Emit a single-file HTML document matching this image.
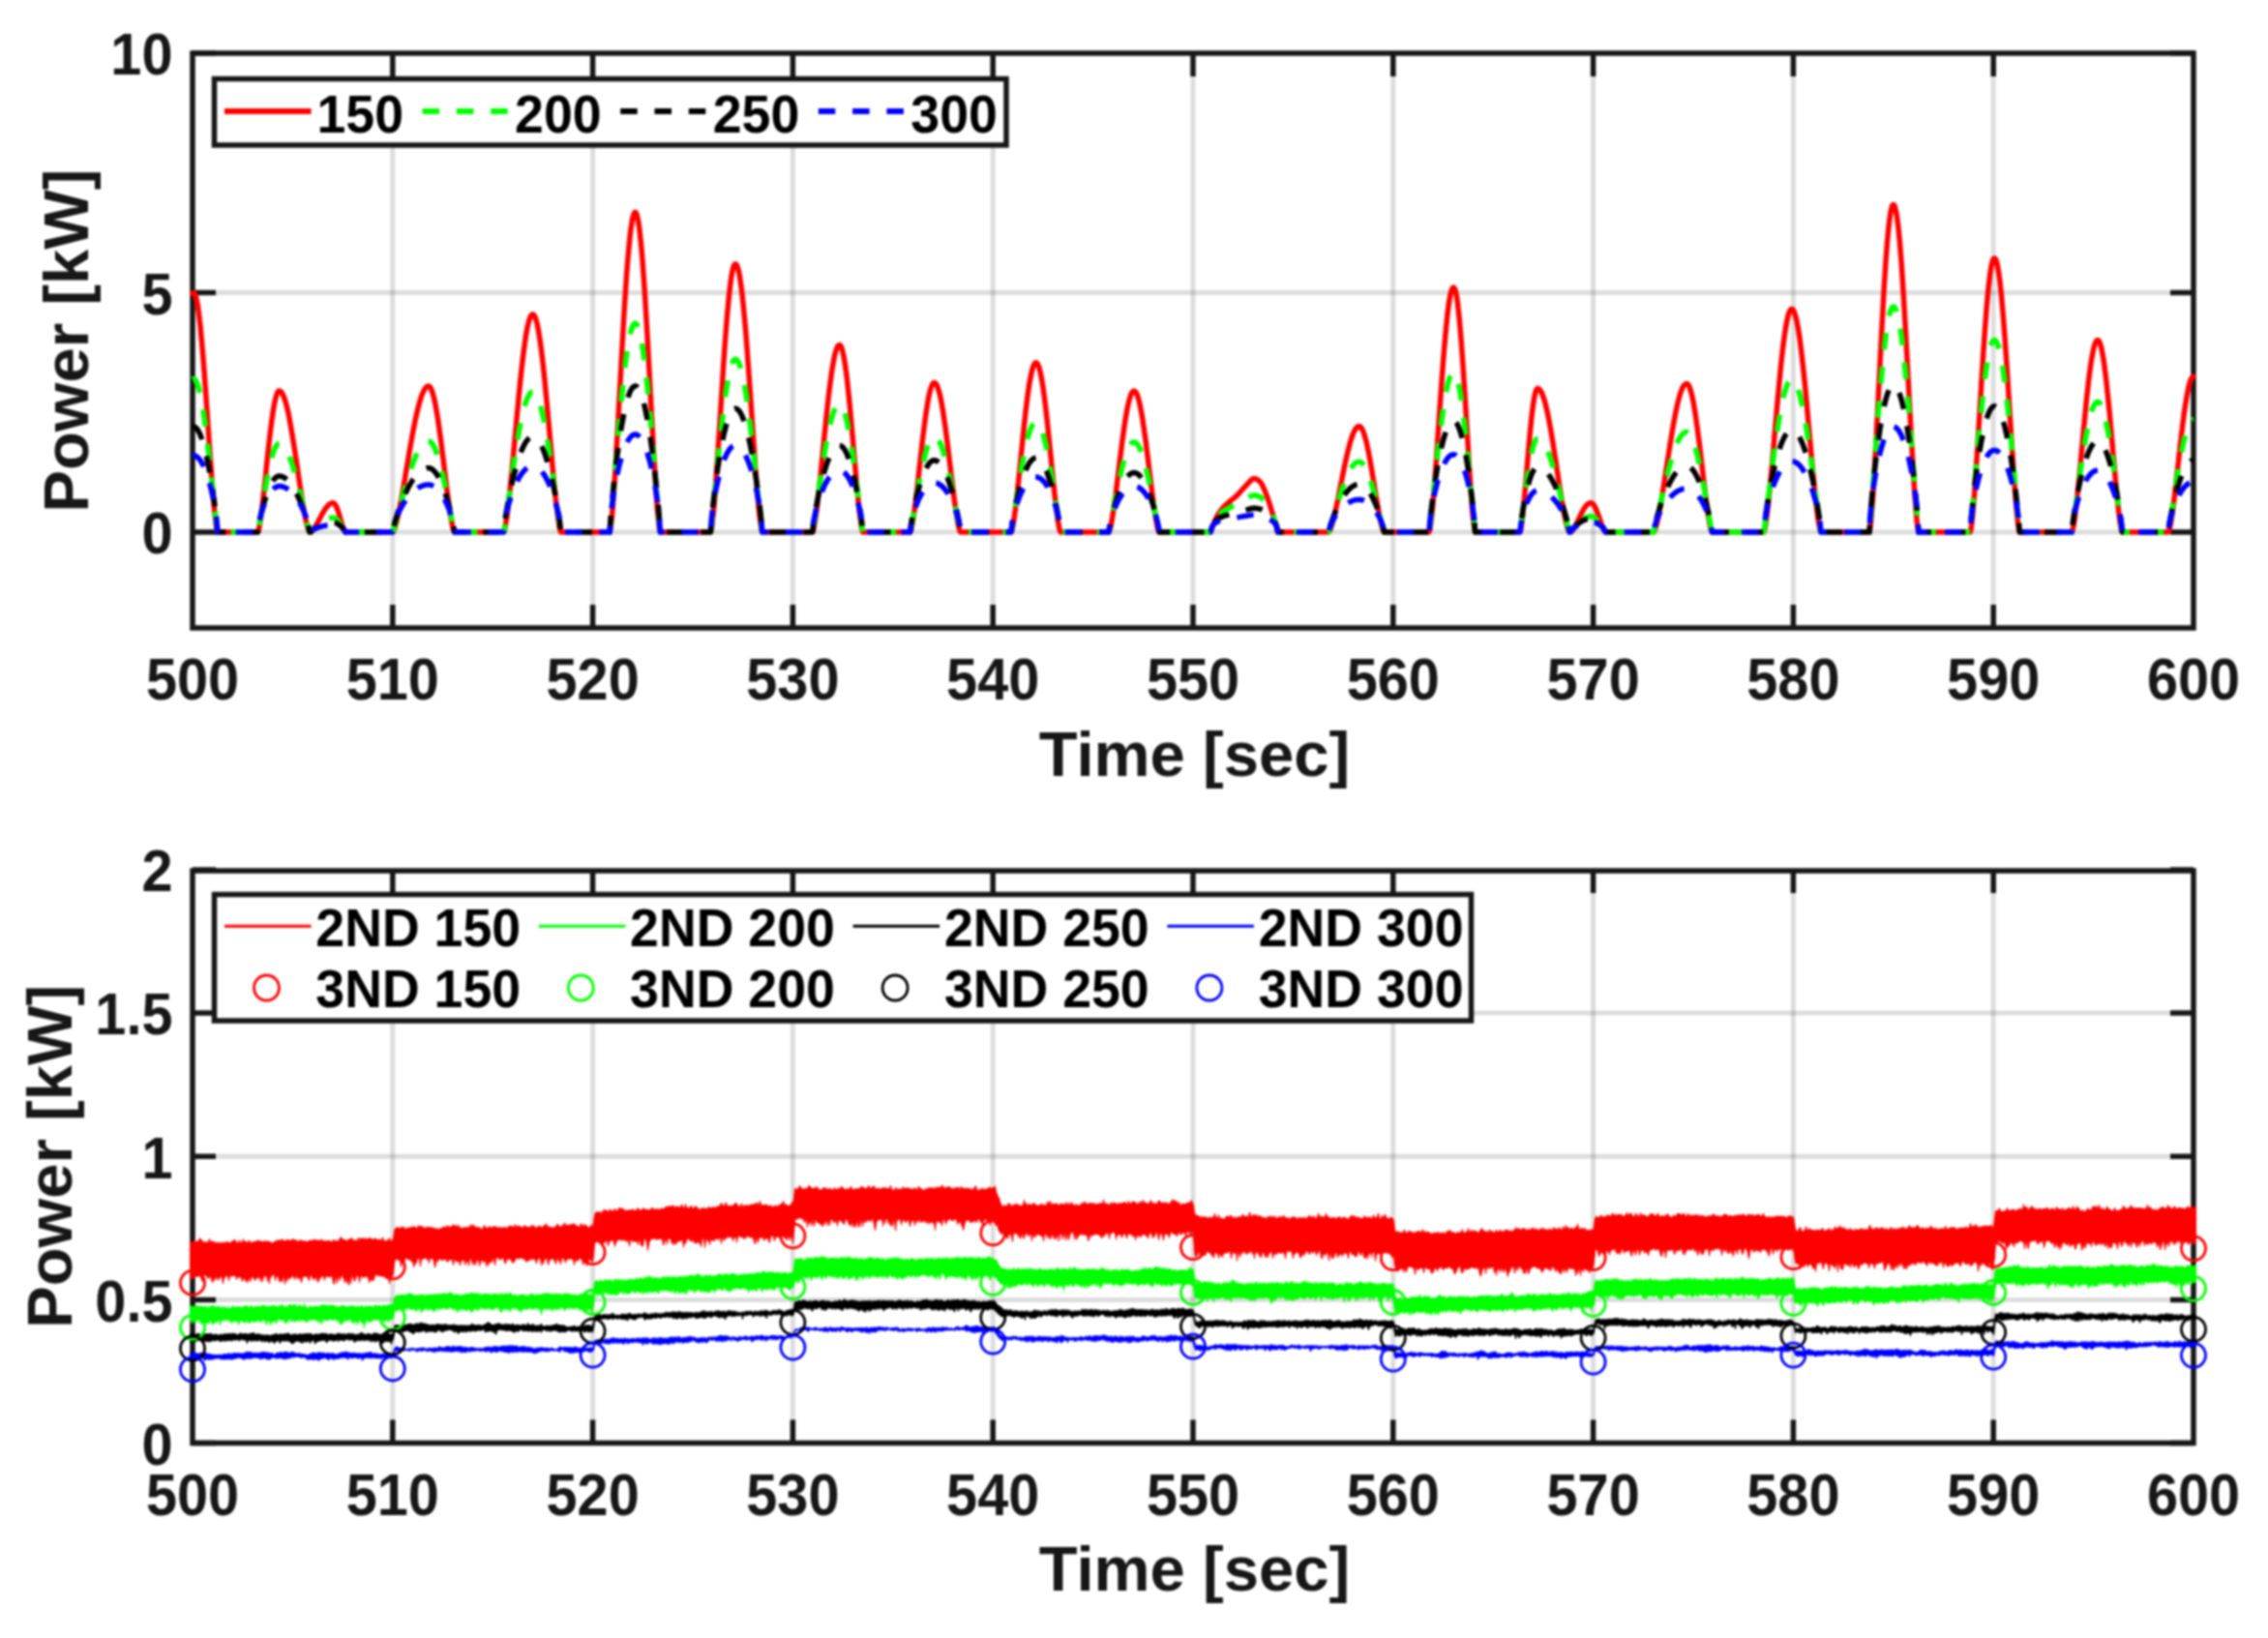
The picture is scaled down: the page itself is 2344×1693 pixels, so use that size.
<!DOCTYPE html>
<html><head><meta charset="utf-8"><style>
html,body{margin:0;padding:0;background:#fff;overflow:hidden;}
svg{display:block;filter:blur(1px);}
</style></head><body>
<svg width="2344" height="1693" viewBox="0 0 2344 1693">
<rect width="2344" height="1693" fill="#fff"/>
<g stroke="#262626" stroke-opacity="0.155" stroke-width="5" fill="none"><path d="M405.8 55.0V649.0"/><path d="M612.6 55.0V649.0"/><path d="M819.4 55.0V649.0"/><path d="M1026.2 55.0V649.0"/><path d="M1233.0 55.0V649.0"/><path d="M1439.8 55.0V649.0"/><path d="M1646.6 55.0V649.0"/><path d="M1853.4 55.0V649.0"/><path d="M2060.2 55.0V649.0"/><path d="M199.0 550.0H2267.0"/><path d="M199.0 302.5H2267.0"/></g>
<g stroke="#262626" stroke-opacity="0.155" stroke-width="5" fill="none"><path d="M405.8 899.0V1491.5"/><path d="M612.6 899.0V1491.5"/><path d="M819.4 899.0V1491.5"/><path d="M1026.2 899.0V1491.5"/><path d="M1233.0 899.0V1491.5"/><path d="M1439.8 899.0V1491.5"/><path d="M1646.6 899.0V1491.5"/><path d="M1853.4 899.0V1491.5"/><path d="M2060.2 899.0V1491.5"/><path d="M199.0 1343.4H2267.0"/><path d="M199.0 1195.2H2267.0"/><path d="M199.0 1047.1H2267.0"/></g>
<path d="M405.8 649.0V625.0M405.8 55.0V79.0M612.6 649.0V625.0M612.6 55.0V79.0M819.4 649.0V625.0M819.4 55.0V79.0M1026.2 649.0V625.0M1026.2 55.0V79.0M1233.0 649.0V625.0M1233.0 55.0V79.0M1439.8 649.0V625.0M1439.8 55.0V79.0M1646.6 649.0V625.0M1646.6 55.0V79.0M1853.4 649.0V625.0M1853.4 55.0V79.0M2060.2 649.0V625.0M2060.2 55.0V79.0M199.0 550.0H223.0M2267.0 550.0H2243.0M199.0 302.5H223.0M2267.0 302.5H2243.0M199.0 55.0H223.0M2267.0 55.0H2243.0" stroke="#171717" stroke-width="5.5" fill="none"/>
<rect x="199.0" y="55.0" width="2068.0" height="594.0" stroke="#171717" stroke-width="5.5" fill="none" stroke-linejoin="miter"/>
<path d="M405.8 1491.5V1467.5M405.8 899.0V923.0M612.6 1491.5V1467.5M612.6 899.0V923.0M819.4 1491.5V1467.5M819.4 899.0V923.0M1026.2 1491.5V1467.5M1026.2 899.0V923.0M1233.0 1491.5V1467.5M1233.0 899.0V923.0M1439.8 1491.5V1467.5M1439.8 899.0V923.0M1646.6 1491.5V1467.5M1646.6 899.0V923.0M1853.4 1491.5V1467.5M1853.4 899.0V923.0M2060.2 1491.5V1467.5M2060.2 899.0V923.0M199.0 1491.5H223.0M2267.0 1491.5H2243.0M199.0 1343.4H223.0M2267.0 1343.4H2243.0M199.0 1195.2H223.0M2267.0 1195.2H2243.0M199.0 1047.1H223.0M2267.0 1047.1H2243.0M199.0 899.0H223.0M2267.0 899.0H2243.0" stroke="#171717" stroke-width="5.5" fill="none"/>
<rect x="199.0" y="900.0" width="2068.0" height="591.5" stroke="#171717" stroke-width="5.5" fill="none" stroke-linejoin="miter"/>
<g fill="none" stroke-width="5.5" stroke-linejoin="round"><path d="M199.0 303.3L199.4 302.8L199.9 302.5L200.3 302.5L200.7 302.9L201.2 303.4L201.6 304.3L202.0 305.4L202.4 306.8L202.9 308.5L203.3 310.4L203.7 312.6L204.2 315.0L204.6 317.7L205.0 320.7L205.5 323.9L205.9 327.3L206.3 331.0L206.8 334.8L207.2 338.9L207.6 343.2L208.0 347.7L208.5 352.4L208.9 357.3L209.3 362.4L209.8 367.6L210.2 372.9L210.6 378.4L211.1 384.0L211.5 389.8L211.9 395.7L212.4 401.6L212.8 407.7L213.2 413.8L213.6 420.0L214.1 426.2L214.5 432.4L214.9 438.7L215.4 445.0L215.8 451.3L216.2 457.5L216.7 463.7L217.1 469.9L217.5 476.0L218.0 482.0L218.4 487.9L218.8 493.7L219.2 499.4L219.7 504.9L220.1 510.2L220.5 515.4L221.0 520.4L221.4 525.1L221.8 529.6L222.3 533.7L222.7 537.6L223.1 541.1L223.6 544.2L224.0 546.8L224.4 548.9L224.8 550.0L266.4 550.0L267.3 547.7L268.2 543.4L269.1 538.0L270.0 531.7L270.9 524.6L271.8 517.0L272.7 508.9L273.6 500.6L274.5 492.1L275.3 483.5L276.2 474.9L277.1 466.4L278.0 458.2L278.9 450.3L279.8 442.8L280.7 435.8L281.6 429.3L282.5 423.5L283.4 418.3L284.3 413.9L285.2 410.2L286.1 407.4L286.9 405.4L287.8 404.2L288.7 404.0L289.6 404.3L290.5 405.0L291.4 406.2L292.3 407.8L293.2 409.8L294.1 412.3L295.0 415.1L295.9 418.3L296.8 421.8L297.7 425.7L298.6 430.0L299.4 434.5L300.3 439.3L301.2 444.4L302.1 449.7L303.0 455.2L303.9 460.9L304.8 466.7L305.7 472.6L306.6 478.7L307.5 484.7L308.4 490.8L309.3 496.8L310.2 502.8L311.1 508.6L311.9 514.3L312.8 519.9L313.7 525.1L314.6 530.1L315.5 534.8L316.4 539.1L317.3 542.9L318.2 546.1L319.1 548.6L320.0 550.0L321.0 550.0L321.6 549.8L322.2 549.3L322.8 548.7L323.4 548.0L324.0 547.3L324.6 546.4L325.2 545.5L325.8 544.5L326.4 543.5L327.0 542.5L327.6 541.4L328.2 540.3L328.8 539.2L329.4 538.0L330.0 536.9L330.6 535.8L331.2 534.6L331.8 533.5L332.4 532.4L333.0 531.3L333.6 530.2L334.2 529.2L334.8 528.2L335.4 527.2L336.0 526.3L336.6 525.4L337.2 524.6L337.8 523.9L338.4 523.2L339.0 522.5L339.6 521.9L340.2 521.4L340.8 521.0L341.4 520.6L342.0 520.3L342.6 520.1L343.2 519.9L343.8 519.8L344.4 519.8L345.0 520.0L345.6 520.5L346.2 521.2L346.8 522.1L347.4 523.2L348.0 524.6L348.6 526.1L349.2 527.7L349.8 529.5L350.4 531.4L351.0 533.4L351.6 535.5L352.2 537.5L352.8 539.6L353.4 541.6L354.0 543.5L354.6 545.3L355.2 546.9L355.8 548.3L356.4 549.4L357.0 550.0L405.8 550.0L406.9 548.6L407.9 545.9L409.0 542.5L410.1 538.5L411.1 534.0L412.2 529.1L413.3 523.8L414.3 518.2L415.4 512.4L416.5 506.4L417.5 500.3L418.6 494.0L419.6 487.7L420.7 481.3L421.8 475.0L422.8 468.7L423.9 462.5L425.0 456.5L426.0 450.6L427.1 444.8L428.2 439.4L429.2 434.1L430.3 429.1L431.4 424.5L432.4 420.2L433.5 416.2L434.6 412.6L435.6 409.4L436.7 406.6L437.8 404.2L438.8 402.3L439.9 400.8L440.9 399.7L442.0 399.2L443.1 399.1L444.1 399.7L445.2 401.2L446.3 403.6L447.3 406.8L448.4 410.8L449.5 415.6L450.5 421.1L451.6 427.2L452.7 434.0L453.7 441.2L454.8 449.0L455.9 457.1L456.9 465.5L458.0 474.1L459.1 482.8L460.1 491.5L461.2 500.2L462.2 508.6L463.3 516.7L464.4 524.4L465.4 531.5L466.5 537.9L467.6 543.4L468.6 547.7L469.7 550.0L520.6 550.0L521.6 547.4L522.5 542.5L523.5 536.3L524.5 529.1L525.5 520.9L526.5 512.1L527.5 502.6L528.5 492.7L529.4 482.4L530.4 471.9L531.4 461.1L532.4 450.3L533.4 439.5L534.4 428.8L535.4 418.3L536.3 408.0L537.3 398.0L538.3 388.4L539.3 379.3L540.3 370.8L541.3 362.8L542.3 355.5L543.2 348.8L544.2 342.9L545.2 337.8L546.2 333.5L547.2 330.0L548.2 327.4L549.2 325.7L550.1 324.9L551.1 324.9L552.1 326.0L553.1 327.9L554.1 330.8L555.1 334.6L556.1 339.3L557.0 344.9L558.0 351.2L559.0 358.3L560.0 366.2L561.0 374.7L562.0 383.7L563.0 393.4L563.9 403.4L564.9 413.8L565.9 424.6L566.9 435.5L567.9 446.6L568.9 457.8L569.9 468.8L570.8 479.7L571.8 490.4L572.8 500.7L573.8 510.5L574.8 519.7L575.8 528.2L576.8 535.8L577.7 542.2L578.7 547.2L579.7 550.0L630.2 550.0L631.0 546.1L631.9 539.0L632.8 529.8L633.7 519.0L634.5 507.0L635.4 493.8L636.3 479.9L637.1 465.2L638.0 450.0L638.9 434.3L639.7 418.5L640.6 402.5L641.5 386.6L642.3 370.8L643.2 355.2L644.1 340.1L644.9 325.4L645.8 311.3L646.7 298.0L647.5 285.4L648.4 273.8L649.3 263.0L650.2 253.4L651.0 244.8L651.9 237.4L652.8 231.2L653.6 226.3L654.5 222.7L655.4 220.4L656.2 219.4L657.1 219.7L658.0 221.5L658.8 224.6L659.7 229.0L660.6 234.8L661.4 241.8L662.3 250.1L663.2 259.5L664.1 270.0L664.9 281.6L665.8 294.1L666.7 307.4L667.5 321.5L668.4 336.3L669.3 351.5L670.1 367.2L671.0 383.3L671.9 399.4L672.7 415.7L673.6 431.8L674.5 447.7L675.3 463.3L676.2 478.2L677.1 492.5L677.9 505.9L678.8 518.3L679.7 529.3L680.6 538.7L681.4 546.0L682.3 550.0L734.4 550.0L735.3 546.5L736.2 540.1L737.1 531.8L738.0 522.1L738.9 511.3L739.7 499.6L740.6 487.1L741.5 474.0L742.4 460.4L743.3 446.6L744.2 432.6L745.1 418.6L746.0 404.6L746.9 390.8L747.7 377.4L748.6 364.4L749.5 351.9L750.4 340.1L751.3 329.0L752.2 318.7L753.1 309.3L754.0 300.8L754.9 293.4L755.7 287.0L756.6 281.8L757.5 277.7L758.4 274.9L759.3 273.2L760.2 272.8L761.1 273.5L762.0 275.3L762.9 278.1L763.8 281.9L764.6 286.7L765.5 292.5L766.4 299.2L767.3 306.8L768.2 315.2L769.1 324.4L770.0 334.4L770.9 345.0L771.8 356.2L772.6 367.9L773.5 380.0L774.4 392.5L775.3 405.2L776.2 418.1L777.1 431.1L778.0 444.1L778.9 457.0L779.8 469.6L780.6 481.9L781.5 493.7L782.4 504.9L783.3 515.5L784.2 525.2L785.1 533.8L786.0 541.1L786.9 546.9L787.8 550.0L839.7 550.0L840.5 547.9L841.4 544.1L842.3 539.2L843.1 533.4L844.0 527.0L844.9 519.9L845.7 512.4L846.6 504.5L847.5 496.2L848.4 487.7L849.2 479.1L850.1 470.3L851.0 461.5L851.8 452.8L852.7 444.1L853.6 435.5L854.4 427.2L855.3 419.1L856.2 411.3L857.0 403.9L857.9 396.9L858.8 390.3L859.6 384.2L860.5 378.7L861.4 373.7L862.2 369.3L863.1 365.5L864.0 362.4L864.9 359.9L865.7 358.0L866.6 356.9L867.5 356.5L868.3 356.8L869.2 358.0L870.1 360.2L870.9 363.3L871.8 367.2L872.7 371.9L873.5 377.5L874.4 383.8L875.3 390.8L876.1 398.5L877.0 406.7L877.9 415.5L878.8 424.7L879.6 434.2L880.5 444.1L881.4 454.1L882.2 464.2L883.1 474.4L884.0 484.4L884.8 494.3L885.7 503.8L886.6 513.0L887.4 521.6L888.3 529.5L889.2 536.6L890.0 542.7L890.9 547.4L891.8 550.0L940.6 550.0L941.5 548.0L942.3 544.5L943.2 539.9L944.1 534.5L944.9 528.4L945.8 521.9L946.7 514.9L947.5 507.6L948.4 500.0L949.3 492.3L950.1 484.5L951.0 476.7L951.9 468.9L952.7 461.2L953.6 453.7L954.5 446.5L955.4 439.5L956.2 432.9L957.1 426.8L958.0 421.0L958.8 415.8L959.7 411.1L960.6 406.9L961.4 403.4L962.3 400.5L963.2 398.3L964.0 396.7L964.9 395.8L965.8 395.6L966.6 396.0L967.5 397.0L968.4 398.5L969.2 400.7L970.1 403.4L971.0 406.6L971.9 410.3L972.7 414.6L973.6 419.3L974.5 424.4L975.3 430.0L976.2 435.9L977.1 442.1L977.9 448.6L978.8 455.4L979.7 462.3L980.5 469.4L981.4 476.6L982.3 483.8L983.1 491.1L984.0 498.2L984.9 505.2L985.7 512.1L986.6 518.7L987.5 524.9L988.4 530.8L989.2 536.2L990.1 541.0L991.0 545.1L991.8 548.3L992.7 550.0L1045.0 550.0L1045.9 547.9L1046.7 544.1L1047.6 539.2L1048.4 533.5L1049.3 527.1L1050.1 520.1L1051.0 512.6L1051.8 504.8L1052.7 496.7L1053.5 488.4L1054.4 480.0L1055.2 471.4L1056.1 463.0L1056.9 454.6L1057.8 446.3L1058.6 438.2L1059.5 430.5L1060.3 423.0L1061.2 415.9L1062.0 409.3L1062.9 403.1L1063.7 397.5L1064.6 392.4L1065.5 387.9L1066.3 384.0L1067.2 380.8L1068.0 378.2L1068.9 376.4L1069.7 375.2L1070.6 374.8L1071.4 375.1L1072.3 376.0L1073.1 377.8L1074.0 380.2L1074.8 383.3L1075.7 387.1L1076.5 391.5L1077.4 396.5L1078.2 402.1L1079.1 408.3L1079.9 414.9L1080.8 422.0L1081.6 429.4L1082.5 437.2L1083.3 445.3L1084.2 453.6L1085.0 462.1L1085.9 470.6L1086.7 479.2L1087.6 487.7L1088.4 496.1L1089.3 504.3L1090.1 512.2L1091.0 519.7L1091.8 526.8L1092.7 533.3L1093.5 539.1L1094.4 544.0L1095.2 547.9L1096.1 550.0L1145.9 550.0L1146.8 548.3L1147.7 545.1L1148.5 541.0L1149.4 536.2L1150.3 530.8L1151.1 524.9L1152.0 518.7L1152.9 512.1L1153.8 505.3L1154.6 498.4L1155.5 491.3L1156.4 484.2L1157.2 477.1L1158.1 470.1L1159.0 463.2L1159.8 456.5L1160.7 450.0L1161.6 443.7L1162.4 437.8L1163.3 432.3L1164.2 427.2L1165.0 422.5L1165.9 418.3L1166.8 414.6L1167.7 411.4L1168.5 408.7L1169.4 406.7L1170.3 405.2L1171.1 404.3L1172.0 404.0L1172.9 404.3L1173.7 405.2L1174.6 406.7L1175.5 408.7L1176.3 411.4L1177.2 414.6L1178.1 418.3L1178.9 422.5L1179.8 427.2L1180.7 432.3L1181.5 437.8L1182.4 443.7L1183.3 450.0L1184.2 456.5L1185.0 463.2L1185.9 470.1L1186.8 477.1L1187.6 484.2L1188.5 491.3L1189.4 498.4L1190.2 505.3L1191.1 512.1L1192.0 518.7L1192.8 524.9L1193.7 530.8L1194.6 536.2L1195.4 541.0L1196.3 545.1L1197.2 548.3L1198.1 550.0L1251.2 550.0L1252.4 546.7L1253.5 543.5L1254.7 540.6L1255.8 537.9L1257.0 535.5L1258.1 533.2L1259.3 531.1L1260.5 529.3L1261.6 527.7L1262.8 526.2L1263.9 524.8L1265.1 523.6L1266.3 522.4L1267.4 521.4L1268.6 520.4L1269.7 519.4L1270.9 518.4L1272.0 517.4L1273.2 516.5L1274.4 515.5L1275.5 514.6L1276.7 513.6L1277.8 512.6L1279.0 511.5L1280.2 510.3L1281.3 509.0L1282.5 507.7L1283.6 506.3L1284.8 505.0L1285.9 503.8L1287.1 502.6L1288.3 501.4L1289.4 500.1L1290.6 498.8L1291.7 497.5L1292.9 496.4L1294.0 495.4L1295.2 494.8L1296.4 494.6L1297.5 494.7L1298.7 495.2L1299.8 495.9L1301.0 496.9L1302.2 497.9L1303.3 499.3L1304.5 501.2L1305.6 503.7L1306.8 506.3L1307.9 509.1L1309.1 512.0L1310.3 515.2L1311.4 518.7L1312.6 522.4L1313.7 526.1L1314.9 529.9L1316.1 533.7L1317.2 537.6L1318.4 541.6L1319.5 545.8L1320.7 550.0L1373.2 550.0L1374.2 548.9L1375.1 546.8L1376.1 544.1L1377.0 541.0L1378.0 537.4L1378.9 533.6L1379.9 529.5L1380.8 525.1L1381.8 520.6L1382.8 516.0L1383.7 511.2L1384.7 506.4L1385.6 501.5L1386.6 496.7L1387.5 491.9L1388.5 487.1L1389.4 482.5L1390.4 477.9L1391.4 473.6L1392.3 469.4L1393.3 465.4L1394.2 461.6L1395.2 458.2L1396.1 454.9L1397.1 452.0L1398.0 449.4L1399.0 447.1L1399.9 445.1L1400.9 443.5L1401.9 442.2L1402.8 441.3L1403.8 440.8L1404.7 440.6L1405.7 440.9L1406.6 441.8L1407.6 443.2L1408.5 445.1L1409.5 447.6L1410.4 450.5L1411.4 454.0L1412.4 457.8L1413.3 462.1L1414.3 466.7L1415.2 471.6L1416.2 476.9L1417.1 482.4L1418.1 488.0L1419.0 493.8L1420.0 499.7L1420.9 505.6L1421.9 511.5L1422.9 517.2L1423.8 522.8L1424.8 528.2L1425.7 533.3L1426.7 537.9L1427.6 542.1L1428.6 545.7L1429.5 548.5L1430.5 550.0L1477.0 550.0L1477.8 547.2L1478.6 542.2L1479.4 535.7L1480.2 528.0L1481.0 519.5L1481.8 510.1L1482.6 500.2L1483.4 489.6L1484.2 478.7L1485.0 467.5L1485.7 456.1L1486.5 444.5L1487.3 432.9L1488.1 421.3L1488.9 409.9L1489.7 398.6L1490.5 387.7L1491.3 377.1L1492.1 366.9L1492.9 357.2L1493.7 348.1L1494.5 339.5L1495.3 331.6L1496.0 324.5L1496.8 318.1L1497.6 312.5L1498.4 307.7L1499.2 303.8L1500.0 300.7L1500.8 298.6L1501.6 297.4L1502.4 297.1L1503.2 297.9L1504.0 299.8L1504.8 303.0L1505.6 307.2L1506.4 312.6L1507.1 319.0L1507.9 326.4L1508.7 334.8L1509.5 344.0L1510.3 354.1L1511.1 364.9L1511.9 376.3L1512.7 388.3L1513.5 400.7L1514.3 413.5L1515.1 426.4L1515.9 439.5L1516.7 452.7L1517.5 465.6L1518.2 478.3L1519.0 490.7L1519.8 502.4L1520.6 513.5L1521.4 523.7L1522.2 532.8L1523.0 540.6L1523.8 546.7L1524.6 550.0L1570.9 550.0L1571.8 547.0L1572.6 541.7L1573.5 534.8L1574.3 526.8L1575.2 518.0L1576.0 508.6L1576.9 498.7L1577.7 488.7L1578.6 478.5L1579.4 468.5L1580.3 458.7L1581.1 449.3L1582.0 440.4L1582.8 432.3L1583.7 424.8L1584.5 418.3L1585.4 412.8L1586.2 408.3L1587.1 404.9L1587.9 402.6L1588.8 401.6L1589.6 401.6L1590.5 402.0L1591.3 402.8L1592.2 403.9L1593.0 405.4L1593.9 407.3L1594.7 409.5L1595.6 412.0L1596.5 414.9L1597.3 418.0L1598.2 421.5L1599.0 425.2L1599.9 429.3L1600.7 433.5L1601.6 438.1L1602.4 442.8L1603.3 447.7L1604.1 452.8L1605.0 458.0L1605.8 463.4L1606.7 468.9L1607.5 474.4L1608.4 480.0L1609.2 485.6L1610.1 491.2L1610.9 496.8L1611.8 502.3L1612.6 507.8L1613.5 513.0L1614.3 518.2L1615.2 523.2L1616.0 527.9L1616.9 532.4L1617.7 536.5L1618.6 540.3L1619.4 543.7L1620.3 546.6L1621.1 548.8L1622.0 550.0L1623.2 550.0L1623.8 549.7L1624.4 549.2L1625.0 548.5L1625.6 547.7L1626.2 546.8L1626.9 545.8L1627.5 544.7L1628.1 543.6L1628.7 542.4L1629.3 541.2L1629.9 540.0L1630.5 538.7L1631.1 537.5L1631.7 536.2L1632.3 534.9L1632.9 533.7L1633.5 532.4L1634.1 531.2L1634.7 530.0L1635.3 528.9L1635.9 527.8L1636.5 526.7L1637.1 525.7L1637.7 524.8L1638.3 524.0L1638.9 523.2L1639.5 522.4L1640.1 521.8L1640.7 521.3L1641.3 520.8L1641.9 520.4L1642.5 520.1L1643.1 519.9L1643.7 519.8L1644.3 519.8L1644.9 520.0L1645.5 520.3L1646.2 520.8L1646.8 521.4L1647.4 522.3L1648.0 523.2L1648.6 524.3L1649.2 525.6L1649.8 526.9L1650.4 528.4L1651.0 529.9L1651.6 531.5L1652.2 533.2L1652.8 534.9L1653.4 536.6L1654.0 538.4L1654.6 540.1L1655.2 541.8L1655.8 543.4L1656.4 544.9L1657.0 546.3L1657.6 547.6L1658.2 548.7L1658.8 549.5L1659.4 550.0L1709.1 550.0L1710.1 548.5L1711.1 545.7L1712.1 542.1L1713.1 537.9L1714.1 533.1L1715.1 527.9L1716.1 522.4L1717.1 516.6L1718.1 510.5L1719.1 504.2L1720.1 497.7L1721.1 491.2L1722.1 484.6L1723.1 478.0L1724.2 471.4L1725.2 464.9L1726.2 458.5L1727.2 452.2L1728.2 446.1L1729.2 440.3L1730.2 434.7L1731.2 429.4L1732.2 424.4L1733.2 419.7L1734.2 415.4L1735.2 411.6L1736.2 408.1L1737.2 405.0L1738.2 402.4L1739.2 400.3L1740.3 398.6L1741.3 397.4L1742.3 396.8L1743.3 396.6L1744.3 397.0L1745.3 398.4L1746.3 400.5L1747.3 403.5L1748.3 407.2L1749.3 411.6L1750.3 416.8L1751.3 422.5L1752.3 428.9L1753.3 435.9L1754.3 443.2L1755.3 451.0L1756.4 459.1L1757.4 467.5L1758.4 476.0L1759.4 484.6L1760.4 493.2L1761.4 501.6L1762.4 509.9L1763.4 517.8L1764.4 525.2L1765.4 532.1L1766.4 538.3L1767.4 543.6L1768.4 547.7L1769.4 550.0L1822.8 550.0L1823.8 547.1L1824.8 542.0L1825.8 535.3L1826.7 527.4L1827.7 518.7L1828.7 509.1L1829.7 499.0L1830.7 488.4L1831.7 477.3L1832.7 466.1L1833.6 454.6L1834.6 443.2L1835.6 431.7L1836.6 420.5L1837.6 409.4L1838.6 398.7L1839.6 388.3L1840.5 378.5L1841.5 369.2L1842.5 360.5L1843.5 352.6L1844.5 345.3L1845.5 338.9L1846.5 333.4L1847.4 328.7L1848.4 324.9L1849.4 322.1L1850.4 320.3L1851.4 319.4L1852.4 319.5L1853.4 320.5L1854.3 322.5L1855.3 325.3L1856.3 329.0L1857.3 333.5L1858.3 338.8L1859.3 345.0L1860.3 351.8L1861.2 359.4L1862.2 367.6L1863.2 376.4L1864.2 385.7L1865.2 395.5L1866.2 405.7L1867.2 416.2L1868.1 426.9L1869.1 437.8L1870.1 448.8L1871.1 459.8L1872.1 470.7L1873.1 481.4L1874.1 491.9L1875.0 502.0L1876.0 511.6L1877.0 520.5L1878.0 528.8L1879.0 536.2L1880.0 542.4L1881.0 547.3L1881.9 550.0L1932.0 550.0L1932.8 545.8L1933.7 538.1L1934.5 528.3L1935.4 516.7L1936.2 503.8L1937.1 489.7L1937.9 474.8L1938.8 459.1L1939.6 442.8L1940.5 426.2L1941.3 409.4L1942.2 392.5L1943.0 375.6L1943.9 359.0L1944.7 342.8L1945.6 327.0L1946.4 311.8L1947.2 297.4L1948.1 283.8L1948.9 271.1L1949.8 259.4L1950.6 248.8L1951.5 239.5L1952.3 231.4L1953.2 224.6L1954.0 219.2L1954.9 215.2L1955.7 212.6L1956.6 211.5L1957.4 211.8L1958.3 213.4L1959.1 216.4L1960.0 220.6L1960.8 226.1L1961.7 232.8L1962.5 240.7L1963.4 249.8L1964.2 259.9L1965.1 271.1L1965.9 283.1L1966.7 296.0L1967.6 309.7L1968.4 324.1L1969.3 339.0L1970.1 354.4L1971.0 370.1L1971.8 386.0L1972.7 402.1L1973.5 418.2L1974.4 434.2L1975.2 449.8L1976.1 465.1L1976.9 479.8L1977.8 493.8L1978.6 507.0L1979.5 519.0L1980.3 529.8L1981.2 539.0L1982.0 546.1L1982.9 550.0L2036.2 550.0L2037.1 546.5L2037.9 540.1L2038.8 531.9L2039.6 522.3L2040.5 511.6L2041.3 499.9L2042.2 487.4L2043.0 474.4L2043.9 460.9L2044.7 447.1L2045.6 433.1L2046.4 419.0L2047.3 405.0L2048.1 391.1L2049.0 377.6L2049.8 364.4L2050.7 351.7L2051.5 339.6L2052.4 328.2L2053.2 317.6L2054.1 307.8L2054.9 298.9L2055.8 291.1L2056.6 284.2L2057.5 278.4L2058.3 273.8L2059.2 270.3L2060.0 268.0L2060.9 267.0L2061.8 267.1L2062.6 268.3L2063.5 270.6L2064.3 274.1L2065.2 278.6L2066.0 284.1L2066.9 290.7L2067.7 298.2L2068.6 306.6L2069.4 315.9L2070.3 326.0L2071.1 336.8L2072.0 348.2L2072.8 360.2L2073.7 372.7L2074.5 385.6L2075.4 398.8L2076.2 412.2L2077.1 425.7L2077.9 439.2L2078.8 452.6L2079.6 465.8L2080.5 478.6L2081.3 491.0L2082.2 502.8L2083.0 513.8L2083.9 523.9L2084.7 533.0L2085.6 540.7L2086.4 546.7L2087.3 550.0L2141.3 550.0L2142.1 547.7L2143.0 543.5L2143.9 538.1L2144.7 531.8L2145.6 524.8L2146.5 517.0L2147.3 508.8L2148.2 500.2L2149.1 491.2L2150.0 482.0L2150.8 472.7L2151.7 463.2L2152.6 453.8L2153.4 444.4L2154.3 435.2L2155.2 426.2L2156.0 417.5L2156.9 409.0L2157.8 401.0L2158.6 393.5L2159.5 386.4L2160.4 379.9L2161.2 373.9L2162.1 368.6L2163.0 364.0L2163.8 360.1L2164.7 356.8L2165.6 354.4L2166.5 352.6L2167.3 351.7L2168.2 351.5L2169.1 352.2L2169.9 353.7L2170.8 356.1L2171.7 359.3L2172.5 363.3L2173.4 368.0L2174.3 373.5L2175.1 379.7L2176.0 386.6L2176.9 394.0L2177.7 402.0L2178.6 410.5L2179.5 419.4L2180.4 428.6L2181.2 438.1L2182.1 447.9L2183.0 457.7L2183.8 467.6L2184.7 477.5L2185.6 487.2L2186.4 496.7L2187.3 505.9L2188.2 514.7L2189.0 522.9L2189.9 530.5L2190.8 537.3L2191.6 543.0L2192.5 547.5L2193.4 550.0L2240.9 550.0L2241.4 549.3L2241.8 548.1L2242.2 546.5L2242.7 544.6L2243.1 542.4L2243.5 540.0L2244.0 537.5L2244.4 534.7L2244.9 531.9L2245.3 528.8L2245.7 525.6L2246.2 522.4L2246.6 519.0L2247.0 515.5L2247.5 511.9L2247.9 508.3L2248.3 504.6L2248.8 500.8L2249.2 497.0L2249.6 493.1L2250.1 489.2L2250.5 485.3L2250.9 481.4L2251.4 477.5L2251.8 473.6L2252.2 469.7L2252.7 465.8L2253.1 461.9L2253.5 458.1L2254.0 454.3L2254.4 450.6L2254.8 446.9L2255.3 443.3L2255.7 439.8L2256.1 436.3L2256.6 432.9L2257.0 429.6L2257.4 426.4L2257.9 423.3L2258.3 420.3L2258.7 417.5L2259.2 414.7L2259.6 412.1L2260.1 409.5L2260.5 407.1L2260.9 404.9L2261.4 402.8L2261.8 400.8L2262.2 399.0L2262.7 397.3L2263.1 395.7L2263.5 394.4L2264.0 393.1L2264.4 392.1L2264.8 391.2L2265.3 390.4L2265.7 389.9L2266.1 389.5L2266.6 389.2L2267.0 389.1" stroke="#ff0000" stroke-linecap="round"/><path d="M199.0 392.0L199.4 391.7L199.9 391.6L200.3 391.6L200.7 391.8L201.2 392.0L201.6 392.4L202.0 393.0L202.4 393.6L202.9 394.4L203.3 395.3L203.7 396.4L204.2 397.5L204.6 398.8L205.0 400.2L205.5 401.8L205.9 403.4L206.3 405.2L206.8 407.1L207.2 409.1L207.6 411.2L208.0 413.4L208.5 415.7L208.9 418.2L209.3 420.7L209.8 423.3L210.2 426.1L210.6 428.9L211.1 431.8L211.5 434.9L211.9 438.0L212.4 441.2L212.8 444.4L213.2 447.8L213.6 451.2L214.1 454.7L214.5 458.2L214.9 461.9L215.4 465.5L215.8 469.3L216.2 473.0L216.7 476.9L217.1 480.7L217.5 484.6L218.0 488.6L218.4 492.5L218.8 496.5L219.2 500.5L219.7 504.5L220.1 508.6L220.5 512.6L221.0 516.6L221.4 520.6L221.8 524.6L222.3 528.5L222.7 532.4L223.1 536.2L223.6 539.9L224.0 543.5L224.4 547.0L224.8 550.0L266.4 550.0L267.3 545.6L268.2 540.6L269.1 535.4L270.0 530.0L270.9 524.6L271.8 519.2L272.7 513.9L273.6 508.6L274.5 503.5L275.3 498.5L276.2 493.8L277.1 489.2L278.0 484.9L278.9 480.8L279.8 477.0L280.7 473.5L281.6 470.4L282.5 467.6L283.4 465.1L284.3 463.0L285.2 461.3L286.1 460.0L286.9 459.1L287.8 458.6L288.7 458.4L289.6 458.6L290.5 458.9L291.4 459.5L292.3 460.2L293.2 461.1L294.1 462.3L295.0 463.6L295.9 465.1L296.8 466.8L297.7 468.6L298.6 470.7L299.4 472.9L300.3 475.3L301.2 477.8L302.1 480.5L303.0 483.3L303.9 486.3L304.8 489.3L305.7 492.5L306.6 495.8L307.5 499.3L308.4 502.7L309.3 506.3L310.2 510.0L311.1 513.7L311.9 517.4L312.8 521.2L313.7 525.0L314.6 528.8L315.5 532.6L316.4 536.3L317.3 540.0L318.2 543.6L319.1 547.0L320.0 550.0L321.0 550.0L321.6 549.6L322.2 549.1L322.8 548.5L323.4 548.0L324.0 547.4L324.6 546.9L325.2 546.3L325.8 545.8L326.4 545.2L327.0 544.6L327.6 544.1L328.2 543.5L328.8 543.0L329.4 542.5L330.0 542.0L330.6 541.4L331.2 540.9L331.8 540.5L332.4 540.0L333.0 539.5L333.6 539.1L334.2 538.7L334.8 538.3L335.4 537.9L336.0 537.6L336.6 537.2L337.2 536.9L337.8 536.6L338.4 536.4L339.0 536.1L339.6 535.9L340.2 535.7L340.8 535.6L341.4 535.4L342.0 535.3L342.6 535.2L343.2 535.2L343.8 535.2L344.4 535.2L345.0 535.2L345.6 535.4L346.2 535.7L346.8 536.0L347.4 536.4L348.0 536.9L348.6 537.5L349.2 538.1L349.8 538.8L350.4 539.6L351.0 540.4L351.6 541.3L352.2 542.2L352.8 543.2L353.4 544.2L354.0 545.2L354.6 546.2L355.2 547.2L355.8 548.2L356.4 549.2L357.0 550.0L405.8 550.0L406.9 546.9L407.9 543.3L409.0 539.6L410.1 535.8L411.1 531.9L412.2 527.9L413.3 524.0L414.3 520.0L415.4 516.1L416.5 512.2L417.5 508.3L418.6 504.6L419.6 500.9L420.7 497.2L421.8 493.7L422.8 490.3L423.9 487.0L425.0 483.8L426.0 480.8L427.1 477.9L428.2 475.1L429.2 472.5L430.3 470.1L431.4 467.9L432.4 465.8L433.5 463.9L434.6 462.2L435.6 460.7L436.7 459.4L437.8 458.3L438.8 457.4L439.9 456.8L440.9 456.3L442.0 456.0L443.1 456.0L444.1 456.3L445.2 457.0L446.3 458.0L447.3 459.5L448.4 461.4L449.5 463.6L450.5 466.2L451.6 469.2L452.7 472.5L453.7 476.1L454.8 479.9L455.9 484.1L456.9 488.5L458.0 493.2L459.1 498.1L460.1 503.1L461.2 508.3L462.2 513.6L463.3 519.0L464.4 524.4L465.4 529.9L466.5 535.2L467.6 540.5L468.6 545.6L469.7 550.0L520.6 550.0L521.6 544.4L522.5 538.1L523.5 531.4L524.5 524.6L525.5 517.7L526.5 510.7L527.5 503.8L528.5 496.9L529.4 490.0L530.4 483.3L531.4 476.7L532.4 470.2L533.4 464.0L534.4 457.9L535.4 452.1L536.3 446.6L537.3 441.3L538.3 436.3L539.3 431.7L540.3 427.3L541.3 423.4L542.3 419.7L543.2 416.5L544.2 413.6L545.2 411.2L546.2 409.1L547.2 407.4L548.2 406.2L549.2 405.4L550.1 405.0L551.1 405.0L552.1 405.5L553.1 406.5L554.1 407.8L555.1 409.7L556.1 411.9L557.0 414.6L558.0 417.7L559.0 421.2L560.0 425.0L561.0 429.3L562.0 433.9L563.0 438.9L563.9 444.1L564.9 449.7L565.9 455.6L566.9 461.7L567.9 468.1L568.9 474.6L569.9 481.4L570.8 488.3L571.8 495.3L572.8 502.4L573.8 509.5L574.8 516.7L575.8 523.8L576.8 530.9L577.7 537.7L578.7 544.3L579.7 550.0L630.2 550.0L631.0 541.7L631.9 532.2L632.8 522.2L633.7 512.0L634.5 501.6L635.4 491.2L636.3 480.8L637.1 470.4L638.0 460.2L638.9 450.1L639.7 440.2L640.6 430.6L641.5 421.3L642.3 412.3L643.2 403.6L644.1 395.3L644.9 387.5L645.8 380.1L646.7 373.2L647.5 366.7L648.4 360.8L649.3 355.5L650.2 350.7L651.0 346.5L651.9 342.9L652.8 339.9L653.6 337.5L654.5 335.8L655.4 334.7L656.2 334.2L657.1 334.4L658.0 335.2L658.8 336.7L659.7 338.8L660.6 341.6L661.4 345.0L662.3 349.1L663.2 353.7L664.1 359.0L664.9 364.8L665.8 371.1L666.7 378.0L667.5 385.4L668.4 393.3L669.3 401.6L670.1 410.3L671.0 419.4L671.9 428.8L672.7 438.5L673.6 448.5L674.5 458.7L675.3 469.1L676.2 479.6L677.1 490.2L677.9 500.8L678.8 511.3L679.7 521.7L680.6 531.8L681.4 541.5L682.3 550.0L734.4 550.0L735.3 542.7L736.2 534.4L737.1 525.8L738.0 516.9L738.9 507.8L739.7 498.8L740.6 489.8L741.5 480.8L742.4 472.0L743.3 463.3L744.2 454.8L745.1 446.6L746.0 438.7L746.9 431.0L747.7 423.8L748.6 416.9L749.5 410.3L750.4 404.3L751.3 398.7L752.2 393.5L753.1 388.9L754.0 384.7L754.9 381.1L755.7 378.1L756.6 375.6L757.5 373.6L758.4 372.3L759.3 371.5L760.2 371.3L761.1 371.6L762.0 372.5L762.9 373.8L763.8 375.6L764.6 377.9L765.5 380.7L766.4 383.9L767.3 387.6L768.2 391.8L769.1 396.4L770.0 401.4L770.9 406.8L771.8 412.5L772.6 418.7L773.5 425.1L774.4 431.9L775.3 439.0L776.2 446.4L777.1 454.0L778.0 461.8L778.9 469.8L779.8 477.9L780.6 486.1L781.5 494.5L782.4 502.8L783.3 511.2L784.2 519.5L785.1 527.7L786.0 535.7L786.9 543.3L787.8 550.0L839.7 550.0L840.5 545.2L841.4 539.8L842.3 534.1L843.1 528.2L844.0 522.3L844.9 516.3L845.7 510.3L846.6 504.3L847.5 498.3L848.4 492.5L849.2 486.7L850.1 481.1L851.0 475.6L851.8 470.2L852.7 465.0L853.6 460.1L854.4 455.3L855.3 450.8L856.2 446.5L857.0 442.5L857.9 438.7L858.8 435.2L859.6 432.0L860.5 429.1L861.4 426.6L862.2 424.3L863.1 422.4L864.0 420.8L864.9 419.5L865.7 418.6L866.6 418.1L867.5 417.8L868.3 418.0L869.2 418.6L870.1 419.7L870.9 421.3L871.8 423.2L872.7 425.7L873.5 428.5L874.4 431.8L875.3 435.5L876.1 439.5L877.0 444.0L877.9 448.8L878.8 453.9L879.6 459.3L880.5 465.0L881.4 471.0L882.2 477.2L883.1 483.7L884.0 490.2L884.8 497.0L885.7 503.8L886.6 510.7L887.4 517.6L888.3 524.6L889.2 531.4L890.0 538.0L890.9 544.4L891.8 550.0L940.6 550.0L941.5 546.0L942.3 541.4L943.2 536.6L944.1 531.7L944.9 526.7L945.8 521.7L946.7 516.8L947.5 511.8L948.4 506.9L949.3 502.2L950.1 497.5L951.0 493.0L951.9 488.6L952.7 484.4L953.6 480.4L954.5 476.5L955.4 473.0L956.2 469.6L957.1 466.5L958.0 463.7L958.8 461.1L959.7 458.9L960.6 456.9L961.4 455.2L962.3 453.8L963.2 452.8L964.0 452.0L964.9 451.6L965.8 451.5L966.6 451.7L967.5 452.2L968.4 452.9L969.2 453.9L970.1 455.2L971.0 456.7L971.9 458.5L972.7 460.5L973.6 462.8L974.5 465.4L975.3 468.1L976.2 471.1L977.1 474.3L977.9 477.7L978.8 481.2L979.7 485.0L980.5 488.9L981.4 492.9L982.3 497.1L983.1 501.4L984.0 505.8L984.9 510.3L985.7 514.8L986.6 519.4L987.5 524.0L988.4 528.6L989.2 533.2L990.1 537.7L991.0 542.1L991.8 546.3L992.7 550.0L1045.0 550.0L1045.9 545.6L1046.7 540.6L1047.6 535.3L1048.4 529.9L1049.3 524.4L1050.1 518.9L1051.0 513.3L1051.8 507.9L1052.7 502.4L1053.5 497.1L1054.4 491.9L1055.2 486.8L1056.1 481.8L1056.9 477.1L1057.8 472.5L1058.6 468.1L1059.5 464.0L1060.3 460.1L1061.2 456.4L1062.0 453.1L1062.9 450.0L1063.7 447.2L1064.6 444.7L1065.5 442.5L1066.3 440.6L1067.2 439.0L1068.0 437.8L1068.9 436.9L1069.7 436.4L1070.6 436.2L1071.4 436.3L1072.3 436.8L1073.1 437.6L1074.0 438.7L1074.8 440.2L1075.7 442.1L1076.5 444.2L1077.4 446.7L1078.2 449.5L1079.1 452.6L1079.9 455.9L1080.8 459.5L1081.6 463.5L1082.5 467.6L1083.3 472.0L1084.2 476.6L1085.0 481.3L1085.9 486.3L1086.7 491.4L1087.6 496.7L1088.4 502.0L1089.3 507.5L1090.1 513.0L1091.0 518.6L1091.8 524.2L1092.7 529.7L1093.5 535.1L1094.4 540.5L1095.2 545.5L1096.1 550.0L1145.9 550.0L1146.8 546.4L1147.7 542.2L1148.5 537.9L1149.4 533.5L1150.3 529.0L1151.1 524.4L1152.0 519.9L1152.9 515.4L1153.8 511.0L1154.6 506.6L1155.5 502.3L1156.4 498.1L1157.2 494.1L1158.1 490.2L1159.0 486.4L1159.8 482.9L1160.7 479.5L1161.6 476.3L1162.4 473.3L1163.3 470.6L1164.2 468.0L1165.0 465.8L1165.9 463.7L1166.8 461.9L1167.7 460.4L1168.5 459.2L1169.4 458.2L1170.3 457.5L1171.1 457.1L1172.0 456.9L1172.9 457.1L1173.7 457.5L1174.6 458.2L1175.5 459.2L1176.3 460.4L1177.2 461.9L1178.1 463.7L1178.9 465.8L1179.8 468.0L1180.7 470.6L1181.5 473.3L1182.4 476.3L1183.3 479.5L1184.2 482.9L1185.0 486.4L1185.9 490.2L1186.8 494.1L1187.6 498.1L1188.5 502.3L1189.4 506.6L1190.2 511.0L1191.1 515.4L1192.0 519.9L1192.8 524.4L1193.7 529.0L1194.6 533.5L1195.4 537.9L1196.3 542.2L1197.2 546.4L1198.1 550.0L1251.2 550.0L1252.4 545.1L1253.5 542.1L1254.7 539.6L1255.8 537.5L1257.0 535.7L1258.1 534.1L1259.3 532.7L1260.5 531.5L1261.6 530.4L1262.8 529.5L1263.9 528.6L1265.1 527.9L1266.3 527.2L1267.4 526.5L1268.6 525.9L1269.7 525.3L1270.9 524.8L1272.0 524.2L1273.2 523.6L1274.4 523.1L1275.5 522.6L1276.7 522.0L1277.8 521.4L1279.0 520.8L1280.2 520.1L1281.3 519.4L1282.5 518.7L1283.6 518.0L1284.8 517.3L1285.9 516.7L1287.1 516.0L1288.3 515.4L1289.4 514.7L1290.6 514.0L1291.7 513.4L1292.9 512.8L1294.0 512.3L1295.2 512.0L1296.4 511.9L1297.5 512.0L1298.7 512.2L1299.8 512.6L1301.0 513.1L1302.2 513.6L1303.3 514.3L1304.5 515.3L1305.6 516.6L1306.8 518.0L1307.9 519.5L1309.1 521.1L1310.3 522.9L1311.4 525.0L1312.6 527.1L1313.7 529.5L1314.9 531.9L1316.1 534.5L1317.2 537.3L1318.4 540.5L1319.5 544.2L1320.7 550.0L1373.2 550.0L1374.2 547.4L1375.1 544.5L1376.1 541.5L1377.0 538.3L1378.0 535.1L1378.9 531.9L1379.9 528.7L1380.8 525.4L1381.8 522.2L1382.8 519.1L1383.7 516.0L1384.7 512.9L1385.6 509.9L1386.6 507.0L1387.5 504.2L1388.5 501.5L1389.4 498.9L1390.4 496.4L1391.4 494.1L1392.3 491.8L1393.3 489.7L1394.2 487.8L1395.2 486.0L1396.1 484.3L1397.1 482.9L1398.0 481.6L1399.0 480.4L1399.9 479.4L1400.9 478.6L1401.9 478.0L1402.8 477.6L1403.8 477.3L1404.7 477.2L1405.7 477.4L1406.6 477.8L1407.6 478.5L1408.5 479.5L1409.5 480.7L1410.4 482.1L1411.4 483.9L1412.4 485.8L1413.3 488.0L1414.3 490.4L1415.2 493.0L1416.2 495.8L1417.1 498.9L1418.1 502.0L1419.0 505.4L1420.0 508.8L1420.9 512.4L1421.9 516.1L1422.9 519.9L1423.8 523.8L1424.8 527.7L1425.7 531.6L1426.7 535.5L1427.6 539.4L1428.6 543.2L1429.5 546.8L1430.5 550.0L1477.0 550.0L1477.8 544.0L1478.6 537.1L1479.4 529.9L1480.2 522.5L1481.0 515.0L1481.8 507.5L1482.6 499.9L1483.4 492.4L1484.2 484.9L1485.0 477.5L1485.7 470.3L1486.5 463.2L1487.3 456.3L1488.1 449.6L1488.9 443.1L1489.7 436.9L1490.5 430.9L1491.3 425.3L1492.1 419.9L1492.9 414.9L1493.7 410.3L1494.5 406.0L1495.3 402.0L1496.0 398.5L1496.8 395.3L1497.6 392.6L1498.4 390.3L1499.2 388.4L1500.0 386.9L1500.8 385.9L1501.6 385.3L1502.4 385.2L1503.2 385.6L1504.0 386.5L1504.8 388.0L1505.6 390.0L1506.4 392.6L1507.1 395.8L1507.9 399.4L1508.7 403.6L1509.5 408.2L1510.3 413.3L1511.1 418.9L1511.9 424.9L1512.7 431.3L1513.5 438.0L1514.3 445.1L1515.1 452.5L1515.9 460.2L1516.7 468.2L1517.5 476.3L1518.2 484.6L1519.0 493.1L1519.8 501.6L1520.6 510.1L1521.4 518.7L1522.2 527.1L1523.0 535.3L1523.8 543.1L1524.6 550.0L1570.9 550.0L1571.8 544.5L1572.6 538.3L1573.5 531.9L1574.3 525.3L1575.2 518.7L1576.0 512.2L1576.9 505.8L1577.7 499.5L1578.6 493.5L1579.4 487.8L1580.3 482.4L1581.1 477.4L1582.0 472.8L1582.8 468.6L1583.7 464.9L1584.5 461.6L1585.4 458.9L1586.2 456.7L1587.1 455.1L1587.9 454.0L1588.8 453.5L1589.6 453.5L1590.5 453.7L1591.3 454.1L1592.2 454.6L1593.0 455.3L1593.9 456.2L1594.7 457.3L1595.6 458.5L1596.5 459.9L1597.3 461.5L1598.2 463.2L1599.0 465.1L1599.9 467.1L1600.7 469.2L1601.6 471.5L1602.4 474.0L1603.3 476.6L1604.1 479.3L1605.0 482.1L1605.8 485.0L1606.7 488.0L1607.5 491.2L1608.4 494.4L1609.2 497.7L1610.1 501.1L1610.9 504.5L1611.8 508.0L1612.6 511.6L1613.5 515.2L1614.3 518.8L1615.2 522.5L1616.0 526.1L1616.9 529.8L1617.7 533.4L1618.6 537.0L1619.4 540.5L1620.3 543.9L1621.1 547.1L1622.0 550.0L1623.2 550.0L1623.8 549.5L1624.4 548.8L1625.0 548.2L1625.6 547.5L1626.2 546.8L1626.9 546.1L1627.5 545.5L1628.1 544.8L1628.7 544.1L1629.3 543.4L1629.9 542.7L1630.5 542.1L1631.1 541.4L1631.7 540.8L1632.3 540.2L1632.9 539.6L1633.5 539.0L1634.1 538.5L1634.7 537.9L1635.3 537.4L1635.9 537.0L1636.5 536.5L1637.1 536.1L1637.7 535.7L1638.3 535.3L1638.9 535.0L1639.5 534.7L1640.1 534.5L1640.7 534.2L1641.3 534.1L1641.9 533.9L1642.5 533.8L1643.1 533.7L1643.7 533.7L1644.3 533.7L1644.9 533.7L1645.5 533.9L1646.2 534.1L1646.8 534.3L1647.4 534.6L1648.0 535.0L1648.6 535.5L1649.2 536.0L1649.8 536.6L1650.4 537.2L1651.0 537.9L1651.6 538.6L1652.2 539.4L1652.8 540.2L1653.4 541.0L1654.0 541.9L1654.6 542.8L1655.2 543.7L1655.8 544.6L1656.4 545.6L1657.0 546.5L1657.6 547.5L1658.2 548.4L1658.8 549.2L1659.4 550.0L1709.1 550.0L1710.1 546.5L1711.1 542.5L1712.1 538.2L1713.1 533.9L1714.1 529.5L1715.1 525.1L1716.1 520.6L1717.1 516.1L1718.1 511.7L1719.1 507.3L1720.1 503.0L1721.1 498.8L1722.1 494.6L1723.1 490.6L1724.2 486.6L1725.2 482.8L1726.2 479.2L1727.2 475.6L1728.2 472.3L1729.2 469.1L1730.2 466.1L1731.2 463.3L1732.2 460.7L1733.2 458.3L1734.2 456.0L1735.2 454.1L1736.2 452.3L1737.2 450.8L1738.2 449.5L1739.2 448.4L1740.3 447.6L1741.3 447.0L1742.3 446.6L1743.3 446.5L1744.3 446.8L1745.3 447.4L1746.3 448.5L1747.3 450.0L1748.3 451.8L1749.3 454.1L1750.3 456.7L1751.3 459.7L1752.3 463.1L1753.3 466.7L1754.3 470.7L1755.3 475.0L1756.4 479.6L1757.4 484.4L1758.4 489.4L1759.4 494.7L1760.4 500.1L1761.4 505.6L1762.4 511.3L1763.4 517.1L1764.4 522.8L1765.4 528.6L1766.4 534.4L1767.4 540.0L1768.4 545.3L1769.4 550.0L1822.8 550.0L1823.8 543.7L1824.8 536.5L1825.8 529.0L1826.7 521.3L1827.7 513.5L1828.7 505.6L1829.7 497.8L1830.7 490.0L1831.7 482.3L1832.7 474.8L1833.6 467.4L1834.6 460.2L1835.6 453.2L1836.6 446.6L1837.6 440.2L1838.6 434.1L1839.6 428.3L1840.5 422.9L1841.5 417.9L1842.5 413.3L1843.5 409.1L1844.5 405.4L1845.5 402.1L1846.5 399.2L1847.4 396.8L1848.4 394.9L1849.4 393.5L1850.4 392.6L1851.4 392.1L1852.4 392.2L1853.4 392.7L1854.3 393.7L1855.3 395.1L1856.3 397.0L1857.3 399.3L1858.3 402.0L1859.3 405.2L1860.3 408.7L1861.2 412.7L1862.2 417.1L1863.2 421.8L1864.2 426.9L1865.2 432.3L1866.2 438.0L1867.2 444.1L1868.1 450.4L1869.1 456.9L1870.1 463.7L1871.1 470.7L1872.1 477.8L1873.1 485.1L1874.1 492.6L1875.0 500.0L1876.0 507.6L1877.0 515.1L1878.0 522.6L1879.0 529.9L1880.0 537.1L1881.0 544.0L1881.9 550.0L1932.0 550.0L1932.8 540.7L1933.7 530.0L1934.5 518.9L1935.4 507.4L1936.2 495.9L1937.1 484.2L1937.9 472.6L1938.8 461.1L1939.6 449.7L1940.5 438.5L1941.3 427.6L1942.2 417.0L1943.0 406.7L1943.9 396.8L1944.7 387.3L1945.6 378.4L1946.4 369.9L1947.2 361.9L1948.1 354.5L1948.9 347.7L1949.8 341.6L1950.6 336.0L1951.5 331.2L1952.3 327.0L1953.2 323.5L1954.0 320.8L1954.9 318.8L1955.7 317.4L1956.6 316.9L1957.4 317.0L1958.3 317.9L1959.1 319.3L1960.0 321.5L1960.8 324.3L1961.7 327.8L1962.5 331.8L1963.4 336.5L1964.2 341.8L1965.1 347.7L1965.9 354.2L1966.7 361.2L1967.6 368.7L1968.4 376.7L1969.3 385.2L1970.1 394.1L1971.0 403.4L1971.8 413.0L1972.7 423.0L1973.5 433.3L1974.4 443.8L1975.2 454.6L1976.1 465.5L1976.9 476.5L1977.8 487.6L1978.6 498.6L1979.5 509.6L1980.3 520.5L1981.2 531.1L1982.0 541.2L1982.9 550.0L2036.2 550.0L2037.1 542.1L2037.9 533.1L2038.8 523.6L2039.6 513.9L2040.5 504.1L2041.3 494.3L2042.2 484.4L2043.0 474.6L2043.9 465.0L2044.7 455.5L2045.6 446.2L2046.4 437.2L2047.3 428.5L2048.1 420.1L2049.0 412.0L2049.8 404.4L2050.7 397.1L2051.5 390.4L2052.4 384.1L2053.2 378.3L2054.1 373.0L2054.9 368.3L2055.8 364.1L2056.6 360.5L2057.5 357.5L2058.3 355.1L2059.2 353.3L2060.0 352.1L2060.9 351.6L2061.8 351.6L2062.6 352.2L2063.5 353.5L2064.3 355.2L2065.2 357.6L2066.0 360.5L2066.9 363.9L2067.7 367.9L2068.6 372.4L2069.4 377.4L2070.3 382.8L2071.1 388.8L2072.0 395.2L2072.8 402.0L2073.7 409.2L2074.5 416.8L2075.4 424.7L2076.2 432.9L2077.1 441.5L2077.9 450.2L2078.8 459.2L2079.6 468.4L2080.5 477.7L2081.3 487.1L2082.2 496.6L2083.0 506.1L2083.9 515.5L2084.7 524.8L2085.6 533.8L2086.4 542.4L2087.3 550.0L2141.3 550.0L2142.1 544.9L2143.0 539.1L2143.9 532.9L2144.7 526.7L2145.6 520.3L2146.5 513.9L2147.3 507.5L2148.2 501.2L2149.1 494.9L2150.0 488.6L2150.8 482.6L2151.7 476.6L2152.6 470.9L2153.4 465.3L2154.3 459.9L2155.2 454.8L2156.0 449.9L2156.9 445.3L2157.8 440.9L2158.6 436.9L2159.5 433.2L2160.4 429.8L2161.2 426.7L2162.1 424.0L2163.0 421.6L2163.8 419.6L2164.7 418.0L2165.6 416.8L2166.5 415.9L2167.3 415.5L2168.2 415.4L2169.1 415.7L2169.9 416.5L2170.8 417.7L2171.7 419.3L2172.5 421.3L2173.4 423.7L2174.3 426.5L2175.1 429.7L2176.0 433.2L2176.9 437.2L2177.7 441.4L2178.6 446.0L2179.5 450.9L2180.4 456.1L2181.2 461.6L2182.1 467.3L2183.0 473.2L2183.8 479.4L2184.7 485.7L2185.6 492.1L2186.4 498.7L2187.3 505.3L2188.2 512.0L2189.0 518.8L2189.9 525.4L2190.8 532.0L2191.6 538.5L2192.5 544.6L2193.4 550.0L2240.9 550.0L2241.4 547.9L2241.8 545.5L2242.2 542.9L2242.7 540.3L2243.1 537.6L2243.5 534.9L2244.0 532.1L2244.4 529.3L2244.9 526.5L2245.3 523.7L2245.7 520.9L2246.2 518.0L2246.6 515.2L2247.0 512.4L2247.5 509.6L2247.9 506.8L2248.3 504.0L2248.8 501.2L2249.2 498.5L2249.6 495.7L2250.1 493.0L2250.5 490.4L2250.9 487.8L2251.4 485.2L2251.8 482.6L2252.2 480.1L2252.7 477.6L2253.1 475.2L2253.5 472.9L2254.0 470.5L2254.4 468.3L2254.8 466.1L2255.3 463.9L2255.7 461.8L2256.1 459.8L2256.6 457.9L2257.0 456.0L2257.4 454.1L2257.9 452.4L2258.3 450.7L2258.7 449.1L2259.2 447.5L2259.6 446.1L2260.1 444.7L2260.5 443.4L2260.9 442.1L2261.4 441.0L2261.8 439.9L2262.2 438.9L2262.7 438.0L2263.1 437.2L2263.5 436.5L2264.0 435.8L2264.4 435.2L2264.8 434.8L2265.3 434.4L2265.7 434.1L2266.1 433.9L2266.6 433.7L2267.0 433.7" stroke="#00ff00" stroke-dasharray="17.5 17.8"/><path d="M199.0 441.3L199.4 441.2L199.9 441.1L200.3 441.1L200.7 441.2L201.2 441.3L201.6 441.5L202.0 441.8L202.4 442.1L202.9 442.5L203.3 443.0L203.7 443.5L204.2 444.1L204.6 444.7L205.0 445.4L205.5 446.2L205.9 447.1L206.3 448.0L206.8 448.9L207.2 450.0L207.6 451.1L208.0 452.2L208.5 453.4L208.9 454.7L209.3 456.0L209.8 457.4L210.2 458.9L210.6 460.4L211.1 462.0L211.5 463.7L211.9 465.4L212.4 467.1L212.8 468.9L213.2 470.8L213.6 472.7L214.1 474.7L214.5 476.8L214.9 478.9L215.4 481.1L215.8 483.3L216.2 485.6L216.7 487.9L217.1 490.3L217.5 492.8L218.0 495.3L218.4 497.9L218.8 500.6L219.2 503.3L219.7 506.1L220.1 508.9L220.5 511.9L221.0 514.9L221.4 518.0L221.8 521.2L222.3 524.5L222.7 527.9L223.1 531.5L223.6 535.3L224.0 539.4L224.4 543.9L224.8 550.0L266.4 550.0L267.3 543.6L268.2 538.9L269.1 534.7L270.0 530.8L270.9 527.2L271.8 523.8L272.7 520.6L273.6 517.5L274.5 514.6L275.3 511.9L276.2 509.4L277.1 507.0L278.0 504.8L278.9 502.8L279.8 500.9L280.7 499.2L281.6 497.7L282.5 496.3L283.4 495.2L284.3 494.2L285.2 493.4L286.1 492.8L286.9 492.4L287.8 492.1L288.7 492.1L289.6 492.2L290.5 492.3L291.4 492.6L292.3 492.9L293.2 493.3L294.1 493.9L295.0 494.5L295.9 495.2L296.8 496.0L297.7 496.9L298.6 497.8L299.4 498.9L300.3 500.0L301.2 501.3L302.1 502.6L303.0 504.0L303.9 505.5L304.8 507.1L305.7 508.7L306.6 510.5L307.5 512.3L308.4 514.2L309.3 516.2L310.2 518.3L311.1 520.4L311.9 522.7L312.8 525.0L313.7 527.5L314.6 530.0L315.5 532.7L316.4 535.5L317.3 538.4L318.2 541.6L319.1 545.2L320.0 550.0L321.0 550.0L321.6 549.2L322.2 548.7L322.8 548.2L323.4 547.7L324.0 547.2L324.6 546.8L325.2 546.4L325.8 546.0L326.4 545.6L327.0 545.3L327.6 544.9L328.2 544.6L328.8 544.3L329.4 544.0L330.0 543.7L330.6 543.4L331.2 543.1L331.8 542.8L332.4 542.6L333.0 542.3L333.6 542.1L334.2 541.9L334.8 541.7L335.4 541.5L336.0 541.3L336.6 541.1L337.2 541.0L337.8 540.8L338.4 540.7L339.0 540.6L339.6 540.5L340.2 540.4L340.8 540.3L341.4 540.2L342.0 540.2L342.6 540.1L343.2 540.1L343.8 540.1L344.4 540.1L345.0 540.1L345.6 540.2L346.2 540.3L346.8 540.5L347.4 540.7L348.0 541.0L348.6 541.3L349.2 541.6L349.8 542.0L350.4 542.4L351.0 542.8L351.6 543.3L352.2 543.8L352.8 544.4L353.4 545.0L354.0 545.6L354.6 546.3L355.2 547.1L355.8 547.9L356.4 548.8L357.0 550.0L405.8 550.0L406.9 544.4L407.9 540.3L409.0 536.6L410.1 533.2L411.1 530.0L412.2 526.9L413.3 523.9L414.3 521.1L415.4 518.4L416.5 515.8L417.5 513.3L418.6 510.9L419.6 508.6L420.7 506.4L421.8 504.3L422.8 502.3L423.9 500.4L425.0 498.6L426.0 496.9L427.1 495.3L428.2 493.8L429.2 492.4L430.3 491.1L431.4 489.9L432.4 488.8L433.5 487.8L434.6 486.9L435.6 486.1L436.7 485.5L437.8 484.9L438.8 484.4L439.9 484.1L440.9 483.8L442.0 483.7L443.1 483.7L444.1 483.8L445.2 484.2L446.3 484.7L447.3 485.5L448.4 486.5L449.5 487.7L450.5 489.0L451.6 490.6L452.7 492.4L453.7 494.3L454.8 496.5L455.9 498.8L456.9 501.3L458.0 504.0L459.1 506.9L460.1 510.0L461.2 513.3L462.2 516.7L463.3 520.4L464.4 524.3L465.4 528.4L466.5 532.8L467.6 537.5L468.6 542.8L469.7 550.0L520.6 550.0L521.6 540.8L522.5 534.0L523.5 527.9L524.5 522.3L525.5 517.0L526.5 511.9L527.5 507.1L528.5 502.5L529.4 498.2L530.4 494.0L531.4 490.0L532.4 486.2L533.4 482.6L534.4 479.2L535.4 476.0L536.3 473.0L537.3 470.1L538.3 467.5L539.3 465.0L540.3 462.8L541.3 460.7L542.3 458.9L543.2 457.3L544.2 455.8L545.2 454.6L546.2 453.5L547.2 452.7L548.2 452.1L549.2 451.7L550.1 451.5L551.1 451.5L552.1 451.8L553.1 452.2L554.1 452.9L555.1 453.8L556.1 454.9L557.0 456.3L558.0 457.8L559.0 459.6L560.0 461.6L561.0 463.8L562.0 466.2L563.0 468.8L563.9 471.7L564.9 474.7L565.9 477.9L566.9 481.3L567.9 485.0L568.9 488.8L569.9 492.8L570.8 497.1L571.8 501.5L572.8 506.2L573.8 511.1L574.8 516.2L575.8 521.6L576.8 527.4L577.7 533.6L578.7 540.6L579.7 550.0L630.2 550.0L631.0 535.8L631.9 525.4L632.8 516.0L633.7 507.3L634.5 499.1L635.4 491.4L636.3 484.0L637.1 476.9L638.0 470.2L638.9 463.8L639.7 457.7L640.6 451.8L641.5 446.3L642.3 441.1L643.2 436.2L644.1 431.5L644.9 427.2L645.8 423.1L646.7 419.4L647.5 416.0L648.4 412.8L649.3 410.0L650.2 407.5L651.0 405.3L651.9 403.5L652.8 401.9L653.6 400.7L654.5 399.8L655.4 399.3L656.2 399.0L657.1 399.1L658.0 399.5L658.8 400.3L659.7 401.4L660.6 402.8L661.4 404.6L662.3 406.7L663.2 409.1L664.1 411.9L664.9 414.9L665.8 418.3L666.7 422.0L667.5 426.0L668.4 430.4L669.3 435.0L670.1 440.0L671.0 445.2L671.9 450.8L672.7 456.6L673.6 462.8L674.5 469.3L675.3 476.0L676.2 483.2L677.1 490.6L677.9 498.5L678.8 506.8L679.7 515.6L680.6 525.1L681.4 535.7L682.3 550.0L734.4 550.0L735.3 537.6L736.2 528.4L737.1 520.1L738.0 512.5L738.9 505.3L739.7 498.5L740.6 492.1L741.5 485.9L742.4 480.1L743.3 474.5L744.2 469.2L745.1 464.2L746.0 459.5L746.9 455.0L747.7 450.8L748.6 446.9L749.5 443.3L750.4 439.9L751.3 436.8L752.2 434.0L753.1 431.5L754.0 429.3L754.9 427.4L755.7 425.8L756.6 424.5L757.5 423.5L758.4 422.8L759.3 422.4L760.2 422.3L761.1 422.5L762.0 422.9L762.9 423.6L763.8 424.5L764.6 425.7L765.5 427.2L766.4 428.9L767.3 430.9L768.2 433.1L769.1 435.6L770.0 438.3L770.9 441.3L771.8 444.5L772.6 447.9L773.5 451.6L774.4 455.5L775.3 459.7L776.2 464.1L777.1 468.7L778.0 473.6L778.9 478.7L779.8 484.0L780.6 489.6L781.5 495.4L782.4 501.5L783.3 508.0L784.2 514.7L785.1 521.9L786.0 529.7L786.9 538.3L787.8 550.0L839.7 550.0L840.5 542.0L841.4 536.1L842.3 530.8L843.1 525.8L844.0 521.2L844.9 516.8L845.7 512.6L846.6 508.6L847.5 504.7L848.4 501.1L849.2 497.6L850.1 494.2L851.0 491.0L851.8 487.9L852.7 485.0L853.6 482.3L854.4 479.7L855.3 477.3L856.2 475.0L857.0 472.9L857.9 470.9L858.8 469.1L859.6 467.5L860.5 466.1L861.4 464.8L862.2 463.6L863.1 462.7L864.0 461.9L864.9 461.2L865.7 460.8L866.6 460.5L867.5 460.4L868.3 460.5L869.2 460.8L870.1 461.3L870.9 462.1L871.8 463.1L872.7 464.3L873.5 465.7L874.4 467.4L875.3 469.3L876.1 471.4L877.0 473.7L877.9 476.2L878.8 478.9L879.6 481.9L880.5 485.0L881.4 488.4L882.2 492.0L883.1 495.7L884.0 499.7L884.8 503.9L885.7 508.3L886.6 512.9L887.4 517.8L888.3 523.0L889.2 528.5L890.0 534.4L890.9 541.0L891.8 550.0L940.6 550.0L941.5 542.8L942.3 537.4L943.2 532.6L944.1 528.2L944.9 524.0L945.8 520.1L946.7 516.3L947.5 512.7L948.4 509.3L949.3 506.1L950.1 503.0L951.0 500.1L951.9 497.3L952.7 494.7L953.6 492.3L954.5 490.0L955.4 487.9L956.2 486.0L957.1 484.2L958.0 482.6L958.8 481.1L959.7 479.8L960.6 478.7L961.4 477.8L962.3 477.0L963.2 476.4L964.0 476.0L964.9 475.8L965.8 475.8L966.6 475.9L967.5 476.1L968.4 476.5L969.2 477.1L970.1 477.8L971.0 478.6L971.9 479.6L972.7 480.8L973.6 482.1L974.5 483.5L975.3 485.1L976.2 486.8L977.1 488.7L977.9 490.7L978.8 492.8L979.7 495.1L980.5 497.5L981.4 500.1L982.3 502.8L983.1 505.6L984.0 508.5L984.9 511.6L985.7 514.9L986.6 518.3L987.5 521.8L988.4 525.6L989.2 529.5L990.1 533.7L991.0 538.2L991.8 543.2L992.7 550.0L1045.0 550.0L1045.9 542.8L1046.7 537.4L1047.6 532.7L1048.4 528.2L1049.3 524.1L1050.1 520.1L1051.0 516.3L1051.8 512.8L1052.7 509.3L1053.5 506.1L1054.4 503.0L1055.2 500.0L1056.1 497.2L1056.9 494.5L1057.8 492.0L1058.6 489.6L1059.5 487.4L1060.3 485.4L1061.2 483.5L1062.0 481.8L1062.9 480.2L1063.7 478.7L1064.6 477.5L1065.5 476.4L1066.3 475.5L1067.2 474.7L1068.0 474.1L1068.9 473.7L1069.7 473.4L1070.6 473.3L1071.4 473.3L1072.3 473.6L1073.1 474.0L1074.0 474.5L1074.8 475.3L1075.7 476.2L1076.5 477.3L1077.4 478.5L1078.2 479.9L1079.1 481.5L1079.9 483.2L1080.8 485.1L1081.6 487.1L1082.5 489.3L1083.3 491.7L1084.2 494.2L1085.0 496.9L1085.9 499.7L1086.7 502.7L1087.6 505.8L1088.4 509.1L1089.3 512.5L1090.1 516.1L1091.0 519.9L1091.8 523.9L1092.7 528.1L1093.5 532.5L1094.4 537.4L1095.2 542.7L1096.1 550.0L1145.9 550.0L1146.8 544.2L1147.7 539.9L1148.5 536.1L1149.4 532.5L1150.3 529.2L1151.1 526.0L1152.0 523.0L1152.9 520.1L1153.8 517.4L1154.6 514.7L1155.5 512.3L1156.4 509.9L1157.2 507.6L1158.1 505.5L1159.0 503.5L1159.8 501.6L1160.7 499.8L1161.6 498.2L1162.4 496.7L1163.3 495.3L1164.2 494.0L1165.0 492.9L1165.9 491.9L1166.8 491.0L1167.7 490.3L1168.5 489.7L1169.4 489.2L1170.3 488.9L1171.1 488.7L1172.0 488.6L1172.9 488.7L1173.7 488.9L1174.6 489.2L1175.5 489.7L1176.3 490.3L1177.2 491.0L1178.1 491.9L1178.9 492.9L1179.8 494.0L1180.7 495.3L1181.5 496.7L1182.4 498.2L1183.3 499.8L1184.2 501.6L1185.0 503.5L1185.9 505.5L1186.8 507.6L1187.6 509.9L1188.5 512.3L1189.4 514.7L1190.2 517.4L1191.1 520.1L1192.0 523.0L1192.8 526.0L1193.7 529.2L1194.6 532.5L1195.4 536.1L1196.3 539.9L1197.2 544.2L1198.1 550.0L1251.2 550.0L1252.4 544.5L1253.5 542.1L1254.7 540.4L1255.8 539.0L1257.0 537.9L1258.1 536.9L1259.3 536.1L1260.5 535.4L1261.6 534.8L1262.8 534.2L1263.9 533.7L1265.1 533.3L1266.3 532.9L1267.4 532.6L1268.6 532.3L1269.7 532.0L1270.9 531.7L1272.0 531.4L1273.2 531.1L1274.4 530.8L1275.5 530.5L1276.7 530.2L1277.8 529.9L1279.0 529.6L1280.2 529.3L1281.3 528.9L1282.5 528.6L1283.6 528.2L1284.8 527.9L1285.9 527.5L1287.1 527.2L1288.3 526.9L1289.4 526.6L1290.6 526.3L1291.7 526.0L1292.9 525.7L1294.0 525.5L1295.2 525.3L1296.4 525.3L1297.5 525.3L1298.7 525.4L1299.8 525.6L1301.0 525.8L1302.2 526.1L1303.3 526.4L1304.5 526.9L1305.6 527.5L1306.8 528.2L1307.9 529.0L1309.1 529.8L1310.3 530.7L1311.4 531.8L1312.6 532.9L1313.7 534.2L1314.9 535.6L1316.1 537.1L1317.2 538.9L1318.4 541.0L1319.5 543.7L1320.7 550.0L1373.2 550.0L1374.2 545.7L1375.1 542.5L1376.1 539.6L1377.0 536.9L1378.0 534.4L1378.9 532.0L1379.9 529.7L1380.8 527.5L1381.8 525.4L1382.8 523.4L1383.7 521.5L1384.7 519.7L1385.6 517.9L1386.6 516.3L1387.5 514.7L1388.5 513.2L1389.4 511.7L1390.4 510.4L1391.4 509.1L1392.3 507.9L1393.3 506.8L1394.2 505.8L1395.2 504.9L1396.1 504.1L1397.1 503.3L1398.0 502.7L1399.0 502.1L1399.9 501.6L1400.9 501.2L1401.9 500.9L1402.8 500.7L1403.8 500.5L1404.7 500.5L1405.7 500.6L1406.6 500.8L1407.6 501.1L1408.5 501.6L1409.5 502.2L1410.4 503.0L1411.4 503.8L1412.4 504.8L1413.3 505.9L1414.3 507.2L1415.2 508.6L1416.2 510.1L1417.1 511.7L1418.1 513.4L1419.0 515.3L1420.0 517.3L1420.9 519.4L1421.9 521.6L1422.9 524.0L1423.8 526.5L1424.8 529.1L1425.7 531.8L1426.7 534.7L1427.6 537.8L1428.6 541.2L1429.5 544.9L1430.5 550.0L1477.0 550.0L1477.8 539.7L1478.6 532.0L1479.4 525.2L1480.2 518.8L1481.0 512.8L1481.8 507.1L1482.6 501.7L1483.4 496.5L1484.2 491.6L1485.0 486.8L1485.7 482.3L1486.5 478.0L1487.3 473.8L1488.1 469.9L1488.9 466.2L1489.7 462.7L1490.5 459.4L1491.3 456.2L1492.1 453.3L1492.9 450.6L1493.7 448.2L1494.5 445.9L1495.3 443.8L1496.0 442.0L1496.8 440.4L1497.6 438.9L1498.4 437.8L1499.2 436.8L1500.0 436.1L1500.8 435.5L1501.6 435.2L1502.4 435.2L1503.2 435.4L1504.0 435.8L1504.8 436.6L1505.6 437.6L1506.4 439.0L1507.1 440.6L1507.9 442.5L1508.7 444.6L1509.5 447.1L1510.3 449.8L1511.1 452.8L1511.9 456.0L1512.7 459.5L1513.5 463.3L1514.3 467.3L1515.1 471.6L1515.9 476.2L1516.7 481.0L1517.5 486.1L1518.2 491.4L1519.0 497.0L1519.8 502.9L1520.6 509.1L1521.4 515.7L1522.2 522.6L1523.0 530.2L1523.8 538.6L1524.6 550.0L1570.9 550.0L1571.8 541.7L1572.6 535.5L1573.5 530.0L1574.3 525.0L1575.2 520.3L1576.0 515.9L1576.9 511.8L1577.7 508.0L1578.6 504.4L1579.4 501.1L1580.3 498.1L1581.1 495.3L1582.0 492.8L1582.8 490.5L1583.7 488.6L1584.5 486.9L1585.4 485.5L1586.2 484.3L1587.1 483.5L1587.9 483.0L1588.8 482.7L1589.6 482.7L1590.5 482.8L1591.3 483.0L1592.2 483.3L1593.0 483.6L1593.9 484.1L1594.7 484.6L1595.6 485.3L1596.5 486.0L1597.3 486.8L1598.2 487.7L1599.0 488.7L1599.9 489.7L1600.7 490.9L1601.6 492.1L1602.4 493.4L1603.3 494.8L1604.1 496.3L1605.0 497.9L1605.8 499.5L1606.7 501.2L1607.5 503.0L1608.4 504.9L1609.2 506.9L1610.1 508.9L1610.9 511.1L1611.8 513.3L1612.6 515.6L1613.5 517.9L1614.3 520.4L1615.2 523.0L1616.0 525.6L1616.9 528.4L1617.7 531.3L1618.6 534.3L1619.4 537.5L1620.3 541.0L1621.1 544.8L1622.0 550.0L1623.2 550.0L1623.8 548.8L1624.4 548.0L1625.0 547.2L1625.6 546.5L1626.2 545.8L1626.9 545.2L1627.5 544.5L1628.1 543.9L1628.7 543.4L1629.3 542.8L1629.9 542.3L1630.5 541.8L1631.1 541.3L1631.7 540.9L1632.3 540.4L1632.9 540.0L1633.5 539.6L1634.1 539.2L1634.7 538.9L1635.3 538.5L1635.9 538.2L1636.5 537.9L1637.1 537.7L1637.7 537.4L1638.3 537.2L1638.9 537.0L1639.5 536.8L1640.1 536.6L1640.7 536.5L1641.3 536.4L1641.9 536.3L1642.5 536.2L1643.1 536.2L1643.7 536.1L1644.3 536.1L1644.9 536.2L1645.5 536.3L1646.2 536.4L1646.8 536.5L1647.4 536.8L1648.0 537.0L1648.6 537.3L1649.2 537.6L1649.8 538.0L1650.4 538.4L1651.0 538.8L1651.6 539.3L1652.2 539.9L1652.8 540.4L1653.4 541.0L1654.0 541.7L1654.6 542.4L1655.2 543.1L1655.8 543.8L1656.4 544.6L1657.0 545.5L1657.6 546.4L1658.2 547.4L1658.8 548.5L1659.4 550.0L1709.1 550.0L1710.1 544.1L1711.1 539.8L1712.1 535.9L1713.1 532.3L1714.1 529.0L1715.1 525.7L1716.1 522.6L1717.1 519.7L1718.1 516.9L1719.1 514.1L1720.1 511.5L1721.1 509.0L1722.1 506.6L1723.1 504.4L1724.2 502.2L1725.2 500.1L1726.2 498.1L1727.2 496.3L1728.2 494.5L1729.2 492.9L1730.2 491.3L1731.2 489.9L1732.2 488.6L1733.2 487.4L1734.2 486.3L1735.2 485.3L1736.2 484.5L1737.2 483.7L1738.2 483.1L1739.2 482.6L1740.3 482.2L1741.3 481.9L1742.3 481.7L1743.3 481.7L1744.3 481.8L1745.3 482.1L1746.3 482.6L1747.3 483.3L1748.3 484.3L1749.3 485.4L1750.3 486.6L1751.3 488.1L1752.3 489.8L1753.3 491.7L1754.3 493.7L1755.3 495.9L1756.4 498.3L1757.4 500.9L1758.4 503.7L1759.4 506.7L1760.4 509.8L1761.4 513.1L1762.4 516.6L1763.4 520.3L1764.4 524.2L1765.4 528.3L1766.4 532.7L1767.4 537.5L1768.4 542.8L1769.4 550.0L1822.8 550.0L1823.8 539.9L1824.8 532.4L1825.8 525.7L1826.7 519.5L1827.7 513.6L1828.7 508.1L1829.7 502.8L1830.7 497.8L1831.7 493.1L1832.7 488.5L1833.6 484.2L1834.6 480.1L1835.6 476.2L1836.6 472.5L1837.6 469.0L1838.6 465.8L1839.6 462.8L1840.5 460.0L1841.5 457.4L1842.5 455.1L1843.5 453.0L1844.5 451.1L1845.5 449.4L1846.5 448.0L1847.4 446.9L1848.4 445.9L1849.4 445.2L1850.4 444.8L1851.4 444.6L1852.4 444.6L1853.4 444.9L1854.3 445.3L1855.3 446.0L1856.3 446.9L1857.3 448.1L1858.3 449.4L1859.3 451.0L1860.3 452.8L1861.2 454.8L1862.2 457.0L1863.2 459.4L1864.2 462.0L1865.2 464.9L1866.2 467.9L1867.2 471.1L1868.1 474.6L1869.1 478.2L1870.1 482.1L1871.1 486.1L1872.1 490.3L1873.1 494.8L1874.1 499.5L1875.0 504.3L1876.0 509.4L1877.0 514.8L1878.0 520.5L1879.0 526.5L1880.0 533.0L1881.0 540.2L1881.9 550.0L1932.0 550.0L1932.8 535.4L1933.7 524.6L1934.5 514.9L1935.4 505.9L1936.2 497.5L1937.1 489.5L1937.9 481.9L1938.8 474.6L1939.6 467.7L1940.5 461.1L1941.3 454.9L1942.2 449.0L1943.0 443.3L1943.9 438.0L1944.7 433.0L1945.6 428.4L1946.4 424.0L1947.2 420.0L1948.1 416.3L1948.9 413.0L1949.8 409.9L1950.6 407.2L1951.5 404.9L1952.3 402.9L1953.2 401.2L1954.0 399.9L1954.9 398.9L1955.7 398.3L1956.6 398.0L1957.4 398.1L1958.3 398.5L1959.1 399.2L1960.0 400.2L1960.8 401.6L1961.7 403.2L1962.5 405.2L1963.4 407.5L1964.2 410.1L1965.1 413.0L1965.9 416.1L1966.7 419.6L1967.6 423.4L1968.4 427.5L1969.3 431.9L1970.1 436.6L1971.0 441.5L1971.8 446.8L1972.7 452.3L1973.5 458.1L1974.4 464.2L1975.2 470.6L1976.1 477.3L1976.9 484.4L1977.8 491.7L1978.6 499.4L1979.5 507.6L1980.3 516.2L1981.2 525.5L1982.0 535.9L1982.9 550.0L2036.2 550.0L2037.1 537.5L2037.9 528.3L2038.8 520.0L2039.6 512.3L2040.5 505.1L2041.3 498.3L2042.2 491.8L2043.0 485.6L2043.9 479.7L2044.7 474.1L2045.6 468.8L2046.4 463.7L2047.3 458.9L2048.1 454.3L2049.0 450.1L2049.8 446.1L2050.7 442.3L2051.5 438.9L2052.4 435.7L2053.2 432.8L2054.1 430.2L2054.9 427.9L2055.8 425.9L2056.6 424.1L2057.5 422.7L2058.3 421.5L2059.2 420.7L2060.0 420.1L2060.9 419.8L2061.8 419.9L2062.6 420.2L2063.5 420.7L2064.3 421.6L2065.2 422.7L2066.0 424.1L2066.9 425.8L2067.7 427.7L2068.6 429.9L2069.4 432.4L2070.3 435.1L2071.1 438.1L2072.0 441.3L2072.8 444.8L2073.7 448.6L2074.5 452.6L2075.4 456.8L2076.2 461.3L2077.1 466.1L2077.9 471.1L2078.8 476.3L2079.6 481.8L2080.5 487.6L2081.3 493.6L2082.2 499.9L2083.0 506.5L2083.9 513.5L2084.7 521.0L2085.6 529.0L2086.4 537.9L2087.3 550.0L2141.3 550.0L2142.1 541.3L2143.0 534.8L2143.9 529.1L2144.7 523.7L2145.6 518.7L2146.5 513.9L2147.3 509.4L2148.2 505.0L2149.1 500.9L2150.0 496.9L2150.8 493.1L2151.7 489.5L2152.6 486.1L2153.4 482.8L2154.3 479.8L2155.2 476.9L2156.0 474.2L2156.9 471.6L2157.8 469.3L2158.6 467.1L2159.5 465.2L2160.4 463.4L2161.2 461.8L2162.1 460.4L2163.0 459.2L2163.8 458.1L2164.7 457.3L2165.6 456.7L2166.5 456.2L2167.3 456.0L2168.2 456.0L2169.1 456.1L2169.9 456.5L2170.8 457.1L2171.7 457.9L2172.5 459.0L2173.4 460.2L2174.3 461.7L2175.1 463.3L2176.0 465.2L2176.9 467.3L2177.7 469.6L2178.6 472.1L2179.5 474.8L2180.4 477.6L2181.2 480.7L2182.1 484.0L2183.0 487.5L2183.8 491.2L2184.7 495.0L2185.6 499.1L2186.4 503.4L2187.3 507.8L2188.2 512.6L2189.0 517.5L2189.9 522.7L2190.8 528.3L2191.6 534.3L2192.5 540.9L2193.4 550.0L2240.9 550.0L2241.4 546.0L2241.8 543.0L2242.2 540.3L2242.7 537.8L2243.1 535.4L2243.5 533.2L2244.0 531.0L2244.4 528.9L2244.9 526.8L2245.3 524.8L2245.7 522.9L2246.2 521.0L2246.6 519.1L2247.0 517.3L2247.5 515.6L2247.9 513.8L2248.3 512.2L2248.8 510.5L2249.2 508.9L2249.6 507.4L2250.1 505.8L2250.5 504.3L2250.9 502.9L2251.4 501.5L2251.8 500.1L2252.2 498.7L2252.7 497.4L2253.1 496.2L2253.5 494.9L2254.0 493.7L2254.4 492.6L2254.8 491.4L2255.3 490.4L2255.7 489.3L2256.1 488.3L2256.6 487.3L2257.0 486.4L2257.4 485.5L2257.9 484.6L2258.3 483.8L2258.7 483.0L2259.2 482.3L2259.6 481.6L2260.1 480.9L2260.5 480.3L2260.9 479.7L2261.4 479.2L2261.8 478.7L2262.2 478.2L2262.7 477.8L2263.1 477.4L2263.5 477.1L2264.0 476.7L2264.4 476.5L2264.8 476.3L2265.3 476.1L2265.7 475.9L2266.1 475.8L2266.6 475.8L2267.0 475.8" stroke="#000000" stroke-dasharray="17.5 17.8"/><path d="M199.0 470.9L199.4 470.8L199.9 470.8L200.3 470.8L200.7 470.8L201.2 470.9L201.6 471.0L202.0 471.2L202.4 471.4L202.9 471.6L203.3 471.9L203.7 472.2L204.2 472.6L204.6 473.0L205.0 473.4L205.5 473.8L205.9 474.3L206.3 474.9L206.8 475.5L207.2 476.1L207.6 476.7L208.0 477.4L208.5 478.2L208.9 478.9L209.3 479.8L209.8 480.6L210.2 481.5L210.6 482.4L211.1 483.4L211.5 484.4L211.9 485.5L212.4 486.5L212.8 487.7L213.2 488.9L213.6 490.1L214.1 491.3L214.5 492.6L214.9 494.0L215.4 495.4L215.8 496.8L216.2 498.3L216.7 499.8L217.1 501.4L217.5 503.1L218.0 504.8L218.4 506.5L218.8 508.3L219.2 510.2L219.7 512.1L220.1 514.1L220.5 516.2L221.0 518.4L221.4 520.7L221.8 523.1L222.3 525.7L222.7 528.3L223.1 531.3L223.6 534.4L224.0 538.0L224.4 542.4L224.8 550.0L266.4 550.0L267.3 542.1L268.2 537.6L269.1 533.9L270.0 530.7L270.9 527.7L271.8 525.1L272.7 522.6L273.6 520.3L274.5 518.2L275.3 516.2L276.2 514.4L277.1 512.7L278.0 511.1L278.9 509.7L279.8 508.4L280.7 507.3L281.6 506.2L282.5 505.3L283.4 504.6L284.3 503.9L285.2 503.4L286.1 503.0L286.9 502.7L287.8 502.5L288.7 502.5L289.6 502.5L290.5 502.6L291.4 502.8L292.3 503.0L293.2 503.3L294.1 503.7L295.0 504.1L295.9 504.6L296.8 505.1L297.7 505.7L298.6 506.3L299.4 507.1L300.3 507.9L301.2 508.7L302.1 509.6L303.0 510.6L303.9 511.6L304.8 512.7L305.7 513.9L306.6 515.2L307.5 516.5L308.4 517.9L309.3 519.3L310.2 520.9L311.1 522.5L311.9 524.2L312.8 526.0L313.7 527.9L314.6 530.0L315.5 532.2L316.4 534.6L317.3 537.2L318.2 540.1L319.1 543.7L320.0 550.0L321.0 550.0L321.6 549.1L322.2 548.5L322.8 548.1L323.4 547.7L324.0 547.4L324.6 547.1L325.2 546.7L325.8 546.5L326.4 546.2L327.0 545.9L327.6 545.7L328.2 545.5L328.8 545.2L329.4 545.0L330.0 544.8L330.6 544.6L331.2 544.5L331.8 544.3L332.4 544.1L333.0 544.0L333.6 543.8L334.2 543.7L334.8 543.6L335.4 543.4L336.0 543.3L336.6 543.2L337.2 543.1L337.8 543.0L338.4 542.9L339.0 542.9L339.6 542.8L340.2 542.8L340.8 542.7L341.4 542.7L342.0 542.6L342.6 542.6L343.2 542.6L343.8 542.6L344.4 542.6L345.0 542.6L345.6 542.6L346.2 542.7L346.8 542.8L347.4 543.0L348.0 543.1L348.6 543.3L349.2 543.5L349.8 543.7L350.4 544.0L351.0 544.3L351.6 544.6L352.2 544.9L352.8 545.3L353.4 545.7L354.0 546.2L354.6 546.7L355.2 547.2L355.8 547.9L356.4 548.6L357.0 550.0L405.8 550.0L406.9 543.5L407.9 539.7L409.0 536.7L410.1 533.9L411.1 531.5L412.2 529.2L413.3 527.1L414.3 525.1L415.4 523.2L416.5 521.4L417.5 519.7L418.6 518.1L419.6 516.6L420.7 515.2L421.8 513.8L422.8 512.5L423.9 511.3L425.0 510.2L426.0 509.1L427.1 508.1L428.2 507.2L429.2 506.3L430.3 505.5L431.4 504.8L432.4 504.1L433.5 503.5L434.6 503.0L435.6 502.5L436.7 502.1L437.8 501.7L438.8 501.5L439.9 501.2L440.9 501.1L442.0 501.0L443.1 501.0L444.1 501.1L445.2 501.3L446.3 501.6L447.3 502.1L448.4 502.7L449.5 503.4L450.5 504.2L451.6 505.2L452.7 506.3L453.7 507.5L454.8 508.8L455.9 510.3L456.9 511.9L458.0 513.6L459.1 515.5L460.1 517.5L461.2 519.7L462.2 522.0L463.3 524.6L464.4 527.3L465.4 530.3L466.5 533.6L467.6 537.4L468.6 541.9L469.7 550.0L520.6 550.0L521.6 540.0L522.5 534.4L523.5 529.7L524.5 525.6L525.5 521.9L526.5 518.4L527.5 515.2L528.5 512.3L529.4 509.5L530.4 506.8L531.4 504.3L532.4 502.0L533.4 499.8L534.4 497.8L535.4 495.9L536.3 494.1L537.3 492.4L538.3 490.9L539.3 489.4L540.3 488.1L541.3 487.0L542.3 485.9L543.2 485.0L544.2 484.1L545.2 483.4L546.2 482.8L547.2 482.4L548.2 482.0L549.2 481.8L550.1 481.7L551.1 481.7L552.1 481.8L553.1 482.1L554.1 482.5L555.1 483.0L556.1 483.6L557.0 484.4L558.0 485.3L559.0 486.3L560.0 487.4L561.0 488.7L562.0 490.1L563.0 491.6L563.9 493.3L564.9 495.1L565.9 497.0L566.9 499.1L567.9 501.3L568.9 503.6L569.9 506.1L570.8 508.8L571.8 511.6L572.8 514.6L573.8 517.9L574.8 521.4L575.8 525.2L576.8 529.4L577.7 534.1L578.7 539.9L579.7 550.0L630.2 550.0L631.0 535.2L631.9 526.9L632.8 519.9L633.7 513.8L634.5 508.3L635.4 503.2L636.3 498.4L637.1 494.0L638.0 489.8L638.9 485.9L639.7 482.3L640.6 478.8L641.5 475.6L642.3 472.6L643.2 469.7L644.1 467.1L644.9 464.6L645.8 462.3L646.7 460.2L647.5 458.3L648.4 456.6L649.3 455.0L650.2 453.7L651.0 452.5L651.9 451.5L652.8 450.6L653.6 449.9L654.5 449.5L655.4 449.2L656.2 449.0L657.1 449.1L658.0 449.3L658.8 449.7L659.7 450.3L660.6 451.1L661.4 452.1L662.3 453.2L663.2 454.5L664.1 456.0L664.9 457.7L665.8 459.6L666.7 461.7L667.5 464.0L668.4 466.4L669.3 469.1L670.1 471.9L671.0 474.9L671.9 478.2L672.7 481.7L673.6 485.3L674.5 489.3L675.3 493.5L676.2 497.9L677.1 502.7L677.9 507.8L678.8 513.4L679.7 519.6L680.6 526.6L681.4 535.1L682.3 550.0L734.4 550.0L735.3 536.5L736.2 528.8L737.1 522.5L738.0 516.9L738.9 511.8L739.7 507.2L740.6 502.9L741.5 498.9L742.4 495.1L743.3 491.6L744.2 488.3L745.1 485.2L746.0 482.3L746.9 479.6L747.7 477.0L748.6 474.7L749.5 472.6L750.4 470.6L751.3 468.8L752.2 467.2L753.1 465.7L754.0 464.4L754.9 463.4L755.7 462.4L756.6 461.7L757.5 461.1L758.4 460.7L759.3 460.5L760.2 460.4L761.1 460.5L762.0 460.8L762.9 461.1L763.8 461.7L764.6 462.4L765.5 463.2L766.4 464.2L767.3 465.3L768.2 466.6L769.1 468.1L770.0 469.6L770.9 471.4L771.8 473.3L772.6 475.3L773.5 477.5L774.4 479.9L775.3 482.4L776.2 485.1L777.1 487.9L778.0 491.0L778.9 494.2L779.8 497.6L780.6 501.2L781.5 505.1L782.4 509.2L783.3 513.7L784.2 518.5L785.1 523.8L786.0 529.9L786.9 537.2L787.8 550.0L839.7 550.0L840.5 541.0L841.4 535.9L842.3 531.7L843.1 528.0L844.0 524.6L844.9 521.5L845.7 518.6L846.6 515.9L847.5 513.3L848.4 510.9L849.2 508.7L850.1 506.5L851.0 504.5L851.8 502.6L852.7 500.8L853.6 499.1L854.4 497.6L855.3 496.1L856.2 494.7L857.0 493.5L857.9 492.3L858.8 491.3L859.6 490.3L860.5 489.4L861.4 488.7L862.2 488.0L863.1 487.5L864.0 487.0L864.9 486.6L865.7 486.4L866.6 486.2L867.5 486.1L868.3 486.2L869.2 486.4L870.1 486.7L870.9 487.1L871.8 487.7L872.7 488.4L873.5 489.3L874.4 490.2L875.3 491.3L876.1 492.6L877.0 493.9L877.9 495.5L878.8 497.1L879.6 498.9L880.5 500.8L881.4 502.9L882.2 505.1L883.1 507.5L884.0 510.1L884.8 512.8L885.7 515.7L886.6 518.8L887.4 522.2L888.3 525.9L889.2 529.9L890.0 534.6L890.9 540.2L891.8 550.0L940.6 550.0L941.5 542.3L942.3 537.9L943.2 534.3L944.1 531.1L944.9 528.3L945.8 525.6L946.7 523.2L947.5 520.9L948.4 518.7L949.3 516.7L950.1 514.8L951.0 513.1L951.9 511.4L952.7 509.9L953.6 508.5L954.5 507.1L955.4 505.9L956.2 504.8L957.1 503.8L958.0 502.8L958.8 502.0L959.7 501.3L960.6 500.7L961.4 500.2L962.3 499.7L963.2 499.4L964.0 499.2L964.9 499.0L965.8 499.0L966.6 499.1L967.5 499.2L968.4 499.4L969.2 499.8L970.1 500.1L971.0 500.6L971.9 501.2L972.7 501.8L973.6 502.6L974.5 503.4L975.3 504.3L976.2 505.3L977.1 506.4L977.9 507.5L978.8 508.8L979.7 510.1L980.5 511.5L981.4 513.1L982.3 514.7L983.1 516.4L984.0 518.2L984.9 520.2L985.7 522.3L986.6 524.5L987.5 526.8L988.4 529.3L989.2 532.1L990.1 535.1L991.0 538.5L991.8 542.7L992.7 550.0L1045.0 550.0L1045.9 541.7L1046.7 536.9L1047.6 533.0L1048.4 529.5L1049.3 526.4L1050.1 523.5L1051.0 520.9L1051.8 518.4L1052.7 516.0L1053.5 513.8L1054.4 511.7L1055.2 509.8L1056.1 508.0L1056.9 506.3L1057.8 504.7L1058.6 503.2L1059.5 501.8L1060.3 500.5L1061.2 499.3L1062.0 498.2L1062.9 497.3L1063.7 496.4L1064.6 495.6L1065.5 495.0L1066.3 494.4L1067.2 493.9L1068.0 493.6L1068.9 493.3L1069.7 493.1L1070.6 493.1L1071.4 493.1L1072.3 493.3L1073.1 493.5L1074.0 493.8L1074.8 494.3L1075.7 494.8L1076.5 495.5L1077.4 496.3L1078.2 497.1L1079.1 498.1L1079.9 499.1L1080.8 500.3L1081.6 501.6L1082.5 503.0L1083.3 504.5L1084.2 506.1L1085.0 507.8L1085.9 509.6L1086.7 511.6L1087.6 513.6L1088.4 515.8L1089.3 518.2L1090.1 520.7L1091.0 523.4L1091.8 526.3L1092.7 529.4L1093.5 532.9L1094.4 536.9L1095.2 541.6L1096.1 550.0L1145.9 550.0L1146.8 543.0L1147.7 539.1L1148.5 535.8L1149.4 532.9L1150.3 530.3L1151.1 527.9L1152.0 525.6L1152.9 523.5L1153.8 521.6L1154.6 519.7L1155.5 518.0L1156.4 516.4L1157.2 514.8L1158.1 513.4L1159.0 512.1L1159.8 510.8L1160.7 509.7L1161.6 508.6L1162.4 507.6L1163.3 506.7L1164.2 505.9L1165.0 505.2L1165.9 504.6L1166.8 504.0L1167.7 503.5L1168.5 503.2L1169.4 502.9L1170.3 502.6L1171.1 502.5L1172.0 502.5L1172.9 502.5L1173.7 502.6L1174.6 502.9L1175.5 503.2L1176.3 503.5L1177.2 504.0L1178.1 504.6L1178.9 505.2L1179.8 505.9L1180.7 506.7L1181.5 507.6L1182.4 508.6L1183.3 509.7L1184.2 510.8L1185.0 512.1L1185.9 513.4L1186.8 514.8L1187.6 516.4L1188.5 518.0L1189.4 519.7L1190.2 521.6L1191.1 523.5L1192.0 525.6L1192.8 527.9L1193.7 530.3L1194.6 532.9L1195.4 535.8L1196.3 539.1L1197.2 543.0L1198.1 550.0L1251.2 550.0L1252.4 544.7L1253.5 543.0L1254.7 541.7L1255.8 540.8L1257.0 540.0L1258.1 539.4L1259.3 538.8L1260.5 538.4L1261.6 538.0L1262.8 537.6L1263.9 537.3L1265.1 537.1L1266.3 536.8L1267.4 536.6L1268.6 536.4L1269.7 536.2L1270.9 536.0L1272.0 535.8L1273.2 535.7L1274.4 535.5L1275.5 535.3L1276.7 535.2L1277.8 535.0L1279.0 534.8L1280.2 534.6L1281.3 534.4L1282.5 534.1L1283.6 533.9L1284.8 533.7L1285.9 533.5L1287.1 533.4L1288.3 533.2L1289.4 533.0L1290.6 532.8L1291.7 532.6L1292.9 532.4L1294.0 532.3L1295.2 532.2L1296.4 532.2L1297.5 532.2L1298.7 532.3L1299.8 532.4L1301.0 532.5L1302.2 532.7L1303.3 532.9L1304.5 533.1L1305.6 533.5L1306.8 533.9L1307.9 534.4L1309.1 534.9L1310.3 535.4L1311.4 536.1L1312.6 536.8L1313.7 537.6L1314.9 538.5L1316.1 539.5L1317.2 540.7L1318.4 542.1L1319.5 544.2L1320.7 550.0L1373.2 550.0L1374.2 545.3L1375.1 542.7L1376.1 540.5L1377.0 538.6L1378.0 536.8L1378.9 535.2L1379.9 533.7L1380.8 532.3L1381.8 531.0L1382.8 529.7L1383.7 528.5L1384.7 527.4L1385.6 526.3L1386.6 525.3L1387.5 524.4L1388.5 523.5L1389.4 522.7L1390.4 521.9L1391.4 521.2L1392.3 520.5L1393.3 519.9L1394.2 519.3L1395.2 518.8L1396.1 518.3L1397.1 517.9L1398.0 517.5L1399.0 517.2L1399.9 516.9L1400.9 516.7L1401.9 516.6L1402.8 516.4L1403.8 516.4L1404.7 516.3L1405.7 516.4L1406.6 516.5L1407.6 516.7L1408.5 517.0L1409.5 517.3L1410.4 517.7L1411.4 518.2L1412.4 518.7L1413.3 519.4L1414.3 520.1L1415.2 520.9L1416.2 521.7L1417.1 522.7L1418.1 523.7L1419.0 524.8L1420.0 526.0L1420.9 527.2L1421.9 528.6L1422.9 530.0L1423.8 531.6L1424.8 533.3L1425.7 535.1L1426.7 537.1L1427.6 539.2L1428.6 541.7L1429.5 544.7L1430.5 550.0L1477.0 550.0L1477.8 538.7L1478.6 532.2L1479.4 526.9L1480.2 522.2L1481.0 517.9L1481.8 514.0L1482.6 510.3L1483.4 506.9L1484.2 503.7L1485.0 500.7L1485.7 497.8L1486.5 495.1L1487.3 492.6L1488.1 490.2L1488.9 487.9L1489.7 485.8L1490.5 483.8L1491.3 482.0L1492.1 480.3L1492.9 478.7L1493.7 477.3L1494.5 475.9L1495.3 474.8L1496.0 473.7L1496.8 472.8L1497.6 472.0L1498.4 471.3L1499.2 470.7L1500.0 470.3L1500.8 470.0L1501.6 469.9L1502.4 469.8L1503.2 469.9L1504.0 470.2L1504.8 470.6L1505.6 471.2L1506.4 472.0L1507.1 472.9L1507.9 474.0L1508.7 475.2L1509.5 476.6L1510.3 478.2L1511.1 480.0L1511.9 481.9L1512.7 483.9L1513.5 486.2L1514.3 488.6L1515.1 491.2L1515.9 494.0L1516.7 497.0L1517.5 500.2L1518.2 503.6L1519.0 507.2L1519.8 511.1L1520.6 515.3L1521.4 519.9L1522.2 525.0L1523.0 530.8L1523.8 537.7L1524.6 550.0L1570.9 550.0L1571.8 542.1L1572.6 537.6L1573.5 534.0L1574.3 530.7L1575.2 527.9L1576.0 525.2L1576.9 522.8L1577.7 520.6L1578.6 518.6L1579.4 516.8L1580.3 515.1L1581.1 513.6L1582.0 512.3L1582.8 511.1L1583.7 510.0L1584.5 509.1L1585.4 508.4L1586.2 507.8L1587.1 507.4L1587.9 507.1L1588.8 506.9L1589.6 506.9L1590.5 507.0L1591.3 507.1L1592.2 507.2L1593.0 507.4L1593.9 507.7L1594.7 508.0L1595.6 508.3L1596.5 508.7L1597.3 509.1L1598.2 509.6L1599.0 510.1L1599.9 510.6L1600.7 511.2L1601.6 511.9L1602.4 512.6L1603.3 513.4L1604.1 514.2L1605.0 515.0L1605.8 515.9L1606.7 516.9L1607.5 517.9L1608.4 518.9L1609.2 520.0L1610.1 521.2L1610.9 522.4L1611.8 523.7L1612.6 525.0L1613.5 526.4L1614.3 527.9L1615.2 529.5L1616.0 531.1L1616.9 532.9L1617.7 534.8L1618.6 536.8L1619.4 539.0L1620.3 541.6L1621.1 544.6L1622.0 550.0L1623.2 550.0L1623.8 548.6L1624.4 547.8L1625.0 547.2L1625.6 546.6L1626.2 546.1L1626.9 545.6L1627.5 545.1L1628.1 544.7L1628.7 544.3L1629.3 543.9L1629.9 543.6L1630.5 543.2L1631.1 542.9L1631.7 542.6L1632.3 542.3L1632.9 542.0L1633.5 541.8L1634.1 541.5L1634.7 541.3L1635.3 541.1L1635.9 540.9L1636.5 540.7L1637.1 540.5L1637.7 540.4L1638.3 540.3L1638.9 540.1L1639.5 540.0L1640.1 539.9L1640.7 539.8L1641.3 539.8L1641.9 539.7L1642.5 539.7L1643.1 539.6L1643.7 539.6L1644.3 539.6L1644.9 539.6L1645.5 539.7L1646.2 539.8L1646.8 539.9L1647.4 540.0L1648.0 540.1L1648.6 540.3L1649.2 540.5L1649.8 540.7L1650.4 541.0L1651.0 541.3L1651.6 541.6L1652.2 541.9L1652.8 542.3L1653.4 542.7L1654.0 543.1L1654.6 543.6L1655.2 544.1L1655.8 544.6L1656.4 545.2L1657.0 545.8L1657.6 546.5L1658.2 547.3L1658.8 548.3L1659.4 550.0L1709.1 550.0L1710.1 543.9L1711.1 540.4L1712.1 537.5L1713.1 535.0L1714.1 532.7L1715.1 530.6L1716.1 528.6L1717.1 526.7L1718.1 525.0L1719.1 523.3L1720.1 521.7L1721.1 520.3L1722.1 518.9L1723.1 517.5L1724.2 516.3L1725.2 515.1L1726.2 514.0L1727.2 512.9L1728.2 512.0L1729.2 511.1L1730.2 510.2L1731.2 509.4L1732.2 508.7L1733.2 508.0L1734.2 507.4L1735.2 506.9L1736.2 506.5L1737.2 506.1L1738.2 505.7L1739.2 505.4L1740.3 505.2L1741.3 505.1L1742.3 505.0L1743.3 505.0L1744.3 505.0L1745.3 505.2L1746.3 505.5L1747.3 505.8L1748.3 506.3L1749.3 506.9L1750.3 507.6L1751.3 508.4L1752.3 509.4L1753.3 510.4L1754.3 511.5L1755.3 512.8L1756.4 514.1L1757.4 515.6L1758.4 517.2L1759.4 518.9L1760.4 520.7L1761.4 522.7L1762.4 524.8L1763.4 527.1L1764.4 529.6L1765.4 532.3L1766.4 535.2L1767.4 538.6L1768.4 542.7L1769.4 550.0L1822.8 550.0L1823.8 539.1L1824.8 532.9L1825.8 527.8L1826.7 523.2L1827.7 519.2L1828.7 515.4L1829.7 511.9L1830.7 508.6L1831.7 505.6L1832.7 502.7L1833.6 500.0L1834.6 497.5L1835.6 495.2L1836.6 492.9L1837.6 490.9L1838.6 489.0L1839.6 487.2L1840.5 485.6L1841.5 484.1L1842.5 482.7L1843.5 481.5L1844.5 480.4L1845.5 479.5L1846.5 478.7L1847.4 478.0L1848.4 477.5L1849.4 477.1L1850.4 476.9L1851.4 476.7L1852.4 476.8L1853.4 476.9L1854.3 477.2L1855.3 477.6L1856.3 478.1L1857.3 478.7L1858.3 479.5L1859.3 480.4L1860.3 481.4L1861.2 482.6L1862.2 483.8L1863.2 485.2L1864.2 486.8L1865.2 488.4L1866.2 490.2L1867.2 492.1L1868.1 494.2L1869.1 496.4L1870.1 498.7L1871.1 501.2L1872.1 503.9L1873.1 506.7L1874.1 509.7L1875.0 512.9L1876.0 516.3L1877.0 520.0L1878.0 524.0L1879.0 528.4L1880.0 533.3L1881.0 539.4L1881.9 550.0L1932.0 550.0L1932.8 533.7L1933.7 524.5L1934.5 516.9L1935.4 510.1L1936.2 504.1L1937.1 498.4L1937.9 493.2L1938.8 488.4L1939.6 483.8L1940.5 479.6L1941.3 475.6L1942.2 471.8L1943.0 468.3L1943.9 465.0L1944.7 462.0L1945.6 459.1L1946.4 456.5L1947.2 454.1L1948.1 451.9L1948.9 449.9L1949.8 448.1L1950.6 446.5L1951.5 445.1L1952.3 443.9L1953.2 443.0L1954.0 442.2L1954.9 441.6L1955.7 441.3L1956.6 441.1L1957.4 441.1L1958.3 441.4L1959.1 441.8L1960.0 442.4L1960.8 443.2L1961.7 444.1L1962.5 445.3L1963.4 446.6L1964.2 448.2L1965.1 449.9L1965.9 451.8L1966.7 453.9L1967.6 456.1L1968.4 458.6L1969.3 461.3L1970.1 464.1L1971.0 467.2L1971.8 470.5L1972.7 473.9L1973.5 477.6L1974.4 481.6L1975.2 485.8L1976.1 490.2L1976.9 494.9L1977.8 500.0L1978.6 505.5L1979.5 511.4L1980.3 517.9L1981.2 525.3L1982.0 534.2L1982.9 550.0L2036.2 550.0L2037.1 537.4L2037.9 530.2L2038.8 524.3L2039.6 519.1L2040.5 514.4L2041.3 510.0L2042.2 506.0L2043.0 502.2L2043.9 498.7L2044.7 495.4L2045.6 492.3L2046.4 489.4L2047.3 486.7L2048.1 484.1L2049.0 481.7L2049.8 479.5L2050.7 477.5L2051.5 475.6L2052.4 473.9L2053.2 472.3L2054.1 470.9L2054.9 469.7L2055.8 468.6L2056.6 467.6L2057.5 466.9L2058.3 466.3L2059.2 465.8L2060.0 465.5L2060.9 465.4L2061.8 465.4L2062.6 465.5L2063.5 465.8L2064.3 466.3L2065.2 466.9L2066.0 467.6L2066.9 468.5L2067.7 469.6L2068.6 470.7L2069.4 472.1L2070.3 473.5L2071.1 475.1L2072.0 476.9L2072.8 478.8L2073.7 480.9L2074.5 483.1L2075.4 485.5L2076.2 488.0L2077.1 490.8L2077.9 493.6L2078.8 496.7L2079.6 499.9L2080.5 503.4L2081.3 507.1L2082.2 511.0L2083.0 515.3L2083.9 519.9L2084.7 525.0L2085.6 530.8L2086.4 537.7L2087.3 550.0L2141.3 550.0L2142.1 540.8L2143.0 535.5L2143.9 531.2L2144.7 527.3L2145.6 523.9L2146.5 520.7L2147.3 517.7L2148.2 514.9L2149.1 512.3L2150.0 509.9L2150.8 507.6L2151.7 505.4L2152.6 503.3L2153.4 501.4L2154.3 499.6L2155.2 498.0L2156.0 496.4L2156.9 494.9L2157.8 493.6L2158.6 492.4L2159.5 491.3L2160.4 490.3L2161.2 489.4L2162.1 488.6L2163.0 487.9L2163.8 487.4L2164.7 486.9L2165.6 486.5L2166.5 486.3L2167.3 486.2L2168.2 486.1L2169.1 486.2L2169.9 486.5L2170.8 486.8L2171.7 487.2L2172.5 487.8L2173.4 488.5L2174.3 489.3L2175.1 490.2L2176.0 491.3L2176.9 492.5L2177.7 493.8L2178.6 495.2L2179.5 496.7L2180.4 498.4L2181.2 500.2L2182.1 502.1L2183.0 504.2L2183.8 506.4L2184.7 508.7L2185.6 511.2L2186.4 513.9L2187.3 516.7L2188.2 519.8L2189.0 523.1L2189.9 526.6L2190.8 530.6L2191.6 535.1L2192.5 540.5L2193.4 550.0L2240.9 550.0L2241.4 545.1L2241.8 542.4L2242.2 540.1L2242.7 538.0L2243.1 536.2L2243.5 534.4L2244.0 532.8L2244.4 531.3L2244.9 529.8L2245.3 528.4L2245.7 527.1L2246.2 525.8L2246.6 524.5L2247.0 523.3L2247.5 522.2L2247.9 521.0L2248.3 519.9L2248.8 518.9L2249.2 517.9L2249.6 516.9L2250.1 515.9L2250.5 515.0L2250.9 514.1L2251.4 513.2L2251.8 512.4L2252.2 511.5L2252.7 510.7L2253.1 510.0L2253.5 509.2L2254.0 508.5L2254.4 507.8L2254.8 507.1L2255.3 506.5L2255.7 505.9L2256.1 505.3L2256.6 504.7L2257.0 504.2L2257.4 503.6L2257.9 503.1L2258.3 502.7L2258.7 502.2L2259.2 501.8L2259.6 501.4L2260.1 501.0L2260.5 500.6L2260.9 500.3L2261.4 500.0L2261.8 499.7L2262.2 499.4L2262.7 499.2L2263.1 499.0L2263.5 498.8L2264.0 498.6L2264.4 498.4L2264.8 498.3L2265.3 498.2L2265.7 498.1L2266.1 498.1L2266.6 498.0L2267.0 498.0" stroke="#0000ff" stroke-dasharray="17.5 17.8"/></g>
<g stroke-width="1" stroke-linejoin="round"><path d="M196.5 1282.9l1 2.2l1 -1.7l1 0.8l1 -1.9l1 0.7l1 1.1l1 -1.4l1 0.3l1 0.2l1 -3.5l1 0.6l1 2.7l1 -0.3l1 1.2l1 0.3l1 -0.2l1 -0.4l1 0.9l1 -1.3l1 -2.8l1 3.5l1 -0.4l1 -1.0l1 1.1l1 0.3l1 0.8l1 -1.0l1 1.7l1 -1.2l1 0.8l1 -1.1l1 1.0l1 0.4l1 -1.5l1 1.1l1 -0.7l1 -0.1l1 -0.2l1 -0.6l1 1.7l1 -0.4l1 0.7l1 -2.7l1 0.6l1 -0.6l1 -1.5l1 1.2l1 2.2l1 0.5l1 -1.0l1 -2.3l1 2.8l1 -0.2l1 -0.5l1 -3.1l1 3.8l1 -1.7l1 0.6l1 1.1l1 -0.8l1 -2.0l1 2.8l1 -0.2l1 -0.1l1 -0.2l1 -0.7l1 0.1l1 -0.4l1 0.2l1 -1.6l1 1.9l1 -1.5l1 1.8l1 -0.8l1 0.3l1 0.3l1 -1.1l1 0.4l1 0.8l1 -1.5l1 1.0l1 0.7l1 -0.2l1 0.5l1 0.6l1 0.1l1 -1.5l1 -0.7l1 0.7l1 -2.0l1 0.8l1 0.7l1 -1.7l1 1.3l1 -2.0l1 2.6l1 -0.9l1 0.2l1 0.4l1 -1.7l1 0.8l1 -0.2l1 0.3l1 0.6l1 -0.7l1 -1.7l1 2.0l1 -1.1l1 1.4l1 -0.9l1 2.0l1 -0.1l1 -1.6l1 0.4l1 -0.7l1 1.8l1 -0.8l1 -0.0l1 0.6l1 -0.0l1 0.1l1 -0.5l1 -0.4l1 -0.5l1 0.4l1 0.7l1 -1.6l1 -0.4l1 1.7l1 -1.7l1 1.3l1 -0.1l1 -0.5l1 0.8l1 0.4l1 -2.3l1 2.2l1 -0.2l1 0.5l1 -0.4l1 0.1l1 -0.6l1 1.0l1 -1.4l1 2.1l1 -0.6l1 0.9l1 -3.2l1 1.7l1 -0.1l1 -0.3l1 0.9l1 -0.9l1 0.3l1 -3.3l1 -0.8l1 2.9l1 -1.0l1 1.6l1 -0.6l1 0.6l1 0.5l1 -0.2l1 -1.6l1 0.1l1 0.4l1 -1.9l1 2.0l1 0.8l1 0.7l1 -1.6l1 1.8l1 -0.7l1 -3.1l1 4.3l1 -4.1l1 1.3l1 -1.3l1 0.9l1 1.3l1 -2.6l1 2.7l1 -1.2l1 -0.3l1 -0.4l1 0.2l1 -0.3l1 1.6l1 -0.1l1 -0.5l1 -0.6l1 -0.1l1 2.1l1 -0.4l1 -1.0l1 0.9l1 0.6l1 -1.3l1 -2.1l1 4.1l1 -0.6l1 0.6l1 -0.9l1 0.3l1 -0.4l1 -2.6l1 3.9l1 -0.4l1 -0.9l1 -1.4l1 -7.6l1 -3.2l1 -0.4l1 -0.9l1 0.2l1 1.1l1 -0.3l1 -0.7l1 -1.0l1 1.2l1 -0.7l1 2.1l1 0.0l1 -0.7l1 -0.8l1 1.1l1 -1.3l1 0.7l1 -1.6l1 1.3l1 -1.5l1 0.7l1 0.1l1 1.1l1 -0.1l1 -3.1l1 2.9l1 -1.6l1 -0.5l1 1.1l1 0.4l1 1.5l1 -1.7l1 1.6l1 -1.8l1 -0.0l1 0.8l1 -0.5l1 0.0l1 0.5l1 0.7l1 -1.0l1 1.1l1 1.0l1 -1.1l1 0.6l1 0.5l1 -0.6l1 -0.7l1 0.7l1 -1.5l1 -0.3l1 -0.8l1 1.4l1 -0.0l1 -2.5l1 1.8l1 -0.3l1 0.9l1 -1.6l1 0.4l1 -2.2l1 2.4l1 -1.6l1 1.4l1 0.9l1 -2.6l1 2.5l1 -0.2l1 1.2l1 -0.3l1 0.7l1 -1.4l1 0.4l1 -0.3l1 0.3l1 0.3l1 -1.4l1 1.7l1 -3.9l1 4.2l1 -3.9l1 0.6l1 1.1l1 0.7l1 0.1l1 0.4l1 -0.0l1 -0.3l1 1.2l1 1.3l1 -1.1l1 -0.7l1 -2.9l1 3.1l1 -0.7l1 0.9l1 -0.8l1 -0.7l1 -0.3l1 1.6l1 -0.2l1 -1.6l1 0.5l1 0.2l1 -0.7l1 1.1l1 -0.0l1 0.7l1 -1.1l1 0.8l1 -0.1l1 0.4l1 -1.2l1 0.7l1 0.4l1 -0.4l1 1.2l1 -2.4l1 -0.4l1 0.1l1 -0.2l1 0.9l1 -0.1l1 0.4l1 -2.9l1 3.2l1 -0.6l1 -1.2l1 0.2l1 0.7l1 0.7l1 0.6l1 -1.0l1 0.1l1 -1.6l1 1.7l1 -0.6l1 1.1l1 -0.2l1 -0.2l1 -0.0l1 -2.1l1 2.0l1 -1.7l1 1.2l1 1.8l1 -0.5l1 -1.2l1 0.6l1 -1.8l1 0.9l1 1.0l1 -0.1l1 -0.4l1 -2.0l1 2.1l1 -3.5l1 3.0l1 -0.1l1 1.1l1 -0.5l1 0.1l1 1.3l1 -0.6l1 -1.1l1 1.2l1 -0.7l1 -2.7l1 -0.3l1 2.5l1 0.2l1 -0.6l1 1.0l1 -2.7l1 2.3l1 -4.4l1 4.0l1 -1.8l1 0.5l1 -0.4l1 0.8l1 -1.0l1 -0.3l1 0.1l1 -0.0l1 -1.2l1 2.8l1 -0.1l1 -0.3l1 0.8l1 1.1l1 -1.5l1 -2.6l1 2.3l1 -0.1l1 0.9l1 -2.5l1 2.2l1 -0.3l1 1.5l1 0.7l1 -1.5l1 0.6l1 -2.6l1 3.9l1 -6.0l1 -7.4l1 -2.8l1 -0.6l1 0.7l1 -1.5l1 1.3l1 -0.4l1 1.0l1 -0.5l1 -3.1l1 2.7l1 -2.9l1 0.7l1 1.3l1 0.1l1 -0.2l1 -2.6l1 2.2l1 0.1l1 -0.1l1 -0.2l1 -2.3l1 2.5l1 -0.2l1 -0.4l1 -2.1l1 -0.8l1 1.6l1 -0.5l1 -0.4l1 1.3l1 1.0l1 0.3l1 -0.4l1 -0.2l1 0.4l1 -0.7l1 0.1l1 0.7l1 -1.7l1 0.7l1 1.0l1 -0.1l1 -0.1l1 -1.9l1 -0.4l1 1.2l1 1.4l1 -0.9l1 0.6l1 -2.4l1 0.6l1 0.5l1 0.5l1 -0.2l1 0.5l1 -0.4l1 0.6l1 -0.2l1 -2.3l1 0.6l1 0.4l1 1.2l1 -0.9l1 0.1l1 -0.0l1 0.5l1 0.0l1 -0.9l1 -0.0l1 0.1l1 -0.5l1 0.5l1 -1.0l1 -1.7l1 0.9l1 -0.7l1 1.0l1 -2.0l1 2.1l1 -1.3l1 -0.9l1 0.7l1 2.3l1 -1.3l1 -1.0l1 0.5l1 1.0l1 0.0l1 -0.8l1 -2.4l1 1.8l1 2.2l1 0.2l1 -4.6l1 3.5l1 0.3l1 1.5l1 -2.1l1 1.5l1 -3.3l1 2.6l1 1.3l1 -1.6l1 -1.1l1 -0.6l1 3.6l1 -1.5l1 1.3l1 0.7l1 -0.9l1 -1.2l1 0.3l1 0.2l1 0.6l1 -0.8l1 0.6l1 0.3l1 -2.4l1 0.9l1 0.8l1 -0.9l1 0.0l1 -0.8l1 1.2l1 -0.4l1 -0.4l1 -0.5l1 -0.2l1 -0.7l1 -0.2l1 -3.0l1 2.8l1 0.4l1 0.7l1 -2.8l1 -1.3l1 4.2l1 -0.5l1 -0.3l1 0.6l1 -1.0l1 1.2l1 -0.8l1 -1.7l1 0.9l1 -2.4l1 1.3l1 1.9l1 0.5l1 0.3l1 -0.8l1 -2.4l1 3.5l1 0.7l1 -2.4l1 -0.2l1 1.0l1 -0.5l1 -0.5l1 0.8l1 -0.1l1 -1.7l1 1.2l1 -0.8l1 -0.3l1 -0.3l1 0.0l1 -1.6l1 4.0l1 -1.8l1 -3.7l1 4.8l1 -0.3l1 0.2l1 -0.3l1 0.3l1 -1.0l1 0.7l1 0.5l1 0.7l1 -0.2l1 -1.0l1 1.8l1 0.3l1 -0.8l1 0.0l1 -0.6l1 0.9l1 -1.2l1 0.9l1 -1.3l1 -0.9l1 0.1l1 -0.4l1 -3.0l1 3.1l1 1.2l1 -1.2l1 1.9l1 0.1l1 -0.4l1 -0.2l1 -0.2l1 -2.9l1 1.5l1 -6.0l1 -10.2l1 1.4l1 -0.2l1 -1.3l1 1.5l1 -4.1l1 1.7l1 1.1l1 1.0l1 -0.2l1 0.2l1 -1.2l1 1.1l1 -0.5l1 -2.4l1 -0.9l1 1.6l1 1.3l1 -0.0l1 1.0l1 -1.3l1 -0.7l1 2.0l1 -2.6l1 2.1l1 1.3l1 -0.5l1 0.3l1 0.3l1 -2.0l1 -0.8l1 2.1l1 -1.7l1 1.1l1 0.6l1 0.1l1 -1.5l1 0.7l1 1.3l1 0.1l1 -1.0l1 -1.3l1 2.3l1 -0.1l1 -2.2l1 1.9l1 -0.4l1 -1.4l1 -1.5l1 0.4l1 1.8l1 0.5l1 0.5l1 0.0l1 -1.5l1 1.4l1 -0.7l1 0.3l1 -3.0l1 2.7l1 0.8l1 -0.1l1 -0.4l1 0.1l1 -0.9l1 0.5l1 -0.3l1 -0.0l1 -0.5l1 -2.2l1 2.4l1 -1.0l1 1.1l1 0.3l1 -0.4l1 0.7l1 -3.5l1 1.1l1 2.4l1 -0.2l1 -2.0l1 0.7l1 -1.9l1 4.7l1 -1.6l1 -0.2l1 -0.2l1 1.4l1 -1.6l1 2.0l1 -2.1l1 0.4l1 -0.9l1 1.0l1 -0.7l1 0.9l1 -0.4l1 -0.1l1 1.5l1 -4.4l1 4.4l1 0.4l1 0.3l1 0.1l1 -2.8l1 0.7l1 1.5l1 -0.9l1 0.4l1 0.2l1 -0.9l1 0.7l1 -2.7l1 2.1l1 0.1l1 -0.5l1 -0.7l1 0.5l1 0.8l1 -0.9l1 1.6l1 -0.6l1 0.8l1 -2.0l1 0.6l1 0.5l1 0.6l1 -0.8l1 -2.5l1 3.6l1 -2.2l1 2.6l1 -0.8l1 1.2l1 -0.6l1 -1.3l1 1.2l1 -1.9l1 1.1l1 -1.9l1 1.2l1 -0.8l1 1.2l1 -1.3l1 0.5l1 0.5l1 -0.7l1 -0.9l1 1.3l1 -1.1l1 0.0l1 1.5l1 -3.8l1 1.9l1 1.5l1 -1.2l1 1.5l1 -0.8l1 -1.6l1 1.7l1 -1.3l1 1.8l1 0.4l1 -0.2l1 0.5l1 -1.0l1 -0.2l1 -0.3l1 0.8l1 -1.4l1 2.3l1 0.3l1 -3.4l1 2.3l1 0.1l1 -0.5l1 0.3l1 0.5l1 -0.6l1 -0.0l1 0.6l1 0.2l1 0.1l1 0.2l1 0.1l1 -0.0l1 -2.6l1 -1.2l1 4.6l1 0.0l1 0.3l1 -1.2l1 0.3l1 -0.3l1 -1.5l1 2.4l1 -0.1l1 -1.6l1 1.0l1 -0.9l1 -0.6l1 -1.2l1 1.8l1 -0.1l1 -0.8l1 0.1l1 -0.5l1 -1.3l1 6.2l1 2.2l1 2.6l1 1.2l1 3.9l1 2.6l1 1.3l1 1.3l1 -0.5l1 -1.3l1 1.0l1 0.4l1 -1.4l1 -2.2l1 2.3l1 -0.7l1 2.8l1 -0.8l1 -1.9l1 0.6l1 -0.4l1 -1.4l1 1.6l1 1.1l1 -1.5l1 1.6l1 -0.0l1 -0.4l1 -1.1l1 -4.6l1 5.3l1 -2.1l1 2.3l1 0.4l1 -2.4l1 1.7l1 -0.2l1 -0.4l1 -0.2l1 -1.7l1 1.2l1 1.6l1 -0.2l1 0.1l1 0.6l1 -0.9l1 -1.5l1 1.1l1 0.8l1 -1.4l1 1.1l1 0.5l1 -0.2l1 -4.1l1 3.4l1 -2.5l1 -1.4l1 4.4l1 -0.5l1 -1.3l1 0.3l1 0.5l1 -1.0l1 0.9l1 0.3l1 1.0l1 -1.2l1 -0.3l1 -0.4l1 0.4l1 0.8l1 -0.3l1 -2.3l1 2.9l1 0.3l1 -3.0l1 2.6l1 0.1l1 -2.9l1 2.1l1 -0.0l1 2.1l1 -1.0l1 -1.4l1 1.3l1 0.4l1 -0.1l1 -0.1l1 -2.1l1 1.4l1 -2.7l1 2.2l1 -2.8l1 2.5l1 0.2l1 -0.4l1 -1.0l1 1.1l1 -1.0l1 0.2l1 0.8l1 -0.8l1 0.9l1 0.5l1 -0.6l1 -0.2l1 0.8l1 -1.1l1 -0.8l1 1.1l1 1.0l1 -5.3l1 4.1l1 0.3l1 0.3l1 -0.7l1 1.5l1 0.2l1 -1.1l1 -1.8l1 2.2l1 -0.6l1 -1.8l1 2.2l1 -1.0l1 1.5l1 -1.2l1 0.1l1 -0.6l1 1.2l1 -1.6l1 1.2l1 -2.0l1 1.1l1 -0.5l1 2.0l1 -0.8l1 -2.9l1 3.5l1 -0.8l1 -0.1l1 -1.8l1 -0.1l1 1.1l1 -0.5l1 2.2l1 -0.0l1 -1.1l1 0.7l1 -2.9l1 1.9l1 1.1l1 -4.0l1 2.8l1 0.2l1 -0.5l1 1.7l1 -0.3l1 -1.3l1 0.5l1 -3.2l1 4.1l1 -1.1l1 0.5l1 0.3l1 0.5l1 -1.0l1 -0.3l1 -2.2l1 -0.1l1 2.6l1 -0.2l1 -0.1l1 -0.9l1 2.0l1 -0.3l1 -1.6l1 1.1l1 1.0l1 -0.8l1 0.1l1 -1.8l1 -2.0l1 -0.0l1 3.5l1 -3.1l1 1.2l1 1.0l1 2.0l1 -2.7l1 4.0l1 0.1l1 -1.7l1 -0.1l1 -0.2l1 1.0l1 -1.1l1 0.2l1 -1.1l1 0.1l1 0.4l1 -2.1l1 -0.6l1 2.8l1 1.8l1 8.6l1 1.1l1 2.0l1 -1.1l1 0.6l1 1.5l1 0.0l1 -1.0l1 1.5l1 -0.6l1 -0.4l1 1.0l1 -1.4l1 2.3l1 -0.2l1 -1.5l1 0.9l1 -0.2l1 -0.3l1 0.0l1 0.1l1 -4.3l1 5.1l1 -0.9l1 1.2l1 -3.9l1 4.7l1 -1.4l1 0.5l1 0.2l1 0.7l1 -1.0l1 -0.2l1 -1.7l1 -0.1l1 -0.2l1 1.9l1 -2.6l1 0.4l1 1.0l1 1.5l1 -0.5l1 -1.2l1 1.8l1 -0.8l1 0.0l1 -1.4l1 1.0l1 -0.0l1 -1.2l1 -1.9l1 2.2l1 0.4l1 -0.5l1 -0.3l1 1.1l1 -0.5l1 -4.8l1 5.0l1 0.4l1 -2.5l1 2.3l1 -2.8l1 3.1l1 -2.8l1 2.7l1 -1.0l1 -0.6l1 0.7l1 0.1l1 1.2l1 0.1l1 0.6l1 -1.1l1 2.1l1 -0.8l1 -2.2l1 0.6l1 0.9l1 -2.0l1 1.3l1 1.3l1 -2.2l1 0.1l1 2.3l1 -0.3l1 -0.7l1 -0.2l1 -0.2l1 -0.8l1 1.2l1 -0.0l1 -2.4l1 1.8l1 0.7l1 0.5l1 -0.8l1 1.4l1 0.5l1 -1.0l1 -1.0l1 1.0l1 -2.0l1 1.3l1 -0.0l1 -0.1l1 1.7l1 -0.6l1 -1.1l1 0.3l1 0.9l1 -1.2l1 0.6l1 -0.8l1 1.1l1 0.2l1 -1.0l1 0.5l1 -1.6l1 -1.3l1 2.1l1 0.2l1 0.3l1 -2.0l1 1.6l1 1.1l1 -0.0l1 -1.2l1 -4.2l1 4.0l1 -0.7l1 -0.3l1 1.6l1 -1.3l1 1.0l1 -0.3l1 -3.9l1 4.0l1 -0.7l1 0.8l1 0.6l1 0.4l1 0.2l1 -1.4l1 0.8l1 0.1l1 0.6l1 -0.1l1 -1.2l1 0.5l1 -1.5l1 2.2l1 0.0l1 -0.1l1 -1.2l1 -0.2l1 1.4l1 0.1l1 0.3l1 0.3l1 -0.1l1 -2.8l1 -0.5l1 1.9l1 -2.4l1 2.1l1 -0.9l1 1.2l1 -0.0l1 -0.8l1 1.4l1 -0.0l1 0.2l1 0.0l1 -0.1l1 -0.4l1 -2.1l1 2.6l1 -1.4l1 1.3l1 -0.6l1 -0.5l1 0.3l1 1.2l1 -0.3l1 -3.5l1 2.2l1 1.1l1 -0.7l1 -0.3l1 -4.2l1 5.3l1 0.6l1 -0.8l1 -3.0l1 2.9l1 -0.3l1 -3.6l1 3.3l1 0.6l1 0.9l1 -0.1l1 -0.9l1 -0.4l1 0.7l1 0.2l1 2.6l1 8.9l1 3.4l1 -1.1l1 -0.3l1 0.3l1 1.6l1 -1.3l1 1.1l1 -0.4l1 -1.0l1 -2.2l1 3.8l1 -0.6l1 0.1l1 -0.5l1 -1.8l1 0.9l1 1.3l1 -0.6l1 1.2l1 -1.1l1 0.9l1 -1.0l1 -0.8l1 0.4l1 -0.1l1 -0.7l1 2.0l1 -0.6l1 -3.0l1 3.1l1 0.0l1 -0.9l1 1.4l1 -1.5l1 1.5l1 -0.1l1 0.6l1 0.7l1 -0.4l1 -1.0l1 0.6l1 -0.6l1 0.7l1 -0.7l1 -0.4l1 1.2l1 0.1l1 -0.7l1 -0.2l1 0.7l1 -0.9l1 1.7l1 -0.8l1 -2.3l1 1.9l1 -3.1l1 3.2l1 -2.7l1 3.1l1 -1.1l1 -0.0l1 1.4l1 -0.7l1 0.8l1 -1.7l1 0.9l1 -1.2l1 1.0l1 -1.6l1 -2.1l1 4.2l1 -0.0l1 -1.4l1 0.0l1 0.3l1 -4.1l1 3.3l1 0.9l1 -1.7l1 -0.8l1 2.2l1 -0.5l1 -1.3l1 1.2l1 1.7l1 -1.6l1 1.1l1 -0.9l1 -2.9l1 -0.8l1 3.5l1 -1.7l1 2.6l1 -0.7l1 -0.3l1 0.6l1 0.3l1 -3.1l1 2.5l1 0.1l1 -1.0l1 1.2l1 0.9l1 -0.9l1 -2.4l1 2.1l1 0.3l1 -0.8l1 -1.6l1 1.9l1 0.1l1 0.2l1 -1.2l1 -0.3l1 0.4l1 -1.6l1 2.9l1 -1.8l1 0.8l1 -0.0l1 0.4l1 -0.3l1 -1.5l1 1.3l1 -4.0l1 3.8l1 -2.5l1 -0.1l1 0.9l1 1.3l1 -1.7l1 -0.1l1 0.3l1 -1.1l1 2.4l1 -0.4l1 -0.2l1 0.7l1 -1.3l1 0.8l1 -0.2l1 -2.0l1 0.8l1 0.2l1 2.6l1 -3.0l1 1.2l1 0.5l1 0.2l1 -0.7l1 -1.1l1 1.9l1 -2.6l1 3.0l1 -2.0l1 1.9l1 -1.0l1 0.3l1 0.5l1 -1.7l1 0.4l1 1.1l1 0.5l1 -3.5l1 2.5l1 -1.6l1 1.0l1 0.3l1 0.4l1 -2.6l1 1.7l1 1.1l1 0.1l1 -3.8l1 2.3l1 0.8l1 -4.4l1 4.8l1 -3.0l1 1.6l1 1.1l1 -1.3l1 -0.5l1 1.0l1 0.6l1 -0.7l1 -1.8l1 1.1l1 -4.3l1 5.2l1 0.6l1 -1.2l1 0.2l1 0.6l1 -0.2l1 -0.8l1 1.3l1 0.6l1 0.7l1 -0.5l1 0.6l1 -0.3l1 -1.0l1 0.8l1 0.4l1 -5.1l1 -7.4l1 -2.1l1 0.9l1 -0.0l1 0.2l1 -0.2l1 -2.4l1 1.5l1 0.9l1 -0.7l1 0.6l1 -0.1l1 -1.9l1 0.8l1 -1.2l1 1.3l1 -0.0l1 0.1l1 -3.3l1 1.7l1 1.2l1 -1.9l1 2.2l1 -0.1l1 -2.0l1 0.8l1 0.0l1 -0.6l1 2.3l1 -0.2l1 -0.1l1 -0.2l1 -1.8l1 -1.7l1 3.9l1 -2.2l1 0.1l1 -1.6l1 2.3l1 1.3l1 0.3l1 0.3l1 -4.0l1 4.0l1 -2.3l1 2.8l1 -0.4l1 -4.3l1 3.2l1 -1.0l1 -0.0l1 0.4l1 0.3l1 0.8l1 0.0l1 0.1l1 -0.9l1 -1.7l1 -0.5l1 2.0l1 -2.0l1 2.0l1 1.2l1 -1.4l1 0.2l1 -2.4l1 2.9l1 0.9l1 -0.5l1 -0.6l1 0.4l1 0.5l1 -1.0l1 -0.4l1 1.2l1 -2.9l1 1.6l1 2.2l1 -0.5l1 0.8l1 -0.6l1 -1.9l1 1.2l1 -0.1l1 -0.9l1 -1.3l1 -0.7l1 0.3l1 0.4l1 1.5l1 -0.7l1 -1.0l1 -0.4l1 2.2l1 0.7l1 -0.7l1 -2.2l1 2.7l1 0.5l1 -2.2l1 1.7l1 -0.2l1 -0.5l1 -0.4l1 -0.3l1 2.6l1 -3.0l1 0.8l1 1.8l1 -1.1l1 -0.7l1 1.4l1 -0.9l1 1.6l1 -0.7l1 0.1l1 0.5l1 -1.1l1 -0.2l1 0.3l1 -0.1l1 -0.3l1 -1.5l1 -0.2l1 1.9l1 0.5l1 -0.6l1 -0.4l1 1.9l1 -1.0l1 -0.1l1 0.4l1 -0.2l1 -2.0l1 -0.2l1 0.6l1 -0.2l1 1.5l1 0.2l1 -0.1l1 -1.0l1 1.0l1 0.5l1 -0.7l1 -0.1l1 -0.1l1 -0.8l1 1.7l1 -2.0l1 0.2l1 0.2l1 0.1l1 0.1l1 -1.5l1 2.5l1 -1.3l1 1.5l1 -0.0l1 -1.8l1 -1.0l1 3.0l1 -2.1l1 0.8l1 -1.2l1 1.4l1 0.3l1 0.1l1 -1.8l1 1.6l1 -1.5l1 0.7l1 1.2l1 -0.6l1 1.3l1 -3.9l1 3.4l1 0.1l1 1.0l1 -0.2l1 -0.6l1 0.8l1 -0.3l1 -0.1l1 0.4l1 -0.7l1 0.8l1 -1.2l1 0.4l1 -0.7l1 0.2l1 0.2l1 0.1l1 -0.4l1 0.2l1 -0.1l1 0.8l1 -0.8l1 1.0l1 0.5l1 -0.5l1 -1.5l1 1.1l1 -1.6l1 1.4l1 1.0l1 -1.2l1 7.1l1 5.4l1 2.4l1 0.4l1 -0.7l1 -2.0l1 -1.8l1 4.0l1 -0.2l1 1.2l1 -0.8l1 -1.3l1 -3.4l1 4.0l1 -0.4l1 -0.6l1 -0.9l1 0.8l1 1.5l1 -0.5l1 -0.2l1 0.4l1 0.1l1 -0.3l1 -0.5l1 0.3l1 0.2l1 -0.1l1 -0.3l1 -2.1l1 2.7l1 0.2l1 0.2l1 -0.4l1 -1.0l1 1.6l1 -3.2l1 3.1l1 -0.1l1 -1.2l1 0.1l1 0.8l1 -4.3l1 2.8l1 -0.8l1 -0.3l1 -0.2l1 -2.3l1 2.5l1 -0.2l1 1.4l1 -2.2l1 1.5l1 1.4l1 -0.4l1 0.1l1 0.5l1 -0.2l1 -1.7l1 2.3l1 -0.7l1 1.0l1 0.1l1 -2.0l1 0.9l1 0.2l1 -0.3l1 0.0l1 -0.0l1 -1.5l1 1.2l1 0.6l1 -1.1l1 0.8l1 0.2l1 -0.8l1 0.9l1 -1.7l1 -3.4l1 2.4l1 2.4l1 -1.1l1 1.4l1 -0.6l1 -2.0l1 0.9l1 -0.3l1 0.7l1 0.6l1 -1.6l1 1.0l1 -1.6l1 2.1l1 0.6l1 -1.3l1 0.2l1 0.7l1 0.5l1 0.3l1 -2.8l1 2.9l1 -2.7l1 3.6l1 -2.8l1 1.2l1 0.2l1 -1.6l1 1.0l1 0.3l1 -2.0l1 1.4l1 -0.2l1 -2.1l1 1.3l1 0.4l1 0.8l1 -1.1l1 0.8l1 -2.0l1 -1.6l1 2.1l1 0.5l1 -0.1l1 -0.2l1 0.9l1 -1.6l1 0.4l1 -2.4l1 1.3l1 2.3l1 -0.4l1 0.8l1 -0.7l1 -0.9l1 2.1l1 -0.2l1 -1.2l1 0.5l1 -0.0l1 0.0l1 -0.3l1 -2.6l1 2.8l1 -0.7l1 1.2l1 0.2l1 -1.3l1 1.7l1 -0.7l1 1.1l1 -0.5l1 -0.3l1 -1.2l1 1.1l1 0.2l1 0.4l1 -3.7l1 2.5l1 0.8l1 -0.2l1 -0.9l1 0.9l1 -2.0l1 0.8l1 0.1l1 -0.7l1 1.2l1 -0.0l1 1.4l1 -0.8l1 -1.0l1 0.4l1 -0.5l1 0.5l1 -0.9l1 1.0l1 -0.7l1 -1.0l1 1.4l1 -0.5l1 0.4l1 -0.9l1 -4.2l1 4.8l1 -1.6l1 1.6l1 -2.9l1 2.7l1 -3.4l1 2.9l1 0.5l1 -0.7l1 0.1l1 0.6l1 -1.4l1 0.3l1 -0.3l1 0.8l1 -1.8l1 1.6l1 -0.9l1 0.5l1 -0.3l1 -1.1l1 1.0l1 2.2l1 -1.4l1 -8.6l1 -7.0l1 -1.3l1 0.3l1 -0.9l1 -1.7l1 2.6l1 1.1l1 -0.1l1 -0.4l1 -0.1l1 -0.4l1 -0.8l1 -2.1l1 2.7l1 -0.1l1 0.1l1 -0.4l1 -0.7l1 1.0l1 -1.4l1 2.1l1 -0.7l1 0.1l1 -1.5l1 0.6l1 -1.2l1 0.4l1 0.7l1 -1.1l1 -4.4l1 4.6l1 -1.1l1 -1.3l1 2.6l1 0.4l1 0.8l1 -3.2l1 -0.3l1 -0.5l1 2.7l1 -0.2l1 -0.1l1 1.1l1 -0.5l1 1.0l1 -1.9l1 1.3l1 -0.8l1 0.9l1 -0.7l1 0.1l1 -0.4l1 -0.1l1 -0.3l1 -0.3l1 1.7l1 0.8l1 -1.7l1 0.6l1 -1.3l1 1.8l1 0.2l1 -0.7l1 -2.6l1 2.6l1 -0.6l1 0.2l1 0.6l1 1.2l1 -3.3l1 3.4l1 -0.9l1 -0.6l1 0.5l1 -1.1l1 -0.5l1 -0.5l1 0.5l1 1.2l1 0.1l1 -3.6l1 3.1l1 0.4l1 0.5l1 -3.9l1 3.4l1 -1.8l1 2.7l1 0.9l1 -0.3l1 -1.1l1 1.6l1 0.5l1 -1.1l1 -0.7l1 -2.0l1 1.5l1 0.1l1 0.6l1 -1.3l1 -1.4l1 -1.9l1 1.3l1 0.1l1 -1.4l1 2.7l1 -0.2l1 -3.7l1 4.2l1 0.1l1 0.7l1 -1.5l1 1.6l1 0.3l1 -0.5l1 -3.2l1 2.2l1 0.7l1 0.1l1 0.8l1 1.0l1 0.1l1 -1.3l1 -2.1l1 2.5l1 1.1l1 -1.1l1 0.8l1 -0.6l1 -1.3l1 0.6l1 -0.4l1 -4.0l1 2.7l1 -0.3l1 1.0l1 0.4l1 -0.3l1 -1.7l1 1.2l1 -3.5l1 3.4l1 -1.0l1 1.3l1 -0.1l1 -0.6l1 0.1l1 0.6l1 -0.6l1 -0.0l1 -0.1l1 0.7l1 0.4l1 -0.3l1 -0.1l1 0.9l1 -1.7l1 -3.2l1 3.7l1 0.2l1 -1.5l1 1.6l1 1.7l1 -0.5l1 -0.6l1 1.6l1 -0.8l1 -0.1l1 -0.0l1 -0.2l1 -2.1l1 2.2l1 -3.4l1 1.2l1 -0.1l1 2.0l1 -1.6l1 1.0l1 -3.8l1 1.4l1 1.9l1 -0.9l1 1.7l1 -0.6l1 -0.5l1 -2.2l1 2.3l1 0.9l1 -0.8l1 0.3l1 -1.4l1 2.4l1 -2.1l1 1.3l1 -0.0l1 0.2l1 0.1l1 -1.7l1 1.9l1 -3.4l1 2.0l1 0.2l1 -0.8l1 0.2l1 1.8l1 -3.6l1 3.0l1 -2.0L2269.5 1282.3l-1 3.9l-1 -1.0l-1 1.3l-1 -3.0l-1 -0.2l-1 0.8l-1 0.4l-1 2.2l-1 -3.2l-1 -0.1l-1 0.7l-1 -2.7l-1 3.3l-1 -2.7l-1 0.7l-1 2.6l-1 -2.9l-1 -0.1l-1 1.9l-1 -3.1l-1 5.2l-1 -4.1l-1 4.4l-1 -4.2l-1 1.6l-1 -1.6l-1 1.4l-1 4.8l-1 -5.5l-1 2.2l-1 1.5l-1 5.3l-1 -9.4l-1 0.4l-1 2.0l-1 4.5l-1 2.2l-1 -7.3l-1 0.8l-1 3.9l-1 -5.1l-1 0.3l-1 -0.5l-1 -0.8l-1 1.7l-1 1.5l-1 -1.8l-1 -0.9l-1 2.4l-1 0.4l-1 -1.4l-1 -2.3l-1 5.4l-1 -5.1l-1 -0.2l-1 0.8l-1 0.2l-1 4.6l-1 -3.9l-1 -0.9l-1 6.1l-1 -3.1l-1 -2.0l-1 -0.3l-1 -0.2l-1 -0.3l-1 5.4l-1 -4.8l-1 -0.7l-1 4.6l-1 -3.7l-1 0.3l-1 -1.0l-1 -0.9l-1 -0.3l-1 5.1l-1 0.3l-1 -4.2l-1 -0.3l-1 0.1l-1 7.5l-1 -6.2l-1 0.6l-1 -0.8l-1 -0.3l-1 -0.6l-1 5.6l-1 -0.3l-1 0.3l-1 -5.7l-1 6.7l-1 -5.9l-1 0.1l-1 4.0l-1 -3.8l-1 0.3l-1 -0.9l-1 2.9l-1 -3.4l-1 2.2l-1 -0.8l-1 -0.3l-1 2.5l-1 -0.3l-1 -3.9l-1 0.7l-1 -1.3l-1 6.2l-1 -4.9l-1 1.5l-1 0.4l-1 -1.0l-1 -1.2l-1 6.1l-1 -5.8l-1 7.1l-1 -6.7l-1 8.1l-1 -8.3l-1 0.3l-1 0.9l-1 0.5l-1 -1.4l-1 6.5l-1 0.2l-1 -6.0l-1 0.0l-1 2.5l-1 -2.5l-1 3.8l-1 -4.4l-1 0.0l-1 3.5l-1 -4.1l-1 2.1l-1 -1.4l-1 -0.4l-1 -0.3l-1 6.5l-1 -7.1l-1 8.3l-1 -4.7l-1 2.0l-1 -5.5l-1 3.1l-1 3.4l-1 -6.3l-1 0.9l-1 1.4l-1 -1.6l-1 -1.4l-1 -0.5l-1 -0.1l-1 0.2l-1 -0.8l-1 4.4l-1 3.5l-1 -7.7l-1 0.5l-1 1.9l-1 -0.9l-1 -0.1l-1 2.7l-1 -0.4l-1 -3.8l-1 0.3l-1 0.2l-1 0.0l-1 0.5l-1 0.2l-1 0.2l-1 -0.6l-1 7.8l-1 -0.7l-1 -7.0l-1 1.3l-1 7.1l-1 -8.1l-1 0.7l-1 -0.6l-1 -0.4l-1 -0.2l-1 0.8l-1 1.2l-1 0.9l-1 -1.7l-1 -0.7l-1 6.2l-1 -5.2l-1 2.3l-1 -3.0l-1 0.7l-1 3.6l-1 0.8l-1 -0.5l-1 3.7l-1 -6.2l-1 -2.0l-1 2.0l-1 -1.1l-1 -0.2l-1 -0.0l-1 -1.6l-1 -0.1l-1 1.0l-1 1.7l-1 -1.2l-1 15.7l-1 5.5l-1 7.5l-1 -1.1l-1 -4.9l-1 -0.4l-1 -1.1l-1 3.4l-1 1.0l-1 -5.0l-1 0.2l-1 -0.5l-1 0.2l-1 0.9l-1 3.6l-1 -4.6l-1 4.0l-1 5.9l-1 -8.9l-1 0.2l-1 -0.8l-1 0.2l-1 -0.9l-1 3.9l-1 -0.8l-1 1.6l-1 -2.1l-1 -2.5l-1 2.3l-1 0.8l-1 -0.8l-1 -0.7l-1 -1.7l-1 -0.1l-1 0.5l-1 3.8l-1 0.2l-1 -3.1l-1 -0.3l-1 -0.1l-1 1.4l-1 -0.7l-1 0.5l-1 1.6l-1 1.1l-1 -1.2l-1 -1.4l-1 2.2l-1 0.7l-1 -0.4l-1 -1.8l-1 -2.1l-1 0.1l-1 5.3l-1 -5.1l-1 -0.3l-1 0.3l-1 0.1l-1 -0.3l-1 3.2l-1 0.6l-1 -2.9l-1 1.6l-1 -2.4l-1 0.2l-1 0.2l-1 0.9l-1 -1.8l-1 0.3l-1 0.0l-1 4.0l-1 -3.3l-1 0.5l-1 -2.0l-1 -0.0l-1 0.9l-1 0.9l-1 -1.1l-1 0.5l-1 -0.6l-1 -0.0l-1 1.3l-1 2.1l-1 -3.5l-1 1.6l-1 -0.4l-1 1.3l-1 -1.6l-1 3.5l-1 -2.5l-1 1.7l-1 4.0l-1 -5.7l-1 4.7l-1 0.2l-1 -4.5l-1 -2.6l-1 4.3l-1 -2.6l-1 -0.9l-1 5.5l-1 -5.7l-1 5.3l-1 -4.1l-1 7.1l-1 -1.3l-1 -5.8l-1 6.7l-1 -5.7l-1 -2.0l-1 1.4l-1 -0.1l-1 2.9l-1 2.6l-1 1.3l-1 -8.3l-1 -0.2l-1 -0.2l-1 0.8l-1 0.2l-1 0.1l-1 0.7l-1 -0.1l-1 -0.7l-1 5.9l-1 -3.9l-1 -0.7l-1 -0.9l-1 0.1l-1 0.3l-1 4.6l-1 -5.9l-1 1.5l-1 -1.1l-1 0.2l-1 -0.2l-1 0.4l-1 2.1l-1 -1.1l-1 0.0l-1 3.5l-1 1.8l-1 -5.2l-1 1.2l-1 -1.1l-1 3.4l-1 -2.2l-1 -2.8l-1 0.2l-1 4.8l-1 -4.3l-1 2.4l-1 -2.3l-1 2.0l-1 -2.0l-1 -0.0l-1 0.3l-1 6.3l-1 -1.7l-1 0.2l-1 -6.0l-1 -0.4l-1 9.8l-1 -9.3l-1 0.0l-1 5.8l-1 -2.3l-1 -0.1l-1 -0.8l-1 -2.0l-1 0.2l-1 7.8l-1 -6.6l-1 -1.2l-1 -0.2l-1 -0.8l-1 1.1l-1 5.6l-1 -3.9l-1 -3.5l-1 0.5l-1 -0.3l-1 1.8l-1 -1.5l-1 1.6l-1 7.9l-1 -7.5l-1 4.8l-1 -1.3l-1 -3.2l-1 -0.3l-1 -0.3l-1 -0.3l-1 3.3l-1 -2.2l-1 -1.1l-1 0.5l-1 3.4l-1 -3.4l-1 -0.1l-1 -1.3l-1 6.4l-1 -5.4l-1 0.1l-1 0.2l-1 -1.6l-1 0.2l-1 -8.7l-1 -4.7l-1 -1.9l-1 1.8l-1 -0.4l-1 0.3l-1 -0.9l-1 1.9l-1 -2.1l-1 1.1l-1 -1.0l-1 0.0l-1 1.5l-1 -1.8l-1 0.8l-1 0.1l-1 0.4l-1 -1.2l-1 3.6l-1 -3.0l-1 0.4l-1 0.3l-1 4.8l-1 -5.5l-1 -0.6l-1 0.6l-1 7.3l-1 -2.1l-1 -3.9l-1 0.9l-1 -1.5l-1 -0.5l-1 -0.1l-1 0.5l-1 -0.5l-1 3.7l-1 -3.1l-1 1.5l-1 -1.4l-1 1.4l-1 -2.6l-1 2.4l-1 1.3l-1 -2.0l-1 -1.7l-1 0.4l-1 3.3l-1 6.7l-1 -4.8l-1 -4.5l-1 -0.7l-1 -0.7l-1 1.0l-1 4.6l-1 0.4l-1 -4.8l-1 -0.5l-1 -0.1l-1 -0.3l-1 5.8l-1 -5.1l-1 1.3l-1 -1.3l-1 7.0l-1 -2.1l-1 -2.6l-1 -2.4l-1 4.3l-1 -3.7l-1 4.1l-1 -5.3l-1 0.5l-1 2.7l-1 -2.8l-1 -0.4l-1 6.9l-1 -6.6l-1 -0.4l-1 0.7l-1 -0.8l-1 -0.2l-1 0.6l-1 0.0l-1 -0.3l-1 2.7l-1 -2.4l-1 1.4l-1 -0.6l-1 6.5l-1 -8.0l-1 1.5l-1 -0.6l-1 0.7l-1 -0.2l-1 4.6l-1 0.0l-1 0.2l-1 -4.7l-1 -0.1l-1 4.5l-1 1.2l-1 -7.0l-1 2.2l-1 1.3l-1 -3.4l-1 -0.1l-1 1.0l-1 1.4l-1 -1.3l-1 -0.4l-1 1.2l-1 -0.2l-1 -0.8l-1 5.9l-1 -5.4l-1 5.2l-1 -6.6l-1 0.8l-1 0.3l-1 1.7l-1 -0.8l-1 -0.0l-1 -0.5l-1 2.9l-1 2.1l-1 -4.8l-1 -0.4l-1 0.4l-1 0.8l-1 -1.1l-1 0.5l-1 0.4l-1 -0.8l-1 8.4l-1 -7.4l-1 0.3l-1 -0.3l-1 5.9l-1 -0.7l-1 -4.4l-1 -1.6l-1 -1.3l-1 1.0l-1 0.2l-1 -0.1l-1 -0.8l-1 -0.5l-1 1.2l-1 -0.0l-1 0.4l-1 1.3l-1 4.4l-1 -4.6l-1 1.8l-1 -3.0l-1 3.2l-1 -2.6l-1 -0.9l-1 1.1l-1 0.1l-1 4.6l-1 -5.0l-1 -1.1l-1 0.7l-1 5.2l-1 -3.0l-1 -1.5l-1 -0.2l-1 6.0l-1 -2.0l-1 -4.8l-1 1.2l-1 -0.7l-1 1.3l-1 0.1l-1 -1.6l-1 3.4l-1 -3.4l-1 -0.8l-1 1.1l-1 4.1l-1 -4.6l-1 4.3l-1 -3.5l-1 3.2l-1 -4.7l-1 0.1l-1 0.4l-1 -0.4l-1 1.3l-1 -0.5l-1 5.0l-1 -3.6l-1 0.1l-1 -2.8l-1 7.5l-1 -6.9l-1 0.6l-1 0.7l-1 3.3l-1 -5.0l-1 6.5l-1 1.2l-1 -5.3l-1 -1.3l-1 -1.3l-1 2.1l-1 10.4l-1 6.4l-1 3.3l-1 -4.1l-1 3.7l-1 3.4l-1 -4.8l-1 -1.2l-1 3.4l-1 -3.2l-1 -0.6l-1 5.2l-1 -3.4l-1 0.1l-1 6.9l-1 -8.5l-1 1.6l-1 5.2l-1 -5.6l-1 7.6l-1 -8.1l-1 1.4l-1 -0.6l-1 -1.7l-1 2.5l-1 -2.1l-1 0.4l-1 0.3l-1 4.5l-1 -5.1l-1 1.7l-1 3.3l-1 -4.4l-1 0.3l-1 5.7l-1 -0.1l-1 -2.5l-1 0.2l-1 -3.8l-1 2.8l-1 0.8l-1 -4.0l-1 -0.2l-1 -0.5l-1 1.1l-1 3.4l-1 -2.3l-1 -1.4l-1 2.1l-1 -1.9l-1 -0.0l-1 -0.8l-1 2.5l-1 2.3l-1 0.7l-1 -3.4l-1 -1.0l-1 1.1l-1 -2.8l-1 1.8l-1 -0.9l-1 -1.1l-1 0.6l-1 -0.7l-1 1.1l-1 1.0l-1 -0.8l-1 5.3l-1 1.4l-1 -6.7l-1 1.4l-1 5.1l-1 -2.1l-1 1.7l-1 -6.8l-1 2.6l-1 -3.1l-1 0.3l-1 -0.2l-1 4.6l-1 -4.4l-1 0.6l-1 6.5l-1 -5.7l-1 -1.0l-1 0.0l-1 1.1l-1 3.9l-1 -1.6l-1 6.4l-1 -2.9l-1 -5.7l-1 -0.2l-1 3.6l-1 0.7l-1 -5.0l-1 0.3l-1 4.9l-1 -5.0l-1 2.3l-1 -2.3l-1 8.3l-1 -7.8l-1 5.1l-1 -5.7l-1 0.0l-1 -0.7l-1 1.0l-1 1.1l-1 -0.6l-1 -0.8l-1 0.5l-1 5.8l-1 -6.6l-1 0.6l-1 1.2l-1 2.9l-1 4.8l-1 -1.5l-1 -6.0l-1 -2.7l-1 3.1l-1 -2.7l-1 1.2l-1 0.1l-1 -0.6l-1 -0.2l-1 0.4l-1 -0.8l-1 1.9l-1 0.2l-1 -1.4l-1 2.9l-1 -2.7l-1 -0.4l-1 3.8l-1 1.8l-1 0.3l-1 -6.2l-1 -0.4l-1 0.2l-1 0.9l-1 3.0l-1 1.8l-1 2.0l-1 -3.0l-1 -2.5l-1 -1.0l-1 0.9l-1 -2.7l-1 0.4l-1 0.4l-1 1.5l-1 -1.5l-1 1.3l-1 -0.8l-1 2.9l-1 -2.7l-1 -0.7l-1 0.6l-1 0.1l-1 -0.4l-1 4.1l-1 -2.9l-1 -0.5l-1 -0.3l-1 4.3l-1 1.1l-1 0.7l-1 -3.7l-1 -2.0l-1 1.2l-1 -0.5l-1 -0.4l-1 -1.2l-1 0.2l-1 6.0l-1 -6.2l-1 0.7l-1 -0.1l-1 -0.0l-1 1.8l-1 0.5l-1 -2.9l-1 0.8l-1 6.7l-1 -7.6l-1 1.3l-1 -1.9l-1 0.0l-1 0.4l-1 -0.2l-1 -0.3l-1 1.4l-1 4.6l-1 -2.4l-1 -2.5l-1 4.9l-1 -4.7l-1 0.3l-1 0.0l-1 2.3l-1 -1.6l-1 3.4l-1 -4.5l-1 0.4l-1 -3.7l-1 -8.9l-1 -0.4l-1 2.4l-1 -4.5l-1 0.7l-1 -0.7l-1 0.1l-1 -1.1l-1 -0.4l-1 1.2l-1 -1.3l-1 1.2l-1 -2.1l-1 0.7l-1 1.7l-1 0.6l-1 -1.3l-1 1.4l-1 0.7l-1 6.6l-1 -9.1l-1 -0.3l-1 0.1l-1 5.1l-1 -5.9l-1 2.3l-1 -0.2l-1 5.7l-1 -5.9l-1 4.2l-1 1.5l-1 -3.2l-1 -4.4l-1 0.6l-1 3.9l-1 -2.6l-1 -1.3l-1 -1.5l-1 5.2l-1 1.2l-1 -0.4l-1 -1.5l-1 -0.9l-1 0.8l-1 -3.1l-1 -0.1l-1 0.5l-1 6.6l-1 -5.3l-1 -0.8l-1 1.4l-1 -1.5l-1 0.5l-1 3.4l-1 -3.3l-1 1.1l-1 1.4l-1 -3.2l-1 5.6l-1 -5.2l-1 -0.3l-1 0.7l-1 5.2l-1 -3.6l-1 4.3l-1 -6.3l-1 0.5l-1 7.7l-1 -8.8l-1 -0.9l-1 3.3l-1 0.9l-1 -1.9l-1 -0.2l-1 5.4l-1 -0.8l-1 -7.6l-1 -0.2l-1 2.4l-1 -1.2l-1 4.3l-1 -4.0l-1 -0.3l-1 -0.1l-1 1.9l-1 -1.7l-1 -0.9l-1 4.0l-1 -1.9l-1 -1.5l-1 -0.0l-1 0.1l-1 3.8l-1 -3.6l-1 4.1l-1 -1.2l-1 3.3l-1 -0.5l-1 -4.9l-1 0.9l-1 -1.8l-1 0.6l-1 2.1l-1 -2.4l-1 7.0l-1 -6.2l-1 -1.0l-1 0.1l-1 -0.6l-1 -0.5l-1 1.5l-1 -0.4l-1 7.3l-1 -6.8l-1 1.0l-1 -1.1l-1 0.7l-1 1.1l-1 -1.6l-1 -0.3l-1 0.8l-1 1.8l-1 -3.0l-1 3.6l-1 -3.8l-1 7.2l-1 -5.8l-1 -1.8l-1 1.8l-1 0.4l-1 4.7l-1 -5.3l-1 4.7l-1 -0.1l-1 -4.8l-1 0.1l-1 0.6l-1 5.1l-1 -6.2l-1 4.7l-1 -5.2l-1 1.6l-1 -1.0l-1 -1.0l-1 7.9l-1 -7.6l-1 2.8l-1 -3.5l-1 0.1l-1 1.5l-1 1.3l-1 -2.8l-1 4.0l-1 -2.9l-1 0.8l-1 -0.9l-1 -0.6l-1 3.0l-1 -3.4l-1 6.7l-1 -4.8l-1 -2.2l-1 10.8l-1 -10.1l-1 1.5l-1 1.4l-1 -2.9l-1 1.7l-1 5.8l-1 -7.3l-1 0.2l-1 0.7l-1 0.1l-1 0.4l-1 0.1l-1 0.6l-1 -0.7l-1 4.4l-1 -0.6l-1 -2.3l-1 -1.8l-1 6.2l-1 -5.9l-1 0.6l-1 -0.8l-1 -0.4l-1 6.2l-1 -5.4l-1 3.5l-1 -4.1l-1 1.2l-1 -1.3l-1 -0.6l-1 0.1l-1 0.6l-1 3.8l-1 -3.1l-1 2.5l-1 -3.7l-1 2.6l-1 2.3l-1 -4.7l-1 -1.2l-1 4.6l-1 1.2l-1 -0.0l-1 -5.5l-1 -17.3l-1 -3.7l-1 0.4l-1 5.5l-1 -5.6l-1 1.1l-1 -0.6l-1 -0.6l-1 6.3l-1 -4.7l-1 0.0l-1 -0.3l-1 1.3l-1 1.3l-1 -1.4l-1 -1.3l-1 -0.0l-1 4.5l-1 -2.5l-1 0.0l-1 0.2l-1 -1.5l-1 -0.3l-1 -0.3l-1 0.6l-1 4.9l-1 -2.4l-1 -1.6l-1 -0.2l-1 1.1l-1 -1.1l-1 7.0l-1 -4.7l-1 -2.4l-1 -0.5l-1 2.1l-1 5.0l-1 -5.7l-1 -2.3l-1 0.0l-1 4.6l-1 -3.2l-1 5.1l-1 -4.2l-1 -2.3l-1 1.8l-1 -1.1l-1 5.9l-1 -2.0l-1 -3.0l-1 2.1l-1 -3.2l-1 2.3l-1 -1.2l-1 2.6l-1 1.3l-1 -2.6l-1 -0.7l-1 2.9l-1 -2.6l-1 5.7l-1 -5.9l-1 0.9l-1 1.6l-1 -2.6l-1 -0.6l-1 0.2l-1 -0.2l-1 0.7l-1 4.3l-1 -3.6l-1 -1.8l-1 0.9l-1 0.1l-1 3.5l-1 -2.4l-1 -1.4l-1 -0.0l-1 1.6l-1 -2.1l-1 6.2l-1 -7.0l-1 -0.0l-1 -0.7l-1 0.2l-1 1.5l-1 -1.4l-1 6.7l-1 -6.4l-1 1.0l-1 -0.7l-1 1.5l-1 0.8l-1 2.2l-1 -5.0l-1 6.1l-1 -1.8l-1 -2.0l-1 -0.3l-1 0.3l-1 -0.8l-1 0.0l-1 0.8l-1 -0.4l-1 0.4l-1 2.1l-1 -2.2l-1 0.3l-1 4.9l-1 1.3l-1 -8.3l-1 3.0l-1 -2.2l-1 1.7l-1 -1.7l-1 1.7l-1 -2.2l-1 0.8l-1 1.9l-1 -2.1l-1 5.4l-1 0.3l-1 -7.4l-1 7.7l-1 -7.9l-1 0.9l-1 -0.6l-1 -0.0l-1 4.7l-1 3.5l-1 -7.4l-1 3.2l-1 4.5l-1 -8.0l-1 1.0l-1 5.9l-1 -4.8l-1 -1.3l-1 0.2l-1 7.9l-1 -6.9l-1 -0.7l-1 5.8l-1 -4.4l-1 4.1l-1 -5.3l-1 0.7l-1 2.0l-1 2.8l-1 -2.2l-1 -4.1l-1 5.1l-1 -4.3l-1 -0.1l-1 0.4l-1 7.2l-1 -8.7l-1 4.0l-1 -1.9l-1 -0.3l-1 0.3l-1 -1.3l-1 0.9l-1 1.5l-1 1.7l-1 -3.3l-1 -0.6l-1 7.3l-1 -6.9l-1 0.3l-1 0.5l-1 1.3l-1 -3.9l-1 1.1l-1 0.2l-1 5.5l-1 -4.5l-1 -1.1l-1 4.0l-1 1.2l-1 -6.1l-1 4.1l-1 -3.7l-1 0.1l-1 0.7l-1 -1.2l-1 -0.3l-1 9.6l-1 -5.4l-1 -3.4l-1 1.7l-1 -1.7l-1 5.9l-1 -1.5l-1 -1.4l-1 -2.7l-1 0.8l-1 -0.3l-1 -1.8l-1 2.0l-1 -2.7l-1 -0.7l-1 -3.3l-1 -3.5l-1 1.1l-1 -1.0l-1 -4.7l-1 -0.4l-1 -0.0l-1 -0.1l-1 6.3l-1 -5.2l-1 -0.1l-1 0.5l-1 -1.2l-1 -0.5l-1 0.2l-1 1.5l-1 4.6l-1 -4.6l-1 1.5l-1 -3.1l-1 -0.1l-1 0.5l-1 2.9l-1 -2.6l-1 0.7l-1 1.7l-1 -1.7l-1 0.4l-1 1.8l-1 -0.8l-1 -2.4l-1 0.2l-1 0.9l-1 -0.9l-1 1.7l-1 4.9l-1 4.3l-1 -6.9l-1 1.7l-1 -5.8l-1 3.3l-1 -3.1l-1 4.7l-1 -6.4l-1 1.1l-1 -0.5l-1 1.0l-1 1.3l-1 -1.6l-1 -0.1l-1 -0.5l-1 0.1l-1 1.4l-1 0.6l-1 3.1l-1 -3.5l-1 -1.5l-1 0.1l-1 6.7l-1 -4.5l-1 1.4l-1 -2.4l-1 1.7l-1 -1.4l-1 0.8l-1 8.6l-1 -8.4l-1 0.5l-1 1.4l-1 -2.9l-1 1.1l-1 2.2l-1 -1.8l-1 -2.0l-1 3.4l-1 -3.0l-1 0.2l-1 0.4l-1 0.3l-1 -0.5l-1 1.5l-1 -3.2l-1 -0.0l-1 3.1l-1 -2.6l-1 0.8l-1 4.9l-1 -5.1l-1 0.0l-1 0.4l-1 1.0l-1 4.8l-1 -5.7l-1 -1.2l-1 0.2l-1 2.8l-1 -1.2l-1 -1.8l-1 -0.1l-1 1.1l-1 4.0l-1 -5.5l-1 -0.1l-1 0.3l-1 0.8l-1 1.7l-1 9.0l-1 -11.9l-1 0.1l-1 7.0l-1 -2.9l-1 3.1l-1 -7.8l-1 5.7l-1 -4.5l-1 -0.9l-1 -0.9l-1 5.7l-1 -6.5l-1 9.1l-1 -9.0l-1 2.1l-1 0.6l-1 -0.9l-1 1.4l-1 -0.7l-1 3.9l-1 6.9l-1 -5.2l-1 -5.8l-1 -0.5l-1 0.4l-1 2.6l-1 -3.0l-1 1.5l-1 -1.4l-1 2.8l-1 -2.1l-1 2.8l-1 -2.6l-1 6.6l-1 -7.2l-1 0.9l-1 6.3l-1 0.4l-1 -5.4l-1 -1.0l-1 6.7l-1 -5.7l-1 6.0l-1 -2.6l-1 -4.8l-1 5.9l-1 -1.7l-1 0.3l-1 -3.2l-1 -1.4l-1 -1.0l-1 0.8l-1 4.4l-1 -0.8l-1 -1.8l-1 -0.8l-1 -0.9l-1 0.9l-1 -1.2l-1 6.3l-1 -6.3l-1 0.9l-1 2.3l-1 -1.1l-1 -1.7l-1 -0.8l-1 -0.2l-1 6.1l-1 -6.3l-1 6.8l-1 -5.4l-1 0.5l-1 3.4l-1 -4.4l-1 6.9l-1 -1.9l-1 -0.8l-1 0.4l-1 -1.5l-1 -0.9l-1 0.8l-1 -4.0l-1 0.6l-1 6.9l-1 -3.3l-1 -4.5l-1 7.6l-1 -6.4l-1 3.5l-1 -2.6l-1 6.6l-1 -7.5l-1 -0.5l-1 3.3l-1 -2.6l-1 -2.3l-1 1.2l-1 -1.6l-1 1.3l-1 -1.3l-1 1.0l-1 1.6l-1 -2.2l-1 2.9l-1 12.0l-1 11.5l-1 -7.3l-1 -1.4l-1 5.3l-1 -4.5l-1 0.9l-1 4.0l-1 -5.2l-1 3.9l-1 -3.0l-1 -0.2l-1 -0.2l-1 2.9l-1 0.1l-1 -1.2l-1 -1.1l-1 0.4l-1 -0.4l-1 0.3l-1 4.4l-1 -4.2l-1 -1.4l-1 0.2l-1 0.3l-1 6.7l-1 -1.8l-1 -4.3l-1 2.5l-1 -2.5l-1 2.4l-1 1.5l-1 -3.6l-1 -0.1l-1 0.9l-1 -0.4l-1 -0.3l-1 5.9l-1 -4.1l-1 -2.0l-1 7.6l-1 -2.5l-1 -4.4l-1 -0.1l-1 -1.2l-1 1.7l-1 -1.8l-1 0.0l-1 -1.5l-1 2.9l-1 -2.0l-1 3.8l-1 -3.4l-1 2.4l-1 -2.9l-1 1.4l-1 -1.1l-1 0.4l-1 -0.3l-1 6.7l-1 -6.8l-1 1.6l-1 0.0l-1 3.5l-1 -3.8l-1 -0.3l-1 -1.0l-1 2.1l-1 -1.3l-1 -0.8l-1 2.9l-1 -2.1l-1 4.2l-1 -3.0l-1 -0.8l-1 6.8l-1 -6.8l-1 -0.0l-1 3.1l-1 -1.8l-1 0.3l-1 -0.1l-1 1.8l-1 1.2l-1 -3.4l-1 2.3l-1 -1.7l-1 6.6l-1 -5.9l-1 2.0l-1 -3.3l-1 1.9l-1 8.0l-1 -9.4l-1 0.3l-1 0.4l-1 7.9l-1 -4.9l-1 1.2l-1 -3.2l-1 2.2l-1 0.9l-1 -0.1l-1 -0.9l-1 -4.5l-1 4.2l-1 -3.1l-1 2.4l-1 -2.4l-1 0.1l-1 -0.1l-1 0.3l-1 4.8l-1 -3.5l-1 7.0l-1 -7.1l-1 -1.0l-1 1.1l-1 1.4l-1 -1.7l-1 0.4l-1 2.2l-1 1.7l-1 -4.3l-1 4.9l-1 -4.8l-1 4.0l-1 -5.1l-1 -0.2l-1 -0.9l-1 0.0l-1 6.3l-1 -5.6l-1 0.1l-1 4.3l-1 2.2l-1 -7.0l-1 0.3l-1 -0.1l-1 0.3l-1 0.1l-1 -0.1l-1 0.6l-1 -0.6l-1 -0.6l-1 -0.3l-1 1.1l-1 -1.3l-1 2.3l-1 -0.1l-1 5.0l-1 5.7l-1 -8.4l-1 -2.6l-1 -0.9l-1 0.3l-1 7.2l-1 -0.5l-1 0.1l-1 -6.2l-1 -0.7l-1 5.9l-1 -5.7l-1 2.7l-1 -0.8l-1 -0.9l-1 2.0l-1 -1.6l-1 -1.0l-1 0.9l-1 5.8l-1 -5.6l-1 -1.6l-1 2.7l-1 -0.8l-1 -1.2l-1 -1.0l-1 1.8l-1 -0.6l-1 -0.9l-1 1.0l-1 -0.8l-1 0.2l-1 2.0l-1 0.8l-1 4.5l-1 -4.6l-1 -2.5l-1 0.6l-1 0.7l-1 -0.7l-1 1.8l-1 4.1l-1 -6.3l-1 -0.4l-1 3.4l-1 -2.4l-1 3.3l-1 -2.9l-1 4.5l-1 -4.2l-1 -0.8l-1 0.0l-1 -0.7l-1 -0.2l-1 3.1l-1 1.3l-1 11.8l-1 6.4l-1 0.2l-1 -1.7l-1 -0.9l-1 1.1l-1 3.6l-1 2.4l-1 -5.8l-1 3.4l-1 -5.3l-1 6.5l-1 -6.9l-1 0.9l-1 -1.4l-1 1.2l-1 1.5l-1 1.1l-1 -2.0l-1 0.2l-1 5.6l-1 -6.1l-1 0.2l-1 -0.4l-1 -0.5l-1 0.8l-1 -1.4l-1 2.0l-1 -2.1l-1 5.2l-1 -2.5l-1 -1.5l-1 -1.6l-1 0.9l-1 6.4l-1 -6.6l-1 3.8l-1 -3.6l-1 -1.0l-1 6.8l-1 -2.2l-1 -2.9l-1 -0.1l-1 -0.3l-1 0.6l-1 -0.4l-1 2.8l-1 3.7l-1 -6.9l-1 -0.4l-1 1.6l-1 -0.8l-1 5.7l-1 -5.7l-1 6.9l-1 -6.9l-1 -0.5l-1 0.6l-1 -0.3l-1 5.2l-1 -2.6l-1 -2.6l-1 0.0l-1 -0.0l-1 1.5l-1 -1.7l-1 0.1l-1 3.1l-1 -1.2l-1 0.3l-1 1.4l-1 -3.6l-1 0.3l-1 0.2l-1 -1.4l-1 0.0l-1 0.9l-1 -0.1l-1 0.5l-1 -1.0l-1 0.7l-1 -0.1l-1 4.2l-1 -2.0l-1 2.7l-1 -3.3l-1 -1.5l-1 1.4l-1 -1.9l-1 1.2l-1 1.0l-1 3.3l-1 -0.5l-1 -5.0l-1 0.2l-1 -0.3l-1 1.4l-1 0.8l-1 -2.4l-1 -0.0l-1 -0.5l-1 1.5l-1 6.9l-1 -6.4l-1 -1.4l-1 3.6l-1 1.6l-1 -2.7l-1 2.0l-1 3.7l-1 -6.6l-1 6.9l-1 -7.7l-1 2.8l-1 1.0l-1 -2.8l-1 -0.0l-1 3.4l-1 3.2l-1 -7.6l-1 1.8l-1 -0.6l-1 5.3l-1 -0.8l-1 -4.7l-1 5.8l-1 -6.1l-1 -0.4l-1 -0.1l-1 7.2l-1 -5.4l-1 1.5l-1 -2.6l-1 6.0l-1 -6.4l-1 1.0l-1 0.2l-1 0.8l-1 4.7l-1 -6.3l-1 2.5l-1 -1.2l-1 1.0l-1 -2.7l-1 0.3l-1 5.9l-1 -5.8l-1 -0.8l-1 1.6l-1 -1.4l-1 1.8l-1 1.4l-1 -1.5l-1 -1.6l-1 0.0l-1 -0.2l-1 1.8l-1 -0.4l-1 -1.4l-1 0.1l-1 -0.2l-1 3.2l-1 -3.8l-1 5.6l-1 4.1l-1 -6.4l-1 -3.6l-1 1.3l-1 -1.6l-1 0.4l-1 5.3l-1 -6.0l-1 2.9l-1 -2.4l-1 -0.2l-1 0.8l-1 0.5l-1 -0.1l-1 -0.2l-1 8.2l-1 -8.2l-1 -0.5l-1 -0.5l-1 6.0l-1 -2.9l-1 5.2l-1 1.3l-1 -8.4l-1 3.4l-1 -1.6l-1 -2.1l-1 1.0l-1 0.3l-1 -2.2l-1 0.3l-1 1.9l-1 1.9l-1 -2.0l-1 3.5l-1 4.0l-1 -7.5l-1 0.6l-1 0.0l-1 -1.4l-1 0.8l-1 -1.5l-1 5.6l-1 9.5l-1 4.3l-1 -0.9l-1 1.8l-1 6.2l-1 -8.3l-1 0.0l-1 1.2l-1 0.2l-1 -1.0l-1 -0.1l-1 -0.3l-1 1.1l-1 -1.5l-1 -0.1l-1 1.1l-1 -2.0l-1 0.9l-1 -0.4l-1 -0.6l-1 5.9l-1 0.9l-1 -4.3l-1 4.7l-1 -3.7l-1 5.2l-1 -6.9l-1 0.6l-1 0.7l-1 -1.6l-1 0.3l-1 2.1l-1 -2.0l-1 -0.1l-1 0.4l-1 6.2l-1 -6.2l-1 -0.7l-1 -0.4l-1 3.5l-1 2.8l-1 -3.0l-1 -2.9l-1 0.4l-1 7.4l-1 -7.8l-1 9.8l-1 -3.5l-1 0.3l-1 -6.5l-1 7.2l-1 -3.5l-1 -2.6l-1 -1.4l-1 -0.0l-1 5.1l-1 -4.0l-1 -0.1l-1 6.9l-1 -6.8l-1 0.3l-1 7.5l-1 -0.9l-1 -6.7l-1 -0.6l-1 0.6l-1 -0.2l-1 -0.2l-1 0.1l-1 0.1l-1 -1.0l-1 4.8l-1 -4.2l-1 -0.2l-1 -0.6l-1 3.1l-1 -2.8l-1 5.6l-1 1.1l-1 -5.0l-1 -0.7l-1 3.2l-1 -4.5l-1 4.3l-1 -3.0l-1 -1.8l-1 0.2l-1 6.0l-1 -2.4l-1 -2.9l-1 0.6l-1 -0.1l-1 -0.0l-1 -0.3l-1 1.6l-1 5.2l-1 -3.5l-1 -2.9l-1 2.2l-1 0.2l-1 -3.7l-1 0.9l-1 3.9l-1 -4.1l-1 -0.0l-1 0.8l-1 1.7l-1 -1.7l-1 3.0l-1 -4.1l-1 6.2l-1 -5.4l-1 8.2l-1 -8.2l-1 -0.7l-1 6.3l-1 -0.2l-1 -2.8l-1 3.1l-1 -7.0l-1 1.7l-1 -1.5l-1 5.5l-1 -5.6l-1 -0.8l-1 -0.1l-1 2.9l-1 -2.5l-1 9.2l-1 -8.3l-1 6.3l-1 -6.7l-1 1.0l-1 -0.2l-1 0.5l-1 5.2l-1 -6.6l-1 7.1l-1 -5.5l-1 0.2l-1 1.8l-1 -1.5l-1 1.2l-1 2.7l-1 -3.3l-1 0.1l-1 -1.5l-1 1.9l-1 3.8l-1 -4.9l-1 2.4l-1 3.1l-1 -1.1l-1 -1.4l-1 -2.3l-1 0.2l-1 3.8l-1 -3.2l-1 -3.1l-1 2.3l-1 -1.3l-1 0.2l-1 2.9l-1 -4.0l-1 -0.2l-1 0.5l-1 -0.2l-1 -0.1l-1 1.0l-1 -1.3l-1 5.7l-1 -5.7l-1 0.6l-1 -0.5l-1 2.1l-1 1.0l-1 5.3l-1 -7.6l-1 0.9l-1 -1.1l-1 3.2l-1 0.9l-1 -3.2l-1 -1.0l-1 4.5l-1 -4.4l-1 4.6l-1 2.1l-1 -3.4l-1 -3.4l-1 0.0l-1 3.1l-1 -1.6l-1 -1.3l-1 -0.8l-1 -0.5l-1 0.1l-1 6.5l-1 -0.8l-1 -4.0l-1 -0.6l-1 -0.1l-1 0.4l-1 0.2l-1 -0.4l-1 0.4l-1 -0.1l-1 2.9l-1 -2.6l-1 3.1l-1 -3.7Z" fill="#ff0000" stroke="#ff0000"/><path d="M196.5 1349.8l1 0.4l1 -0.5l1 0.6l1 0.2l1 0.0l1 0.3l1 -1.7l1 0.8l1 0.8l1 -1.3l1 1.4l1 -1.1l1 1.2l1 -0.1l1 -0.4l1 -0.3l1 0.9l1 0.5l1 0.5l1 -1.9l1 0.5l1 0.3l1 -1.9l1 0.2l1 1.7l1 0.1l1 0.2l1 0.0l1 -1.6l1 1.7l1 -0.1l1 0.0l1 0.2l1 0.4l1 -1.6l1 1.2l1 0.6l1 -0.7l1 0.9l1 -0.7l1 0.6l1 0.0l1 -0.6l1 -2.0l1 2.2l1 -0.3l1 -0.8l1 0.0l1 0.6l1 -0.3l1 -0.2l1 0.0l1 0.8l1 -0.2l1 -0.6l1 -0.9l1 0.4l1 -0.6l1 0.1l1 1.1l1 0.6l1 -0.4l1 -2.0l1 1.1l1 1.7l1 -0.2l1 -1.0l1 0.4l1 -1.3l1 0.7l1 0.4l1 -0.8l1 0.2l1 -0.3l1 -1.0l1 0.6l1 -0.1l1 0.8l1 0.4l1 -0.6l1 0.4l1 0.2l1 -0.8l1 1.1l1 -2.0l1 0.5l1 0.3l1 0.3l1 0.2l1 0.1l1 0.1l1 -0.9l1 0.5l1 0.2l1 -2.4l1 2.4l1 0.3l1 0.2l1 -0.1l1 0.2l1 -0.1l1 -1.9l1 -0.4l1 -0.1l1 0.9l1 0.3l1 -1.0l1 -0.6l1 1.9l1 0.3l1 0.5l1 -0.5l1 -1.3l1 0.6l1 0.6l1 0.8l1 -0.3l1 -3.0l1 3.0l1 0.6l1 0.3l1 0.6l1 -0.8l1 -1.7l1 1.5l1 -0.1l1 -0.4l1 -0.3l1 0.4l1 -0.4l1 -0.4l1 1.1l1 -0.3l1 0.2l1 -1.9l1 -0.0l1 0.1l1 -0.2l1 0.5l1 -0.9l1 1.6l1 -0.8l1 0.1l1 0.4l1 -0.9l1 1.3l1 -1.8l1 1.7l1 0.0l1 -0.2l1 0.9l1 0.2l1 -0.4l1 0.2l1 -0.2l1 -0.5l1 -1.1l1 1.2l1 -0.3l1 0.4l1 0.1l1 0.6l1 -0.2l1 -0.2l1 -0.3l1 -0.5l1 0.7l1 -1.5l1 1.7l1 0.5l1 -0.9l1 0.2l1 1.6l1 -2.6l1 1.6l1 0.4l1 -2.5l1 1.1l1 0.8l1 0.6l1 -1.2l1 -0.2l1 0.1l1 0.6l1 -1.0l1 0.1l1 0.6l1 0.0l1 0.6l1 -0.8l1 -0.9l1 -0.6l1 1.4l1 0.0l1 0.1l1 -1.3l1 0.8l1 1.2l1 -0.8l1 -1.8l1 1.0l1 0.9l1 -0.7l1 0.4l1 0.7l1 -1.2l1 1.0l1 -0.4l1 0.5l1 -1.8l1 -6.1l1 -2.6l1 0.0l1 -1.7l1 1.2l1 -0.6l1 -0.3l1 -0.1l1 -0.1l1 -0.3l1 0.6l1 -0.2l1 -0.8l1 1.2l1 -1.0l1 -1.4l1 0.6l1 0.1l1 0.5l1 0.1l1 1.2l1 0.3l1 -0.6l1 0.1l1 0.0l1 0.4l1 -0.6l1 -0.9l1 0.7l1 -0.1l1 0.2l1 0.2l1 0.5l1 -0.3l1 -0.9l1 0.5l1 0.3l1 -0.7l1 -0.1l1 0.2l1 0.4l1 -0.4l1 -1.2l1 1.1l1 0.6l1 -1.3l1 -0.5l1 1.5l1 -1.2l1 0.4l1 -0.0l1 -1.5l1 1.4l1 -0.3l1 0.1l1 -0.2l1 0.8l1 -2.3l1 1.2l1 -0.7l1 1.8l1 0.2l1 -0.1l1 0.5l1 -0.3l1 -1.1l1 1.8l1 -0.2l1 0.3l1 -0.4l1 -0.4l1 0.6l1 -0.6l1 -1.1l1 0.6l1 -0.1l1 -0.0l1 -0.4l1 -0.0l1 -0.5l1 -0.7l1 0.8l1 -0.2l1 0.9l1 -0.5l1 -0.7l1 1.5l1 0.1l1 -1.4l1 3.0l1 -1.4l1 -0.7l1 0.4l1 -0.2l1 -0.4l1 0.5l1 -1.0l1 1.5l1 -0.6l1 0.3l1 0.5l1 -0.5l1 0.2l1 -0.5l1 -0.7l1 1.0l1 -0.1l1 -0.3l1 0.9l1 0.2l1 -2.4l1 1.4l1 0.5l1 -0.5l1 -0.1l1 0.5l1 -1.6l1 1.8l1 -0.7l1 -0.7l1 -1.0l1 1.9l1 1.2l1 -0.2l1 -0.3l1 0.1l1 0.4l1 0.6l1 -0.6l1 0.0l1 -0.5l1 0.3l1 -0.5l1 -0.7l1 1.2l1 -0.3l1 1.1l1 0.1l1 -1.0l1 1.5l1 -1.9l1 -0.5l1 -1.2l1 1.7l1 0.5l1 0.0l1 -0.4l1 0.4l1 -1.2l1 0.9l1 -0.7l1 0.9l1 -0.6l1 -0.3l1 -0.2l1 -0.4l1 0.1l1 -0.5l1 0.4l1 -0.6l1 1.3l1 -0.0l1 -1.1l1 1.6l1 -0.6l1 0.2l1 -0.6l1 -0.0l1 0.3l1 0.1l1 -0.8l1 1.2l1 -0.2l1 0.2l1 -0.0l1 -0.5l1 -0.8l1 0.5l1 0.6l1 -1.1l1 0.8l1 -0.3l1 0.9l1 -0.1l1 0.5l1 -0.4l1 0.3l1 -0.1l1 0.6l1 -0.9l1 0.6l1 -0.3l1 0.0l1 -1.4l1 0.6l1 -0.1l1 0.3l1 -0.7l1 0.4l1 -0.0l1 0.7l1 -0.8l1 0.3l1 0.7l1 0.7l1 -1.1l1 -3.9l1 -8.0l1 -2.1l1 -0.5l1 0.5l1 0.6l1 -0.4l1 -1.2l1 0.7l1 0.6l1 -0.5l1 0.8l1 -2.5l1 1.3l1 0.3l1 -0.6l1 0.2l1 -0.8l1 0.7l1 0.9l1 0.4l1 -0.4l1 -2.4l1 2.0l1 -1.1l1 0.3l1 -0.8l1 0.8l1 0.5l1 -0.7l1 0.3l1 0.6l1 -0.8l1 0.8l1 -0.5l1 0.0l1 -0.2l1 -0.9l1 0.7l1 0.2l1 -1.1l1 0.9l1 0.1l1 -0.5l1 -0.9l1 0.1l1 0.4l1 -0.4l1 -0.6l1 0.2l1 0.3l1 0.7l1 -1.3l1 0.9l1 -2.1l1 1.5l1 -0.3l1 -2.1l1 1.1l1 0.3l1 0.3l1 1.0l1 -1.3l1 1.2l1 -1.1l1 1.4l1 -1.2l1 1.0l1 0.5l1 -0.7l1 -0.0l1 -0.5l1 -1.7l1 1.6l1 0.3l1 -1.3l1 0.6l1 -0.8l1 0.5l1 0.3l1 0.2l1 0.1l1 -1.7l1 1.4l1 -0.0l1 0.1l1 -0.3l1 0.6l1 -1.2l1 0.3l1 -0.4l1 0.1l1 1.0l1 -0.9l1 -0.4l1 0.7l1 -0.7l1 0.3l1 -0.5l1 -0.2l1 -0.5l1 -0.8l1 2.4l1 -1.4l1 -0.1l1 0.8l1 -0.7l1 -2.1l1 2.8l1 -2.3l1 1.8l1 0.3l1 0.5l1 0.2l1 -0.4l1 0.2l1 -1.9l1 1.8l1 -1.0l1 0.9l1 -2.1l1 2.3l1 0.1l1 -0.8l1 0.3l1 0.1l1 -0.9l1 0.5l1 -1.1l1 0.1l1 -1.5l1 0.9l1 1.2l1 0.5l1 -2.1l1 1.4l1 -1.2l1 0.7l1 -1.6l1 1.7l1 -0.0l1 -0.1l1 -0.8l1 -0.0l1 -1.0l1 1.0l1 0.5l1 0.3l1 0.4l1 -0.3l1 0.9l1 -1.1l1 -0.1l1 0.4l1 -0.9l1 -0.0l1 0.6l1 -0.7l1 0.5l1 0.3l1 -1.1l1 0.4l1 -0.9l1 1.5l1 -1.0l1 0.3l1 -0.2l1 0.3l1 -1.1l1 -0.9l1 1.4l1 -0.8l1 0.7l1 -0.3l1 -0.9l1 -1.3l1 0.2l1 1.2l1 0.8l1 -0.6l1 0.0l1 -0.9l1 0.5l1 0.5l1 -1.1l1 0.4l1 0.9l1 0.6l1 -1.3l1 0.6l1 0.8l1 -1.6l1 1.5l1 -0.3l1 0.6l1 -1.1l1 0.1l1 1.3l1 -2.1l1 1.2l1 0.4l1 0.2l1 -0.8l1 -0.4l1 0.9l1 -0.4l1 0.2l1 -5.7l1 -8.9l1 0.6l1 -0.9l1 -0.1l1 0.6l1 -0.9l1 0.1l1 -0.1l1 1.5l1 0.2l1 -0.4l1 0.1l1 0.2l1 -2.8l1 1.9l1 -1.6l1 1.0l1 -0.7l1 0.9l1 -0.8l1 0.3l1 -1.5l1 1.6l1 -1.3l1 1.2l1 -0.7l1 0.6l1 -2.2l1 1.7l1 -1.2l1 1.7l1 -1.9l1 2.0l1 0.3l1 -0.2l1 0.3l1 -0.3l1 0.2l1 -0.7l1 -0.2l1 0.3l1 0.4l1 0.1l1 -0.7l1 0.7l1 1.1l1 -2.0l1 1.5l1 -1.7l1 -0.1l1 0.9l1 -0.3l1 -0.5l1 0.6l1 -0.6l1 -0.3l1 -0.1l1 0.9l1 -0.2l1 0.7l1 0.1l1 0.3l1 -0.1l1 -1.1l1 0.2l1 1.3l1 0.5l1 -0.5l1 -0.9l1 0.0l1 1.5l1 -0.2l1 -0.5l1 0.3l1 -1.0l1 0.5l1 -0.5l1 -0.4l1 -1.1l1 1.3l1 -0.1l1 -0.1l1 1.1l1 0.3l1 -1.4l1 -0.0l1 0.9l1 -0.5l1 0.6l1 0.5l1 0.6l1 -2.3l1 1.9l1 0.2l1 0.3l1 -0.7l1 -0.6l1 -0.0l1 0.4l1 -1.4l1 1.0l1 0.1l1 -1.2l1 -0.2l1 0.9l1 0.1l1 -1.2l1 0.7l1 0.5l1 0.6l1 -0.6l1 1.4l1 0.0l1 -0.8l1 1.1l1 -1.0l1 -0.7l1 1.2l1 0.4l1 -0.6l1 -0.8l1 -0.2l1 0.3l1 0.4l1 1.0l1 -0.6l1 0.6l1 -0.4l1 -0.9l1 0.5l1 -1.0l1 0.3l1 1.2l1 -0.5l1 -0.4l1 -0.1l1 -0.4l1 -0.7l1 0.9l1 0.9l1 -0.9l1 -0.9l1 0.7l1 0.8l1 -0.4l1 0.9l1 -1.0l1 -0.1l1 -0.8l1 0.2l1 0.9l1 -0.7l1 0.4l1 -0.6l1 0.5l1 -0.1l1 -0.2l1 -0.9l1 1.3l1 0.2l1 0.2l1 -1.2l1 1.2l1 -0.5l1 -0.7l1 -0.2l1 0.5l1 -0.6l1 -0.5l1 0.6l1 0.3l1 0.6l1 -0.8l1 0.1l1 0.3l1 -1.2l1 0.6l1 -0.2l1 1.0l1 -0.3l1 -1.0l1 0.9l1 -0.7l1 0.5l1 -0.6l1 1.1l1 -0.3l1 0.2l1 0.5l1 -0.8l1 -0.8l1 0.4l1 1.3l1 -0.4l1 -0.0l1 0.3l1 -0.8l1 0.7l1 -0.1l1 -1.0l1 -0.9l1 0.2l1 1.1l1 0.1l1 -0.1l1 1.4l1 0.1l1 0.8l1 -0.5l1 1.6l1 3.7l1 -0.3l1 3.2l1 0.4l1 0.6l1 -0.2l1 0.5l1 0.4l1 -0.3l1 0.7l1 0.2l1 -0.2l1 -0.2l1 0.9l1 -0.4l1 -0.8l1 -1.1l1 2.1l1 -0.9l1 0.9l1 -1.2l1 -1.2l1 1.9l1 0.3l1 -0.6l1 0.0l1 -0.4l1 -0.3l1 1.7l1 -1.6l1 0.7l1 -0.5l1 1.2l1 -2.4l1 1.5l1 0.3l1 -0.4l1 0.5l1 0.0l1 0.5l1 -0.5l1 0.3l1 -0.9l1 0.4l1 -1.1l1 1.5l1 -0.0l1 -0.3l1 0.7l1 -0.4l1 -0.5l1 1.0l1 -0.2l1 -0.6l1 -0.1l1 -1.0l1 2.0l1 0.3l1 -1.0l1 0.0l1 0.4l1 -3.0l1 2.0l1 0.0l1 0.0l1 0.8l1 0.1l1 -2.0l1 1.7l1 -0.5l1 -0.8l1 1.1l1 0.9l1 -1.0l1 -2.1l1 2.4l1 0.5l1 -2.4l1 2.7l1 -3.7l1 1.6l1 0.5l1 0.7l1 0.7l1 -1.6l1 0.9l1 0.6l1 -0.1l1 -0.4l1 -0.6l1 0.7l1 -0.0l1 -1.0l1 0.3l1 -0.1l1 0.8l1 -0.3l1 -0.6l1 0.5l1 -0.2l1 0.2l1 -0.6l1 1.6l1 -0.2l1 -0.1l1 -1.0l1 0.5l1 -1.4l1 -0.1l1 -0.2l1 2.2l1 -1.0l1 1.6l1 0.4l1 -2.1l1 2.3l1 -0.0l1 -0.2l1 -0.6l1 0.1l1 -1.3l1 1.1l1 -0.5l1 -0.3l1 1.1l1 0.2l1 0.2l1 -0.7l1 -1.4l1 0.5l1 1.2l1 -0.8l1 -0.3l1 -0.1l1 0.7l1 -1.0l1 1.8l1 -0.4l1 0.7l1 0.0l1 -0.3l1 -0.3l1 0.2l1 -1.1l1 1.5l1 -1.0l1 -0.1l1 -0.6l1 1.0l1 -2.1l1 0.9l1 -1.7l1 1.9l1 -1.4l1 0.6l1 0.2l1 -1.1l1 0.3l1 0.2l1 1.3l1 -0.9l1 -0.6l1 -1.0l1 0.3l1 -1.1l1 2.1l1 -1.7l1 1.2l1 1.5l1 -1.7l1 0.6l1 0.3l1 -0.4l1 0.1l1 0.8l1 -0.2l1 0.2l1 -0.1l1 -0.1l1 1.5l1 -0.6l1 0.8l1 -0.5l1 -0.1l1 0.5l1 0.5l1 -0.8l1 0.6l1 -0.8l1 0.2l1 -0.1l1 -0.6l1 0.9l1 -0.2l1 -0.1l1 0.4l1 -0.4l1 -0.4l1 -2.8l1 2.0l1 0.1l1 -0.4l1 2.6l1 7.9l1 5.2l1 0.2l1 -0.4l1 -0.2l1 -0.1l1 -0.0l1 -0.2l1 0.9l1 -1.9l1 -0.7l1 0.1l1 0.8l1 0.2l1 -1.5l1 2.0l1 -0.0l1 -1.8l1 2.9l1 -1.8l1 1.2l1 0.0l1 0.2l1 -0.3l1 -0.3l1 -0.1l1 0.6l1 0.6l1 0.2l1 -1.0l1 -0.7l1 0.6l1 -0.7l1 -0.6l1 1.3l1 -0.2l1 -0.6l1 0.1l1 -0.6l1 -2.4l1 1.8l1 -1.4l1 2.8l1 -0.1l1 -0.9l1 1.4l1 0.4l1 -0.5l1 -0.0l1 1.3l1 -0.7l1 0.7l1 -0.3l1 -0.0l1 -0.4l1 -0.7l1 0.4l1 0.2l1 0.3l1 -1.4l1 1.3l1 -0.3l1 0.2l1 -0.8l1 -1.6l1 2.5l1 -0.2l1 0.6l1 -1.6l1 0.3l1 0.8l1 -0.5l1 -0.6l1 0.5l1 0.6l1 0.0l1 -1.1l1 0.5l1 0.7l1 -1.2l1 -0.6l1 1.1l1 -0.1l1 0.0l1 -0.8l1 0.8l1 -0.6l1 0.9l1 -0.9l1 1.6l1 -0.8l1 0.3l1 0.8l1 -0.8l1 -2.4l1 1.9l1 -0.6l1 0.7l1 0.4l1 -1.4l1 0.3l1 -1.8l1 3.0l1 -0.3l1 -0.4l1 0.2l1 0.4l1 -0.4l1 0.5l1 -0.0l1 -0.7l1 -0.7l1 -0.3l1 0.3l1 -2.0l1 2.0l1 0.4l1 -1.0l1 2.0l1 -1.0l1 -0.4l1 1.0l1 -0.0l1 0.4l1 -0.6l1 -0.8l1 1.8l1 -1.6l1 1.7l1 -1.0l1 -0.4l1 -0.2l1 0.6l1 -0.1l1 -0.9l1 1.3l1 0.2l1 0.1l1 -0.3l1 -0.5l1 0.4l1 -1.1l1 1.2l1 -1.0l1 1.0l1 0.5l1 0.6l1 0.7l1 0.1l1 -1.2l1 -1.0l1 0.7l1 0.8l1 -0.6l1 1.1l1 -1.4l1 1.1l1 -3.3l1 2.1l1 -0.3l1 0.7l1 -1.6l1 0.9l1 0.6l1 0.5l1 0.6l1 -1.7l1 0.8l1 -1.3l1 0.2l1 -0.5l1 -0.8l1 0.0l1 0.8l1 0.3l1 0.1l1 0.7l1 -0.2l1 0.2l1 -0.7l1 0.4l1 -1.6l1 1.0l1 -0.5l1 1.4l1 -0.3l1 0.2l1 0.2l1 0.6l1 -0.2l1 -0.2l1 -0.1l1 0.8l1 -1.2l1 -0.5l1 0.3l1 0.2l1 -0.1l1 -0.2l1 1.5l1 -0.2l1 -0.8l1 0.2l1 0.6l1 -0.7l1 -0.1l1 1.6l1 9.8l1 2.0l1 2.0l1 0.1l1 -0.8l1 0.8l1 -1.2l1 1.7l1 0.5l1 0.6l1 -0.3l1 -0.9l1 -0.8l1 0.1l1 0.2l1 -0.3l1 0.1l1 -0.9l1 -1.3l1 1.3l1 -0.3l1 0.4l1 -0.7l1 -0.1l1 0.6l1 -0.4l1 -2.7l1 3.3l1 -0.1l1 -0.3l1 -0.7l1 0.0l1 -0.6l1 1.2l1 -0.5l1 -0.8l1 1.9l1 -0.1l1 0.9l1 0.1l1 -0.7l1 0.6l1 -0.0l1 -1.1l1 -0.7l1 0.6l1 -3.1l1 2.3l1 -0.8l1 1.4l1 -0.0l1 -1.5l1 1.7l1 1.6l1 -1.4l1 -0.7l1 0.6l1 -0.8l1 -0.7l1 1.0l1 0.1l1 -0.2l1 -0.1l1 1.8l1 -1.4l1 -0.7l1 0.3l1 -0.5l1 0.3l1 -0.1l1 0.3l1 -0.3l1 0.7l1 -0.4l1 0.4l1 -1.2l1 1.5l1 -0.1l1 0.0l1 0.5l1 -1.4l1 1.1l1 -1.0l1 -0.1l1 1.4l1 -0.5l1 -1.1l1 0.2l1 -1.1l1 1.0l1 -0.4l1 -0.6l1 0.6l1 0.4l1 -1.0l1 0.8l1 -1.0l1 0.9l1 -0.9l1 1.4l1 -0.9l1 0.6l1 0.3l1 -0.7l1 0.6l1 1.0l1 -2.0l1 0.4l1 -0.3l1 1.3l1 -2.6l1 -0.4l1 1.6l1 0.6l1 0.4l1 -0.7l1 0.2l1 -0.1l1 -0.7l1 -0.2l1 -0.3l1 -2.6l1 1.5l1 2.1l1 0.9l1 -0.1l1 0.2l1 0.3l1 -0.5l1 -0.6l1 0.1l1 -0.7l1 0.1l1 0.6l1 -0.0l1 -0.8l1 0.3l1 -0.2l1 -2.1l1 2.3l1 -0.9l1 0.9l1 -0.3l1 -0.7l1 -0.4l1 -0.4l1 1.7l1 1.2l1 -1.0l1 0.5l1 -1.5l1 0.0l1 -0.2l1 -0.2l1 1.3l1 -0.6l1 -0.1l1 -0.7l1 0.7l1 0.1l1 -1.9l1 1.4l1 -0.1l1 0.4l1 -0.6l1 0.7l1 0.1l1 -0.7l1 1.3l1 -0.5l1 -0.3l1 0.2l1 -0.2l1 -0.2l1 -1.3l1 1.2l1 -0.1l1 0.1l1 -0.7l1 -0.6l1 -0.9l1 2.2l1 0.2l1 -0.2l1 -0.6l1 0.5l1 -1.1l1 -0.4l1 1.6l1 0.2l1 -0.7l1 0.2l1 0.7l1 -0.5l1 0.5l1 -1.9l1 0.5l1 1.5l1 -1.1l1 -0.4l1 -2.2l1 0.6l1 0.8l1 0.7l1 -1.0l1 0.3l1 -3.9l1 -7.9l1 -0.9l1 0.3l1 0.5l1 -0.4l1 -0.2l1 0.2l1 0.4l1 -1.5l1 0.2l1 0.1l1 -1.0l1 0.7l1 -0.4l1 0.3l1 0.3l1 0.4l1 -0.8l1 -0.1l1 0.3l1 -1.8l1 2.2l1 -0.2l1 -1.8l1 1.4l1 0.8l1 0.1l1 -0.3l1 0.2l1 0.5l1 0.1l1 -0.4l1 0.7l1 -0.3l1 -0.6l1 0.6l1 -0.0l1 -0.1l1 0.0l1 -0.6l1 -1.1l1 0.2l1 -0.4l1 1.1l1 -0.4l1 -0.2l1 0.7l1 -0.3l1 -0.7l1 1.5l1 -0.3l1 -0.2l1 -0.8l1 0.4l1 0.1l1 0.5l1 -0.6l1 -1.8l1 1.6l1 0.7l1 -0.2l1 0.6l1 -0.6l1 -0.5l1 0.6l1 0.6l1 -0.4l1 0.5l1 0.3l1 -1.1l1 1.0l1 -0.6l1 0.6l1 -0.7l1 0.6l1 -0.4l1 0.2l1 -1.0l1 0.1l1 0.1l1 -1.5l1 1.2l1 -1.0l1 1.3l1 -1.3l1 0.4l1 -0.2l1 0.4l1 -0.3l1 1.2l1 -1.0l1 0.4l1 -1.1l1 0.6l1 -0.4l1 0.8l1 -0.9l1 -0.8l1 1.7l1 0.5l1 -1.8l1 1.8l1 -0.7l1 -1.0l1 0.4l1 1.4l1 -0.4l1 0.1l1 -0.2l1 -0.1l1 0.2l1 0.1l1 0.2l1 -0.2l1 0.0l1 -0.3l1 -0.8l1 0.7l1 1.1l1 -0.9l1 1.1l1 -0.4l1 0.4l1 -0.1l1 -1.9l1 -1.4l1 2.2l1 -0.3l1 0.1l1 0.3l1 0.0l1 -1.7l1 0.8l1 -0.0l1 0.1l1 1.3l1 -0.9l1 -0.1l1 -0.5l1 1.2l1 -1.9l1 1.6l1 0.2l1 -0.3l1 0.6l1 -2.1l1 0.7l1 0.7l1 0.1l1 0.0l1 -0.8l1 0.2l1 -2.4l1 1.3l1 1.0l1 0.5l1 -0.3l1 0.5l1 -0.5l1 -0.5l1 0.6l1 -0.7l1 0.4l1 0.3l1 -0.8l1 0.6l1 1.0l1 -1.2l1 0.1l1 0.5l1 0.9l1 0.2l1 -0.1l1 -0.2l1 -0.2l1 -0.5l1 0.5l1 -0.4l1 0.2l1 -1.6l1 1.0l1 -1.1l1 1.0l1 0.5l1 0.7l1 -0.6l1 0.2l1 -1.3l1 -0.5l1 0.5l1 -0.7l1 1.6l1 -0.0l1 -0.7l1 -0.1l1 -0.4l1 1.0l1 -0.0l1 -1.0l1 0.1l1 0.7l1 -0.4l1 -0.4l1 0.4l1 -0.6l1 -0.3l1 6.0l1 4.8l1 0.9l1 0.2l1 -0.8l1 0.4l1 0.7l1 -0.8l1 0.6l1 0.7l1 -2.7l1 1.9l1 -0.9l1 1.3l1 -0.8l1 -0.6l1 -0.6l1 0.7l1 -0.7l1 0.1l1 0.2l1 -0.7l1 0.8l1 0.0l1 0.9l1 -1.7l1 1.2l1 1.1l1 0.2l1 0.2l1 -0.2l1 -2.1l1 0.6l1 -0.5l1 0.4l1 0.1l1 -1.0l1 0.0l1 -0.4l1 0.1l1 0.0l1 0.8l1 -0.5l1 -0.9l1 1.8l1 0.3l1 -0.4l1 -0.2l1 -1.2l1 1.6l1 0.2l1 0.5l1 -2.1l1 0.6l1 -0.3l1 1.3l1 -0.4l1 0.0l1 0.4l1 0.3l1 -0.9l1 -1.2l1 1.7l1 0.4l1 -2.5l1 2.1l1 -1.0l1 1.4l1 -0.6l1 0.8l1 0.1l1 -1.5l1 0.9l1 -0.3l1 -1.3l1 -1.0l1 1.4l1 -1.0l1 1.3l1 1.0l1 -1.0l1 0.6l1 -1.6l1 1.6l1 -0.5l1 0.1l1 0.2l1 -0.4l1 0.5l1 -1.1l1 1.7l1 -0.5l1 0.1l1 0.7l1 -1.1l1 0.5l1 -0.1l1 -0.6l1 0.1l1 -0.4l1 -0.8l1 0.3l1 0.7l1 0.5l1 -0.6l1 0.4l1 0.1l1 -0.0l1 -0.4l1 0.5l1 -0.2l1 -0.8l1 -0.6l1 -1.4l1 1.9l1 -1.6l1 1.2l1 0.7l1 -1.3l1 0.8l1 -1.2l1 -0.1l1 0.2l1 0.1l1 0.3l1 -0.1l1 -0.2l1 -0.4l1 0.5l1 -1.4l1 0.8l1 0.8l1 0.0l1 -0.3l1 -0.2l1 0.0l1 -0.9l1 0.0l1 1.5l1 0.1l1 0.3l1 -0.2l1 -0.1l1 -0.8l1 -0.8l1 0.7l1 -0.9l1 -0.3l1 -0.3l1 1.0l1 0.1l1 -0.2l1 -0.2l1 0.9l1 -0.1l1 -0.1l1 -3.1l1 3.8l1 -0.9l1 -0.4l1 0.6l1 -0.4l1 -2.8l1 2.0l1 0.4l1 0.1l1 0.8l1 -0.8l1 1.6l1 0.2l1 -0.7l1 0.2l1 -2.0l1 1.3l1 0.3l1 -2.2l1 1.3l1 0.6l1 -1.5l1 0.4l1 0.7l1 -0.1l1 -1.5l1 1.0l1 -0.3l1 -1.1l1 0.8l1 0.5l1 -0.1l1 -0.1l1 -0.3l1 1.0l1 -0.1l1 -0.5l1 -0.4l1 1.1l1 -1.4l1 1.4l1 1.0l1 -2.1l1 1.3l1 0.4l1 -1.1l1 1.0l1 -0.8l1 0.3l1 -0.1l1 -8.7l1 -7.6l1 -0.1l1 0.1l1 0.2l1 -1.2l1 0.7l1 -0.5l1 0.4l1 -0.6l1 -0.2l1 -0.8l1 1.2l1 -0.5l1 0.1l1 -1.6l1 0.7l1 0.7l1 -0.7l1 0.1l1 -2.1l1 2.0l1 -0.3l1 -1.2l1 1.7l1 -2.3l1 2.6l1 0.4l1 -0.3l1 0.7l1 -0.6l1 -0.2l1 1.4l1 -1.0l1 -1.0l1 0.2l1 1.2l1 0.2l1 0.6l1 -1.5l1 0.9l1 -0.6l1 0.5l1 -0.0l1 -0.4l1 0.3l1 -0.2l1 0.2l1 -1.6l1 1.4l1 0.6l1 0.2l1 -1.1l1 0.7l1 -0.4l1 -0.9l1 0.3l1 -3.0l1 3.0l1 0.2l1 -0.3l1 -2.5l1 2.9l1 -1.8l1 1.7l1 -0.7l1 0.5l1 0.4l1 -0.3l1 0.1l1 -0.9l1 1.1l1 -2.2l1 1.0l1 0.3l1 0.3l1 -1.7l1 1.0l1 0.7l1 -1.1l1 0.1l1 1.0l1 -1.5l1 1.3l1 -0.4l1 -0.3l1 0.7l1 -0.8l1 -0.4l1 0.3l1 -0.4l1 1.8l1 0.2l1 -0.1l1 0.4l1 -1.1l1 -0.2l1 0.4l1 0.8l1 -0.8l1 1.7l1 -1.4l1 -0.6l1 1.1l1 0.3l1 -0.2l1 -1.6l1 0.4l1 0.4l1 -0.8l1 0.8l1 0.3l1 -0.2l1 -2.2l1 1.2l1 0.9l1 -1.2l1 0.4l1 0.6l1 -1.7l1 0.3l1 -2.0l1 2.1l1 -0.0l1 0.6l1 -0.3l1 0.2l1 0.7l1 -0.4l1 -0.5l1 -0.5l1 0.7l1 -1.3l1 0.3l1 -0.2l1 1.4l1 -0.3l1 -0.5l1 -0.3l1 0.0l1 -0.5l1 1.1l1 -0.9l1 1.4l1 0.8l1 -2.0l1 1.9l1 0.1l1 0.1l1 0.6l1 -1.6l1 -0.2l1 -0.4l1 0.6l1 0.5l1 0.1l1 -0.4l1 -0.6l1 -0.1l1 -0.1l1 -0.1l1 -0.2l1 0.5l1 -1.2l1 -1.5l1 2.4l1 -0.2l1 0.2l1 0.2l1 0.3l1 0.1l1 -0.4l1 0.2l1 -0.5l1 1.0l1 1.0l1 -1.2l1 -0.7l1 1.5l1 -0.3l1 0.1l1 0.8l1 -0.6l1 0.6l1 -0.4l1 0.3l1 -0.3l1 -1.8l1 1.3l1 -0.1l1 0.2l1 -0.6l1 1.2l1 -1.1l1 -0.5l1 1.3l1 0.7l1 -0.4l1 -0.4l1 -1.8l1 0.6l1 -0.4l1 1.0l1 0.2l1 -1.1l1 0.2l1 0.7l1 -0.9l1 -1.5L2269.5 1325.6l-1 -0.0l-1 -0.1l-1 -0.1l-1 1.9l-1 -2.0l-1 -0.6l-1 0.9l-1 2.6l-1 -2.1l-1 -1.2l-1 0.7l-1 3.2l-1 -3.6l-1 1.9l-1 -0.5l-1 3.7l-1 -4.9l-1 0.9l-1 -0.7l-1 5.4l-1 -5.0l-1 1.1l-1 1.2l-1 -1.1l-1 -1.5l-1 1.1l-1 -1.1l-1 -0.0l-1 -1.6l-1 0.2l-1 -0.6l-1 1.8l-1 -0.1l-1 -1.5l-1 0.4l-1 0.4l-1 0.1l-1 0.8l-1 -0.8l-1 1.4l-1 -0.7l-1 -0.3l-1 -1.0l-1 2.0l-1 -0.7l-1 -0.6l-1 0.3l-1 1.0l-1 -0.0l-1 -1.0l-1 -0.2l-1 0.0l-1 0.8l-1 3.1l-1 -4.1l-1 -0.1l-1 4.2l-1 -2.8l-1 -0.7l-1 1.0l-1 3.4l-1 -3.3l-1 0.7l-1 -0.1l-1 1.2l-1 -2.8l-1 -0.1l-1 -0.4l-1 4.1l-1 -0.8l-1 -2.1l-1 -0.1l-1 5.0l-1 -3.0l-1 1.9l-1 -2.5l-1 -0.7l-1 0.2l-1 -0.0l-1 0.1l-1 3.2l-1 -1.3l-1 -1.8l-1 3.3l-1 -3.1l-1 -0.6l-1 0.4l-1 -1.4l-1 0.2l-1 1.1l-1 -0.7l-1 0.5l-1 -1.0l-1 0.2l-1 2.0l-1 -2.9l-1 2.3l-1 -0.8l-1 -0.8l-1 1.0l-1 1.8l-1 -1.6l-1 3.2l-1 -2.4l-1 2.1l-1 -2.5l-1 -0.3l-1 2.4l-1 -0.4l-1 -1.3l-1 3.9l-1 -3.5l-1 -1.2l-1 -0.0l-1 1.1l-1 -1.8l-1 0.9l-1 -0.8l-1 3.3l-1 -1.9l-1 -1.4l-1 3.9l-1 -3.0l-1 -1.2l-1 0.8l-1 0.2l-1 4.2l-1 -5.0l-1 4.7l-1 -4.1l-1 3.0l-1 -3.3l-1 1.4l-1 -0.7l-1 0.5l-1 -0.3l-1 1.2l-1 -2.7l-1 0.6l-1 2.6l-1 -1.9l-1 -0.9l-1 -0.8l-1 1.8l-1 2.8l-1 -3.6l-1 -1.1l-1 -0.4l-1 0.7l-1 3.2l-1 -3.2l-1 2.9l-1 3.5l-1 -5.7l-1 -0.3l-1 1.7l-1 -1.8l-1 -0.7l-1 1.3l-1 0.2l-1 -0.2l-1 -0.4l-1 -0.1l-1 2.3l-1 -2.4l-1 -0.0l-1 0.6l-1 0.6l-1 -0.9l-1 -0.2l-1 1.0l-1 0.5l-1 1.2l-1 -1.7l-1 -0.9l-1 0.8l-1 -0.3l-1 2.9l-1 -2.9l-1 1.5l-1 -0.3l-1 -0.4l-1 -1.0l-1 -0.3l-1 3.5l-1 -3.2l-1 -0.8l-1 0.5l-1 -0.3l-1 0.2l-1 0.6l-1 -0.5l-1 -0.1l-1 0.3l-1 -0.2l-1 0.8l-1 -1.4l-1 -0.2l-1 -0.3l-1 5.7l-1 -1.4l-1 -3.5l-1 -0.4l-1 0.6l-1 0.3l-1 1.4l-1 -0.5l-1 7.1l-1 7.2l-1 0.5l-1 -0.1l-1 3.6l-1 -3.1l-1 1.9l-1 -0.5l-1 -1.9l-1 -0.9l-1 1.5l-1 -1.7l-1 4.9l-1 -3.4l-1 -1.1l-1 0.2l-1 2.3l-1 -3.4l-1 0.0l-1 2.2l-1 -1.8l-1 0.8l-1 0.1l-1 0.3l-1 -0.5l-1 1.0l-1 0.2l-1 -0.1l-1 -1.4l-1 1.0l-1 0.3l-1 -1.0l-1 0.7l-1 -1.0l-1 0.1l-1 0.3l-1 -0.4l-1 5.1l-1 -4.0l-1 -0.1l-1 0.6l-1 -0.3l-1 -0.0l-1 -1.1l-1 1.1l-1 -1.0l-1 -0.1l-1 1.0l-1 -0.9l-1 -0.6l-1 0.4l-1 1.1l-1 -1.8l-1 -0.5l-1 0.6l-1 0.2l-1 0.8l-1 0.5l-1 2.0l-1 -2.9l-1 0.6l-1 -0.0l-1 -0.4l-1 1.7l-1 -1.0l-1 0.4l-1 -0.3l-1 0.4l-1 0.1l-1 0.6l-1 0.2l-1 -0.0l-1 0.1l-1 -0.6l-1 3.4l-1 -4.0l-1 0.6l-1 -0.6l-1 0.7l-1 0.3l-1 2.1l-1 -0.4l-1 -1.0l-1 0.2l-1 -0.4l-1 -0.5l-1 0.5l-1 0.7l-1 -0.5l-1 -0.3l-1 -0.3l-1 0.2l-1 2.8l-1 -3.7l-1 1.2l-1 1.2l-1 -1.6l-1 1.7l-1 1.5l-1 -1.8l-1 -1.4l-1 3.8l-1 -2.5l-1 -0.6l-1 -0.6l-1 0.8l-1 -0.2l-1 -1.1l-1 1.1l-1 0.5l-1 2.4l-1 -1.6l-1 -0.6l-1 1.2l-1 1.0l-1 -0.5l-1 -1.0l-1 -0.3l-1 -0.2l-1 1.7l-1 -0.4l-1 -0.3l-1 0.2l-1 -1.2l-1 1.7l-1 2.2l-1 -4.3l-1 0.1l-1 0.1l-1 0.0l-1 -0.6l-1 0.2l-1 -0.5l-1 -0.0l-1 2.6l-1 -3.4l-1 0.3l-1 0.2l-1 -0.7l-1 0.3l-1 2.4l-1 0.7l-1 1.4l-1 -3.1l-1 -1.2l-1 2.7l-1 2.0l-1 -4.6l-1 0.1l-1 -0.7l-1 0.8l-1 0.1l-1 -1.4l-1 4.1l-1 -2.6l-1 0.9l-1 -1.9l-1 0.8l-1 2.4l-1 0.4l-1 -2.6l-1 0.4l-1 1.3l-1 -1.3l-1 1.4l-1 0.3l-1 0.4l-1 -2.0l-1 1.6l-1 -0.3l-1 0.2l-1 0.9l-1 -0.7l-1 0.3l-1 -0.9l-1 0.1l-1 -0.1l-1 4.0l-1 -2.7l-1 -0.6l-1 -0.7l-1 0.3l-1 0.2l-1 4.2l-1 -4.4l-1 1.9l-1 -1.9l-1 0.3l-1 -0.4l-1 0.8l-1 -0.2l-1 -0.6l-1 0.8l-1 -1.3l-1 0.5l-1 4.3l-1 -5.6l-1 1.3l-1 -0.2l-1 1.1l-1 3.0l-1 -4.1l-1 2.7l-1 -2.0l-1 -0.6l-1 0.4l-1 1.2l-1 -3.9l-1 -5.5l-1 -0.7l-1 0.6l-1 -1.4l-1 0.5l-1 -0.1l-1 3.1l-1 -2.6l-1 -0.4l-1 0.7l-1 -0.2l-1 0.7l-1 -1.0l-1 2.2l-1 -1.2l-1 0.1l-1 0.8l-1 2.8l-1 -4.0l-1 1.0l-1 -1.6l-1 1.0l-1 -0.8l-1 -0.3l-1 0.2l-1 0.8l-1 -0.3l-1 0.8l-1 -0.3l-1 -1.6l-1 2.4l-1 -1.1l-1 -1.1l-1 0.8l-1 -0.1l-1 1.7l-1 2.9l-1 -1.1l-1 -3.3l-1 -0.2l-1 2.3l-1 -3.0l-1 1.1l-1 -0.7l-1 0.3l-1 -0.6l-1 2.6l-1 -2.2l-1 -0.1l-1 -0.5l-1 0.1l-1 4.4l-1 -3.4l-1 -0.7l-1 0.1l-1 0.0l-1 2.1l-1 -1.1l-1 0.6l-1 -0.6l-1 -1.1l-1 -0.1l-1 -0.6l-1 0.3l-1 1.3l-1 3.3l-1 -4.3l-1 3.1l-1 -3.0l-1 1.5l-1 -1.7l-1 0.8l-1 -0.4l-1 0.0l-1 -0.6l-1 2.2l-1 -1.7l-1 -1.0l-1 0.5l-1 4.4l-1 -2.6l-1 -1.9l-1 -0.1l-1 2.7l-1 -2.1l-1 2.0l-1 -1.1l-1 0.5l-1 -1.2l-1 1.2l-1 -1.0l-1 -0.7l-1 0.6l-1 0.7l-1 0.8l-1 -1.7l-1 -0.4l-1 0.4l-1 1.4l-1 1.8l-1 -3.1l-1 -0.1l-1 1.3l-1 -0.2l-1 2.4l-1 -2.7l-1 1.8l-1 -3.0l-1 0.3l-1 1.4l-1 1.8l-1 -3.2l-1 0.8l-1 1.1l-1 -1.4l-1 0.1l-1 -0.7l-1 0.4l-1 0.1l-1 -0.7l-1 0.3l-1 0.4l-1 1.5l-1 -0.8l-1 1.0l-1 2.1l-1 0.2l-1 -1.0l-1 -2.0l-1 0.8l-1 -1.4l-1 1.6l-1 -0.5l-1 -1.1l-1 1.5l-1 -1.2l-1 5.2l-1 -1.3l-1 -2.9l-1 3.0l-1 -2.2l-1 -1.0l-1 -0.6l-1 0.5l-1 1.0l-1 -1.3l-1 0.8l-1 -0.4l-1 0.1l-1 -0.2l-1 0.5l-1 -1.1l-1 4.1l-1 -1.4l-1 -0.1l-1 0.7l-1 -1.6l-1 -2.2l-1 0.5l-1 -1.0l-1 -0.1l-1 2.4l-1 -1.4l-1 -0.1l-1 1.4l-1 0.4l-1 -2.3l-1 1.7l-1 -0.7l-1 0.0l-1 -0.5l-1 0.4l-1 0.3l-1 -0.0l-1 0.1l-1 2.5l-1 -2.8l-1 4.5l-1 -4.0l-1 3.6l-1 -2.3l-1 0.7l-1 0.8l-1 -2.8l-1 -0.4l-1 1.4l-1 -1.6l-1 -0.6l-1 0.0l-1 2.1l-1 -1.3l-1 -0.1l-1 4.1l-1 -3.2l-1 -1.9l-1 1.6l-1 1.2l-1 -1.3l-1 1.1l-1 -0.5l-1 1.9l-1 -3.4l-1 1.2l-1 -1.2l-1 1.0l-1 0.3l-1 8.1l-1 1.9l-1 0.9l-1 4.8l-1 -5.4l-1 1.1l-1 -1.2l-1 2.2l-1 -1.6l-1 0.4l-1 -0.6l-1 2.8l-1 3.3l-1 -5.2l-1 -0.9l-1 0.0l-1 1.7l-1 -1.3l-1 -0.5l-1 1.4l-1 -1.5l-1 0.6l-1 1.0l-1 0.0l-1 3.7l-1 -4.2l-1 0.9l-1 -1.2l-1 0.8l-1 -0.4l-1 -0.1l-1 -0.2l-1 2.5l-1 -1.6l-1 -0.7l-1 0.2l-1 -0.4l-1 -0.4l-1 3.3l-1 -1.2l-1 0.6l-1 -1.2l-1 -0.4l-1 3.8l-1 -3.1l-1 -0.4l-1 -0.2l-1 0.3l-1 -0.9l-1 1.3l-1 0.3l-1 -0.4l-1 -0.2l-1 0.3l-1 1.1l-1 -1.4l-1 1.8l-1 -0.7l-1 -1.0l-1 -0.3l-1 2.0l-1 0.5l-1 -1.5l-1 2.5l-1 -3.9l-1 0.4l-1 -0.0l-1 0.3l-1 0.2l-1 -1.1l-1 0.4l-1 1.0l-1 -0.5l-1 0.2l-1 1.3l-1 -1.9l-1 1.5l-1 -0.4l-1 -0.6l-1 2.0l-1 -2.5l-1 0.4l-1 3.9l-1 -4.4l-1 0.6l-1 0.8l-1 -0.2l-1 -0.7l-1 0.2l-1 1.7l-1 0.5l-1 -1.7l-1 -0.1l-1 0.0l-1 2.9l-1 -1.9l-1 0.4l-1 -1.7l-1 1.6l-1 -0.4l-1 0.4l-1 0.1l-1 -0.7l-1 0.4l-1 -0.7l-1 0.1l-1 0.8l-1 1.1l-1 0.3l-1 -2.2l-1 0.9l-1 -0.4l-1 0.3l-1 0.3l-1 -1.0l-1 -0.1l-1 -0.6l-1 0.6l-1 0.3l-1 -0.8l-1 2.6l-1 -0.3l-1 -0.1l-1 -1.5l-1 -0.1l-1 -0.2l-1 0.2l-1 1.9l-1 -2.2l-1 0.0l-1 1.2l-1 -1.2l-1 -0.7l-1 0.7l-1 0.2l-1 -0.3l-1 2.0l-1 -1.0l-1 3.9l-1 -4.0l-1 1.4l-1 0.3l-1 -0.6l-1 -1.9l-1 2.2l-1 -1.3l-1 0.7l-1 1.0l-1 -1.5l-1 -0.6l-1 0.5l-1 0.7l-1 -1.7l-1 3.3l-1 -1.6l-1 -0.7l-1 0.4l-1 2.0l-1 -2.4l-1 1.2l-1 -0.2l-1 3.8l-1 -3.2l-1 0.1l-1 2.5l-1 -2.3l-1 -0.3l-1 0.2l-1 3.1l-1 -2.1l-1 0.6l-1 -1.0l-1 -0.8l-1 2.5l-1 -2.1l-1 -0.7l-1 0.7l-1 -0.4l-1 0.2l-1 0.4l-1 -0.4l-1 -0.4l-1 0.4l-1 -1.2l-1 0.9l-1 1.1l-1 1.0l-1 -2.3l-1 2.6l-1 -2.6l-1 0.5l-1 3.4l-1 -4.2l-1 0.6l-1 0.6l-1 -0.9l-1 2.5l-1 -2.2l-1 0.5l-1 -1.5l-1 -0.1l-1 0.7l-1 -0.9l-1 0.3l-1 3.0l-1 -1.9l-1 -2.1l-1 -8.0l-1 -3.7l-1 -2.1l-1 0.9l-1 0.1l-1 -0.6l-1 4.6l-1 -4.5l-1 -0.5l-1 0.5l-1 -0.7l-1 1.6l-1 -1.4l-1 4.9l-1 -4.6l-1 5.2l-1 -3.2l-1 -2.4l-1 0.5l-1 -0.7l-1 1.3l-1 2.7l-1 -2.8l-1 -0.3l-1 -1.0l-1 4.6l-1 -4.5l-1 0.6l-1 0.1l-1 0.4l-1 0.2l-1 -1.3l-1 2.9l-1 -1.7l-1 -0.4l-1 -0.5l-1 3.3l-1 -3.4l-1 0.3l-1 4.6l-1 -4.4l-1 -0.3l-1 1.5l-1 -2.0l-1 0.2l-1 4.2l-1 -3.1l-1 4.2l-1 -4.7l-1 -1.0l-1 0.8l-1 5.6l-1 -5.4l-1 0.9l-1 -1.7l-1 0.5l-1 1.2l-1 -0.1l-1 -0.7l-1 1.9l-1 -1.9l-1 -0.5l-1 2.9l-1 -2.0l-1 2.1l-1 -2.7l-1 1.1l-1 1.3l-1 -1.6l-1 0.3l-1 -0.6l-1 0.5l-1 -1.3l-1 -0.5l-1 1.2l-1 3.4l-1 -4.2l-1 0.2l-1 -0.9l-1 2.1l-1 -1.0l-1 3.3l-1 -3.1l-1 0.0l-1 0.1l-1 0.6l-1 1.2l-1 -1.4l-1 -0.4l-1 -0.1l-1 -0.3l-1 0.9l-1 1.5l-1 -0.2l-1 -1.8l-1 0.2l-1 -0.1l-1 -0.2l-1 1.0l-1 0.5l-1 -0.3l-1 1.3l-1 -0.1l-1 -1.5l-1 3.0l-1 -0.5l-1 -2.1l-1 1.5l-1 0.2l-1 -3.1l-1 2.4l-1 1.2l-1 -3.8l-1 2.3l-1 -2.5l-1 0.0l-1 0.3l-1 2.2l-1 -3.0l-1 1.2l-1 -0.3l-1 1.4l-1 2.0l-1 -2.8l-1 3.3l-1 -1.0l-1 3.4l-1 -0.4l-1 -4.9l-1 -0.6l-1 1.1l-1 -0.7l-1 -0.8l-1 -0.0l-1 0.7l-1 1.6l-1 -2.6l-1 0.9l-1 0.7l-1 -0.2l-1 -0.5l-1 -0.2l-1 2.2l-1 -2.6l-1 4.4l-1 -1.5l-1 -0.6l-1 -0.3l-1 2.5l-1 -3.9l-1 1.3l-1 -0.5l-1 1.0l-1 -1.9l-1 0.4l-1 -0.4l-1 0.7l-1 -1.2l-1 0.6l-1 1.1l-1 -2.2l-1 -0.3l-1 2.8l-1 -2.2l-1 0.3l-1 1.3l-1 -2.1l-1 0.5l-1 5.1l-1 -3.9l-1 0.0l-1 2.3l-1 -2.4l-1 -0.4l-1 2.6l-1 -2.4l-1 -0.4l-1 0.3l-1 -0.2l-1 -0.1l-1 1.4l-1 -1.1l-1 1.7l-1 -1.4l-1 -0.4l-1 -0.2l-1 5.1l-1 -5.3l-1 -0.1l-1 2.8l-1 -1.4l-1 -0.9l-1 0.3l-1 4.1l-1 -4.6l-1 0.2l-1 0.9l-1 0.7l-1 2.8l-1 -3.7l-1 0.2l-1 0.6l-1 -0.0l-1 -1.4l-1 -0.3l-1 0.2l-1 -0.5l-1 -12.0l-1 0.0l-1 -0.3l-1 -0.4l-1 -1.5l-1 1.1l-1 -0.4l-1 -0.1l-1 -0.6l-1 0.3l-1 -0.3l-1 2.4l-1 -2.0l-1 -0.0l-1 -0.2l-1 0.8l-1 -0.3l-1 -1.3l-1 -0.3l-1 2.5l-1 -1.4l-1 -0.2l-1 2.7l-1 -0.1l-1 -0.2l-1 -2.0l-1 0.3l-1 0.5l-1 1.8l-1 -2.8l-1 2.3l-1 -1.8l-1 -0.4l-1 3.1l-1 -3.2l-1 0.2l-1 1.1l-1 -1.2l-1 0.7l-1 -0.8l-1 -0.8l-1 0.3l-1 4.2l-1 -2.6l-1 1.2l-1 -0.1l-1 -2.3l-1 0.1l-1 -0.4l-1 0.5l-1 1.6l-1 -0.8l-1 -0.1l-1 -0.6l-1 0.8l-1 -0.6l-1 0.9l-1 0.6l-1 0.5l-1 -2.7l-1 -0.2l-1 0.0l-1 1.7l-1 -0.4l-1 -1.6l-1 1.1l-1 0.6l-1 -1.0l-1 -0.6l-1 0.3l-1 -0.0l-1 0.7l-1 1.1l-1 0.1l-1 -0.3l-1 1.4l-1 -1.4l-1 0.0l-1 0.7l-1 -1.9l-1 0.3l-1 -0.1l-1 1.3l-1 0.3l-1 -1.5l-1 -0.6l-1 -0.5l-1 0.0l-1 1.9l-1 -1.8l-1 1.0l-1 -0.8l-1 0.0l-1 0.5l-1 0.4l-1 2.5l-1 0.6l-1 1.3l-1 -5.2l-1 -0.2l-1 3.8l-1 -3.2l-1 0.1l-1 -0.6l-1 1.8l-1 0.7l-1 -1.7l-1 2.1l-1 -0.7l-1 2.5l-1 -3.5l-1 0.4l-1 4.0l-1 -4.2l-1 0.4l-1 2.4l-1 -3.3l-1 3.3l-1 -3.1l-1 0.7l-1 0.2l-1 -1.1l-1 -0.2l-1 -0.1l-1 3.8l-1 -1.8l-1 -1.1l-1 -0.3l-1 -0.3l-1 3.0l-1 -2.8l-1 1.5l-1 -1.4l-1 -0.2l-1 6.8l-1 -5.5l-1 1.2l-1 -1.5l-1 1.9l-1 -1.8l-1 0.6l-1 2.7l-1 -0.5l-1 -3.6l-1 1.7l-1 0.1l-1 -0.3l-1 1.3l-1 -4.1l-1 2.3l-1 -2.1l-1 0.0l-1 0.5l-1 0.1l-1 3.6l-1 -2.9l-1 0.0l-1 0.4l-1 -0.5l-1 -0.5l-1 1.6l-1 1.4l-1 -2.5l-1 -0.5l-1 0.7l-1 -0.0l-1 3.0l-1 -3.6l-1 0.2l-1 -0.5l-1 -0.8l-1 0.2l-1 2.8l-1 -2.1l-1 -1.0l-1 1.0l-1 0.2l-1 1.7l-1 -1.8l-1 0.8l-1 -0.3l-1 -0.7l-1 0.8l-1 1.3l-1 1.4l-1 -2.4l-1 0.7l-1 1.8l-1 -2.3l-1 3.4l-1 -3.8l-1 3.9l-1 -0.7l-1 -4.7l-1 0.1l-1 0.3l-1 0.6l-1 -0.2l-1 0.7l-1 -0.9l-1 -0.8l-1 -1.7l-1 -0.1l-1 -2.4l-1 -0.8l-1 -1.3l-1 0.4l-1 -1.3l-1 -0.3l-1 0.5l-1 4.4l-1 -2.5l-1 -1.9l-1 -0.1l-1 0.2l-1 -1.1l-1 1.3l-1 -1.2l-1 -0.2l-1 0.2l-1 2.6l-1 -1.4l-1 -1.2l-1 2.8l-1 0.8l-1 0.8l-1 -4.3l-1 0.4l-1 4.7l-1 -0.8l-1 -1.8l-1 -1.5l-1 -0.5l-1 -0.2l-1 -0.1l-1 5.0l-1 -3.1l-1 1.1l-1 -3.2l-1 3.3l-1 -2.9l-1 1.8l-1 -2.2l-1 -0.0l-1 3.2l-1 -2.0l-1 0.1l-1 0.3l-1 -0.3l-1 -0.4l-1 -0.0l-1 -0.5l-1 0.6l-1 0.9l-1 -0.9l-1 -0.1l-1 3.8l-1 -4.9l-1 -0.9l-1 -0.7l-1 -0.2l-1 1.3l-1 4.9l-1 -3.5l-1 -0.5l-1 -0.1l-1 3.9l-1 -3.1l-1 0.2l-1 -0.1l-1 -0.9l-1 -0.3l-1 0.3l-1 0.6l-1 1.1l-1 -1.4l-1 -0.7l-1 0.3l-1 -0.7l-1 0.0l-1 0.1l-1 0.3l-1 0.6l-1 -0.7l-1 2.1l-1 -1.4l-1 -0.4l-1 2.9l-1 -2.8l-1 0.1l-1 -0.0l-1 0.1l-1 2.1l-1 -1.8l-1 -0.1l-1 -0.2l-1 0.0l-1 2.3l-1 -1.0l-1 0.8l-1 1.2l-1 0.7l-1 -2.4l-1 0.8l-1 -1.4l-1 0.6l-1 2.6l-1 -3.2l-1 1.2l-1 -0.9l-1 -0.4l-1 0.4l-1 0.4l-1 -2.4l-1 0.2l-1 0.2l-1 2.6l-1 0.4l-1 -2.5l-1 0.6l-1 -0.6l-1 1.4l-1 0.7l-1 -2.2l-1 -0.3l-1 1.5l-1 1.0l-1 -1.3l-1 0.6l-1 -0.4l-1 -1.1l-1 0.7l-1 -0.5l-1 0.4l-1 0.5l-1 2.1l-1 -2.9l-1 -0.2l-1 0.6l-1 1.8l-1 -2.7l-1 1.6l-1 2.6l-1 -3.9l-1 1.4l-1 -1.3l-1 0.4l-1 4.2l-1 -5.1l-1 5.5l-1 -5.0l-1 0.1l-1 0.9l-1 1.1l-1 0.0l-1 -0.5l-1 2.7l-1 -3.2l-1 -0.7l-1 -0.4l-1 0.9l-1 2.5l-1 -2.8l-1 1.9l-1 -1.3l-1 -1.2l-1 0.4l-1 2.1l-1 -2.3l-1 2.8l-1 -3.3l-1 0.1l-1 2.4l-1 -1.9l-1 0.4l-1 -0.3l-1 -0.4l-1 0.4l-1 -0.8l-1 0.9l-1 2.4l-1 -2.0l-1 -1.1l-1 0.5l-1 3.9l-1 -2.5l-1 -1.7l-1 -0.2l-1 1.8l-1 0.1l-1 0.1l-1 -0.8l-1 0.6l-1 -1.0l-1 0.8l-1 3.6l-1 -2.8l-1 -2.0l-1 0.4l-1 1.8l-1 0.8l-1 -2.9l-1 0.2l-1 2.6l-1 -3.2l-1 0.6l-1 1.3l-1 1.0l-1 5.2l-1 -5.5l-1 4.6l-1 -3.7l-1 1.9l-1 3.8l-1 3.7l-1 -1.2l-1 0.9l-1 2.0l-1 -0.4l-1 -0.6l-1 -1.0l-1 -0.6l-1 -0.0l-1 0.3l-1 -0.2l-1 -0.3l-1 0.4l-1 0.1l-1 -0.2l-1 -0.2l-1 -0.3l-1 -0.3l-1 1.7l-1 2.3l-1 -1.9l-1 0.7l-1 -0.5l-1 -0.9l-1 1.3l-1 -1.2l-1 0.7l-1 1.9l-1 -2.5l-1 0.7l-1 0.2l-1 -0.7l-1 3.8l-1 -3.0l-1 -1.0l-1 -0.1l-1 0.2l-1 0.9l-1 2.7l-1 -3.3l-1 1.1l-1 0.2l-1 -0.1l-1 -0.4l-1 0.6l-1 -1.5l-1 4.3l-1 -4.2l-1 0.1l-1 0.4l-1 -1.0l-1 -0.1l-1 0.1l-1 -0.1l-1 1.1l-1 -0.6l-1 -0.2l-1 0.2l-1 -0.4l-1 -0.4l-1 0.9l-1 0.1l-1 -0.1l-1 1.2l-1 0.3l-1 1.9l-1 -1.4l-1 -0.7l-1 1.3l-1 -1.7l-1 -0.8l-1 -0.7l-1 -0.1l-1 3.4l-1 -2.0l-1 -0.5l-1 -0.0l-1 -0.3l-1 0.1l-1 1.2l-1 -0.5l-1 3.7l-1 -3.4l-1 -0.1l-1 -0.7l-1 3.3l-1 -3.2l-1 4.2l-1 -1.5l-1 0.8l-1 -1.7l-1 1.0l-1 -0.2l-1 -0.2l-1 -2.1l-1 3.5l-1 -3.1l-1 -0.2l-1 1.1l-1 -0.3l-1 -0.0l-1 0.2l-1 2.7l-1 -2.4l-1 -0.8l-1 0.5l-1 -0.2l-1 -0.5l-1 0.1l-1 0.3l-1 4.8l-1 -2.6l-1 -0.5l-1 1.2l-1 -1.2l-1 0.5l-1 0.1l-1 1.3l-1 -2.0l-1 0.1l-1 -0.7l-1 0.2l-1 2.8l-1 -3.8l-1 -0.2l-1 2.0l-1 -1.4l-1 1.1l-1 -0.6l-1 -0.6l-1 -0.2l-1 0.4l-1 -0.6l-1 -0.0l-1 0.1l-1 0.3l-1 -0.1l-1 -0.5l-1 1.2l-1 2.7l-1 -2.1l-1 -0.1l-1 -0.4l-1 0.2l-1 0.3l-1 0.3l-1 0.4l-1 -0.8l-1 0.2l-1 0.3l-1 -1.0l-1 2.6l-1 -2.8l-1 1.7l-1 -1.7l-1 3.9l-1 -3.9l-1 0.3l-1 1.9l-1 -1.0l-1 -0.8l-1 0.0l-1 0.4l-1 1.9l-1 -1.2l-1 -1.1l-1 -0.8l-1 0.5l-1 1.9l-1 -0.0l-1 1.1l-1 -0.3l-1 -0.3l-1 -0.5l-1 -2.2l-1 3.8l-1 -2.7l-1 0.5l-1 -0.7l-1 1.1l-1 0.2l-1 1.9l-1 -1.1l-1 2.0l-1 -1.7l-1 -0.2l-1 0.7l-1 0.3l-1 -2.8l-1 3.7l-1 -3.4l-1 2.3l-1 -2.4l-1 -0.0l-1 1.1l-1 0.1l-1 -1.2l-1 0.6l-1 -0.2l-1 0.6l-1 -0.2l-1 0.3l-1 3.4l-1 -3.2l-1 -0.3l-1 1.3l-1 10.6l-1 4.9l-1 5.2l-1 -5.8l-1 0.3l-1 0.6l-1 -0.9l-1 1.5l-1 -1.5l-1 2.8l-1 -1.7l-1 -1.7l-1 1.3l-1 -0.4l-1 1.3l-1 -1.6l-1 -0.9l-1 -0.0l-1 -0.2l-1 1.3l-1 -1.5l-1 1.3l-1 -1.1l-1 0.8l-1 -0.7l-1 0.1l-1 0.3l-1 -0.1l-1 0.2l-1 -0.4l-1 3.2l-1 -3.0l-1 -0.3l-1 -0.1l-1 -0.4l-1 1.2l-1 0.9l-1 -1.6l-1 2.0l-1 -2.0l-1 2.0l-1 -2.3l-1 1.7l-1 2.2l-1 -3.8l-1 1.2l-1 -0.6l-1 1.5l-1 -0.6l-1 -0.2l-1 -0.4l-1 -0.3l-1 1.6l-1 -1.1l-1 6.3l-1 -5.0l-1 -1.2l-1 -0.4l-1 -0.2l-1 -0.1l-1 0.9l-1 -1.3l-1 0.2l-1 2.0l-1 -2.0l-1 0.1l-1 0.2l-1 -0.3l-1 -0.0l-1 2.0l-1 -0.8l-1 -1.0l-1 1.3l-1 -1.0l-1 1.9l-1 -0.9l-1 2.8l-1 -2.9l-1 1.1l-1 -2.2l-1 -0.3l-1 0.1l-1 0.9l-1 -0.9l-1 -0.4l-1 0.2l-1 4.0l-1 -2.3l-1 -1.9l-1 3.0l-1 -2.1l-1 0.8l-1 0.3l-1 -1.0l-1 0.1l-1 3.9l-1 -0.8l-1 -1.7l-1 -2.9l-1 0.5l-1 -0.5l-1 0.3l-1 1.6l-1 -0.6l-1 0.5l-1 1.4l-1 -2.1l-1 -0.5l-1 1.1l-1 -0.8l-1 0.5l-1 -0.3l-1 0.8l-1 -0.5l-1 -0.0l-1 -0.5l-1 -0.3l-1 0.2l-1 0.2l-1 1.5l-1 1.3l-1 -2.3l-1 -0.6l-1 1.3l-1 -0.9l-1 3.0l-1 0.6l-1 -0.6l-1 -2.6l-1 0.3l-1 0.1l-1 1.5l-1 -0.8l-1 -0.1l-1 -0.4l-1 -0.0l-1 -0.5l-1 0.6l-1 -0.1l-1 -0.3l-1 2.3l-1 0.6l-1 -3.8l-1 -0.1l-1 2.1l-1 -1.5l-1 -0.5l-1 -0.0l-1 -0.9l-1 0.3l-1 0.6l-1 0.3l-1 0.6l-1 -0.8l-1 -0.5l-1 0.1l-1 0.8l-1 -0.4l-1 -0.6l-1 1.5l-1 -0.0l-1 -1.5l-1 0.8l-1 0.2l-1 3.0l-1 -3.9l-1 3.6l-1 -2.7l-1 -0.2l-1 -0.7l-1 2.8l-1 -3.2l-1 2.8l-1 -3.0l-1 0.7l-1 1.4l-1 0.8l-1 -0.6l-1 3.3l-1 -2.9l-1 -2.3l-1 0.0l-1 3.2l-1 0.1l-1 -3.1l-1 2.5l-1 -1.9l-1 0.4l-1 0.7l-1 -0.1l-1 -1.1l-1 -0.2l-1 0.5l-1 -0.4l-1 0.6l-1 0.8l-1 -0.4l-1 -1.1l-1 2.4l-1 -2.6l-1 0.4l-1 1.6l-1 0.2l-1 0.7l-1 -1.2l-1 1.5l-1 1.1l-1 5.8l-1 1.0l-1 0.9l-1 -0.3l-1 -0.2l-1 3.3l-1 -3.5l-1 1.0l-1 -0.3l-1 2.6l-1 -1.3l-1 -2.0l-1 0.0l-1 2.6l-1 -2.3l-1 -0.0l-1 0.9l-1 -0.4l-1 -0.2l-1 -0.4l-1 0.3l-1 0.9l-1 0.7l-1 -0.1l-1 -0.2l-1 2.1l-1 -2.1l-1 -0.4l-1 0.6l-1 0.3l-1 7.1l-1 -6.9l-1 1.8l-1 -2.7l-1 1.4l-1 -2.2l-1 0.2l-1 4.9l-1 -3.4l-1 -0.3l-1 1.0l-1 1.6l-1 -5.1l-1 4.3l-1 -4.0l-1 0.3l-1 -0.1l-1 2.1l-1 -2.3l-1 1.8l-1 0.9l-1 -2.5l-1 2.3l-1 3.3l-1 -4.2l-1 4.5l-1 -5.1l-1 1.3l-1 -0.9l-1 -0.4l-1 -0.6l-1 -0.3l-1 1.1l-1 -0.1l-1 -0.5l-1 -0.6l-1 0.2l-1 0.8l-1 0.1l-1 0.4l-1 -0.2l-1 -0.9l-1 0.5l-1 -0.2l-1 4.8l-1 -4.6l-1 -0.2l-1 3.6l-1 -4.4l-1 2.0l-1 -0.7l-1 -0.4l-1 -0.5l-1 0.1l-1 1.0l-1 -0.9l-1 0.2l-1 0.4l-1 -0.6l-1 2.6l-1 0.2l-1 -0.9l-1 -1.8l-1 0.9l-1 -0.6l-1 -0.3l-1 -0.3l-1 2.6l-1 -2.4l-1 0.9l-1 -0.1l-1 1.0l-1 1.1l-1 -2.9l-1 -0.4l-1 3.1l-1 -2.9l-1 0.1l-1 0.0l-1 1.1l-1 2.8l-1 -2.8l-1 3.2l-1 -4.3l-1 1.0l-1 -1.0l-1 1.3l-1 -0.8l-1 -0.9l-1 0.7l-1 -0.3l-1 4.6l-1 -3.5l-1 0.3l-1 0.9l-1 0.0l-1 -0.5l-1 4.3l-1 -4.2l-1 -0.8l-1 -0.1l-1 5.1l-1 -4.1l-1 -1.3l-1 0.0l-1 0.1l-1 0.0l-1 2.9l-1 -2.5l-1 -0.3l-1 0.2l-1 0.5l-1 0.2l-1 1.4l-1 -1.5l-1 0.6l-1 -0.9l-1 -0.1l-1 2.5l-1 -2.3l-1 2.4l-1 -3.1l-1 0.2l-1 2.9l-1 -2.5l-1 1.8l-1 -2.6l-1 0.5l-1 0.7l-1 1.1l-1 2.5l-1 -3.9l-1 -0.2l-1 1.1l-1 -1.0l-1 0.2l-1 0.1l-1 2.5l-1 -2.7l-1 0.4l-1 -1.6l-1 0.4l-1 -0.3l-1 0.8l-1 -1.6l-1 1.2l-1 1.0l-1 -1.9l-1 0.4l-1 5.9l-1 -5.3l-1 0.3l-1 -0.1l-1 1.5l-1 -0.7l-1 2.4l-1 -2.0l-1 3.6l-1 -4.4l-1 -0.0l-1 -0.2l-1 3.6l-1 -1.6l-1 0.5l-1 -0.7l-1 2.2l-1 -4.0l-1 -0.3l-1 2.6l-1 1.3l-1 -3.9l-1 -0.3l-1 -0.2l-1 0.1l-1 1.8l-1 1.5l-1 -2.5l-1 0.3l-1 2.7l-1 -3.8l-1 0.6Z" fill="#00ff00" stroke="#00ff00"/><path d="M196.5 1378.4l1 -0.2l1 0.7l1 0.4l1 -0.4l1 0.3l1 0.0l1 -0.5l1 -0.1l1 -0.4l1 0.9l1 0.0l1 0.2l1 -1.2l1 1.0l1 -0.0l1 -1.0l1 1.2l1 -0.9l1 0.4l1 0.2l1 -1.1l1 0.6l1 1.2l1 -0.4l1 0.3l1 -0.4l1 -0.4l1 1.0l1 0.4l1 -0.8l1 -0.2l1 0.4l1 -0.3l1 -0.4l1 0.4l1 -0.8l1 0.3l1 -0.1l1 -0.0l1 0.3l1 -1.0l1 0.6l1 0.6l1 -1.4l1 0.7l1 -0.2l1 0.4l1 0.6l1 0.0l1 0.1l1 -0.6l1 -1.3l1 1.2l1 0.1l1 0.0l1 -0.2l1 -0.5l1 1.1l1 -1.0l1 1.2l1 -0.8l1 -0.2l1 -0.3l1 0.2l1 -0.7l1 -0.1l1 1.7l1 0.1l1 -0.5l1 0.2l1 -0.5l1 1.0l1 -0.5l1 1.2l1 -0.8l1 0.9l1 -0.5l1 0.3l1 0.0l1 -0.5l1 0.4l1 0.5l1 -0.2l1 -0.3l1 -0.4l1 0.3l1 -1.0l1 -0.0l1 -0.5l1 0.6l1 0.7l1 -0.5l1 -0.5l1 0.3l1 0.3l1 -0.5l1 0.3l1 -0.6l1 0.2l1 -0.2l1 -0.5l1 -0.1l1 1.5l1 0.5l1 0.0l1 -1.2l1 0.8l1 -0.6l1 -0.4l1 1.0l1 0.0l1 -0.3l1 -0.3l1 -0.1l1 0.5l1 -0.4l1 0.1l1 -0.2l1 -0.3l1 0.4l1 -0.6l1 0.1l1 0.1l1 0.1l1 -0.0l1 0.6l1 0.7l1 -0.3l1 -0.3l1 -0.9l1 0.9l1 -0.1l1 -0.4l1 0.3l1 -0.5l1 -0.6l1 0.1l1 0.5l1 0.0l1 -0.5l1 0.5l1 0.5l1 0.5l1 -0.7l1 -0.0l1 -0.2l1 0.3l1 0.3l1 -0.0l1 0.4l1 -0.7l1 -0.3l1 -0.7l1 0.5l1 -0.5l1 1.4l1 -0.7l1 0.4l1 -0.5l1 0.3l1 0.3l1 0.0l1 -1.2l1 0.9l1 -0.9l1 0.7l1 0.1l1 -0.6l1 0.8l1 0.2l1 0.5l1 -0.4l1 -0.2l1 0.1l1 -0.8l1 0.1l1 -1.7l1 1.6l1 -0.1l1 0.5l1 0.6l1 -0.2l1 -0.6l1 0.2l1 -0.5l1 0.7l1 0.2l1 0.2l1 -0.8l1 -0.5l1 -0.5l1 0.6l1 0.0l1 0.2l1 0.0l1 1.0l1 0.1l1 -1.0l1 0.7l1 0.4l1 -0.7l1 0.3l1 -1.1l1 -0.2l1 -0.3l1 1.5l1 0.1l1 -0.2l1 -0.4l1 -1.8l1 -5.0l1 -2.7l1 1.0l1 -0.3l1 -0.5l1 1.0l1 -0.1l1 -0.2l1 -0.4l1 0.5l1 -0.8l1 0.6l1 -0.8l1 -0.1l1 0.1l1 -0.9l1 -0.1l1 0.7l1 -0.4l1 0.7l1 -0.0l1 -0.0l1 -0.6l1 -1.1l1 0.9l1 -0.1l1 -0.3l1 -0.6l1 -0.3l1 0.9l1 0.0l1 0.2l1 -0.1l1 0.6l1 0.3l1 0.0l1 0.2l1 1.1l1 -0.9l1 -0.0l1 -0.1l1 0.2l1 0.3l1 -0.4l1 -1.1l1 0.4l1 0.3l1 0.2l1 -0.1l1 0.1l1 0.1l1 0.0l1 -0.4l1 -0.3l1 0.6l1 0.5l1 -0.2l1 0.4l1 -0.3l1 0.1l1 -0.2l1 -0.5l1 0.3l1 0.2l1 0.5l1 -0.3l1 0.7l1 -0.6l1 0.4l1 -0.1l1 -0.4l1 0.5l1 -0.0l1 -0.1l1 -0.2l1 0.3l1 0.2l1 -0.5l1 0.2l1 -0.8l1 -0.7l1 0.1l1 0.7l1 0.1l1 0.4l1 -0.0l1 -0.2l1 -0.2l1 -0.0l1 0.3l1 0.3l1 0.3l1 -0.7l1 -0.6l1 -0.2l1 -0.7l1 -0.3l1 -1.5l1 0.9l1 0.8l1 0.5l1 0.8l1 0.2l1 -0.1l1 -0.9l1 0.2l1 -0.1l1 -0.6l1 -0.2l1 0.4l1 0.5l1 0.3l1 0.1l1 0.9l1 -1.6l1 -0.2l1 1.1l1 -0.6l1 -0.1l1 0.6l1 -0.1l1 -0.2l1 -0.1l1 -0.5l1 1.2l1 0.4l1 0.1l1 -1.3l1 1.0l1 0.1l1 -0.3l1 0.5l1 -0.6l1 -0.3l1 -0.2l1 0.4l1 0.7l1 -0.2l1 -2.4l1 2.0l1 -0.1l1 0.3l1 0.1l1 -1.4l1 0.7l1 1.2l1 -0.0l1 -0.0l1 -0.3l1 0.1l1 0.5l1 -1.4l1 -1.0l1 2.2l1 0.7l1 -0.3l1 -0.2l1 0.2l1 -1.1l1 0.9l1 -0.0l1 -0.6l1 0.5l1 -0.5l1 -0.2l1 -0.4l1 0.3l1 -1.0l1 -0.3l1 0.9l1 0.4l1 -0.2l1 0.2l1 0.6l1 -0.6l1 0.3l1 0.3l1 0.3l1 0.8l1 0.4l1 -0.2l1 0.1l1 -0.4l1 -0.1l1 -0.0l1 -0.4l1 -0.5l1 0.7l1 0.3l1 0.3l1 -0.2l1 -1.0l1 1.2l1 0.3l1 -0.6l1 -1.0l1 -0.0l1 -0.2l1 0.1l1 -0.6l1 0.3l1 -0.3l1 0.6l1 0.4l1 -0.2l1 0.3l1 -4.4l1 -5.6l1 -1.3l1 -1.3l1 0.6l1 -0.4l1 -0.2l1 1.0l1 0.6l1 -0.6l1 -0.5l1 0.1l1 -0.0l1 0.9l1 -1.4l1 1.0l1 -0.1l1 -0.3l1 -0.6l1 0.3l1 -1.5l1 1.7l1 0.7l1 -0.2l1 0.4l1 -0.7l1 0.7l1 0.0l1 -0.8l1 -0.1l1 -0.8l1 1.0l1 -0.6l1 0.3l1 -0.3l1 0.2l1 -0.7l1 -0.4l1 0.3l1 0.8l1 0.3l1 -0.0l1 0.1l1 -0.6l1 0.4l1 -0.1l1 -0.6l1 0.4l1 -0.5l1 0.9l1 -0.4l1 -0.6l1 -0.5l1 -0.5l1 1.1l1 0.1l1 0.2l1 0.4l1 -0.0l1 -0.6l1 -0.2l1 0.4l1 -0.3l1 -0.3l1 -0.6l1 0.5l1 0.4l1 0.2l1 -0.8l1 1.2l1 -0.7l1 -0.0l1 -0.7l1 1.2l1 -1.9l1 -0.1l1 0.6l1 -0.3l1 0.0l1 0.4l1 -0.7l1 -0.2l1 0.2l1 -0.3l1 0.1l1 0.5l1 -0.3l1 -0.2l1 0.2l1 -1.1l1 1.4l1 -0.2l1 0.2l1 0.3l1 -0.4l1 0.1l1 -0.2l1 0.2l1 -0.1l1 0.3l1 -0.1l1 -0.1l1 0.2l1 0.6l1 -0.4l1 -0.2l1 -0.5l1 0.5l1 0.4l1 -0.4l1 -1.0l1 0.6l1 -0.9l1 -0.4l1 -0.1l1 0.1l1 1.2l1 -0.4l1 0.2l1 -0.3l1 0.3l1 -0.5l1 -0.3l1 1.0l1 0.4l1 -1.1l1 -0.6l1 0.6l1 -0.7l1 0.1l1 -0.0l1 0.7l1 -0.1l1 -0.0l1 0.3l1 -1.0l1 0.9l1 0.2l1 0.2l1 -1.8l1 0.5l1 0.9l1 -1.3l1 1.4l1 -0.3l1 -0.4l1 0.3l1 0.0l1 0.9l1 -0.1l1 0.1l1 0.3l1 0.4l1 -0.2l1 -1.2l1 1.0l1 -0.3l1 -1.1l1 0.2l1 -0.1l1 0.7l1 -1.0l1 -0.1l1 1.0l1 -0.2l1 0.5l1 -0.8l1 -0.4l1 1.0l1 -0.6l1 0.2l1 -0.1l1 0.1l1 -1.3l1 0.7l1 0.2l1 -0.2l1 -0.6l1 -0.2l1 0.6l1 0.2l1 0.4l1 0.3l1 0.0l1 -0.4l1 -0.7l1 -0.3l1 0.3l1 0.1l1 -0.0l1 -0.3l1 -1.0l1 0.7l1 -0.1l1 0.6l1 0.1l1 1.1l1 0.1l1 0.0l1 -1.4l1 0.2l1 0.7l1 -0.5l1 0.2l1 0.1l1 -0.2l1 0.0l1 -3.6l1 -5.5l1 -0.8l1 0.5l1 -0.7l1 -0.7l1 -0.0l1 0.7l1 -0.2l1 -0.7l1 -0.3l1 0.6l1 0.2l1 -0.0l1 1.0l1 -0.2l1 -0.5l1 -0.1l1 0.3l1 0.5l1 -0.9l1 -0.1l1 -0.3l1 0.3l1 -0.3l1 1.2l1 -0.1l1 -0.4l1 -0.3l1 -0.6l1 0.5l1 -0.2l1 0.4l1 0.1l1 0.4l1 -0.5l1 0.0l1 0.9l1 -0.1l1 0.5l1 -0.3l1 -0.2l1 -0.6l1 0.1l1 -0.2l1 0.4l1 -0.2l1 -1.7l1 1.5l1 -0.0l1 -0.2l1 0.2l1 -2.4l1 2.0l1 -0.7l1 1.1l1 0.1l1 -0.7l1 -0.2l1 0.5l1 -1.2l1 0.8l1 -0.0l1 0.7l1 -0.7l1 0.8l1 0.1l1 -0.1l1 0.4l1 -0.1l1 -0.5l1 0.3l1 -0.6l1 0.6l1 -0.2l1 0.0l1 -0.2l1 0.2l1 -0.6l1 0.7l1 0.3l1 -1.0l1 1.2l1 -0.9l1 0.2l1 -0.2l1 0.0l1 -0.1l1 -0.6l1 0.4l1 0.7l1 -0.2l1 -1.0l1 0.9l1 -0.4l1 0.5l1 -0.1l1 0.0l1 -0.2l1 0.1l1 0.2l1 -0.1l1 -0.2l1 0.3l1 0.5l1 0.1l1 -0.5l1 -0.1l1 -0.8l1 0.1l1 -0.1l1 0.4l1 0.7l1 -0.3l1 -0.2l1 -0.0l1 0.2l1 -0.8l1 0.9l1 -0.6l1 1.0l1 -0.4l1 -0.5l1 1.0l1 0.3l1 0.4l1 -0.1l1 -1.1l1 -0.0l1 0.8l1 -0.9l1 0.3l1 -0.7l1 -0.6l1 0.2l1 -0.2l1 -0.5l1 0.6l1 -0.9l1 1.5l1 -0.1l1 0.3l1 -0.4l1 0.7l1 -0.5l1 -0.5l1 -0.1l1 -0.2l1 -0.4l1 0.8l1 0.2l1 -0.6l1 0.5l1 -0.4l1 0.7l1 0.8l1 -0.1l1 -0.6l1 -0.0l1 -0.9l1 -0.1l1 0.9l1 -0.1l1 -0.1l1 -0.9l1 0.8l1 -0.5l1 0.4l1 -0.5l1 -0.2l1 0.4l1 -0.4l1 1.2l1 -0.0l1 -0.7l1 -0.3l1 -0.6l1 1.3l1 -0.8l1 0.9l1 0.0l1 0.5l1 -0.4l1 0.4l1 -0.3l1 -0.1l1 -0.1l1 -0.2l1 1.4l1 -0.5l1 0.7l1 -0.8l1 0.6l1 0.4l1 -0.4l1 0.3l1 -1.0l1 0.6l1 -0.3l1 0.4l1 0.0l1 -1.1l1 0.3l1 0.1l1 -0.4l1 0.0l1 0.6l1 -0.9l1 1.2l1 1.8l1 1.0l1 1.6l1 2.1l1 0.8l1 1.3l1 0.5l1 -0.1l1 0.0l1 -0.5l1 0.0l1 -0.1l1 0.9l1 -0.4l1 -0.0l1 -0.8l1 1.4l1 0.8l1 -1.0l1 0.5l1 -0.0l1 -0.2l1 -0.2l1 1.1l1 -0.1l1 -0.1l1 -0.6l1 0.2l1 0.2l1 0.4l1 -0.8l1 1.0l1 -1.5l1 1.7l1 -0.2l1 -0.3l1 0.4l1 -0.5l1 -0.3l1 -0.7l1 -0.8l1 0.8l1 0.7l1 -1.0l1 0.4l1 1.1l1 -0.7l1 0.3l1 0.5l1 -1.0l1 -0.3l1 0.3l1 0.8l1 -1.0l1 -0.5l1 0.2l1 -0.1l1 -0.7l1 -0.1l1 0.4l1 0.4l1 -1.0l1 -0.0l1 1.0l1 -0.1l1 0.3l1 -0.3l1 0.1l1 -0.1l1 -0.4l1 0.0l1 0.6l1 -0.4l1 -0.0l1 0.3l1 -0.1l1 0.5l1 0.4l1 0.2l1 0.5l1 -0.2l1 -1.0l1 0.6l1 0.0l1 0.0l1 -0.5l1 0.4l1 0.2l1 -0.9l1 -1.4l1 0.9l1 -0.1l1 -0.3l1 -0.1l1 0.7l1 -0.2l1 0.1l1 -0.2l1 -0.0l1 -0.5l1 0.6l1 0.5l1 -0.9l1 0.4l1 -0.2l1 0.6l1 0.3l1 -0.7l1 1.4l1 -0.4l1 -0.4l1 -0.2l1 0.3l1 0.4l1 -0.8l1 0.2l1 0.2l1 0.3l1 0.4l1 0.4l1 -0.9l1 0.6l1 -0.6l1 -0.1l1 -0.1l1 0.5l1 -0.7l1 -0.8l1 0.8l1 -1.1l1 0.6l1 0.8l1 -0.2l1 -0.5l1 0.6l1 -0.6l1 -0.4l1 0.2l1 -0.5l1 -0.4l1 -0.0l1 -0.6l1 0.3l1 0.7l1 -0.1l1 0.5l1 -0.2l1 0.2l1 0.0l1 -0.3l1 0.2l1 0.4l1 -0.6l1 0.3l1 1.0l1 -1.6l1 1.3l1 -0.4l1 0.4l1 -0.2l1 -0.9l1 0.1l1 0.3l1 -0.1l1 0.6l1 -0.3l1 -0.1l1 0.1l1 0.3l1 -0.2l1 -0.2l1 -0.9l1 1.0l1 -0.9l1 0.4l1 0.1l1 -1.6l1 1.3l1 0.4l1 0.2l1 -0.2l1 -1.1l1 0.3l1 -0.5l1 0.3l1 0.5l1 0.1l1 -0.7l1 -0.1l1 0.1l1 -0.3l1 0.8l1 -0.4l1 -1.0l1 1.9l1 -0.7l1 0.6l1 0.2l1 0.4l1 -1.0l1 -0.5l1 1.4l1 -0.8l1 0.2l1 1.2l1 6.9l1 4.2l1 0.4l1 0.4l1 -0.4l1 0.2l1 -0.9l1 0.0l1 -0.3l1 0.9l1 -0.5l1 0.1l1 -0.1l1 0.1l1 -0.0l1 -0.5l1 0.6l1 0.0l1 -0.7l1 0.8l1 -0.6l1 0.1l1 -0.7l1 0.3l1 0.0l1 0.1l1 0.4l1 -0.7l1 1.6l1 -1.6l1 0.5l1 0.3l1 -0.2l1 0.8l1 0.2l1 0.2l1 -1.0l1 -0.4l1 1.4l1 -0.4l1 0.3l1 0.7l1 -0.7l1 0.4l1 -0.4l1 0.7l1 -0.8l1 0.6l1 0.1l1 -0.7l1 0.0l1 -0.9l1 -0.3l1 0.3l1 0.6l1 -0.6l1 -1.3l1 0.9l1 0.1l1 0.2l1 -1.0l1 0.7l1 -0.5l1 1.0l1 0.1l1 0.5l1 -0.2l1 0.7l1 -1.7l1 -0.2l1 0.8l1 -0.2l1 -0.7l1 1.4l1 -0.2l1 0.2l1 0.1l1 -0.6l1 0.5l1 0.3l1 -0.5l1 -0.2l1 -0.1l1 0.1l1 -0.2l1 -0.2l1 -0.1l1 -0.3l1 0.7l1 -0.5l1 0.6l1 0.3l1 -1.4l1 0.8l1 -0.3l1 0.8l1 -0.2l1 -0.2l1 -0.2l1 0.2l1 0.8l1 -0.6l1 -0.1l1 -0.4l1 0.1l1 0.1l1 0.0l1 0.1l1 0.5l1 -0.3l1 -0.0l1 -0.2l1 0.5l1 -0.8l1 -0.1l1 -0.6l1 0.7l1 -0.9l1 0.8l1 -0.5l1 1.0l1 -0.1l1 -0.5l1 -0.2l1 0.3l1 0.0l1 0.8l1 -0.9l1 -0.1l1 0.8l1 -0.2l1 -0.3l1 -0.5l1 0.7l1 -1.0l1 1.0l1 -1.1l1 0.9l1 -0.1l1 -0.3l1 -0.4l1 0.3l1 0.8l1 0.1l1 0.6l1 -0.3l1 -0.2l1 -0.6l1 -0.1l1 0.3l1 -0.4l1 0.8l1 0.6l1 0.3l1 -0.6l1 0.5l1 -0.1l1 -0.9l1 0.3l1 0.1l1 -0.1l1 0.2l1 -0.3l1 -0.1l1 -0.7l1 -1.1l1 1.1l1 0.3l1 -1.3l1 0.6l1 0.2l1 -1.6l1 0.7l1 0.8l1 0.1l1 0.2l1 0.2l1 -0.7l1 0.4l1 0.0l1 0.3l1 0.0l1 -0.4l1 -0.1l1 0.6l1 0.6l1 -0.5l1 -0.4l1 0.4l1 1.3l1 -1.4l1 0.5l1 -0.0l1 -0.3l1 -0.2l1 0.3l1 -0.1l1 -0.5l1 0.4l1 0.6l1 -0.4l1 0.1l1 -0.1l1 0.1l1 -0.1l1 -0.4l1 1.5l1 5.9l1 1.6l1 0.1l1 0.3l1 -0.6l1 0.0l1 -0.7l1 1.2l1 -0.7l1 -1.2l1 1.7l1 0.2l1 -0.0l1 -1.3l1 0.1l1 0.0l1 -0.2l1 0.3l1 -0.3l1 -0.1l1 -0.2l1 0.6l1 1.3l1 -0.5l1 0.3l1 -1.3l1 1.3l1 0.5l1 -0.1l1 0.5l1 0.1l1 -0.5l1 0.2l1 -0.1l1 -0.2l1 -0.5l1 -0.1l1 -1.2l1 1.1l1 -0.8l1 0.6l1 -0.3l1 -0.8l1 -0.0l1 0.7l1 0.2l1 -0.4l1 0.5l1 -0.1l1 0.1l1 -0.7l1 0.6l1 -0.9l1 0.0l1 1.2l1 -0.8l1 0.9l1 -1.5l1 2.1l1 -0.7l1 -0.3l1 1.6l1 -0.5l1 -0.1l1 -0.2l1 -0.3l1 -0.1l1 -0.1l1 0.6l1 -0.5l1 -1.0l1 1.6l1 -0.7l1 -1.0l1 1.7l1 -1.2l1 1.4l1 -0.0l1 -0.1l1 -0.4l1 0.4l1 -1.5l1 0.5l1 0.2l1 0.1l1 -0.1l1 -0.5l1 -1.0l1 0.7l1 0.7l1 -0.2l1 0.2l1 0.5l1 -0.6l1 0.5l1 0.2l1 0.2l1 -0.7l1 0.4l1 -0.5l1 -0.1l1 -0.3l1 0.6l1 -0.8l1 -0.1l1 0.3l1 0.5l1 -0.1l1 0.3l1 0.4l1 -0.4l1 0.4l1 0.2l1 -0.6l1 0.1l1 -0.6l1 0.3l1 0.8l1 -0.5l1 -0.1l1 0.3l1 -0.2l1 -1.1l1 -0.0l1 0.4l1 -0.3l1 -0.1l1 0.9l1 0.0l1 0.4l1 0.3l1 0.7l1 -0.1l1 -0.8l1 -0.0l1 -0.3l1 -0.2l1 0.6l1 -0.5l1 -0.3l1 -0.0l1 0.4l1 0.8l1 -0.3l1 -0.4l1 -0.1l1 -1.4l1 0.9l1 0.1l1 -0.4l1 -0.1l1 0.7l1 -0.9l1 0.6l1 0.9l1 -1.0l1 1.4l1 -1.1l1 0.7l1 0.4l1 0.1l1 -0.7l1 0.3l1 0.6l1 0.4l1 -0.1l1 -0.3l1 -0.8l1 -0.6l1 0.3l1 -0.4l1 -0.6l1 0.7l1 0.1l1 -0.9l1 0.1l1 0.2l1 1.1l1 -0.3l1 0.4l1 -0.3l1 -0.0l1 -0.4l1 0.6l1 -0.0l1 -0.2l1 1.0l1 -0.2l1 -0.3l1 -0.3l1 0.3l1 0.1l1 -1.3l1 0.0l1 0.6l1 -0.0l1 -0.7l1 0.8l1 -0.1l1 0.1l1 -0.4l1 0.6l1 -0.3l1 0.2l1 0.0l1 0.5l1 -3.8l1 -5.2l1 -2.2l1 -0.0l1 -0.3l1 -0.5l1 0.6l1 0.6l1 0.3l1 -1.4l1 1.3l1 -0.3l1 -0.4l1 0.1l1 0.3l1 -0.6l1 -0.2l1 0.4l1 0.4l1 -1.0l1 0.4l1 -0.6l1 -0.3l1 1.0l1 -1.3l1 0.6l1 0.8l1 0.7l1 -1.7l1 1.4l1 -0.1l1 -0.5l1 0.6l1 -0.1l1 0.5l1 0.2l1 -0.1l1 0.3l1 -0.8l1 0.6l1 -1.0l1 0.7l1 0.2l1 -0.5l1 0.5l1 -0.4l1 1.1l1 -0.5l1 0.3l1 0.0l1 -0.7l1 -1.5l1 1.0l1 -0.2l1 1.0l1 0.6l1 0.0l1 -0.5l1 -0.2l1 -0.0l1 -0.3l1 0.4l1 0.4l1 -0.2l1 0.5l1 -1.1l1 -0.2l1 0.6l1 -1.0l1 0.1l1 -0.3l1 0.5l1 -0.0l1 0.3l1 0.2l1 -0.6l1 0.4l1 0.0l1 -0.3l1 0.6l1 -0.2l1 -0.4l1 1.2l1 0.4l1 -0.3l1 0.3l1 -0.1l1 -0.2l1 0.4l1 -0.4l1 -0.3l1 -0.4l1 -1.5l1 1.0l1 0.7l1 -1.1l1 0.9l1 0.1l1 -1.4l1 0.3l1 0.5l1 0.2l1 -0.4l1 0.3l1 -0.1l1 0.9l1 -0.4l1 -0.3l1 0.0l1 0.1l1 0.0l1 0.3l1 0.3l1 -0.0l1 0.3l1 -0.8l1 0.5l1 -1.0l1 0.3l1 0.3l1 -0.7l1 0.4l1 0.4l1 -0.5l1 1.3l1 0.3l1 0.2l1 -0.0l1 -0.3l1 -1.3l1 0.9l1 0.2l1 0.5l1 0.4l1 -1.0l1 -0.3l1 0.7l1 -0.6l1 -1.0l1 0.3l1 0.2l1 -0.1l1 0.3l1 -0.5l1 0.1l1 -0.6l1 1.7l1 -0.4l1 -0.3l1 -0.2l1 -0.3l1 -1.7l1 1.3l1 0.5l1 -0.1l1 0.2l1 -0.0l1 0.4l1 -1.4l1 1.6l1 -0.3l1 0.1l1 -0.1l1 0.3l1 -0.1l1 0.3l1 -0.5l1 -0.4l1 -0.6l1 0.1l1 0.3l1 0.3l1 -0.8l1 1.0l1 -0.7l1 0.9l1 -0.6l1 0.1l1 0.2l1 -0.7l1 -0.0l1 -0.5l1 0.6l1 0.4l1 -1.2l1 1.3l1 0.1l1 -0.6l1 -0.2l1 1.1l1 0.1l1 -0.3l1 0.1l1 0.2l1 -0.1l1 0.2l1 0.4l1 -0.2l1 0.1l1 -0.4l1 -0.0l1 -0.5l1 0.1l1 -0.6l1 0.5l1 1.0l1 0.2l1 3.0l1 3.4l1 1.3l1 -0.3l1 0.3l1 -0.4l1 -0.7l1 0.7l1 -0.8l1 0.1l1 -0.4l1 0.9l1 0.1l1 -0.7l1 1.2l1 -0.7l1 0.1l1 -0.2l1 -0.0l1 -0.7l1 0.4l1 0.3l1 -1.3l1 -0.8l1 0.2l1 -0.0l1 1.6l1 -0.1l1 -0.0l1 -0.1l1 0.2l1 -0.6l1 0.3l1 0.3l1 0.8l1 0.2l1 -1.2l1 -0.7l1 -0.4l1 0.1l1 0.8l1 -0.9l1 0.6l1 -0.3l1 1.3l1 -0.5l1 0.5l1 -1.2l1 0.4l1 0.3l1 -0.0l1 0.1l1 -0.4l1 0.7l1 -0.4l1 -0.3l1 -0.1l1 -0.5l1 -0.3l1 0.7l1 0.2l1 0.1l1 0.3l1 -0.3l1 -0.7l1 1.8l1 -0.2l1 0.4l1 -0.7l1 -1.0l1 0.3l1 -0.4l1 0.2l1 0.2l1 -0.6l1 0.6l1 0.0l1 -0.0l1 0.8l1 -0.0l1 -0.6l1 0.3l1 -0.0l1 0.3l1 -0.8l1 0.2l1 -1.0l1 0.8l1 -0.5l1 -0.6l1 -0.1l1 -0.3l1 0.2l1 0.3l1 -0.2l1 1.1l1 0.1l1 -0.9l1 0.3l1 -0.3l1 -1.4l1 -0.6l1 0.8l1 0.8l1 -1.1l1 1.7l1 -0.3l1 0.5l1 -0.6l1 -0.4l1 0.4l1 1.2l1 -0.6l1 -0.3l1 0.1l1 -1.3l1 0.8l1 -0.4l1 1.0l1 0.5l1 -0.5l1 0.1l1 -0.0l1 0.7l1 -0.2l1 -0.7l1 -0.3l1 1.0l1 0.1l1 0.3l1 -0.2l1 -0.7l1 0.4l1 -0.1l1 -0.0l1 1.1l1 -0.9l1 0.4l1 0.3l1 -0.3l1 -0.8l1 0.6l1 -0.2l1 -0.4l1 -0.6l1 0.9l1 -1.0l1 0.2l1 -0.0l1 -0.4l1 0.1l1 0.4l1 1.3l1 -0.3l1 -0.2l1 -0.0l1 0.6l1 -0.2l1 -0.3l1 -0.2l1 0.4l1 0.0l1 -0.3l1 -0.4l1 -0.6l1 0.9l1 -0.4l1 -0.3l1 -0.5l1 0.1l1 -0.5l1 0.1l1 0.8l1 -0.2l1 0.6l1 -0.4l1 0.4l1 0.0l1 -1.5l1 1.6l1 0.1l1 -0.8l1 0.4l1 -0.1l1 -0.1l1 0.1l1 0.1l1 0.1l1 -0.3l1 -0.9l1 0.7l1 0.5l1 -1.3l1 1.5l1 -0.5l1 0.3l1 0.0l1 -0.7l1 -0.4l1 0.8l1 -0.2l1 0.4l1 0.1l1 0.3l1 -0.4l1 0.1l1 -1.0l1 -7.2l1 -5.1l1 0.2l1 0.4l1 -1.1l1 -0.2l1 -0.9l1 0.4l1 0.8l1 -0.3l1 -0.0l1 0.6l1 -0.5l1 0.2l1 -0.6l1 0.6l1 0.5l1 0.4l1 -0.7l1 0.6l1 0.6l1 -0.7l1 0.2l1 0.7l1 -0.4l1 -0.6l1 -0.1l1 0.8l1 -1.2l1 0.1l1 -0.8l1 0.7l1 1.2l1 -0.5l1 0.2l1 -0.6l1 0.4l1 0.6l1 -0.6l1 0.1l1 -0.2l1 -0.8l1 0.0l1 -0.2l1 -1.1l1 1.7l1 -0.4l1 -0.7l1 0.8l1 0.1l1 -0.6l1 0.5l1 0.1l1 -0.5l1 0.2l1 0.6l1 -0.5l1 1.0l1 -0.4l1 -0.3l1 0.7l1 -0.6l1 0.7l1 0.5l1 1.1l1 -0.5l1 0.6l1 -0.9l1 -0.3l1 0.2l1 -0.2l1 0.3l1 -0.5l1 -0.4l1 -0.3l1 0.7l1 -0.3l1 -0.1l1 -0.5l1 1.1l1 -0.5l1 -0.2l1 -1.0l1 0.1l1 0.7l1 -1.9l1 -0.3l1 0.4l1 0.5l1 0.0l1 -0.2l1 1.2l1 -0.2l1 -0.1l1 0.9l1 0.3l1 -0.3l1 -0.2l1 0.1l1 -0.3l1 -0.5l1 0.9l1 0.0l1 -0.1l1 0.5l1 0.1l1 -0.2l1 -1.0l1 0.9l1 -0.9l1 0.4l1 -0.2l1 -0.5l1 0.1l1 1.0l1 0.3l1 -0.7l1 0.1l1 -1.3l1 0.5l1 -0.4l1 0.5l1 -0.2l1 -0.4l1 1.0l1 -0.3l1 0.4l1 0.2l1 0.6l1 0.1l1 -0.2l1 -0.3l1 -0.0l1 -0.7l1 1.0l1 0.1l1 0.5l1 -1.0l1 1.3l1 -0.3l1 0.7l1 0.3l1 -0.5l1 -0.6l1 -0.3l1 -0.2l1 0.7l1 -0.6l1 0.1l1 0.4l1 -0.4l1 0.3l1 0.7l1 -1.0l1 -0.5l1 0.9l1 -1.5l1 1.2l1 1.2l1 -0.8l1 0.2l1 0.2l1 -0.0l1 0.5l1 -1.3l1 0.4l1 1.1l1 -0.6l1 -0.5l1 0.1l1 -0.4l1 -0.5l1 -0.4l1 0.8l1 -0.4l1 0.1l1 -0.2l1 -0.7l1 0.0l1 0.4l1 0.1l1 -0.2l1 0.6l1 -0.4l1 -0.2l1 1.3l1 0.0l1 -0.3l1 -0.6l1 0.9l1 -0.0l1 -0.1l1 -0.7l1 -0.5l1 1.2l1 -0.1l1 0.1l1 1.0l1 0.0l1 -0.5l1 0.0l1 -0.2l1 0.1l1 -0.2l1 -1.5l1 1.3l1 -0.5l1 -0.2l1 0.9L2269.5 1363.0l-1 -0.2l-1 1.5l-1 -1.8l-1 0.2l-1 1.1l-1 -0.0l-1 -0.0l-1 1.8l-1 -2.7l-1 0.4l-1 0.0l-1 -0.8l-1 1.8l-1 -1.3l-1 1.3l-1 0.0l-1 -0.8l-1 1.5l-1 -0.0l-1 -0.6l-1 -0.7l-1 0.6l-1 0.5l-1 -0.2l-1 0.3l-1 0.3l-1 0.7l-1 -1.0l-1 0.6l-1 -0.9l-1 0.7l-1 -0.4l-1 -0.0l-1 -0.8l-1 0.1l-1 0.5l-1 3.0l-1 -0.9l-1 -2.3l-1 0.3l-1 1.0l-1 -0.9l-1 -0.0l-1 0.4l-1 -0.8l-1 1.4l-1 -2.4l-1 0.0l-1 1.4l-1 -1.0l-1 -0.6l-1 -0.5l-1 1.8l-1 -0.6l-1 -0.0l-1 0.7l-1 -0.3l-1 2.9l-1 -2.5l-1 -0.4l-1 -0.3l-1 -0.1l-1 1.0l-1 0.1l-1 2.1l-1 -3.0l-1 -0.3l-1 -0.3l-1 0.3l-1 -0.7l-1 0.8l-1 -0.8l-1 1.3l-1 0.3l-1 -1.2l-1 0.9l-1 -0.5l-1 -0.7l-1 1.9l-1 -1.2l-1 -1.1l-1 -0.4l-1 -0.1l-1 0.5l-1 0.7l-1 -0.9l-1 1.3l-1 0.1l-1 -1.4l-1 -0.2l-1 2.0l-1 -0.5l-1 0.4l-1 0.3l-1 -1.5l-1 0.1l-1 2.8l-1 -2.5l-1 0.0l-1 0.7l-1 -0.5l-1 -0.5l-1 0.4l-1 0.2l-1 -1.4l-1 -0.1l-1 0.6l-1 -0.4l-1 1.7l-1 -1.2l-1 1.1l-1 -0.5l-1 0.0l-1 0.5l-1 -0.5l-1 -0.3l-1 0.2l-1 1.6l-1 -2.0l-1 0.1l-1 2.8l-1 -3.1l-1 3.0l-1 -2.1l-1 1.9l-1 -2.0l-1 -0.2l-1 1.3l-1 -1.7l-1 -0.4l-1 0.2l-1 -0.4l-1 -0.0l-1 -0.0l-1 1.5l-1 -0.5l-1 -0.2l-1 -0.0l-1 0.2l-1 -0.8l-1 0.3l-1 0.7l-1 -0.2l-1 -0.1l-1 -0.7l-1 1.6l-1 -1.2l-1 0.5l-1 -0.8l-1 0.3l-1 -0.4l-1 0.1l-1 -0.9l-1 -0.0l-1 0.7l-1 -0.1l-1 -0.1l-1 2.8l-1 -2.8l-1 0.6l-1 -0.5l-1 2.4l-1 -1.6l-1 2.9l-1 -3.6l-1 0.1l-1 0.8l-1 -1.3l-1 -0.2l-1 0.3l-1 0.3l-1 1.8l-1 -0.4l-1 -0.6l-1 -0.1l-1 -0.5l-1 1.8l-1 -0.3l-1 -1.6l-1 -0.3l-1 0.6l-1 0.1l-1 1.3l-1 -1.6l-1 2.1l-1 -1.0l-1 -0.6l-1 0.4l-1 -1.0l-1 0.6l-1 0.4l-1 -0.3l-1 -0.3l-1 0.9l-1 -0.3l-1 0.0l-1 0.3l-1 0.1l-1 0.3l-1 0.6l-1 -0.6l-1 -0.2l-1 -0.7l-1 -0.3l-1 -0.0l-1 0.9l-1 -0.8l-1 7.5l-1 9.1l-1 -3.6l-1 1.1l-1 -2.0l-1 -0.1l-1 -0.0l-1 2.2l-1 -2.0l-1 -0.5l-1 0.6l-1 4.2l-1 -4.1l-1 0.4l-1 0.2l-1 -0.0l-1 2.0l-1 -2.1l-1 1.9l-1 -2.1l-1 0.3l-1 0.9l-1 0.4l-1 0.1l-1 1.5l-1 -2.3l-1 -0.8l-1 0.0l-1 0.8l-1 -1.4l-1 1.3l-1 -0.4l-1 -0.4l-1 0.0l-1 3.9l-1 -4.2l-1 0.1l-1 0.7l-1 -0.2l-1 -0.7l-1 -0.1l-1 0.3l-1 -0.0l-1 1.4l-1 -0.5l-1 0.3l-1 -0.1l-1 -0.8l-1 1.0l-1 -0.1l-1 -0.6l-1 -0.2l-1 0.1l-1 0.5l-1 -0.1l-1 1.5l-1 -0.6l-1 -0.9l-1 -0.3l-1 0.7l-1 -0.3l-1 1.1l-1 0.1l-1 -1.2l-1 3.3l-1 -3.0l-1 -0.0l-1 2.4l-1 -2.8l-1 0.2l-1 2.7l-1 -3.3l-1 0.1l-1 -0.2l-1 1.4l-1 -0.8l-1 -0.4l-1 -0.1l-1 0.3l-1 0.1l-1 -0.3l-1 0.4l-1 0.4l-1 -0.8l-1 0.3l-1 0.4l-1 -0.4l-1 4.1l-1 -2.5l-1 -1.3l-1 1.5l-1 -0.7l-1 0.7l-1 0.1l-1 -1.2l-1 -0.5l-1 0.2l-1 0.1l-1 -1.4l-1 0.2l-1 0.4l-1 -0.0l-1 -0.4l-1 -0.6l-1 0.3l-1 -0.5l-1 0.7l-1 0.7l-1 0.9l-1 -1.4l-1 0.3l-1 0.7l-1 -1.0l-1 1.1l-1 -1.1l-1 0.2l-1 0.5l-1 -0.3l-1 0.7l-1 -0.6l-1 -0.6l-1 -0.4l-1 0.4l-1 0.2l-1 0.5l-1 0.3l-1 -0.7l-1 -0.6l-1 1.7l-1 -0.6l-1 -0.4l-1 1.1l-1 0.4l-1 -0.3l-1 -0.6l-1 0.4l-1 -0.6l-1 -0.2l-1 0.1l-1 -0.0l-1 1.8l-1 -2.4l-1 -0.4l-1 1.0l-1 -0.4l-1 1.7l-1 -0.8l-1 0.1l-1 -0.4l-1 -0.0l-1 -0.7l-1 0.6l-1 2.2l-1 -2.4l-1 0.4l-1 0.5l-1 -0.0l-1 -1.3l-1 0.2l-1 0.4l-1 0.0l-1 0.9l-1 -1.1l-1 -1.1l-1 0.3l-1 -0.0l-1 2.4l-1 -1.6l-1 -0.2l-1 0.3l-1 0.0l-1 -0.2l-1 -0.0l-1 2.6l-1 -2.0l-1 -0.2l-1 -1.3l-1 0.4l-1 0.5l-1 2.7l-1 -2.7l-1 1.1l-1 -0.7l-1 0.4l-1 -0.1l-1 0.0l-1 0.3l-1 -0.2l-1 0.4l-1 -0.5l-1 -0.7l-1 -0.4l-1 0.2l-1 0.4l-1 0.0l-1 1.1l-1 -0.6l-1 -0.1l-1 -0.3l-1 0.5l-1 0.1l-1 0.6l-1 -0.8l-1 -0.2l-1 -0.5l-1 0.6l-1 0.4l-1 -5.2l-1 -3.1l-1 0.6l-1 -0.7l-1 0.7l-1 -0.6l-1 1.5l-1 -0.4l-1 -0.6l-1 -0.3l-1 -0.1l-1 0.2l-1 0.4l-1 1.1l-1 0.4l-1 0.2l-1 -1.5l-1 0.8l-1 -0.9l-1 0.5l-1 -0.4l-1 -0.5l-1 2.1l-1 -2.1l-1 0.0l-1 0.1l-1 -0.9l-1 0.5l-1 -0.6l-1 0.9l-1 -0.1l-1 -0.4l-1 -0.5l-1 2.2l-1 -1.9l-1 0.9l-1 0.8l-1 3.0l-1 -4.5l-1 3.1l-1 -1.1l-1 -1.6l-1 -0.6l-1 0.5l-1 0.9l-1 -1.0l-1 3.4l-1 -2.7l-1 0.0l-1 0.6l-1 -0.2l-1 -1.0l-1 2.0l-1 0.1l-1 2.4l-1 -3.6l-1 0.3l-1 -0.7l-1 -0.8l-1 -0.4l-1 -0.0l-1 4.9l-1 -4.4l-1 0.3l-1 2.4l-1 -1.8l-1 -1.7l-1 0.4l-1 -0.3l-1 1.1l-1 0.8l-1 -1.1l-1 0.0l-1 2.1l-1 -2.9l-1 1.7l-1 -1.2l-1 1.1l-1 -0.1l-1 0.5l-1 -0.4l-1 2.7l-1 -2.4l-1 3.0l-1 -3.7l-1 -0.0l-1 1.2l-1 -1.6l-1 -0.8l-1 1.6l-1 -1.6l-1 -0.3l-1 0.6l-1 0.7l-1 0.3l-1 0.2l-1 1.9l-1 -2.5l-1 -0.5l-1 0.6l-1 -0.7l-1 0.9l-1 0.3l-1 -0.5l-1 -0.9l-1 0.2l-1 0.6l-1 3.2l-1 -2.8l-1 0.8l-1 -1.2l-1 -0.2l-1 1.2l-1 -0.9l-1 0.2l-1 2.5l-1 -2.8l-1 0.0l-1 0.9l-1 0.1l-1 -0.1l-1 -0.2l-1 -0.7l-1 1.0l-1 0.1l-1 1.6l-1 -2.2l-1 0.1l-1 0.2l-1 0.1l-1 0.1l-1 0.2l-1 0.1l-1 0.8l-1 -0.6l-1 -0.7l-1 0.3l-1 -0.1l-1 1.0l-1 -1.1l-1 0.4l-1 -0.4l-1 0.9l-1 0.4l-1 -1.7l-1 0.1l-1 0.3l-1 -0.8l-1 0.4l-1 0.1l-1 0.8l-1 2.3l-1 -1.7l-1 -1.9l-1 0.6l-1 -0.1l-1 -0.1l-1 0.3l-1 -0.2l-1 -0.1l-1 0.2l-1 0.5l-1 0.2l-1 -0.6l-1 1.0l-1 -0.6l-1 -0.5l-1 1.3l-1 -1.1l-1 -0.4l-1 1.1l-1 -0.1l-1 -1.0l-1 -0.0l-1 0.2l-1 -0.3l-1 1.0l-1 -0.2l-1 -0.9l-1 0.9l-1 -1.8l-1 -0.1l-1 1.5l-1 -0.6l-1 0.1l-1 -0.1l-1 0.1l-1 -0.4l-1 0.9l-1 -1.5l-1 1.3l-1 -0.4l-1 0.4l-1 0.2l-1 0.3l-1 -1.0l-1 4.7l-1 -4.3l-1 -1.0l-1 0.3l-1 -0.1l-1 0.5l-1 -1.6l-1 0.1l-1 -0.1l-1 0.8l-1 1.4l-1 6.8l-1 2.2l-1 0.3l-1 1.5l-1 -1.4l-1 -0.5l-1 0.5l-1 0.0l-1 1.5l-1 -2.0l-1 0.3l-1 -0.9l-1 -0.4l-1 0.5l-1 -0.1l-1 0.2l-1 0.2l-1 -0.1l-1 -0.0l-1 -0.1l-1 1.0l-1 0.3l-1 -0.3l-1 1.0l-1 0.5l-1 -1.7l-1 1.2l-1 -0.5l-1 0.3l-1 0.6l-1 -0.8l-1 0.5l-1 0.7l-1 -1.0l-1 2.8l-1 -2.9l-1 -0.0l-1 -1.0l-1 1.7l-1 -1.8l-1 0.7l-1 -0.1l-1 2.0l-1 -2.1l-1 0.2l-1 -1.0l-1 0.5l-1 2.0l-1 -1.5l-1 -0.7l-1 0.5l-1 0.3l-1 -0.2l-1 -0.2l-1 0.9l-1 2.1l-1 -1.8l-1 -0.7l-1 0.5l-1 1.1l-1 -1.7l-1 0.8l-1 -0.6l-1 0.0l-1 0.0l-1 0.6l-1 -0.6l-1 0.2l-1 -1.3l-1 1.1l-1 -0.8l-1 -0.1l-1 0.2l-1 -0.1l-1 0.4l-1 0.2l-1 0.1l-1 2.8l-1 -0.9l-1 -2.5l-1 -0.2l-1 4.5l-1 -4.7l-1 0.2l-1 -0.4l-1 0.7l-1 1.2l-1 -0.7l-1 0.8l-1 -1.3l-1 -0.1l-1 1.4l-1 -1.0l-1 0.1l-1 0.4l-1 -0.0l-1 -0.6l-1 -0.2l-1 -0.1l-1 0.8l-1 -1.5l-1 -0.4l-1 0.6l-1 -0.2l-1 0.8l-1 -0.1l-1 -0.1l-1 1.0l-1 0.2l-1 -0.8l-1 -0.9l-1 0.1l-1 0.4l-1 1.4l-1 -1.1l-1 0.9l-1 -1.0l-1 0.6l-1 -0.3l-1 0.5l-1 -0.6l-1 -0.4l-1 0.5l-1 -0.4l-1 0.6l-1 0.5l-1 -0.3l-1 -0.5l-1 0.1l-1 0.0l-1 1.6l-1 -1.0l-1 -0.1l-1 0.3l-1 -0.4l-1 -0.2l-1 1.0l-1 -1.9l-1 -0.1l-1 0.8l-1 -0.7l-1 0.8l-1 0.7l-1 2.0l-1 -2.8l-1 1.7l-1 -1.3l-1 0.0l-1 2.4l-1 -1.0l-1 -0.7l-1 -0.5l-1 0.9l-1 -1.3l-1 -0.2l-1 0.8l-1 -0.5l-1 0.5l-1 -0.9l-1 0.7l-1 -1.0l-1 1.3l-1 -1.7l-1 -0.5l-1 0.5l-1 -0.2l-1 0.8l-1 -1.1l-1 0.1l-1 0.6l-1 0.8l-1 -1.3l-1 -0.1l-1 0.6l-1 1.4l-1 -2.4l-1 1.4l-1 0.5l-1 0.6l-1 -0.3l-1 0.3l-1 -0.9l-1 0.0l-1 1.2l-1 -2.3l-1 0.5l-1 -0.3l-1 -0.1l-1 0.8l-1 -0.2l-1 1.0l-1 -0.7l-1 -0.3l-1 0.1l-1 0.0l-1 0.2l-1 -0.7l-1 -0.8l-1 1.7l-1 -1.1l-1 2.1l-1 -0.5l-1 0.4l-1 -0.9l-1 -0.5l-1 2.2l-1 -3.6l-1 -5.1l-1 -2.1l-1 0.1l-1 2.3l-1 -0.7l-1 -1.0l-1 -0.8l-1 -0.6l-1 1.2l-1 -0.9l-1 0.5l-1 -0.8l-1 0.4l-1 -0.9l-1 1.0l-1 -0.7l-1 0.8l-1 -1.6l-1 0.1l-1 0.0l-1 -0.4l-1 0.8l-1 0.8l-1 -0.5l-1 0.8l-1 0.2l-1 3.5l-1 -2.1l-1 -2.0l-1 0.4l-1 0.7l-1 -0.1l-1 2.5l-1 -2.1l-1 -0.3l-1 0.3l-1 -0.1l-1 -0.1l-1 -0.5l-1 0.1l-1 1.4l-1 -0.9l-1 0.0l-1 -0.2l-1 -0.1l-1 1.3l-1 -0.8l-1 0.0l-1 -0.2l-1 0.1l-1 0.6l-1 -1.6l-1 0.9l-1 2.0l-1 -2.4l-1 1.0l-1 -1.0l-1 -0.4l-1 0.6l-1 0.1l-1 -0.4l-1 0.5l-1 0.1l-1 -0.1l-1 0.6l-1 0.1l-1 2.0l-1 -1.6l-1 -0.7l-1 1.2l-1 -1.0l-1 -1.1l-1 -0.4l-1 0.8l-1 -0.7l-1 -0.4l-1 1.5l-1 -0.0l-1 -0.7l-1 0.0l-1 0.4l-1 0.8l-1 -1.9l-1 0.7l-1 -0.9l-1 0.6l-1 0.4l-1 -0.6l-1 -0.2l-1 2.4l-1 -2.0l-1 0.5l-1 -1.0l-1 0.3l-1 0.5l-1 0.7l-1 0.1l-1 -0.8l-1 -0.2l-1 -0.1l-1 2.1l-1 -2.7l-1 0.6l-1 0.0l-1 0.0l-1 -0.7l-1 -0.1l-1 0.5l-1 1.8l-1 -1.8l-1 -0.5l-1 0.7l-1 -0.4l-1 0.4l-1 1.0l-1 -1.5l-1 0.7l-1 0.1l-1 -0.2l-1 0.8l-1 -0.4l-1 0.4l-1 -0.1l-1 -1.1l-1 0.1l-1 0.8l-1 -0.7l-1 0.5l-1 -0.4l-1 0.2l-1 -0.4l-1 1.1l-1 -1.0l-1 0.9l-1 -0.3l-1 -1.2l-1 2.1l-1 -1.1l-1 1.1l-1 0.2l-1 -0.4l-1 -0.1l-1 -0.5l-1 0.4l-1 -0.3l-1 1.3l-1 -1.3l-1 0.2l-1 -0.1l-1 0.6l-1 -0.7l-1 2.7l-1 -2.9l-1 -0.7l-1 1.4l-1 0.5l-1 0.4l-1 -2.1l-1 -0.2l-1 -0.5l-1 0.3l-1 1.2l-1 -1.8l-1 0.2l-1 0.1l-1 1.9l-1 -2.3l-1 3.3l-1 -2.8l-1 -1.0l-1 1.2l-1 -0.3l-1 1.7l-1 -2.4l-1 0.9l-1 0.0l-1 -0.3l-1 0.4l-1 -0.9l-1 1.2l-1 -0.4l-1 0.0l-1 0.5l-1 -0.3l-1 -0.1l-1 -0.2l-1 -0.1l-1 1.8l-1 -0.6l-1 -0.8l-1 0.0l-1 0.7l-1 -0.2l-1 -0.5l-1 -0.2l-1 1.0l-1 -0.8l-1 -0.2l-1 0.1l-1 0.0l-1 1.7l-1 0.5l-1 -1.1l-1 -0.4l-1 -1.1l-1 -0.2l-1 -3.8l-1 -4.9l-1 -1.5l-1 0.5l-1 -0.1l-1 0.6l-1 -0.6l-1 0.0l-1 0.1l-1 0.1l-1 0.2l-1 -1.0l-1 0.5l-1 -0.4l-1 1.9l-1 -1.4l-1 0.8l-1 1.7l-1 -1.1l-1 -2.5l-1 2.9l-1 0.7l-1 -2.4l-1 -0.5l-1 -0.8l-1 0.6l-1 -0.1l-1 -0.3l-1 0.7l-1 -0.3l-1 0.5l-1 -0.4l-1 0.3l-1 -0.4l-1 1.3l-1 -1.4l-1 0.4l-1 -0.0l-1 0.2l-1 1.0l-1 -0.5l-1 0.6l-1 -0.2l-1 -1.6l-1 0.1l-1 0.4l-1 0.4l-1 -1.2l-1 -0.2l-1 0.7l-1 0.3l-1 0.7l-1 -0.1l-1 -1.0l-1 0.8l-1 0.3l-1 -0.4l-1 -0.4l-1 0.4l-1 -0.2l-1 0.2l-1 0.3l-1 -0.9l-1 0.1l-1 -0.6l-1 1.5l-1 -0.6l-1 1.3l-1 -1.0l-1 0.2l-1 1.0l-1 -0.2l-1 0.9l-1 -1.4l-1 0.1l-1 -0.3l-1 -0.6l-1 1.1l-1 -0.7l-1 0.1l-1 0.3l-1 1.4l-1 -0.6l-1 -1.4l-1 -0.1l-1 -0.3l-1 0.5l-1 -0.8l-1 2.0l-1 -0.8l-1 -1.0l-1 1.0l-1 0.2l-1 -1.9l-1 -0.2l-1 -0.3l-1 -0.1l-1 0.6l-1 0.3l-1 1.4l-1 -0.7l-1 -0.3l-1 -0.6l-1 0.5l-1 1.7l-1 -1.3l-1 -0.2l-1 1.0l-1 -1.0l-1 -0.2l-1 0.1l-1 0.6l-1 -1.0l-1 1.2l-1 -0.9l-1 1.1l-1 -1.5l-1 -0.2l-1 0.1l-1 -0.0l-1 0.3l-1 1.2l-1 -0.5l-1 -0.3l-1 0.6l-1 -0.4l-1 2.7l-1 -2.5l-1 0.6l-1 -1.1l-1 -0.9l-1 0.1l-1 1.5l-1 -0.9l-1 0.3l-1 -0.3l-1 2.3l-1 -2.7l-1 0.3l-1 -0.0l-1 -0.4l-1 0.4l-1 1.8l-1 -1.2l-1 0.2l-1 -0.1l-1 -0.5l-1 -0.5l-1 1.0l-1 -0.8l-1 -0.3l-1 -0.3l-1 1.0l-1 -0.1l-1 -0.2l-1 -0.6l-1 0.3l-1 0.2l-1 1.6l-1 0.5l-1 -1.8l-1 0.5l-1 0.5l-1 0.9l-1 0.7l-1 -0.1l-1 0.2l-1 -0.1l-1 -1.0l-1 2.0l-1 -1.6l-1 -0.6l-1 -0.5l-1 -0.3l-1 -0.9l-1 5.0l-1 -3.9l-1 0.3l-1 1.9l-1 -0.3l-1 -1.8l-1 0.9l-1 -0.8l-1 -0.5l-1 0.3l-1 0.2l-1 0.4l-1 0.5l-1 -1.2l-1 0.2l-1 -0.9l-1 0.5l-1 -1.2l-1 0.7l-1 0.4l-1 1.5l-1 -0.3l-1 -0.2l-1 -0.1l-1 -0.6l-1 0.4l-1 -1.9l-1 -0.0l-1 -1.1l-1 -0.7l-1 -2.1l-1 -0.1l-1 -1.2l-1 -0.8l-1 0.4l-1 -0.6l-1 0.4l-1 -0.1l-1 0.8l-1 0.6l-1 -1.1l-1 -0.9l-1 0.3l-1 -0.2l-1 0.7l-1 -0.1l-1 -0.9l-1 0.3l-1 1.6l-1 -1.5l-1 0.1l-1 0.5l-1 -0.3l-1 0.3l-1 -0.3l-1 0.2l-1 3.2l-1 -1.3l-1 -2.5l-1 0.8l-1 -0.4l-1 1.8l-1 -2.2l-1 0.3l-1 -0.8l-1 0.6l-1 0.8l-1 -1.0l-1 -0.5l-1 3.4l-1 -2.5l-1 -0.3l-1 0.3l-1 3.4l-1 -2.7l-1 0.4l-1 -1.2l-1 0.8l-1 0.4l-1 -1.0l-1 -1.1l-1 1.0l-1 0.4l-1 1.9l-1 -0.8l-1 -1.5l-1 1.6l-1 -1.3l-1 0.3l-1 0.9l-1 0.3l-1 -1.6l-1 -0.2l-1 1.2l-1 -0.9l-1 1.0l-1 -0.5l-1 0.1l-1 -1.5l-1 -0.1l-1 -0.7l-1 1.1l-1 0.0l-1 0.5l-1 -0.4l-1 0.4l-1 0.2l-1 -0.8l-1 2.2l-1 -2.4l-1 -0.2l-1 0.0l-1 0.3l-1 -0.6l-1 -0.1l-1 -0.3l-1 0.4l-1 0.3l-1 0.1l-1 -0.4l-1 0.7l-1 -1.0l-1 1.5l-1 -0.3l-1 -1.0l-1 -0.1l-1 2.7l-1 -2.8l-1 0.9l-1 0.0l-1 -0.9l-1 0.3l-1 0.9l-1 0.9l-1 -1.0l-1 -0.9l-1 1.8l-1 -1.0l-1 0.3l-1 -1.2l-1 -0.3l-1 0.8l-1 0.2l-1 0.2l-1 0.3l-1 0.2l-1 2.2l-1 -1.7l-1 -0.8l-1 -0.2l-1 -0.3l-1 0.8l-1 -0.1l-1 0.0l-1 -0.2l-1 1.3l-1 -0.9l-1 -0.1l-1 0.3l-1 1.1l-1 -0.9l-1 2.6l-1 -2.8l-1 0.2l-1 1.1l-1 1.9l-1 -2.3l-1 1.6l-1 -1.1l-1 -1.1l-1 -0.1l-1 1.4l-1 0.5l-1 -1.4l-1 -0.1l-1 -0.7l-1 0.3l-1 -1.1l-1 0.5l-1 -0.7l-1 0.6l-1 -1.0l-1 1.0l-1 -0.4l-1 0.9l-1 -1.0l-1 -0.4l-1 -0.1l-1 1.9l-1 1.3l-1 -1.7l-1 0.3l-1 -0.8l-1 0.1l-1 -0.4l-1 0.2l-1 0.6l-1 -0.4l-1 -0.9l-1 1.2l-1 -0.2l-1 -1.1l-1 0.7l-1 -0.7l-1 0.7l-1 -0.2l-1 2.4l-1 -1.0l-1 0.1l-1 -0.9l-1 1.3l-1 -2.6l-1 -0.1l-1 -0.4l-1 1.1l-1 0.5l-1 0.0l-1 -0.5l-1 0.8l-1 -0.5l-1 2.9l-1 -1.6l-1 -1.4l-1 0.3l-1 0.1l-1 0.1l-1 -0.1l-1 -1.0l-1 0.3l-1 -0.1l-1 1.2l-1 0.7l-1 -1.3l-1 1.5l-1 -0.0l-1 -0.4l-1 -1.3l-1 2.4l-1 -1.6l-1 4.0l-1 2.8l-1 -0.3l-1 0.2l-1 -1.1l-1 0.9l-1 -1.0l-1 0.7l-1 1.7l-1 -2.8l-1 0.4l-1 -0.7l-1 0.1l-1 2.3l-1 -2.5l-1 0.7l-1 -0.5l-1 0.5l-1 0.7l-1 -1.2l-1 -0.1l-1 1.0l-1 -0.7l-1 1.2l-1 0.3l-1 -0.7l-1 0.0l-1 -0.9l-1 4.6l-1 -4.2l-1 2.3l-1 -0.8l-1 -1.6l-1 1.9l-1 -1.6l-1 2.4l-1 -2.6l-1 0.4l-1 1.1l-1 -0.6l-1 -0.5l-1 1.0l-1 1.4l-1 -3.0l-1 0.9l-1 -0.6l-1 0.3l-1 0.1l-1 0.0l-1 1.1l-1 -0.9l-1 0.7l-1 -1.2l-1 4.8l-1 -4.1l-1 -0.4l-1 0.9l-1 0.1l-1 -0.3l-1 -0.2l-1 0.9l-1 -0.4l-1 0.6l-1 -0.3l-1 0.3l-1 -0.9l-1 0.3l-1 -0.1l-1 -0.0l-1 0.9l-1 0.1l-1 3.1l-1 -3.6l-1 1.8l-1 -1.1l-1 -0.9l-1 2.2l-1 -1.7l-1 1.1l-1 -0.6l-1 -0.7l-1 -0.5l-1 -0.2l-1 0.4l-1 0.5l-1 0.8l-1 0.4l-1 -1.1l-1 -0.3l-1 0.4l-1 0.5l-1 0.1l-1 1.5l-1 -1.4l-1 0.2l-1 0.1l-1 -0.6l-1 0.3l-1 0.4l-1 0.3l-1 -0.4l-1 1.0l-1 -0.9l-1 -1.1l-1 -0.3l-1 1.0l-1 0.4l-1 -1.1l-1 1.2l-1 -0.2l-1 -0.5l-1 1.7l-1 -0.8l-1 -0.2l-1 0.9l-1 -0.4l-1 0.5l-1 -0.9l-1 -0.7l-1 0.9l-1 0.2l-1 0.9l-1 -1.8l-1 1.3l-1 -1.3l-1 1.3l-1 -1.9l-1 -0.1l-1 0.3l-1 0.3l-1 -0.3l-1 -0.8l-1 0.9l-1 0.2l-1 -0.2l-1 -0.4l-1 0.4l-1 1.0l-1 -0.4l-1 0.1l-1 -0.8l-1 0.4l-1 0.6l-1 0.0l-1 -0.3l-1 0.2l-1 -0.0l-1 0.7l-1 0.3l-1 -0.5l-1 0.7l-1 -0.9l-1 0.9l-1 -1.0l-1 2.2l-1 -2.8l-1 -0.2l-1 -0.1l-1 -0.4l-1 0.6l-1 0.1l-1 -0.1l-1 0.0l-1 2.1l-1 -0.4l-1 1.0l-1 -1.3l-1 0.2l-1 -0.1l-1 -0.9l-1 0.5l-1 -0.5l-1 3.0l-1 -2.4l-1 0.5l-1 0.8l-1 -1.4l-1 0.2l-1 1.0l-1 -1.1l-1 -0.8l-1 0.6l-1 1.1l-1 -1.1l-1 -0.3l-1 0.3l-1 0.0l-1 1.1l-1 -0.8l-1 -0.6l-1 0.6l-1 0.4l-1 0.3l-1 -0.7l-1 -0.1l-1 -0.1l-1 -0.1l-1 0.6l-1 -0.2l-1 0.2l-1 -0.7l-1 3.3l-1 -1.7l-1 -0.5l-1 1.4l-1 -1.4l-1 2.7l-1 6.3l-1 4.2l-1 -0.3l-1 -0.8l-1 0.4l-1 1.1l-1 -2.0l-1 0.5l-1 0.3l-1 0.9l-1 -0.4l-1 -1.5l-1 0.2l-1 0.2l-1 -0.3l-1 0.9l-1 -0.6l-1 0.8l-1 -1.3l-1 1.3l-1 -0.9l-1 -0.5l-1 1.8l-1 -1.1l-1 -0.1l-1 -0.4l-1 -0.4l-1 0.4l-1 1.1l-1 -0.0l-1 1.0l-1 -0.9l-1 -0.1l-1 0.1l-1 1.1l-1 -2.3l-1 2.1l-1 -1.5l-1 -0.2l-1 -0.4l-1 0.3l-1 -0.8l-1 1.0l-1 -0.4l-1 0.3l-1 1.3l-1 -2.3l-1 0.5l-1 1.1l-1 -0.6l-1 -0.5l-1 -1.3l-1 1.3l-1 -0.6l-1 2.9l-1 -2.7l-1 1.3l-1 0.7l-1 -1.0l-1 0.4l-1 0.6l-1 -1.0l-1 -0.9l-1 2.3l-1 -1.3l-1 -0.3l-1 0.7l-1 -0.5l-1 0.0l-1 0.2l-1 -0.5l-1 0.4l-1 -0.4l-1 0.6l-1 -1.4l-1 -0.2l-1 0.7l-1 -0.6l-1 2.5l-1 -1.9l-1 1.1l-1 -0.8l-1 2.4l-1 -1.5l-1 -0.1l-1 -0.4l-1 -0.5l-1 0.1l-1 -0.2l-1 0.1l-1 0.7l-1 -0.8l-1 -0.3l-1 0.2l-1 -0.4l-1 0.0l-1 -0.1l-1 -0.6l-1 1.0l-1 -0.4l-1 1.7l-1 3.1l-1 -1.9l-1 -2.1l-1 2.0l-1 -1.4l-1 -0.5l-1 0.2l-1 0.2l-1 0.3l-1 0.2l-1 -1.0l-1 1.9l-1 -3.0l-1 -0.1l-1 0.2l-1 0.9l-1 -0.1l-1 -0.2l-1 -0.1l-1 0.5l-1 -0.1l-1 1.1l-1 -0.8l-1 0.0l-1 0.1l-1 -0.3l-1 1.1l-1 -0.5l-1 -0.4l-1 0.6l-1 -0.1l-1 0.9l-1 -0.9l-1 0.5l-1 0.1l-1 -0.1l-1 -0.4l-1 -0.1l-1 1.6l-1 1.1l-1 -2.5l-1 -0.1l-1 -0.9l-1 2.4l-1 -3.2l-1 1.1l-1 -1.3l-1 0.9l-1 -1.2l-1 0.4l-1 0.5l-1 0.4l-1 -0.3l-1 -0.0l-1 1.8l-1 -1.9l-1 2.4l-1 -2.0l-1 0.1l-1 -0.9l-1 1.3l-1 -0.8l-1 2.6l-1 -1.3l-1 0.6l-1 -0.8l-1 -0.1l-1 -0.0l-1 0.8l-1 -1.0l-1 0.4l-1 -0.1l-1 1.6l-1 -2.0l-1 -0.4l-1 0.5l-1 0.3l-1 -0.5l-1 1.4l-1 -0.4l-1 0.1l-1 -0.2l-1 0.1l-1 -0.0l-1 -0.1l-1 2.7l-1 -1.3l-1 -0.4l-1 -0.4l-1 -0.2l-1 -1.3l-1 0.0l-1 -0.0l-1 -0.5l-1 1.1l-1 -0.1l-1 1.2l-1 -0.6l-1 -1.2l-1 0.9l-1 -0.2l-1 -0.2l-1 -0.1l-1 -0.4l-1 0.1l-1 2.8l-1 6.0l-1 1.0l-1 3.9l-1 -2.8l-1 -0.7l-1 1.4l-1 -1.0l-1 0.3l-1 -0.3l-1 0.5l-1 1.0l-1 1.3l-1 -2.2l-1 -0.6l-1 0.2l-1 -0.5l-1 0.0l-1 -0.7l-1 2.3l-1 -2.1l-1 0.8l-1 -0.2l-1 0.9l-1 -2.6l-1 2.5l-1 -2.1l-1 0.6l-1 -0.3l-1 0.7l-1 -1.2l-1 1.5l-1 -0.2l-1 -1.2l-1 0.8l-1 0.3l-1 -0.0l-1 -0.5l-1 0.6l-1 -0.2l-1 1.0l-1 1.1l-1 -2.2l-1 -0.5l-1 -0.3l-1 0.2l-1 0.4l-1 -0.5l-1 -0.2l-1 0.0l-1 -0.2l-1 0.4l-1 1.6l-1 -1.3l-1 -0.1l-1 0.5l-1 -0.2l-1 -0.8l-1 2.2l-1 -1.9l-1 0.6l-1 0.0l-1 0.5l-1 0.4l-1 -0.7l-1 -0.1l-1 0.0l-1 -0.5l-1 0.0l-1 2.1l-1 0.6l-1 -1.1l-1 -2.0l-1 0.7l-1 0.2l-1 0.1l-1 0.2l-1 -0.1l-1 0.7l-1 0.1l-1 -0.6l-1 2.3l-1 0.7l-1 -3.3l-1 -0.3l-1 0.6l-1 0.4l-1 2.3l-1 -3.2l-1 1.1l-1 0.3l-1 0.1l-1 0.1l-1 -0.4l-1 0.0l-1 2.1l-1 -2.4l-1 1.7l-1 -1.9l-1 0.1l-1 -0.3l-1 0.6l-1 0.0l-1 0.1l-1 2.1l-1 -0.8l-1 1.2l-1 -2.1l-1 -0.3l-1 -0.7l-1 0.5l-1 -0.8l-1 -0.6l-1 1.8l-1 -1.3l-1 0.3l-1 0.1l-1 -0.4l-1 3.1l-1 -2.5l-1 -0.4l-1 0.3l-1 0.3l-1 0.6l-1 1.8l-1 -2.9l-1 1.3l-1 -1.1l-1 -0.3l-1 2.3l-1 -2.1l-1 0.3l-1 0.4l-1 -0.6l-1 0.8l-1 -0.8l-1 -0.8l-1 1.9l-1 -2.1l-1 0.0l-1 0.5l-1 0.3l-1 0.1l-1 -0.7l-1 0.6l-1 0.1l-1 -0.8l-1 0.7l-1 0.5l-1 -1.1l-1 0.3l-1 -1.2l-1 4.1l-1 -2.5l-1 -1.5l-1 0.7l-1 -0.5l-1 0.3l-1 -0.7l-1 0.1l-1 1.7l-1 -0.9l-1 -0.4l-1 -0.2l-1 0.9l-1 -0.6l-1 -0.2l-1 0.8l-1 0.5l-1 -0.6l-1 0.0l-1 0.3l-1 -0.5l-1 0.7l-1 -0.4l-1 0.9l-1 -1.1l-1 0.6l-1 -0.0l-1 0.2l-1 0.8l-1 -1.8l-1 0.2l-1 -0.2l-1 0.1l-1 1.0l-1 -0.9l-1 0.5l-1 -0.1l-1 0.3l-1 0.7l-1 -0.2l-1 0.5l-1 -0.8l-1 0.3l-1 0.1l-1 -0.6l-1 0.4l-1 1.4l-1 -0.9l-1 -1.7l-1 0.5l-1 -0.6l-1 0.8l-1 -0.7l-1 1.4l-1 -0.9l-1 2.3l-1 -1.7l-1 -0.3l-1 -0.3l-1 1.1Z" fill="#000000" stroke="#000000"/><path d="M196.5 1398.3l1 0.2l1 0.3l1 0.2l1 -0.9l1 0.6l1 -0.1l1 0.1l1 0.7l1 -0.4l1 -0.3l1 -0.3l1 0.2l1 0.2l1 -0.1l1 -0.0l1 -0.6l1 0.8l1 0.4l1 -0.0l1 0.1l1 0.4l1 0.2l1 0.1l1 0.2l1 -0.0l1 0.3l1 -0.2l1 0.1l1 -0.3l1 0.4l1 -0.6l1 0.7l1 -0.1l1 -1.0l1 0.2l1 0.0l1 -0.3l1 0.3l1 -0.6l1 -0.2l1 -0.0l1 0.9l1 -0.8l1 -0.1l1 -0.3l1 0.1l1 -0.3l1 0.4l1 -0.2l1 0.1l1 0.1l1 0.0l1 0.0l1 0.3l1 -0.5l1 -0.2l1 -0.1l1 -1.2l1 0.2l1 0.0l1 0.4l1 -0.4l1 -0.1l1 1.7l1 -0.4l1 -0.4l1 0.2l1 -0.1l1 0.4l1 -0.3l1 0.2l1 -0.5l1 0.2l1 -0.7l1 -0.1l1 -0.1l1 0.1l1 0.4l1 -0.1l1 0.6l1 -0.7l1 1.4l1 -0.5l1 0.1l1 -0.1l1 0.7l1 0.9l1 -0.4l1 -1.4l1 0.2l1 -0.6l1 0.3l1 -0.3l1 -0.5l1 0.8l1 -0.3l1 -0.3l1 0.1l1 -1.0l1 1.2l1 -0.4l1 1.2l1 -0.8l1 0.1l1 -0.9l1 0.3l1 -0.1l1 1.5l1 -0.2l1 -0.3l1 1.3l1 -1.1l1 0.1l1 0.4l1 0.4l1 0.3l1 -0.2l1 -0.0l1 0.2l1 0.8l1 0.0l1 -0.3l1 -0.4l1 -0.8l1 0.1l1 -0.1l1 -1.5l1 0.9l1 0.3l1 0.0l1 -0.1l1 -0.5l1 -0.2l1 -0.6l1 1.2l1 0.6l1 -1.6l1 1.0l1 0.3l1 0.2l1 -0.7l1 0.7l1 -0.6l1 0.2l1 0.4l1 0.2l1 -0.7l1 -0.1l1 1.0l1 0.2l1 0.2l1 -0.1l1 -0.2l1 -1.2l1 0.3l1 -0.6l1 0.2l1 -0.9l1 0.3l1 0.3l1 -1.1l1 0.5l1 0.6l1 0.1l1 0.1l1 0.5l1 -0.2l1 -0.1l1 -0.0l1 -0.3l1 1.0l1 -0.1l1 -0.0l1 -0.4l1 0.3l1 -0.2l1 1.0l1 -0.6l1 -0.7l1 0.8l1 -0.5l1 -0.5l1 -0.2l1 0.4l1 -0.5l1 -0.5l1 0.2l1 1.1l1 0.4l1 -0.3l1 -0.1l1 0.5l1 0.1l1 -0.3l1 0.9l1 0.1l1 -0.4l1 -0.1l1 0.3l1 -0.9l1 0.1l1 0.6l1 -0.5l1 0.0l1 1.1l1 -0.6l1 0.4l1 -0.3l1 0.3l1 -1.7l1 -4.0l1 -1.5l1 -0.8l1 -0.0l1 0.5l1 0.6l1 0.5l1 -0.7l1 0.1l1 -0.1l1 0.9l1 0.4l1 0.1l1 0.3l1 -0.4l1 -0.1l1 0.0l1 -0.3l1 -0.5l1 0.4l1 -0.3l1 0.9l1 -0.0l1 -0.4l1 -0.0l1 -0.1l1 -0.3l1 -0.2l1 -0.1l1 -0.1l1 0.1l1 -0.1l1 0.9l1 -0.0l1 -0.1l1 0.0l1 -0.9l1 0.6l1 0.2l1 -0.3l1 -0.3l1 0.3l1 -0.4l1 -0.1l1 0.6l1 -0.0l1 -1.9l1 0.6l1 -0.0l1 0.6l1 -0.0l1 0.1l1 -0.2l1 -0.5l1 -0.5l1 0.0l1 -0.0l1 -0.5l1 1.1l1 0.1l1 -1.1l1 -0.5l1 1.4l1 -0.1l1 -0.4l1 0.3l1 -0.4l1 0.2l1 -0.7l1 0.6l1 0.4l1 -0.0l1 0.2l1 0.3l1 -0.3l1 0.1l1 1.1l1 -0.7l1 0.2l1 -0.6l1 -0.1l1 0.2l1 0.3l1 0.2l1 0.9l1 -0.5l1 -0.0l1 0.2l1 0.3l1 -0.7l1 0.5l1 0.1l1 -0.1l1 -1.1l1 -0.2l1 0.1l1 -0.2l1 -0.4l1 0.2l1 0.5l1 -0.3l1 -0.2l1 -0.0l1 -0.6l1 -0.2l1 0.7l1 -0.4l1 -0.1l1 0.8l1 -0.1l1 -0.9l1 -0.1l1 0.1l1 -0.3l1 0.1l1 0.1l1 -0.0l1 -0.1l1 -0.4l1 0.4l1 -0.8l1 0.6l1 0.1l1 -0.4l1 0.8l1 -0.4l1 0.0l1 0.2l1 0.5l1 1.0l1 -1.0l1 0.2l1 -0.4l1 0.5l1 -0.8l1 0.8l1 0.2l1 -0.1l1 0.4l1 -0.4l1 0.6l1 0.0l1 0.3l1 0.1l1 0.7l1 -0.0l1 0.0l1 -0.8l1 0.3l1 -0.6l1 0.8l1 -1.1l1 0.1l1 0.7l1 -0.4l1 0.3l1 0.3l1 -0.1l1 -0.4l1 0.5l1 0.4l1 -0.5l1 0.2l1 -0.4l1 0.4l1 0.7l1 0.3l1 0.3l1 -0.7l1 -0.3l1 -0.8l1 -1.3l1 0.6l1 0.2l1 0.5l1 -0.6l1 -0.1l1 0.0l1 0.3l1 -0.1l1 0.1l1 0.1l1 -0.2l1 0.1l1 0.5l1 -0.8l1 0.2l1 -0.5l1 0.1l1 0.6l1 0.8l1 -0.5l1 0.1l1 0.3l1 -0.2l1 0.0l1 1.1l1 -0.7l1 -0.6l1 0.1l1 0.3l1 -0.1l1 -1.0l1 0.9l1 0.1l1 -1.0l1 -1.4l1 -4.9l1 -1.1l1 0.2l1 -0.7l1 0.5l1 -0.6l1 -0.1l1 0.2l1 0.5l1 -0.5l1 0.2l1 -0.5l1 -0.4l1 0.2l1 0.7l1 -0.5l1 -0.5l1 -0.4l1 -0.5l1 0.4l1 -0.5l1 0.7l1 -0.2l1 0.3l1 -0.1l1 0.3l1 0.2l1 -0.4l1 -0.0l1 0.4l1 -0.1l1 -1.0l1 0.9l1 -0.2l1 0.6l1 -0.5l1 0.5l1 -0.2l1 -0.1l1 -0.2l1 -0.4l1 0.5l1 0.3l1 -0.4l1 -0.5l1 -0.0l1 0.2l1 -0.1l1 0.2l1 -0.3l1 -0.1l1 -0.3l1 0.2l1 0.6l1 -1.2l1 0.7l1 0.6l1 0.5l1 -0.1l1 -0.6l1 -0.8l1 0.9l1 -1.0l1 0.6l1 0.3l1 -0.3l1 0.1l1 -0.8l1 0.7l1 -1.0l1 1.2l1 0.0l1 -0.1l1 -0.1l1 0.2l1 0.4l1 -1.0l1 -0.4l1 0.4l1 -0.7l1 -0.1l1 0.4l1 0.1l1 -0.2l1 -0.5l1 0.6l1 0.1l1 -1.1l1 0.6l1 0.9l1 0.3l1 -0.2l1 -0.6l1 -0.0l1 0.2l1 -0.3l1 -0.4l1 0.1l1 -0.6l1 0.5l1 -0.2l1 0.7l1 -0.4l1 0.4l1 0.0l1 1.3l1 -0.6l1 0.2l1 -0.1l1 -0.1l1 -0.5l1 0.2l1 0.3l1 -0.6l1 0.3l1 0.4l1 -0.0l1 -0.3l1 -0.9l1 0.1l1 0.6l1 -0.3l1 -0.7l1 0.5l1 0.1l1 -0.2l1 -0.2l1 -0.4l1 -0.3l1 -0.6l1 0.0l1 -0.2l1 0.5l1 0.3l1 -0.4l1 0.2l1 -0.2l1 0.5l1 -0.2l1 0.6l1 0.8l1 0.1l1 -0.8l1 0.3l1 -0.2l1 0.4l1 0.1l1 0.3l1 0.1l1 -0.8l1 -0.7l1 0.6l1 0.4l1 0.0l1 -0.4l1 -0.7l1 0.1l1 -0.1l1 0.6l1 0.4l1 0.2l1 -1.1l1 -0.1l1 0.3l1 -0.2l1 0.1l1 0.1l1 -0.8l1 -0.0l1 0.6l1 -0.4l1 -0.2l1 -0.0l1 -0.6l1 0.7l1 0.3l1 0.5l1 -0.1l1 -0.9l1 1.1l1 0.4l1 -1.1l1 -0.5l1 0.1l1 -0.1l1 -0.2l1 0.6l1 -0.2l1 0.2l1 0.3l1 -0.2l1 -0.1l1 -0.1l1 -0.2l1 0.2l1 0.6l1 0.2l1 0.3l1 -0.3l1 1.0l1 -0.2l1 0.1l1 0.0l1 -0.4l1 -0.2l1 -0.7l1 -2.8l1 -3.9l1 -0.5l1 -0.3l1 0.4l1 -0.1l1 -0.9l1 -0.7l1 -0.4l1 0.5l1 -0.1l1 0.0l1 -0.5l1 0.2l1 0.2l1 -0.5l1 0.4l1 0.8l1 0.2l1 -0.1l1 -0.2l1 -0.3l1 -0.5l1 -0.1l1 1.0l1 0.1l1 0.2l1 -0.1l1 0.1l1 -0.4l1 0.2l1 -0.1l1 -1.1l1 0.2l1 0.1l1 1.3l1 -0.6l1 -0.9l1 0.0l1 0.4l1 0.3l1 0.3l1 -0.5l1 0.4l1 -0.5l1 0.1l1 0.4l1 -0.4l1 -0.3l1 -0.5l1 0.1l1 0.1l1 0.7l1 0.2l1 0.2l1 -0.5l1 -0.0l1 0.2l1 0.1l1 0.2l1 -0.3l1 0.6l1 -0.3l1 -0.5l1 0.2l1 0.3l1 -0.5l1 -0.1l1 0.4l1 -0.2l1 -0.2l1 0.1l1 -0.0l1 0.5l1 -0.6l1 -0.3l1 0.4l1 0.4l1 0.2l1 -0.7l1 -0.2l1 0.3l1 -0.1l1 -0.5l1 0.3l1 0.3l1 -0.7l1 0.1l1 -0.4l1 0.2l1 0.2l1 0.5l1 -1.0l1 1.1l1 -0.1l1 -0.1l1 -0.2l1 -0.2l1 1.3l1 0.2l1 -0.6l1 -0.2l1 0.1l1 -0.2l1 -0.2l1 0.2l1 -0.3l1 -0.4l1 1.0l1 0.6l1 0.7l1 -0.3l1 -0.8l1 0.3l1 0.3l1 -0.1l1 -0.2l1 -0.0l1 -0.2l1 -0.4l1 0.3l1 0.5l1 -0.5l1 0.3l1 0.9l1 -0.8l1 -0.3l1 0.2l1 -0.2l1 -0.2l1 0.0l1 0.9l1 -0.1l1 0.6l1 -0.6l1 0.2l1 -0.5l1 0.2l1 -1.0l1 -0.3l1 0.1l1 0.3l1 0.1l1 -0.8l1 0.1l1 0.4l1 -0.2l1 0.4l1 -0.4l1 0.4l1 -0.2l1 -0.2l1 -0.0l1 0.1l1 -1.0l1 0.8l1 0.2l1 -0.4l1 0.3l1 -0.2l1 0.9l1 0.3l1 -0.6l1 0.1l1 0.3l1 0.5l1 -0.6l1 -0.8l1 -0.8l1 -0.2l1 0.4l1 0.6l1 0.3l1 -0.1l1 -0.4l1 0.0l1 -0.2l1 -1.4l1 -0.4l1 0.0l1 1.2l1 0.1l1 0.5l1 0.0l1 -0.3l1 -0.2l1 -0.3l1 -0.0l1 -0.3l1 -0.3l1 -0.1l1 1.3l1 -0.3l1 -0.0l1 0.3l1 0.1l1 -0.3l1 0.1l1 0.8l1 -0.1l1 -0.0l1 -0.1l1 0.1l1 -0.7l1 0.8l1 -0.7l1 -0.0l1 -0.1l1 1.4l1 1.6l1 1.3l1 0.8l1 1.8l1 1.6l1 0.7l1 1.2l1 0.7l1 -0.2l1 -0.5l1 -0.3l1 0.0l1 0.8l1 -0.1l1 -0.1l1 -0.3l1 0.2l1 -0.7l1 -0.1l1 0.3l1 -0.3l1 0.6l1 -0.0l1 0.8l1 -0.4l1 -0.3l1 0.3l1 0.6l1 0.0l1 -1.1l1 0.2l1 -0.7l1 0.5l1 -0.5l1 0.1l1 0.2l1 -0.4l1 0.3l1 -0.2l1 0.5l1 0.3l1 -0.1l1 0.7l1 -1.3l1 -0.1l1 0.3l1 0.0l1 0.1l1 0.3l1 -0.1l1 -0.1l1 -0.1l1 0.5l1 -0.3l1 0.2l1 -0.3l1 0.5l1 -0.0l1 0.1l1 0.3l1 0.0l1 -0.7l1 -0.1l1 -0.0l1 -0.8l1 1.0l1 -0.0l1 -1.8l1 0.8l1 -0.3l1 0.4l1 0.8l1 0.3l1 -0.2l1 0.6l1 -0.2l1 0.3l1 -0.0l1 0.2l1 -1.0l1 1.0l1 -0.6l1 -0.0l1 0.4l1 -0.2l1 0.2l1 -0.5l1 -0.7l1 0.5l1 -0.2l1 0.6l1 0.0l1 -0.9l1 -0.3l1 0.2l1 0.0l1 -0.3l1 -0.5l1 0.9l1 0.3l1 -0.6l1 -0.3l1 -0.3l1 0.2l1 -0.1l1 -0.2l1 0.6l1 -0.2l1 0.2l1 -0.6l1 -0.2l1 -0.5l1 0.4l1 0.3l1 0.5l1 -0.1l1 0.5l1 0.2l1 0.4l1 -1.2l1 0.5l1 1.0l1 -0.8l1 -0.9l1 1.2l1 -0.4l1 0.6l1 0.0l1 -0.6l1 -0.1l1 -0.1l1 0.7l1 0.1l1 0.2l1 -0.5l1 -0.3l1 0.3l1 0.0l1 -0.4l1 -0.1l1 0.7l1 -0.6l1 -0.4l1 1.3l1 0.4l1 0.1l1 -0.9l1 1.1l1 -0.2l1 -0.0l1 -0.8l1 -1.0l1 0.4l1 -0.7l1 1.0l1 0.3l1 -0.1l1 0.1l1 -0.0l1 -0.4l1 -1.0l1 0.4l1 -0.1l1 -0.4l1 0.2l1 0.3l1 0.8l1 0.4l1 -0.2l1 -0.7l1 0.5l1 0.0l1 0.4l1 -0.1l1 -0.4l1 0.2l1 -0.5l1 -0.3l1 -0.1l1 -0.2l1 -0.7l1 0.4l1 -0.2l1 0.8l1 -0.9l1 0.6l1 -0.3l1 0.3l1 0.8l1 -0.2l1 -0.1l1 -0.5l1 0.8l1 0.5l1 -0.2l1 -0.4l1 0.4l1 0.3l1 -0.1l1 1.2l1 -0.7l1 -1.3l1 0.6l1 -0.3l1 1.0l1 3.8l1 3.4l1 1.2l1 -0.4l1 -0.1l1 -0.2l1 0.5l1 -0.0l1 0.3l1 0.1l1 -0.8l1 0.8l1 -0.0l1 1.0l1 0.3l1 -0.5l1 -0.6l1 0.1l1 0.1l1 -0.6l1 -0.6l1 -0.0l1 -0.7l1 0.7l1 0.0l1 -0.2l1 -0.0l1 -0.4l1 0.3l1 0.1l1 0.2l1 0.4l1 -0.4l1 -0.9l1 0.4l1 -0.4l1 0.5l1 -0.1l1 0.1l1 -0.2l1 -0.1l1 0.2l1 -0.3l1 -0.1l1 0.8l1 0.1l1 -0.0l1 0.3l1 -0.6l1 0.8l1 0.2l1 -0.7l1 0.5l1 0.1l1 -0.3l1 0.2l1 -0.2l1 0.7l1 -0.1l1 -0.3l1 0.5l1 0.2l1 -0.7l1 -0.8l1 0.4l1 0.2l1 0.0l1 0.4l1 0.3l1 -0.8l1 0.4l1 -0.3l1 0.2l1 -0.4l1 0.3l1 0.1l1 -0.4l1 0.6l1 -0.2l1 -1.6l1 0.9l1 0.2l1 -0.1l1 0.1l1 0.5l1 0.1l1 -0.1l1 -0.3l1 -0.1l1 -0.2l1 0.3l1 -0.4l1 0.5l1 0.4l1 0.4l1 0.1l1 0.4l1 -0.6l1 0.2l1 -1.1l1 -0.7l1 0.7l1 0.2l1 -0.2l1 0.5l1 -0.6l1 0.7l1 -0.5l1 -0.5l1 0.3l1 1.0l1 -0.2l1 0.1l1 0.2l1 -0.2l1 -0.8l1 0.6l1 -0.3l1 0.1l1 -0.1l1 -0.0l1 0.0l1 -0.2l1 0.3l1 0.1l1 -0.1l1 -0.1l1 0.1l1 0.8l1 -0.5l1 0.0l1 0.1l1 0.1l1 0.2l1 -0.2l1 -0.1l1 0.1l1 0.2l1 -0.2l1 -0.8l1 0.3l1 -0.1l1 -0.5l1 0.5l1 -0.1l1 0.5l1 -0.3l1 -0.2l1 0.4l1 0.0l1 0.2l1 -0.6l1 0.1l1 -0.2l1 -0.3l1 0.6l1 -1.3l1 0.7l1 -0.4l1 1.0l1 0.1l1 -0.1l1 -0.4l1 0.2l1 -0.3l1 0.5l1 -0.3l1 1.3l1 0.1l1 -0.9l1 -0.5l1 0.3l1 0.2l1 0.3l1 -0.7l1 0.2l1 0.5l1 -0.4l1 -0.5l1 0.8l1 0.0l1 0.1l1 -0.5l1 0.4l1 -0.7l1 -0.4l1 0.2l1 -0.4l1 0.9l1 -0.1l1 0.7l1 0.5l1 -0.4l1 -0.2l1 -0.7l1 -0.3l1 -0.2l1 0.4l1 -0.4l1 0.8l1 -0.3l1 0.2l1 -0.2l1 -0.0l1 0.4l1 -0.6l1 2.1l1 4.2l1 2.2l1 -1.4l1 0.8l1 -0.1l1 -0.4l1 0.5l1 0.4l1 0.1l1 -0.2l1 -0.1l1 -0.2l1 0.8l1 -0.7l1 -0.6l1 0.2l1 0.0l1 -0.8l1 0.7l1 -0.3l1 0.6l1 -0.2l1 0.2l1 0.8l1 -0.6l1 -0.6l1 0.3l1 -0.4l1 0.6l1 -0.2l1 0.3l1 0.6l1 0.0l1 -0.4l1 0.1l1 0.2l1 -0.3l1 0.1l1 -0.1l1 -0.1l1 0.5l1 0.3l1 -0.2l1 0.4l1 -0.7l1 0.3l1 -0.7l1 -0.8l1 -1.1l1 0.0l1 0.4l1 -0.7l1 0.7l1 0.1l1 0.7l1 0.6l1 0.5l1 -0.7l1 0.1l1 0.5l1 0.1l1 -1.1l1 1.0l1 0.2l1 0.0l1 0.5l1 -0.2l1 -0.1l1 -0.7l1 0.7l1 0.2l1 -1.0l1 0.4l1 0.0l1 0.2l1 -0.0l1 0.2l1 0.7l1 -0.9l1 -0.4l1 0.5l1 -0.8l1 0.1l1 -0.5l1 -0.3l1 -0.4l1 0.1l1 -0.2l1 -0.4l1 -1.0l1 0.9l1 -0.2l1 0.4l1 0.5l1 0.4l1 1.0l1 -0.0l1 0.2l1 -0.3l1 -0.4l1 -0.4l1 -0.5l1 0.2l1 0.2l1 -1.1l1 1.6l1 0.9l1 -0.0l1 -0.3l1 0.7l1 0.0l1 0.2l1 -0.0l1 -0.3l1 -0.5l1 -0.3l1 -0.6l1 0.5l1 -1.0l1 0.9l1 -0.3l1 0.6l1 0.3l1 0.3l1 -0.1l1 -0.8l1 0.5l1 -0.8l1 0.2l1 -1.1l1 0.6l1 0.1l1 -0.4l1 -0.5l1 0.3l1 0.9l1 -0.5l1 0.5l1 0.3l1 0.7l1 -0.3l1 -0.2l1 -0.5l1 -0.6l1 0.8l1 -1.2l1 -0.2l1 0.2l1 0.3l1 -0.1l1 -0.2l1 -0.5l1 -0.1l1 0.2l1 0.3l1 0.1l1 -0.8l1 0.3l1 0.1l1 0.6l1 0.0l1 -0.1l1 -0.7l1 0.6l1 -0.4l1 0.3l1 0.6l1 -0.5l1 0.5l1 0.5l1 -0.2l1 -0.2l1 0.3l1 -0.6l1 0.9l1 0.3l1 -0.8l1 -0.2l1 -0.2l1 0.1l1 -0.0l1 -0.0l1 -0.4l1 0.1l1 0.5l1 -0.1l1 -0.4l1 0.3l1 -0.3l1 -0.3l1 0.8l1 -0.2l1 -0.2l1 -0.1l1 -0.3l1 0.4l1 1.2l1 -0.1l1 0.1l1 0.1l1 -0.5l1 0.7l1 -0.2l1 -0.0l1 1.0l1 -0.5l1 -2.0l1 -4.5l1 -1.1l1 -0.0l1 0.5l1 -0.5l1 0.1l1 0.4l1 -0.4l1 -0.5l1 0.5l1 -0.1l1 -0.1l1 -0.5l1 0.1l1 0.1l1 0.6l1 -0.9l1 0.6l1 -0.9l1 1.0l1 0.5l1 -0.4l1 0.0l1 -0.5l1 0.4l1 0.7l1 -1.5l1 1.1l1 -0.5l1 0.5l1 0.2l1 -0.2l1 0.1l1 0.2l1 -0.0l1 0.6l1 -0.0l1 -0.7l1 0.4l1 0.0l1 -0.7l1 0.5l1 -0.5l1 0.3l1 -0.5l1 -0.3l1 0.5l1 0.7l1 -0.3l1 0.1l1 0.7l1 -0.9l1 -0.4l1 0.2l1 0.9l1 0.3l1 -0.3l1 0.1l1 0.1l1 -0.3l1 -0.0l1 -0.8l1 0.7l1 -0.1l1 -1.1l1 1.3l1 -0.6l1 0.4l1 -0.6l1 0.4l1 0.5l1 -0.9l1 0.7l1 -0.1l1 -0.2l1 0.1l1 -1.1l1 -0.1l1 0.6l1 0.1l1 0.3l1 0.4l1 0.0l1 0.6l1 -0.5l1 0.1l1 -0.7l1 0.1l1 0.1l1 -0.2l1 -0.2l1 -0.4l1 -1.0l1 0.4l1 -0.5l1 -0.2l1 0.4l1 0.3l1 1.3l1 0.2l1 -0.6l1 -0.5l1 -0.3l1 0.1l1 0.4l1 0.0l1 -1.6l1 1.0l1 -0.1l1 -0.1l1 -0.1l1 -0.0l1 0.2l1 0.4l1 -1.1l1 -0.1l1 0.5l1 -0.3l1 -0.5l1 0.0l1 1.1l1 -0.1l1 0.3l1 0.4l1 -0.9l1 0.2l1 0.0l1 -0.3l1 1.1l1 0.3l1 0.3l1 -0.2l1 -0.6l1 -0.2l1 -0.2l1 0.7l1 -0.7l1 -0.1l1 0.1l1 0.8l1 0.7l1 0.3l1 0.1l1 -0.1l1 -0.5l1 -0.7l1 0.7l1 0.1l1 0.3l1 -0.1l1 -0.4l1 0.0l1 -0.1l1 -0.8l1 0.3l1 0.1l1 -0.1l1 -0.3l1 -0.2l1 0.1l1 0.3l1 0.3l1 0.1l1 -0.5l1 0.3l1 0.6l1 -0.0l1 0.0l1 -0.6l1 1.3l1 -0.5l1 -1.3l1 -0.4l1 0.7l1 0.4l1 -0.0l1 0.2l1 -0.1l1 0.4l1 -0.1l1 0.2l1 0.2l1 0.6l1 -0.1l1 0.1l1 -0.5l1 0.4l1 0.4l1 -0.0l1 0.1l1 -0.8l1 -0.7l1 -0.0l1 -0.4l1 0.3l1 0.5l1 0.3l1 0.3l1 -1.1l1 0.5l1 0.4l1 -0.8l1 0.4l1 -0.3l1 -0.4l1 -0.2l1 1.9l1 2.4l1 0.8l1 -0.6l1 0.2l1 -0.4l1 0.5l1 0.1l1 0.3l1 -0.3l1 -0.1l1 0.0l1 -0.3l1 -0.8l1 -0.2l1 -0.4l1 0.1l1 0.6l1 0.5l1 -0.2l1 0.5l1 0.2l1 0.9l1 -1.0l1 -0.3l1 0.2l1 0.4l1 -0.3l1 0.2l1 -0.2l1 0.1l1 -0.4l1 -0.5l1 1.0l1 -0.5l1 -0.0l1 0.2l1 -0.1l1 0.3l1 -0.6l1 0.7l1 -0.0l1 -0.2l1 -0.2l1 -0.1l1 -0.4l1 0.3l1 0.4l1 -0.1l1 0.0l1 -0.2l1 0.0l1 -0.1l1 -0.5l1 0.2l1 0.6l1 -0.0l1 0.1l1 0.5l1 -0.1l1 0.0l1 0.2l1 0.4l1 -0.7l1 -0.0l1 -0.6l1 0.2l1 0.3l1 -0.9l1 0.5l1 -0.3l1 -1.0l1 0.3l1 -0.8l1 0.6l1 -0.1l1 0.3l1 0.4l1 0.5l1 -0.2l1 0.5l1 -0.4l1 -0.4l1 0.3l1 -1.2l1 0.5l1 0.7l1 -0.2l1 -0.3l1 0.0l1 -0.4l1 0.3l1 0.1l1 0.0l1 0.3l1 -0.3l1 -0.0l1 -0.2l1 0.4l1 -0.3l1 -0.4l1 0.5l1 -0.3l1 0.5l1 -0.2l1 -1.0l1 0.2l1 0.2l1 0.6l1 -0.1l1 0.6l1 0.5l1 -0.8l1 -0.4l1 0.7l1 -0.0l1 -0.6l1 0.5l1 -0.1l1 -0.1l1 -0.5l1 1.3l1 -0.4l1 1.1l1 0.3l1 -0.1l1 0.7l1 -0.7l1 0.1l1 -1.3l1 -0.2l1 -0.8l1 0.4l1 0.1l1 0.0l1 0.1l1 0.6l1 0.8l1 -0.3l1 0.1l1 -0.0l1 0.1l1 0.1l1 0.5l1 0.0l1 -0.1l1 0.3l1 0.1l1 -0.6l1 0.5l1 -1.3l1 0.2l1 -0.2l1 -0.4l1 0.3l1 -0.3l1 0.6l1 0.4l1 -0.1l1 -0.6l1 -0.4l1 -0.3l1 0.3l1 0.1l1 0.3l1 -0.2l1 -0.6l1 -0.8l1 0.3l1 0.7l1 -0.0l1 -0.6l1 0.2l1 0.1l1 0.2l1 0.7l1 -0.5l1 -0.5l1 0.1l1 -0.1l1 0.0l1 1.1l1 -0.7l1 0.1l1 -0.2l1 -0.1l1 0.9l1 -0.4l1 -0.5l1 0.5l1 0.0l1 0.1l1 -0.1l1 -0.2l1 -1.1l1 0.6l1 0.4l1 -0.7l1 -0.0l1 -0.1l1 0.8l1 -0.2l1 0.5l1 -1.0l1 -0.3l1 0.1l1 -0.9l1 -3.4l1 -4.5l1 0.1l1 -0.3l1 0.7l1 -0.1l1 0.6l1 -0.4l1 -0.0l1 0.3l1 0.4l1 -0.7l1 0.7l1 -0.4l1 -0.3l1 0.5l1 -0.1l1 0.2l1 -0.6l1 -0.5l1 1.0l1 -0.3l1 0.4l1 0.2l1 0.5l1 -0.0l1 0.7l1 0.2l1 -0.3l1 0.4l1 -1.1l1 -0.3l1 -1.0l1 0.5l1 0.1l1 0.1l1 0.3l1 0.8l1 -0.0l1 -0.4l1 0.0l1 0.5l1 0.5l1 -0.4l1 -0.1l1 -0.2l1 0.2l1 -0.5l1 -0.7l1 0.9l1 -0.5l1 -0.1l1 0.6l1 -0.4l1 -0.3l1 -0.1l1 -0.3l1 0.6l1 -1.0l1 -1.0l1 0.6l1 0.2l1 0.2l1 0.1l1 0.2l1 -0.5l1 0.3l1 -0.1l1 0.4l1 -0.2l1 0.1l1 -0.0l1 0.3l1 0.4l1 -0.8l1 0.4l1 -0.3l1 0.2l1 -0.7l1 0.1l1 0.6l1 -0.2l1 0.3l1 -0.4l1 0.7l1 -0.0l1 0.6l1 -0.5l1 0.3l1 -0.9l1 -0.2l1 0.5l1 -0.5l1 0.2l1 -0.3l1 0.5l1 -0.3l1 0.2l1 0.2l1 -0.2l1 -0.5l1 0.1l1 0.1l1 -0.2l1 0.9l1 -0.6l1 1.0l1 -0.6l1 0.0l1 0.0l1 -0.1l1 -0.2l1 0.6l1 -0.0l1 0.1l1 -0.2l1 -0.2l1 -0.3l1 0.2l1 -0.0l1 -0.5l1 0.7l1 -0.4l1 0.6l1 -1.0l1 0.9l1 0.0l1 -0.4l1 -0.1l1 0.1l1 0.1l1 -0.1l1 0.1l1 -0.7l1 0.5l1 -0.7l1 -0.1l1 0.1l1 -0.2l1 0.6l1 0.3l1 0.2l1 -0.0l1 0.2l1 -0.3l1 0.5l1 0.6l1 0.2l1 0.0l1 -0.9l1 0.1l1 0.5l1 0.8l1 -0.8l1 -0.4l1 0.1l1 -0.1l1 -0.2l1 -0.0l1 0.2l1 -0.4l1 0.4l1 -0.4l1 0.3l1 0.1l1 -0.4l1 -0.8l1 1.4l1 -0.6l1 -0.2l1 0.0l1 -0.6l1 0.4l1 0.8l1 -0.5l1 0.3l1 -0.6l1 -0.0l1 0.1l1 -1.1l1 2.0l1 -0.4l1 0.2l1 0.2l1 -0.1l1 -0.5l1 -0.4l1 -0.3l1 0.4l1 0.5l1 -0.8l1 -0.9l1 1.4l1 -0.3l1 0.6l1 -0.6l1 -0.3l1 0.4l1 -0.0l1 0.0l1 -0.2l1 0.0l1 -0.3l1 0.1l1 -0.9l1 0.2l1 0.4l1 0.3l1 0.4L2269.5 1392.7l-1 -0.9l-1 0.4l-1 -0.9l-1 0.4l-1 0.7l-1 0.7l-1 -1.7l-1 -0.0l-1 0.2l-1 -0.0l-1 0.2l-1 0.2l-1 -0.1l-1 0.5l-1 -0.7l-1 0.1l-1 0.5l-1 -0.3l-1 0.2l-1 -0.6l-1 0.5l-1 0.4l-1 -0.4l-1 -0.5l-1 0.2l-1 -0.0l-1 0.1l-1 0.4l-1 0.1l-1 -0.3l-1 0.7l-1 -0.8l-1 -0.2l-1 0.9l-1 -1.3l-1 0.3l-1 0.2l-1 0.4l-1 -0.2l-1 -0.2l-1 -1.4l-1 0.3l-1 -0.3l-1 -0.4l-1 -0.7l-1 2.1l-1 -0.6l-1 0.5l-1 -0.1l-1 0.2l-1 0.4l-1 0.3l-1 -1.4l-1 1.2l-1 0.4l-1 -0.7l-1 0.0l-1 -0.0l-1 0.7l-1 -0.5l-1 0.9l-1 -0.1l-1 0.2l-1 -0.2l-1 -0.0l-1 0.4l-1 0.1l-1 -0.0l-1 -0.2l-1 0.3l-1 -0.5l-1 2.7l-1 -2.7l-1 -0.1l-1 0.0l-1 0.1l-1 -1.0l-1 1.5l-1 -0.4l-1 -0.3l-1 0.8l-1 -0.4l-1 -0.2l-1 -0.5l-1 -0.1l-1 0.4l-1 -0.7l-1 -0.0l-1 2.3l-1 -0.9l-1 0.1l-1 0.2l-1 -1.8l-1 0.5l-1 0.1l-1 -0.5l-1 -0.7l-1 0.4l-1 -0.2l-1 0.9l-1 -0.8l-1 0.4l-1 -0.2l-1 0.8l-1 0.3l-1 0.2l-1 1.5l-1 0.1l-1 -1.0l-1 -1.0l-1 0.1l-1 0.2l-1 2.0l-1 -1.4l-1 -0.3l-1 0.2l-1 -0.7l-1 -1.0l-1 -0.5l-1 -0.1l-1 -0.3l-1 1.4l-1 -0.4l-1 0.7l-1 -0.7l-1 0.5l-1 -0.1l-1 0.2l-1 0.1l-1 -0.2l-1 0.3l-1 -0.0l-1 -0.1l-1 0.8l-1 1.6l-1 -0.6l-1 -1.1l-1 -0.6l-1 0.0l-1 -0.3l-1 -0.4l-1 0.4l-1 -0.7l-1 -0.7l-1 0.0l-1 0.2l-1 0.3l-1 0.3l-1 0.2l-1 -0.4l-1 -0.3l-1 0.2l-1 0.5l-1 1.1l-1 -0.6l-1 -0.3l-1 1.2l-1 -0.7l-1 0.8l-1 -0.4l-1 -1.2l-1 0.3l-1 -0.1l-1 -0.6l-1 0.1l-1 0.5l-1 1.8l-1 -0.4l-1 -0.3l-1 -0.6l-1 -0.1l-1 0.3l-1 -0.1l-1 -0.8l-1 0.4l-1 -0.2l-1 1.2l-1 -0.8l-1 2.0l-1 -1.4l-1 -0.3l-1 0.4l-1 0.2l-1 0.1l-1 -0.0l-1 0.0l-1 -0.1l-1 0.3l-1 -1.0l-1 -0.0l-1 0.2l-1 -0.3l-1 1.0l-1 -1.0l-1 -1.5l-1 -0.6l-1 1.3l-1 0.1l-1 -0.0l-1 0.5l-1 -0.1l-1 -0.8l-1 0.2l-1 -0.5l-1 0.3l-1 0.6l-1 1.2l-1 2.4l-1 6.2l-1 -0.8l-1 -1.1l-1 0.3l-1 0.1l-1 0.3l-1 1.3l-1 -0.9l-1 -0.7l-1 -0.0l-1 0.1l-1 0.9l-1 -0.7l-1 -0.6l-1 1.4l-1 -1.0l-1 1.0l-1 0.5l-1 -0.5l-1 -0.7l-1 0.4l-1 -0.5l-1 -0.1l-1 -0.3l-1 2.0l-1 -0.0l-1 -1.2l-1 -0.3l-1 1.3l-1 -0.6l-1 -0.4l-1 0.6l-1 -0.8l-1 1.1l-1 -2.4l-1 2.5l-1 -0.5l-1 -0.6l-1 -1.5l-1 0.5l-1 0.9l-1 -0.4l-1 -0.3l-1 0.2l-1 0.3l-1 0.2l-1 -0.5l-1 1.2l-1 -0.4l-1 -0.9l-1 -0.3l-1 1.3l-1 -0.9l-1 -0.4l-1 0.0l-1 0.8l-1 -0.2l-1 1.1l-1 -1.3l-1 0.3l-1 0.9l-1 0.4l-1 -0.5l-1 -0.2l-1 0.7l-1 1.2l-1 -2.5l-1 1.0l-1 -1.4l-1 1.2l-1 -1.0l-1 0.4l-1 0.6l-1 -0.1l-1 -0.3l-1 -0.2l-1 -0.7l-1 0.4l-1 0.3l-1 -0.2l-1 0.3l-1 0.1l-1 -0.8l-1 -0.7l-1 0.4l-1 0.3l-1 -0.1l-1 2.2l-1 -2.3l-1 0.2l-1 1.2l-1 -0.3l-1 1.8l-1 -1.2l-1 0.7l-1 0.4l-1 -0.8l-1 2.0l-1 -2.4l-1 0.4l-1 -1.0l-1 -0.2l-1 0.0l-1 -0.7l-1 2.1l-1 -0.7l-1 -0.1l-1 0.0l-1 -0.0l-1 0.4l-1 -0.5l-1 -0.1l-1 -0.0l-1 0.4l-1 0.1l-1 -1.0l-1 -0.3l-1 0.5l-1 0.0l-1 1.1l-1 -0.7l-1 2.9l-1 -2.9l-1 0.4l-1 1.3l-1 -0.9l-1 -0.6l-1 0.8l-1 -0.9l-1 -0.6l-1 -0.5l-1 0.1l-1 1.7l-1 -0.9l-1 -0.2l-1 0.3l-1 -1.2l-1 1.8l-1 -0.9l-1 -0.2l-1 1.6l-1 -1.4l-1 -0.3l-1 0.5l-1 -0.9l-1 -0.3l-1 0.1l-1 -0.1l-1 1.3l-1 -0.3l-1 -1.5l-1 -0.2l-1 0.7l-1 -0.5l-1 0.7l-1 -0.2l-1 -1.3l-1 0.8l-1 -0.2l-1 1.4l-1 0.0l-1 -0.4l-1 -0.6l-1 -0.1l-1 -0.1l-1 0.5l-1 0.0l-1 0.2l-1 0.5l-1 -0.8l-1 -0.3l-1 0.0l-1 -0.4l-1 0.5l-1 0.4l-1 0.4l-1 0.7l-1 0.1l-1 -0.5l-1 1.0l-1 -1.2l-1 0.4l-1 0.2l-1 0.3l-1 0.8l-1 -0.8l-1 -0.7l-1 -0.1l-1 -0.1l-1 0.5l-1 -0.5l-1 -0.2l-1 -0.1l-1 -0.3l-1 -0.1l-1 0.4l-1 2.0l-1 -1.5l-1 1.9l-1 -1.3l-1 -0.4l-1 0.4l-1 1.0l-1 -1.5l-1 0.4l-1 -0.8l-1 -1.9l-1 -2.8l-1 0.2l-1 -0.6l-1 0.3l-1 0.6l-1 0.6l-1 0.2l-1 -0.7l-1 0.8l-1 -0.5l-1 -0.5l-1 -0.0l-1 0.1l-1 -0.5l-1 0.3l-1 0.3l-1 -1.1l-1 0.7l-1 -0.6l-1 -0.6l-1 1.9l-1 -1.1l-1 2.9l-1 -2.5l-1 0.4l-1 0.5l-1 0.7l-1 -1.4l-1 0.2l-1 0.5l-1 0.0l-1 -0.9l-1 0.6l-1 -0.6l-1 0.2l-1 -0.5l-1 0.2l-1 -0.6l-1 -0.0l-1 0.6l-1 -0.2l-1 0.6l-1 -0.2l-1 -0.9l-1 -0.1l-1 0.2l-1 1.1l-1 -1.0l-1 0.5l-1 -0.8l-1 0.7l-1 0.3l-1 0.1l-1 0.0l-1 -0.8l-1 -0.2l-1 0.1l-1 0.0l-1 0.2l-1 0.1l-1 0.1l-1 -0.3l-1 -0.1l-1 0.3l-1 0.2l-1 -0.1l-1 -0.4l-1 0.7l-1 -0.5l-1 1.0l-1 -1.7l-1 -0.0l-1 -0.2l-1 0.2l-1 0.1l-1 0.4l-1 1.1l-1 -0.4l-1 1.1l-1 -0.8l-1 0.3l-1 -0.1l-1 -0.7l-1 -0.5l-1 1.8l-1 -0.5l-1 0.1l-1 0.5l-1 -0.8l-1 0.8l-1 0.8l-1 -0.7l-1 -0.2l-1 0.1l-1 -1.5l-1 0.2l-1 1.0l-1 -1.5l-1 0.8l-1 -0.8l-1 -0.6l-1 0.9l-1 0.0l-1 0.8l-1 -1.0l-1 0.0l-1 -0.2l-1 0.3l-1 -0.4l-1 -0.5l-1 0.3l-1 0.2l-1 0.4l-1 -0.1l-1 -0.3l-1 0.2l-1 0.3l-1 -0.3l-1 0.9l-1 -0.3l-1 0.0l-1 0.5l-1 1.0l-1 -2.3l-1 -0.0l-1 0.1l-1 1.3l-1 -1.6l-1 0.4l-1 0.0l-1 -0.0l-1 -0.2l-1 0.9l-1 0.1l-1 0.2l-1 -0.8l-1 -0.2l-1 -0.3l-1 -0.5l-1 0.8l-1 -0.6l-1 1.3l-1 -0.8l-1 -0.4l-1 0.5l-1 0.7l-1 0.1l-1 0.6l-1 -0.1l-1 0.3l-1 -1.5l-1 0.2l-1 -0.6l-1 -0.2l-1 0.2l-1 0.3l-1 -0.7l-1 0.1l-1 0.9l-1 -0.5l-1 0.6l-1 -0.7l-1 1.6l-1 -0.6l-1 -0.5l-1 -0.2l-1 0.1l-1 -0.2l-1 0.1l-1 -0.2l-1 -0.2l-1 1.3l-1 -0.7l-1 0.6l-1 -0.5l-1 1.2l-1 -0.9l-1 0.9l-1 -0.7l-1 -0.3l-1 -0.2l-1 -0.5l-1 0.5l-1 -0.3l-1 -0.8l-1 0.5l-1 -0.1l-1 0.5l-1 -0.7l-1 0.2l-1 0.5l-1 0.7l-1 -1.9l-1 -0.5l-1 1.3l-1 -1.1l-1 0.4l-1 -1.0l-1 1.2l-1 0.3l-1 -0.4l-1 -0.4l-1 0.9l-1 0.1l-1 -0.5l-1 1.7l-1 4.0l-1 1.2l-1 0.0l-1 1.1l-1 -0.6l-1 0.4l-1 -0.3l-1 -0.1l-1 -0.5l-1 0.4l-1 0.4l-1 0.0l-1 -0.3l-1 0.5l-1 0.7l-1 -0.7l-1 -1.1l-1 0.3l-1 0.1l-1 -0.1l-1 0.3l-1 -0.3l-1 -0.2l-1 0.6l-1 0.3l-1 -0.5l-1 0.5l-1 -0.3l-1 0.5l-1 2.1l-1 -1.1l-1 -0.0l-1 -1.0l-1 0.4l-1 1.2l-1 -0.3l-1 -1.5l-1 0.1l-1 0.6l-1 -0.2l-1 -0.1l-1 -0.7l-1 0.8l-1 -0.5l-1 -0.8l-1 0.0l-1 0.2l-1 -0.3l-1 0.1l-1 0.3l-1 -0.5l-1 0.9l-1 -1.0l-1 1.2l-1 -1.4l-1 1.8l-1 -1.6l-1 0.9l-1 -0.2l-1 0.9l-1 -0.8l-1 0.6l-1 -0.7l-1 0.1l-1 0.3l-1 -0.6l-1 -0.5l-1 0.8l-1 -0.1l-1 0.0l-1 1.1l-1 -1.1l-1 -0.7l-1 0.6l-1 1.0l-1 -1.5l-1 0.9l-1 -0.2l-1 -1.0l-1 -0.3l-1 -0.2l-1 1.1l-1 -0.5l-1 0.2l-1 1.0l-1 -0.8l-1 2.0l-1 -1.6l-1 -0.1l-1 0.4l-1 0.5l-1 0.7l-1 -0.9l-1 -0.4l-1 -0.0l-1 -0.3l-1 0.6l-1 -0.4l-1 1.4l-1 -0.6l-1 0.6l-1 -0.6l-1 0.3l-1 -0.1l-1 -0.2l-1 0.2l-1 1.1l-1 -0.7l-1 0.0l-1 0.9l-1 -1.7l-1 -0.6l-1 0.6l-1 -1.3l-1 1.0l-1 -0.0l-1 -0.5l-1 0.1l-1 0.4l-1 0.1l-1 3.3l-1 -4.0l-1 0.1l-1 -0.0l-1 0.9l-1 -0.5l-1 0.8l-1 -1.4l-1 1.0l-1 -0.5l-1 -0.3l-1 -0.2l-1 -0.6l-1 1.0l-1 0.6l-1 -0.5l-1 -0.6l-1 -0.4l-1 -0.3l-1 1.6l-1 -1.2l-1 0.7l-1 0.2l-1 -0.8l-1 0.4l-1 0.0l-1 0.0l-1 -0.2l-1 -0.5l-1 -0.5l-1 1.8l-1 -1.5l-1 2.3l-1 -1.0l-1 0.8l-1 0.5l-1 -0.2l-1 0.1l-1 -0.4l-1 1.6l-1 -2.4l-1 0.3l-1 0.2l-1 -0.3l-1 -0.1l-1 -0.5l-1 0.2l-1 0.2l-1 0.4l-1 -1.0l-1 -0.3l-1 -0.1l-1 0.3l-1 -0.7l-1 0.6l-1 -0.3l-1 0.2l-1 -0.2l-1 -0.4l-1 0.8l-1 0.7l-1 -0.1l-1 -1.3l-1 0.2l-1 0.4l-1 0.9l-1 -0.4l-1 0.3l-1 -0.1l-1 -0.8l-1 -0.3l-1 -0.1l-1 0.4l-1 -0.0l-1 1.8l-1 -0.5l-1 -0.8l-1 2.3l-1 -2.3l-1 0.7l-1 0.6l-1 -0.6l-1 0.1l-1 0.5l-1 0.3l-1 0.4l-1 -0.9l-1 -5.5l-1 -2.0l-1 0.1l-1 -0.3l-1 -0.4l-1 0.5l-1 1.0l-1 -0.7l-1 1.5l-1 -1.2l-1 -0.6l-1 -0.1l-1 0.5l-1 0.2l-1 -0.6l-1 -1.3l-1 0.4l-1 0.9l-1 -1.4l-1 -0.1l-1 0.1l-1 -1.0l-1 0.0l-1 0.4l-1 -0.0l-1 0.8l-1 -0.2l-1 -0.0l-1 0.0l-1 0.2l-1 0.6l-1 -0.4l-1 -0.1l-1 -0.4l-1 0.1l-1 0.9l-1 -0.5l-1 0.9l-1 -1.4l-1 -0.1l-1 0.3l-1 -0.1l-1 0.2l-1 0.0l-1 -0.8l-1 -0.2l-1 -0.2l-1 1.0l-1 2.0l-1 -1.1l-1 0.8l-1 0.0l-1 0.4l-1 -0.9l-1 -0.0l-1 -0.7l-1 1.6l-1 -1.6l-1 0.8l-1 0.3l-1 -0.5l-1 -1.0l-1 -0.2l-1 -0.3l-1 0.0l-1 0.5l-1 0.3l-1 -0.8l-1 -0.3l-1 -0.2l-1 0.1l-1 0.1l-1 -0.3l-1 0.1l-1 -0.2l-1 0.4l-1 1.6l-1 -1.4l-1 1.4l-1 -1.1l-1 -0.4l-1 -0.4l-1 1.2l-1 -0.3l-1 0.5l-1 -0.4l-1 3.2l-1 -2.6l-1 -1.0l-1 -0.5l-1 0.6l-1 0.1l-1 -0.0l-1 -0.2l-1 -0.6l-1 0.3l-1 0.1l-1 1.3l-1 -0.4l-1 -0.7l-1 0.4l-1 -0.7l-1 0.0l-1 0.0l-1 0.0l-1 -0.6l-1 0.3l-1 0.6l-1 -0.0l-1 0.3l-1 0.3l-1 -0.1l-1 1.9l-1 -1.1l-1 0.7l-1 -1.0l-1 -0.1l-1 0.7l-1 -1.8l-1 0.5l-1 0.6l-1 1.1l-1 -0.8l-1 -0.2l-1 0.7l-1 -0.9l-1 0.7l-1 -0.6l-1 2.2l-1 -1.2l-1 -1.6l-1 0.2l-1 0.1l-1 2.3l-1 -2.6l-1 -0.2l-1 0.5l-1 -0.4l-1 -0.1l-1 0.5l-1 -0.4l-1 -0.0l-1 2.1l-1 -2.6l-1 0.3l-1 0.1l-1 0.1l-1 0.5l-1 0.3l-1 -0.5l-1 0.3l-1 0.5l-1 1.0l-1 -1.7l-1 -0.7l-1 0.8l-1 -0.0l-1 1.3l-1 -1.6l-1 1.7l-1 -1.5l-1 -0.5l-1 0.4l-1 1.6l-1 -0.2l-1 -0.6l-1 -0.2l-1 0.1l-1 0.2l-1 1.4l-1 -0.6l-1 -0.6l-1 -0.2l-1 1.4l-1 -1.7l-1 0.1l-1 -0.3l-1 -0.2l-1 -0.6l-1 -0.0l-1 -0.2l-1 -0.4l-1 0.3l-1 1.0l-1 -0.8l-1 1.6l-1 -1.6l-1 0.1l-1 0.3l-1 0.1l-1 1.2l-1 -1.1l-1 2.0l-1 -1.5l-1 0.7l-1 -0.1l-1 0.2l-1 -0.0l-1 -0.1l-1 0.3l-1 0.9l-1 -0.8l-1 -0.6l-1 -0.4l-1 0.7l-1 -0.1l-1 -3.1l-1 -2.8l-1 -2.9l-1 -0.7l-1 0.8l-1 0.5l-1 -1.9l-1 -0.1l-1 1.6l-1 -2.2l-1 0.4l-1 1.3l-1 -1.6l-1 1.8l-1 -0.9l-1 -0.0l-1 0.5l-1 -0.8l-1 -0.4l-1 1.0l-1 -0.3l-1 1.1l-1 -1.1l-1 0.2l-1 0.2l-1 0.2l-1 0.2l-1 0.0l-1 0.4l-1 0.2l-1 -0.8l-1 -0.4l-1 -0.7l-1 2.2l-1 -1.2l-1 -1.2l-1 0.6l-1 1.3l-1 -0.0l-1 -1.4l-1 0.5l-1 -0.4l-1 -0.7l-1 0.5l-1 -0.3l-1 0.3l-1 0.1l-1 0.1l-1 0.0l-1 1.2l-1 -1.2l-1 -0.1l-1 0.2l-1 0.3l-1 0.5l-1 -0.5l-1 0.1l-1 1.2l-1 -0.4l-1 0.5l-1 -0.8l-1 0.5l-1 -1.3l-1 0.5l-1 0.5l-1 0.4l-1 0.6l-1 -1.0l-1 1.7l-1 -1.5l-1 -0.3l-1 0.2l-1 -0.4l-1 -0.0l-1 -0.2l-1 1.2l-1 0.0l-1 -0.5l-1 0.6l-1 -0.3l-1 -0.7l-1 0.0l-1 -0.1l-1 0.3l-1 0.6l-1 0.5l-1 -1.5l-1 0.6l-1 -0.5l-1 -0.2l-1 0.1l-1 0.2l-1 -0.8l-1 -0.4l-1 -0.1l-1 -0.8l-1 0.5l-1 0.5l-1 -0.0l-1 0.4l-1 -0.2l-1 -0.1l-1 1.7l-1 -1.3l-1 0.4l-1 -0.3l-1 0.5l-1 -1.5l-1 0.5l-1 -0.2l-1 0.3l-1 0.0l-1 -0.7l-1 0.0l-1 0.2l-1 0.0l-1 0.4l-1 0.4l-1 -0.6l-1 0.3l-1 -0.8l-1 0.4l-1 1.1l-1 -0.3l-1 0.3l-1 -0.8l-1 -0.4l-1 -0.0l-1 0.0l-1 -0.0l-1 -0.1l-1 2.8l-1 -2.2l-1 -0.4l-1 0.3l-1 -0.1l-1 1.5l-1 0.3l-1 1.1l-1 -2.3l-1 -0.2l-1 0.3l-1 2.1l-1 -1.1l-1 -0.2l-1 -0.6l-1 0.6l-1 -0.6l-1 -0.4l-1 -0.3l-1 1.3l-1 -0.5l-1 -0.1l-1 -0.4l-1 -0.3l-1 -0.1l-1 1.1l-1 -0.1l-1 -0.4l-1 -0.0l-1 0.0l-1 0.0l-1 -0.8l-1 1.4l-1 -1.4l-1 1.3l-1 0.7l-1 -0.9l-1 1.1l-1 -1.8l-1 0.2l-1 0.2l-1 1.1l-1 -0.9l-1 0.3l-1 -0.4l-1 -0.0l-1 -1.0l-1 0.5l-1 -0.3l-1 0.4l-1 -0.7l-1 -0.4l-1 0.0l-1 -0.1l-1 -0.4l-1 -0.1l-1 -0.4l-1 0.9l-1 0.7l-1 -0.8l-1 0.2l-1 0.4l-1 -0.6l-1 0.1l-1 -0.1l-1 0.8l-1 -0.4l-1 0.9l-1 -0.3l-1 -0.8l-1 -0.5l-1 -1.6l-1 -0.4l-1 -2.7l-1 -0.7l-1 -1.4l-1 -1.8l-1 0.5l-1 -0.0l-1 0.3l-1 -0.5l-1 -0.3l-1 0.9l-1 -0.6l-1 -0.9l-1 2.0l-1 -0.7l-1 -0.9l-1 2.5l-1 -1.9l-1 0.7l-1 -0.0l-1 -0.0l-1 0.1l-1 0.2l-1 0.1l-1 0.1l-1 0.8l-1 -1.0l-1 -0.6l-1 0.8l-1 -1.1l-1 -0.8l-1 0.3l-1 0.6l-1 -0.2l-1 -1.0l-1 -0.5l-1 -0.1l-1 0.2l-1 -0.4l-1 -0.1l-1 1.5l-1 -1.1l-1 -0.3l-1 0.1l-1 0.7l-1 0.3l-1 -0.5l-1 -0.1l-1 0.2l-1 0.3l-1 -0.5l-1 0.4l-1 -0.0l-1 -0.4l-1 0.6l-1 -0.3l-1 0.5l-1 0.2l-1 0.8l-1 -1.2l-1 0.7l-1 0.3l-1 -1.3l-1 0.7l-1 1.9l-1 -1.7l-1 0.5l-1 0.1l-1 -0.3l-1 0.9l-1 -0.4l-1 -0.4l-1 -0.4l-1 0.2l-1 1.5l-1 -2.0l-1 -0.4l-1 0.8l-1 -0.8l-1 0.3l-1 0.3l-1 -0.2l-1 -0.2l-1 0.7l-1 0.7l-1 -1.4l-1 -0.4l-1 -0.9l-1 1.4l-1 0.8l-1 -1.1l-1 0.1l-1 0.3l-1 0.2l-1 -0.7l-1 0.6l-1 0.5l-1 -0.0l-1 0.7l-1 -1.0l-1 -0.4l-1 1.3l-1 -1.1l-1 0.9l-1 -0.7l-1 -1.2l-1 0.4l-1 0.1l-1 0.4l-1 -0.5l-1 -0.1l-1 -0.1l-1 -0.1l-1 -0.6l-1 -0.1l-1 1.4l-1 -0.8l-1 1.1l-1 -0.7l-1 0.2l-1 -0.6l-1 0.4l-1 0.0l-1 -0.0l-1 0.0l-1 0.8l-1 1.0l-1 0.3l-1 -0.5l-1 -0.2l-1 0.9l-1 -0.9l-1 -0.2l-1 2.3l-1 -1.9l-1 0.3l-1 0.8l-1 -0.7l-1 -1.0l-1 -0.3l-1 1.6l-1 -1.4l-1 1.3l-1 -1.5l-1 -0.1l-1 -0.1l-1 -0.3l-1 0.2l-1 -0.5l-1 0.4l-1 1.0l-1 0.5l-1 -0.6l-1 -0.7l-1 0.2l-1 1.0l-1 -0.7l-1 1.0l-1 -2.4l-1 -0.1l-1 0.6l-1 -0.7l-1 0.4l-1 2.1l-1 -1.9l-1 -0.2l-1 -0.0l-1 2.1l-1 -1.5l-1 -0.0l-1 1.4l-1 -1.1l-1 0.2l-1 0.0l-1 -1.1l-1 0.1l-1 2.3l-1 -1.2l-1 -0.3l-1 0.3l-1 0.7l-1 -1.7l-1 -0.0l-1 0.4l-1 -0.2l-1 0.4l-1 -1.1l-1 -0.2l-1 1.0l-1 -0.5l-1 -0.0l-1 -0.1l-1 -0.1l-1 -0.5l-1 0.1l-1 0.7l-1 1.7l-1 -1.1l-1 -0.2l-1 -0.9l-1 -0.0l-1 0.8l-1 -0.3l-1 -1.0l-1 0.6l-1 0.2l-1 0.3l-1 -0.0l-1 0.0l-1 0.3l-1 -0.4l-1 3.6l-1 3.5l-1 0.1l-1 0.8l-1 -0.7l-1 -0.8l-1 1.0l-1 0.3l-1 0.1l-1 0.9l-1 0.5l-1 -0.2l-1 0.4l-1 0.2l-1 -1.0l-1 -0.3l-1 0.7l-1 0.8l-1 -0.3l-1 0.3l-1 -0.5l-1 -0.7l-1 1.6l-1 -1.2l-1 -0.4l-1 -0.1l-1 1.4l-1 -0.4l-1 -0.1l-1 2.1l-1 -2.5l-1 0.6l-1 -0.2l-1 1.3l-1 -0.9l-1 -0.3l-1 -0.3l-1 -0.0l-1 0.7l-1 -0.8l-1 1.0l-1 -0.1l-1 0.5l-1 1.7l-1 -1.5l-1 -0.9l-1 -0.2l-1 -0.3l-1 0.8l-1 -0.2l-1 0.1l-1 -0.4l-1 -0.1l-1 0.1l-1 -0.2l-1 1.0l-1 -0.3l-1 1.2l-1 -0.4l-1 0.1l-1 -0.5l-1 -0.7l-1 0.8l-1 -1.5l-1 -0.5l-1 2.7l-1 -1.6l-1 -0.1l-1 0.3l-1 0.2l-1 1.3l-1 -1.2l-1 0.8l-1 0.7l-1 -0.8l-1 0.9l-1 -1.0l-1 0.2l-1 0.2l-1 -0.6l-1 1.3l-1 -1.4l-1 -0.3l-1 -0.8l-1 1.2l-1 -0.1l-1 -0.8l-1 0.3l-1 0.9l-1 0.4l-1 1.9l-1 -1.0l-1 -0.1l-1 -0.3l-1 -0.1l-1 1.4l-1 -1.4l-1 0.4l-1 0.9l-1 -0.6l-1 -0.0l-1 -0.4l-1 -0.3l-1 -0.7l-1 -0.5l-1 -0.3l-1 1.7l-1 -0.4l-1 0.4l-1 0.4l-1 0.2l-1 -0.2l-1 0.2l-1 -0.1l-1 0.6l-1 -0.1l-1 -0.3l-1 -0.5l-1 0.6l-1 0.0l-1 -0.3l-1 -0.7l-1 0.6l-1 0.2l-1 1.6l-1 -1.5l-1 1.1l-1 -0.4l-1 -0.5l-1 1.6l-1 -0.5l-1 0.2l-1 -0.6l-1 0.0l-1 0.6l-1 -0.6l-1 0.5l-1 0.1l-1 0.9l-1 -0.8l-1 -0.2l-1 0.6l-1 -0.8l-1 -0.1l-1 0.8l-1 -0.5l-1 -0.1l-1 -0.8l-1 -0.3l-1 -0.3l-1 0.5l-1 0.6l-1 0.8l-1 -1.1l-1 -0.1l-1 -0.5l-1 2.7l-1 -2.8l-1 0.3l-1 -0.0l-1 -0.4l-1 -0.1l-1 0.0l-1 -0.5l-1 0.6l-1 -0.5l-1 0.5l-1 0.4l-1 -0.3l-1 -0.3l-1 1.2l-1 -1.0l-1 1.7l-1 -2.0l-1 0.1l-1 1.1l-1 1.0l-1 -1.0l-1 0.0l-1 -1.0l-1 1.0l-1 -0.9l-1 1.4l-1 -1.4l-1 0.6l-1 -0.6l-1 1.1l-1 -0.4l-1 -0.4l-1 0.0l-1 1.5l-1 -1.1l-1 1.0l-1 -0.6l-1 0.0l-1 0.1l-1 -0.3l-1 -0.9l-1 0.9l-1 0.4l-1 -0.1l-1 -0.9l-1 1.4l-1 -0.8l-1 -0.5l-1 0.5l-1 1.9l-1 5.2l-1 1.3l-1 0.0l-1 0.4l-1 0.7l-1 -0.7l-1 -0.9l-1 0.3l-1 -0.4l-1 0.0l-1 0.8l-1 0.3l-1 -0.1l-1 -0.3l-1 2.2l-1 -1.4l-1 -0.1l-1 -0.4l-1 0.5l-1 0.4l-1 -0.3l-1 0.5l-1 0.5l-1 -1.1l-1 0.9l-1 0.1l-1 -1.0l-1 -0.4l-1 -0.4l-1 -0.3l-1 0.8l-1 -1.9l-1 -0.4l-1 0.0l-1 0.7l-1 2.0l-1 -0.8l-1 -1.1l-1 0.4l-1 -0.5l-1 0.4l-1 -0.3l-1 0.6l-1 -0.9l-1 0.3l-1 0.3l-1 0.9l-1 -0.7l-1 0.1l-1 1.1l-1 -1.1l-1 -0.2l-1 0.5l-1 -0.7l-1 0.6l-1 -0.0l-1 0.3l-1 0.6l-1 0.1l-1 1.1l-1 -1.1l-1 1.6l-1 -1.2l-1 0.0l-1 -0.6l-1 -0.2l-1 0.3l-1 -0.4l-1 -0.0l-1 0.3l-1 -0.4l-1 -0.2l-1 0.7l-1 -0.2l-1 -0.5l-1 0.4l-1 -0.2l-1 -0.5l-1 0.4l-1 1.0l-1 -0.8l-1 -0.1l-1 -0.2l-1 1.2l-1 -0.4l-1 -0.7l-1 0.2l-1 1.5l-1 -0.8l-1 0.3l-1 -1.0l-1 0.2l-1 0.3l-1 -0.5l-1 -0.7l-1 0.2l-1 -0.0l-1 -0.5l-1 -0.4l-1 1.7l-1 -0.5l-1 1.1l-1 -1.5l-1 0.4l-1 -0.1l-1 -0.0l-1 1.6l-1 -1.7l-1 -0.6l-1 0.5l-1 -0.7l-1 1.5l-1 -0.8l-1 0.1l-1 -1.1l-1 0.8l-1 -0.2l-1 0.1l-1 0.3l-1 -0.9l-1 0.1l-1 -0.4l-1 1.4l-1 -0.9l-1 -0.1l-1 1.2l-1 -0.7l-1 -0.4l-1 1.7l-1 -1.1l-1 0.2l-1 0.3l-1 0.5l-1 0.4l-1 -0.8l-1 0.4l-1 -0.3l-1 0.9l-1 -1.4l-1 -0.1l-1 0.3l-1 -0.4l-1 -0.0l-1 -0.1l-1 0.6l-1 -0.1l-1 0.1l-1 0.2l-1 -0.5l-1 0.6l-1 -0.7l-1 -0.5l-1 1.3l-1 -1.3l-1 0.6l-1 -0.6l-1 0.8l-1 -0.8l-1 -0.3l-1 0.6l-1 0.2l-1 0.1l-1 -0.4l-1 0.5l-1 0.9l-1 -0.8l-1 0.4l-1 -0.6l-1 -0.2l-1 -0.1l-1 -0.2l-1 -0.4l-1 1.2l-1 -0.5l-1 -1.3l-1 0.5l-1 0.2l-1 0.6l-1 -0.8l-1 0.9l-1 -0.6l-1 -0.6l-1 1.6l-1 0.2l-1 -2.3l-1 0.5l-1 0.2l-1 -0.4l-1 -0.1l-1 0.2l-1 1.6l-1 -0.9l-1 -0.6l-1 0.5l-1 -0.5l-1 -0.1l-1 1.2l-1 -1.0l-1 0.5l-1 0.5l-1 0.9l-1 -1.1l-1 -0.0l-1 -0.1l-1 -0.3l-1 0.6l-1 1.3l-1 4.1l-1 1.1l-1 0.8l-1 -1.3l-1 0.7l-1 -0.5l-1 0.6l-1 1.1l-1 -1.1l-1 0.9l-1 -2.0l-1 1.7l-1 -0.4l-1 0.8l-1 -0.5l-1 -0.6l-1 1.1l-1 -0.9l-1 0.1l-1 0.6l-1 -1.4l-1 0.5l-1 0.8l-1 -0.7l-1 -0.3l-1 1.2l-1 -1.2l-1 -0.2l-1 0.4l-1 0.6l-1 -0.1l-1 -0.1l-1 2.7l-1 -2.4l-1 -1.0l-1 0.2l-1 1.4l-1 -0.7l-1 -0.6l-1 -0.2l-1 0.1l-1 -0.0l-1 0.7l-1 -0.6l-1 0.8l-1 -1.0l-1 -0.4l-1 2.7l-1 -1.9l-1 -0.0l-1 -0.5l-1 0.8l-1 -1.0l-1 0.4l-1 0.6l-1 -0.1l-1 -0.0l-1 0.5l-1 0.4l-1 -0.3l-1 -0.9l-1 2.0l-1 -0.4l-1 -0.5l-1 -0.5l-1 -0.0l-1 0.1l-1 2.1l-1 -2.0l-1 0.2l-1 -0.7l-1 -0.5l-1 0.2l-1 1.4l-1 -0.9l-1 0.6l-1 0.8l-1 1.3l-1 -1.7l-1 -0.0l-1 0.0l-1 -0.0l-1 0.8l-1 -0.9l-1 0.3l-1 -0.2l-1 -0.0l-1 0.1l-1 -0.4l-1 1.3l-1 -3.0l-1 0.6l-1 -0.5l-1 -0.3l-1 0.5l-1 0.2l-1 -0.3l-1 -0.4l-1 -0.4l-1 0.3l-1 -0.7l-1 0.5l-1 0.4l-1 0.3l-1 -0.5l-1 0.4l-1 -0.3l-1 1.8l-1 -1.9l-1 1.7l-1 -0.0l-1 0.0l-1 0.8l-1 -0.9l-1 0.0l-1 0.2l-1 -0.9l-1 0.3l-1 -0.0l-1 -0.1l-1 0.4l-1 0.3l-1 -1.3l-1 0.7l-1 -1.0l-1 0.6l-1 -0.1l-1 1.8l-1 0.0l-1 -0.5l-1 0.8l-1 -0.9l-1 -0.6l-1 -0.0l-1 -0.2l-1 0.9l-1 -0.8l-1 1.0l-1 0.1l-1 -1.6l-1 0.1l-1 0.0l-1 -0.1l-1 -0.2l-1 0.5l-1 -0.3l-1 0.9l-1 -0.3l-1 0.1l-1 0.8l-1 -1.2l-1 0.4l-1 0.4l-1 -0.2l-1 0.9l-1 0.2l-1 -1.3l-1 -0.0l-1 -0.2l-1 -0.6l-1 -0.1l-1 0.9l-1 -0.8l-1 1.3l-1 -0.6l-1 0.8l-1 0.4l-1 -0.5l-1 0.8l-1 -0.7l-1 -0.1l-1 -0.1l-1 0.7l-1 -0.6l-1 0.1l-1 0.4l-1 0.0l-1 -0.5l-1 0.3l-1 -0.3l-1 -0.3l-1 -1.1l-1 1.0l-1 0.1l-1 -0.3l-1 0.2l-1 0.6l-1 0.4l-1 -0.2l-1 -0.2l-1 1.0l-1 -0.8l-1 -0.0l-1 -0.3l-1 0.8l-1 1.1l-1 -2.3l-1 -0.1l-1 -0.7l-1 0.5l-1 2.0l-1 -2.4l-1 0.6l-1 -0.1l-1 0.9l-1 -0.6l-1 -0.6l-1 1.0l-1 0.7l-1 -0.5l-1 -0.3Z" fill="#0000ff" stroke="#0000ff"/></g>
<g fill="none" stroke-width="2.8"><circle cx="199.0" cy="1325.9" r="12.5" stroke="#ff0000"/><circle cx="405.8" cy="1309.3" r="12.5" stroke="#ff0000"/><circle cx="612.6" cy="1294.2" r="12.5" stroke="#ff0000"/><circle cx="819.4" cy="1277.3" r="12.5" stroke="#ff0000"/><circle cx="1026.2" cy="1274.3" r="12.5" stroke="#ff0000"/><circle cx="1233.0" cy="1289.2" r="12.5" stroke="#ff0000"/><circle cx="1439.8" cy="1300.1" r="12.5" stroke="#ff0000"/><circle cx="1646.6" cy="1300.1" r="12.5" stroke="#ff0000"/><circle cx="1853.4" cy="1299.2" r="12.5" stroke="#ff0000"/><circle cx="2060.2" cy="1296.9" r="12.5" stroke="#ff0000"/><circle cx="2267.0" cy="1290.3" r="12.5" stroke="#ff0000"/><circle cx="199.0" cy="1371.8" r="12.5" stroke="#00ff00"/><circle cx="405.8" cy="1361.7" r="12.5" stroke="#00ff00"/><circle cx="612.6" cy="1346.0" r="12.5" stroke="#00ff00"/><circle cx="819.4" cy="1330.0" r="12.5" stroke="#00ff00"/><circle cx="1026.2" cy="1325.9" r="12.5" stroke="#00ff00"/><circle cx="1233.0" cy="1336.0" r="12.5" stroke="#00ff00"/><circle cx="1439.8" cy="1346.0" r="12.5" stroke="#00ff00"/><circle cx="1646.6" cy="1347.8" r="12.5" stroke="#00ff00"/><circle cx="1853.4" cy="1346.9" r="12.5" stroke="#00ff00"/><circle cx="2060.2" cy="1336.0" r="12.5" stroke="#00ff00"/><circle cx="2267.0" cy="1331.8" r="12.5" stroke="#00ff00"/><circle cx="199.0" cy="1393.7" r="12.5" stroke="#000000"/><circle cx="405.8" cy="1387.5" r="12.5" stroke="#000000"/><circle cx="612.6" cy="1375.7" r="12.5" stroke="#000000"/><circle cx="819.4" cy="1366.8" r="12.5" stroke="#000000"/><circle cx="1026.2" cy="1361.7" r="12.5" stroke="#000000"/><circle cx="1233.0" cy="1370.9" r="12.5" stroke="#000000"/><circle cx="1439.8" cy="1382.8" r="12.5" stroke="#000000"/><circle cx="1646.6" cy="1382.8" r="12.5" stroke="#000000"/><circle cx="1853.4" cy="1380.7" r="12.5" stroke="#000000"/><circle cx="2060.2" cy="1377.1" r="12.5" stroke="#000000"/><circle cx="2267.0" cy="1373.9" r="12.5" stroke="#000000"/><circle cx="199.0" cy="1415.4" r="12.5" stroke="#0000ff"/><circle cx="405.8" cy="1414.5" r="12.5" stroke="#0000ff"/><circle cx="612.6" cy="1400.6" r="12.5" stroke="#0000ff"/><circle cx="819.4" cy="1392.6" r="12.5" stroke="#0000ff"/><circle cx="1026.2" cy="1386.6" r="12.5" stroke="#0000ff"/><circle cx="1233.0" cy="1391.7" r="12.5" stroke="#0000ff"/><circle cx="1439.8" cy="1404.7" r="12.5" stroke="#0000ff"/><circle cx="1646.6" cy="1407.7" r="12.5" stroke="#0000ff"/><circle cx="1853.4" cy="1400.6" r="12.5" stroke="#0000ff"/><circle cx="2060.2" cy="1402.6" r="12.5" stroke="#0000ff"/><circle cx="2267.0" cy="1400.8" r="12.5" stroke="#0000ff"/></g>
<g font-family="Liberation Sans, Arial, sans-serif" font-weight="bold">
<text transform="translate(199.0 723.2) scale(0.93 1)" font-size="62" text-anchor="middle" fill="#171717">500</text>
<text transform="translate(405.8 723.2) scale(0.93 1)" font-size="62" text-anchor="middle" fill="#171717">510</text>
<text transform="translate(612.6 723.2) scale(0.93 1)" font-size="62" text-anchor="middle" fill="#171717">520</text>
<text transform="translate(819.4 723.2) scale(0.93 1)" font-size="62" text-anchor="middle" fill="#171717">530</text>
<text transform="translate(1026.2 723.2) scale(0.93 1)" font-size="62" text-anchor="middle" fill="#171717">540</text>
<text transform="translate(1233.0 723.2) scale(0.93 1)" font-size="62" text-anchor="middle" fill="#171717">550</text>
<text transform="translate(1439.8 723.2) scale(0.93 1)" font-size="62" text-anchor="middle" fill="#171717">560</text>
<text transform="translate(1646.6 723.2) scale(0.93 1)" font-size="62" text-anchor="middle" fill="#171717">570</text>
<text transform="translate(1853.4 723.2) scale(0.93 1)" font-size="62" text-anchor="middle" fill="#171717">580</text>
<text transform="translate(2060.2 723.2) scale(0.93 1)" font-size="62" text-anchor="middle" fill="#171717">590</text>
<text transform="translate(2267.0 723.2) scale(0.93 1)" font-size="62" text-anchor="middle" fill="#171717">600</text>
<text transform="translate(178.5 572.3) scale(0.93 1)" font-size="62" text-anchor="end" fill="#171717">0</text>
<text transform="translate(178.5 324.8) scale(0.93 1)" font-size="62" text-anchor="end" fill="#171717">5</text>
<text transform="translate(178.5 77.3) scale(0.93 1)" font-size="62" text-anchor="end" fill="#171717">10</text>
<text transform="translate(1234.5 801.7) scale(1.011 1)" font-size="64.5" text-anchor="middle" fill="#171717">Time [sec]</text>
<text transform="translate(91.1 352.0) rotate(-90) scale(1.011 1)" font-size="64.5" text-anchor="middle" fill="#171717">Power [kW]</text>
<text transform="translate(199.0 1565.7) scale(0.93 1)" font-size="62" text-anchor="middle" fill="#171717">500</text>
<text transform="translate(405.8 1565.7) scale(0.93 1)" font-size="62" text-anchor="middle" fill="#171717">510</text>
<text transform="translate(612.6 1565.7) scale(0.93 1)" font-size="62" text-anchor="middle" fill="#171717">520</text>
<text transform="translate(819.4 1565.7) scale(0.93 1)" font-size="62" text-anchor="middle" fill="#171717">530</text>
<text transform="translate(1026.2 1565.7) scale(0.93 1)" font-size="62" text-anchor="middle" fill="#171717">540</text>
<text transform="translate(1233.0 1565.7) scale(0.93 1)" font-size="62" text-anchor="middle" fill="#171717">550</text>
<text transform="translate(1439.8 1565.7) scale(0.93 1)" font-size="62" text-anchor="middle" fill="#171717">560</text>
<text transform="translate(1646.6 1565.7) scale(0.93 1)" font-size="62" text-anchor="middle" fill="#171717">570</text>
<text transform="translate(1853.4 1565.7) scale(0.93 1)" font-size="62" text-anchor="middle" fill="#171717">580</text>
<text transform="translate(2060.2 1565.7) scale(0.93 1)" font-size="62" text-anchor="middle" fill="#171717">590</text>
<text transform="translate(2267.0 1565.7) scale(0.93 1)" font-size="62" text-anchor="middle" fill="#171717">600</text>
<text transform="translate(178.5 1513.8) scale(0.93 1)" font-size="62" text-anchor="end" fill="#171717">0</text>
<text transform="translate(178.5 1365.7) scale(0.93 1)" font-size="62" text-anchor="end" fill="#171717">0.5</text>
<text transform="translate(178.5 1217.5) scale(0.93 1)" font-size="62" text-anchor="end" fill="#171717">1</text>
<text transform="translate(178.5 1069.4) scale(0.93 1)" font-size="62" text-anchor="end" fill="#171717">1.5</text>
<text transform="translate(178.5 921.3) scale(0.93 1)" font-size="62" text-anchor="end" fill="#171717">2</text>
<text transform="translate(1234.5 1644.2) scale(1.011 1)" font-size="64.5" text-anchor="middle" fill="#171717">Time [sec]</text>
<text transform="translate(73.7 1195.2) rotate(-90) scale(1.011 1)" font-size="64.5" text-anchor="middle" fill="#171717">Power [kW]</text>
<rect x="221.5" y="81.5" width="818.5" height="68.5" fill="#fff" stroke="#171717" stroke-width="5.5"/>
<path d="M232.0 115H321.5" stroke="#ff0000" stroke-width="6.2"/>
<text transform="translate(327.5 136.6) scale(0.955 1)" font-size="56.2" text-anchor="start" fill="#000">150</text>
<path d="M436.6 115H526.1" stroke="#00ff00" stroke-width="6.2" stroke-dasharray="17.5 17.8"/>
<text transform="translate(532.1 136.6) scale(0.955 1)" font-size="56.2" text-anchor="start" fill="#000">200</text>
<path d="M641.2 115H730.7" stroke="#000000" stroke-width="6.2" stroke-dasharray="17.5 17.8"/>
<text transform="translate(736.7 136.6) scale(0.955 1)" font-size="56.2" text-anchor="start" fill="#000">250</text>
<path d="M845.8 115H935.3" stroke="#0000ff" stroke-width="6.2" stroke-dasharray="17.5 17.8"/>
<text transform="translate(941.3 136.6) scale(0.955 1)" font-size="56.2" text-anchor="start" fill="#000">300</text>
<rect x="221.5" y="924.5" width="1299.0" height="130.5" fill="#fff" stroke="#171717" stroke-width="5.5"/>
<path d="M232.0 957.2H321.5" stroke="#ff0000" stroke-width="3"/>
<circle cx="275.5" cy="1021" r="13" fill="none" stroke="#ff0000" stroke-width="2.8"/>
<text transform="translate(326.3 978.3) scale(0.955 1)" font-size="56.2" text-anchor="start" fill="#000">2ND 150</text>
<text transform="translate(326.3 1040.8) scale(0.955 1)" font-size="56.2" text-anchor="start" fill="#000">3ND 150</text>
<path d="M556.8 957.2H646.3" stroke="#00ff00" stroke-width="3"/>
<circle cx="600.3" cy="1021" r="13" fill="none" stroke="#00ff00" stroke-width="2.8"/>
<text transform="translate(651.1 978.3) scale(0.955 1)" font-size="56.2" text-anchor="start" fill="#000">2ND 200</text>
<text transform="translate(651.1 1040.8) scale(0.955 1)" font-size="56.2" text-anchor="start" fill="#000">3ND 200</text>
<path d="M881.6 957.2H971.1" stroke="#000000" stroke-width="3"/>
<circle cx="925.1" cy="1021" r="13" fill="none" stroke="#000000" stroke-width="2.8"/>
<text transform="translate(975.9 978.3) scale(0.955 1)" font-size="56.2" text-anchor="start" fill="#000">2ND 250</text>
<text transform="translate(975.9 1040.8) scale(0.955 1)" font-size="56.2" text-anchor="start" fill="#000">3ND 250</text>
<path d="M1206.4 957.2H1295.9" stroke="#0000ff" stroke-width="3"/>
<circle cx="1249.9" cy="1021" r="13" fill="none" stroke="#0000ff" stroke-width="2.8"/>
<text transform="translate(1300.7 978.3) scale(0.955 1)" font-size="56.2" text-anchor="start" fill="#000">2ND 300</text>
<text transform="translate(1300.7 1040.8) scale(0.955 1)" font-size="56.2" text-anchor="start" fill="#000">3ND 300</text>
</g>
</svg>
</body></html>
